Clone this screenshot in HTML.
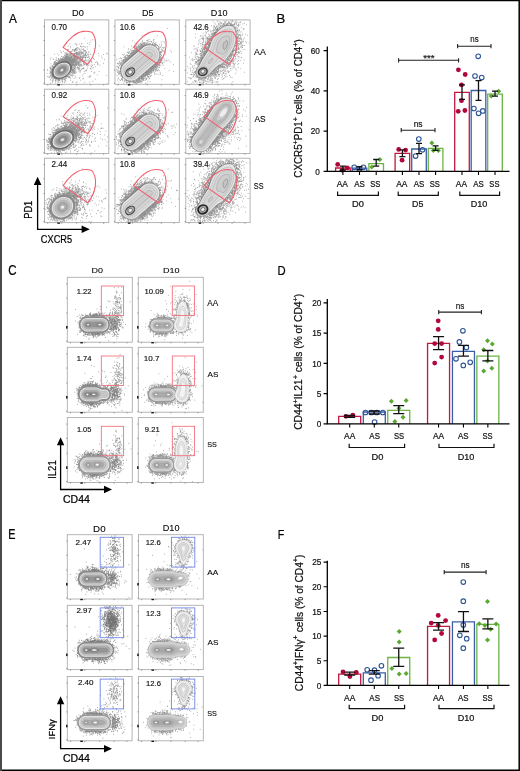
<!DOCTYPE html><html><head><meta charset="utf-8"><style>html,body{margin:0;padding:0;background:#fff;overflow:hidden}svg{display:block;will-change:transform}text{font-family:"Liberation Sans",sans-serif}</style></head><body><svg width="520" height="771" viewBox="0 0 520 771" font-family="Liberation Sans, sans-serif"><rect x="0" y="0" width="520" height="771" fill="#fff"/><text transform="translate(8.90 22.90) scale(0.8910 1)" font-size="13.33" fill="#000" stroke="#000" stroke-width="0.22">A</text><text transform="translate(276.45 23.20) scale(1.0144 1)" font-size="12.90" fill="#000" stroke="#000" stroke-width="0.22">B</text><text transform="translate(8.33 275.16) scale(0.8329 1)" font-size="13.80" fill="#000" stroke="#000" stroke-width="0.22">C</text><text transform="translate(277.60 275.20) scale(0.8931 1)" font-size="12.61" fill="#000" stroke="#000" stroke-width="0.22">D</text><text transform="translate(8.33 539.00) scale(0.7545 1)" font-size="14.35" fill="#000" stroke="#000" stroke-width="0.22">E</text><text transform="translate(277.65 538.60) scale(0.8136 1)" font-size="13.04" fill="#000" stroke="#000" stroke-width="0.22">F</text><g><path transform="translate(44.50 19.90) scale(.1)" d="M395 182h8m74 16h8m-268 34h8m85 5h8m106-2h8m19-9h8m2-17h8m-238 54h8m10-22h8m0 23h8m-7 15h8m37-39h8m6 11h8m-5-2h8m-7 27h8m-5 3h8m10-38h8m6 22h8m-7 0h8m1-23h8m-7 29h8m-5-29h8m-5 29h8m7-3h8m3 3h8m1 4h8m10-4h8m14-21h8m92 12h8m-404 48h8m27 6h8m34-19h8m-7 22h8m-2-21h8m15 19h8m-7 0h8m3-1h8m-3-14h8m-5 2h8m-7-4h8m3-1h8m-7 18h8m-7-9h8m-5 11h8m-7-12h8m-6-7h8m-8 2h8m-4-6h8m-5 15h8m-8-17h8m-7 1h8m-7 0h8m-8-5h8m-7 10h8m-4 12h8m-4-24h8m-6 21h8m-7-13h8m-7-5h8m-3 10h8m2 20h8m-8-37h8m1 12h8m-6 17h8m-6-20h8m0 13h8m-2 12h8m-7-24h8m6 4h8m-3 11h8m-5-15h8m-5 1h8m-5 20h8m-4-7h8m-6 3h8m-3 6h8m-8-7h8m-7-3h8m11-14h8m9 27h8m44-30h8m-402 55h8m22-3h8m4 13h8m14-31h8m-6 7h8m25 27h8m-5-2h8m-7-24h8m-6 7h8m-4 6h8m-6-14h8m-7 26h8m-3-13h8m-7 13h8m-8-8h8m-6-15h8m-7 23h8m-6-8h8m-7-6h8m-7 11h8m-6-7h8m-6 3h8m-5-6h8m-7 13h8m-7-20h8m-2 10h8m-3-7h8m-6 14h8m-8 2h8m-7 4h8m-3-29h8m-8 11h8m-6-12h8m-7 9h8m-5 3h8m-7 12h8m-7 7h8m-8-14h8m-7-3h8m-7 11h8m-6-32h8m-5 17h8m-6-4h8m-7 12h8m-7 1h8m-6-11h8m-2 14h8m-3-11h8m-7 20h8m-7-4h8m-6-12h8m-8 14h8m-7-15h8m-5 12h8m-8 1h8m-7-3h8m-6 1h8m-5-6h8m-7-8h8m-8-4h8m-7 12h8m-8-9h8m-5-2h8m-6 19h8m-5-20h8m-7 22h8m-8-27h8m-7 28h8m-7-27h8m-8 28h8m-4-14h8m-7-13h8m-8-5h8m-6 12h8m-7 9h8m-7-25h8m-8 25h8m-7-11h8m-8 6h8m-7-12h8m-7-3h8m-5 13h8m-6 5h8m-8-19h8m-5 7h8m-8 11h8m-8-17h8m-7 18h8m-7 2h8m-8 6h8m-6-16h8m-6-5h8m-6 10h8m-3-6h8m-7 11h8m-8-24h8m-8 32h8m-7-14h8m-7-12h8m-5-7h8m-8 3h8m-7 13h8m-4 5h8m-6-19h8m-6 32h8m-5-20h8m-8-7h8m-7-10h8m-8 5h8m-5 19h8m-4-12h8m-7-9h8m-5 35h8m-8-21h8m-7-4h8m-7-5h8m-5 4h8m-3 16h8m-7-17h8m-8-10h8m-6 34h8m-6-18h8m-2 17h8m-4-2h8m-5 7h8m-8 0h8m-7-16h8m-7 10h8m-7-21h8m-8 0h8m-5 13h8m-7 4h8m-6-10h8m-5-18h8m-7 4h8m-5 29h8m-8-29h8m-1 16h8m-2 12h8m-5-8h8m-7 4h8m-7-22h8m14 17h8m-6 4h8m31-20h8m29 7h8m42 11h8m22-13h8m2 8h8m-577 52h8m-3-15h8m13 14h8m0 2h8m12 5h8m-6-24h8m-2 15h8m10-3h8m-7 7h8m-8-8h8m-7 11h8m12-16h8m-6 7h8m-8 2h8m-8 2h8m-7 3h8m-5 2h8m-4-5h8m-6-24h8m-8-3h8m-7 34h8m-6-4h8m-8-8h8m-7-3h8m-7 15h8m-7-9h8m-6 0h8m-8 4h8m-6-5h8m-8 9h8m-6-17h8m-6 9h8m-7 7h8m-7 2h8m-7-30h8m-8 9h8m-6 14h8m-5-22h8m-7 4h8m-7 24h8m-7-5h8m-8-15h8m-6 18h8m-8-6h8m-8-13h8m-6 13h8m-7 9h8m-7-12h8m-7 10h8m-8-5h8m-7 4h8m-8-31h8m-8 20h8m-6-12h8m-7 10h8m-8-12h8m-8-1h8m-7-5h8m-8 26h8m-7-20h8m-8 14h8m-8 7h8m-7 4h8m-8-7h8m-8 1h8m-7-12h8m-8 6h8m-7 9h8m-8 5h8m-8-25h8m-8 18h8m-7 1h8m-7 2h8m-7-3h8m-7 3h8m-8-29h8m-8 18h8m-6-6h8m-8 18h8m-8-7h8m-8-10h8m-7-3h8m-7-5h8m-8 5h8m-8-9h8m-8 25h8m-8-22h8m-7 30h8m-8-37h8m-6 14h8m-8-16h8m-5 12h8m-8-2h8m-8 7h8m-8-6h8m-7 28h8m-7-25h8m-8-2h8m-7 21h8m-8-20h8m-8 18h8m-7-5h8m-8-20h8m-7-2h8m-8 28h8m-8-12h8m-8 5h8m-7-9h8m-8 2h8m-8 12h8m-8 8h8m-6 0h8m-8-13h8m-7 5h8m-8 5h8m-7 3h8m-8-9h8m-8 7h8m-7-36h8m-8 39h8m-6-8h8m-8-24h8m-7 22h8m-7 8h8m-8-21h8m-8 8h8m-7 6h8m-8 7h8m-7 2h8m-7-13h8m-8-2h8m-8-13h8m-7 2h8m-8 4h8m-7 14h8m-8-11h8m-7 0h8m-8-3h8m-7 13h8m-7-2h8m-6-7h8m-8 3h8m-8-15h8m-8 11h8m-8 18h8m-7-8h8m-8 5h8m-7-7h8m-7-3h8m-8-3h8m-8-2h8m-7 2h8m-6 15h8m-8-5h8m-7-26h8m-8 13h8m-7 16h8m-8-13h8m-7 0h8m-7-21h8m-7 38h8m-7-16h8m-8-21h8m-7 11h8m-8 12h8m-7 0h8m-8 4h8m-8-23h8m-6 10h8m-7-9h8m-8 24h8m-7-11h8m-7 5h8m-6-19h8m-7 29h8m-7-16h8m-7 10h8m-8 4h8m-8-6h8m-7 7h8m-8-1h8m-8-2h8m-7-3h8m-8-28h8m-8 1h8m-4 34h8m-7-23h8m-5 25h8m-8-10h8m-8-6h8m-7 14h8m-8-31h8m-7 25h8m-6-5h8m-8-8h8m-7-14h8m-7 6h8m-7 28h8m-7-26h8m-8 27h8m-6 1h8m-8-20h8m-8-18h8m-7 8h8m-7 9h8m-7 10h8m-8-14h8m-6-6h8m-8 30h8m-8-4h8m-8-24h8m-7 28h8m-7-12h8m-7 5h8m-7-3h8m-8-19h8m-7 7h8m-8 23h8m-6-14h8m-8-13h8m-8 25h8m-7-32h8m-7-2h8m-7 4h8m-7 25h8m-8-21h8m-7 7h8m-7-13h8m-8 17h8m-7-16h8m-7 32h8m-5-23h8m-7 8h8m-7 16h8m-8-12h8m-7 3h8m-8 9h8m-7-37h8m-5 21h8m-8 3h8m-5-9h8m-8 9h8m-8-21h8m-7 0h8m-7 21h8m-6-1h8m-7-23h8m-6 21h8m-8-9h8m-6 21h8m-6-25h8m-8 5h8m-4-1h8m-7 1h8m-5 14h8m-5-21h8m-7 15h8m-7 17h8m-7-21h8m-7 18h8m-7-20h8m-7 9h8m-7-22h8m-8 10h8m-7 17h8m-7-24h8m-5-1h8m-7 30h8m-7 2h8m-5-20h8m-7 5h8m-7 1h8m-6-19h8m-7 6h8m-6 28h8m-8-1h8m-7 1h8m-7-18h8m-8-2h8m-6 14h8m-7-1h8m-8-8h8m-5-18h8m-8-1h8m-7 11h8m-5-4h8m-5 5h8m-5-12h8m-1 12h8m-4 0h8m-7-16h8m-7 17h8m-7 5h8m-6 12h8m-8-20h8m2-12h8m-5 13h8m-1 0h8m-3 24h8m-6-28h8m-4 2h8m-5-5h8m-1 16h8m-6 5h8m26-8h8m-5 7h8m0 9h8m37-37h8m21 2h8m-5 19h8m15 16h8m-511 41h8m-7-15h8m-6 9h8m-7-11h8m-7 6h8m-7-10h8m-6 1h8m-3-2h8m-7 21h8m-6-2h8m-6-9h8m-8 3h8m-7-1h8m-6 9h8m-6-10h8m-7-22h8m-6 25h8m-7 3h8m-8 4h8m-6 2h8m-8-28h8m-6 18h8m-8 1h8m-7 0h8m-4 4h8m-7 3h8m-8-31h8m-7 29h8m-7-13h8m-6-2h8m-7 11h8m-8-5h8m-5-5h8m-8 5h8m-7 1h8m-6-13h8m-8 0h8m-7-10h8m-6 5h8m-8 10h8m-8-11h8m-7 11h8m-8-19h8m-6 13h8m-8-8h8m-8 20h8m-4-9h8m-7-10h8m-7 12h8m-7-15h8m-8 8h8m-7 1h8m-7 3h8m-6-5h8m-8 2h8m-8-4h8m-8 14h8m-6-19h8m-7 5h8m-7-2h8m-6-4h8m-8 15h8m-6-6h8m-8-9h8m-5 14h8m-7-13h8m-7 13h8m-7-15h8m-7 7h8m-8 8h8m-7-3h8m-7-5h8m-8-2h8m-5-5h8m-7 6h8m-7 0h8m-7 2h8m-7 3h8m-6-2h8m-7-10h8m-4 3h8m-7 1h8m-7 7h8m-8-9h8m-8 5h8m-7 0h8m-7 0h8m-8-7h8m-6 12h8m-7-6h8m-7 1h8m-6-3h8m-7-1h8m-8 2h8m-6 5h8m-6-7h8m-7 7h8m-7-10h8m-7 4h8m-8 4h8m-6 3h8m-7-10h8m-6 0h8m-6 3h8m-7 2h8m-8 1h8m-7-3h8m-7 8h8m-8-3h8m-7-3h8m-6 6h8m-5-5h8m-7 5h8m-7-5h8m-7 7h8m-7-14h8m-7 1h8m-7 1h8m-7 11h8m-7 1h8m-7 1h8m-8-14h8m-6-1h8m-7 11h8m-7-9h8m-7 7h8m-7-3h8m-7 7h8m-7-12h8m-7 12h8m-7 5h8m-7 1h8m-8-8h8m-6-10h8m-7 12h8m-8-2h8m-8 3h8m-8-10h8m-7 10h8m-7-9h8m-8-1h8m-8 8h8m-7 0h8m-8-12h8m-8 4h8m-7 10h8m-8 8h8m-8-6h8m-7-1h8m-8-15h8m-7 0h8m-8 21h8m-7 1h8m-7-17h8m-8 9h8m-7 1h8m-7 4h8m-8-14h8m-8 15h8m-7 0h8m-8-17h8m-8 18h8m-7-1h8m-8 1h8m-8-12h8m-7 2h8m-8 15h8m-8-4h8m-8-18h8m-7 16h8m-8-1h8m-8 3h8m-8-18h8m-7 12h8m-8 1h8m-8-3h8m-7-10h8m-8 23h8m-8-7h8m-7 3h8m-7 2h8m-8-11h8m-8 10h8m-8 7h8m-8-29h8m-7 23h8m-8-7h8m-7 5h8m-8-17h8m-6 31h8m-8-9h8m-8-27h8m-8 21h8m-8-3h8m-8-5h8m-7-6h8m-7 5h8m-8 4h8m-8 12h8m-7-13h8m-8 21h8m-8-24h8m-7-10h8m-8 13h8m-8 10h8m-8-25h8m-8 36h8m-7 0h8m-8-30h8m-8 32h8m-8-13h8m-8 4h8m-7-4h8m-8-7h8m-8 10h8m-6-20h8m-8-7h8m-8 31h8m-7-29h8m-8 26h8m-8-22h8m-6-1h8m-8 5h8m-7 8h8m-8-4h8m-8-13h8m-8 21h8m-8-10h8m-7-7h8m-8 15h8m-8 10h8m-6-13h8m-7 2h8m-8 7h8m-8-7h8m-8 7h8m-7 1h8m-7-22h8m-7 32h8m-8-35h8m-7 24h8m-8-17h8m-8 21h8m-8-17h8m-6 18h8m-8-30h8m-8-2h8m-8 4h8m-7 2h8m-7 8h8m-8-14h8m-8 19h8m-8-19h8m-7 20h8m-8 9h8m-7-14h8m-8-9h8m-8 13h8m-7-3h8m-8 13h8m-8-11h8m-7-16h8m-7 6h8m-8 6h8m-7-8h8m-8 23h8m-8-18h8m-6-8h8m-7 15h8m-7-8h8m-7-5h8m-8-2h8m-7 33h8m-8-21h8m-7 7h8m-7 8h8m-7-15h8m-8 14h8m-7-23h8m-8-6h8m-7 5h8m-7 28h8m-7-3h8m-8 0h8m-7-15h8m-7 13h8m-6 4h8m-6-33h8m-8 21h8m-7-5h8m-7 14h8m-6-4h8m-8-14h8m-7 22h8m-8-25h8m-7 25h8m-7-30h8m-7-2h8m-6 31h8m-6-15h8m-8-15h8m-5 26h8m-8-10h8m-7 10h8m-5-10h8m-8-8h8m-7 11h8m-7 9h8m-8-3h8m-8 9h8m-7-9h8m-8 2h8m-2-13h8m-6 3h8m-6-14h8m-7 21h8m-7-16h8m-6 12h8m-5-22h8m-8 16h8m-5-7h8m-8-1h8m-3-4h8m-8 0h8m-6 0h8m-7 17h8m-4-22h8m-3 17h8m-6-4h8m-6 3h8m-5-4h8m-8 8h8m-6-8h8m-7 18h8m-6-27h8m-6 31h8m-7-3h8m-3-18h8m-6-5h8m-5 9h8m-2-10h8m-4-5h8m-1 9h8m-2 20h8m-4 4h8m-3-18h8m-8-12h8m-1 19h8m1-17h8m-4-5h8m4 16h8m-3-8h8m-7 14h8m29 1h8m1-6h8m2 5h8m-8 11h8m50-1h8m-543 44h8m2-5h8m-8-1h8m-5-32h8m-1 22h8m0 14h8m-7-17h8m-8-1h8m-7 7h8m-5 3h8m-8 5h8m-7 6h8m-5-30h8m-7 23h8m-6-32h8m-7 33h8m-7-2h8m-8-2h8m-6-22h8m-8-6h8m-4 26h8m-7-27h8m-8 9h8m-7 15h8m-7-14h8m-8-1h8m-5-7h8m-4 5h8m-7-7h8m-8 2h8m-8-1h8m-5 11h8m-7-12h8m-4 0h8m-4 3h8m140 0h8m-6-3h8m-8 4h8m-4 6h8m-8-6h8m-8 2h8m-7-4h8m-8 3h8m-8 4h8m-6 11h8m-8-13h8m-7 28h8m-8 4h8m-7-20h8m-8-1h8m-7-6h8m-8-7h8m-7 3h8m-7 11h8m-7-12h8m-7 4h8m-8-3h8m-6-2h8m-8 3h8m-7 6h8m-8 6h8m-6 16h8m-7-4h8m-7-24h8m-8-2h8m-7 1h8m-8 4h8m-6 9h8m-7-13h8m-6 12h8m-8 0h8m-5-2h8m-5 17h8m-7-13h8m-7 3h8m-8-17h8m-5-2h8m-8 12h8m-6-13h8m-7 4h8m-8 30h8m-7-34h8m-7 8h8m-8-13h8m-7 11h8m-6-4h8m-5 8h8m-8-7h8m-5 12h8m-8-19h8m-7 36h8m-5-4h8m-4-29h8m-7-4h8m-5 6h8m-6 8h8m-8-2h8m-6-9h8m-6 35h8m-7-4h8m-7-25h8m-3-8h8m-7 18h8m-8-19h8m-7 22h8m-7-6h8m-7 10h8m-8-16h8m-1 3h8m-8-10h8m-5 3h8m-7-4h8m-3 15h8m-7-8h8m-6 16h8m4-12h8m0-2h8m-8-11h8m-3 9h8m-6-9h8m4 7h8m-2 1h8m-5-6h8m-7 8h8m-7 5h8m2 5h8m3-8h8m11 7h8m-1 10h8m-4-25h8m-3 12h8m-4 19h8m9-27h8m2 20h8m11-20h8m-2-5h8m10 10h8m-530 55h8m-8-12h8m15 15h8m-5 8h8m-6-34h8m-8 6h8m-6-7h8m-7 10h8m-6 13h8m-8 9h8m-7-26h8m-7 4h8m-5 18h8m-4-6h8m-8-15h8m-8 16h8m-7 1h8m-5-4h8m-7-18h8m-7 10h8m-8 1h8m-5-2h8m-8 5h8m-8-9h8m-8-6h8m-6-4h8m-7 4h8m-8 5h8m181 17h8m-7 3h8m-8 5h8m-7-6h8m-8-5h8m-6-4h8m-7-6h8m-8 2h8m-8 16h8m-7-11h8m-5-7h8m-8 13h8m-8-22h8m-3 13h8m-8 9h8m-8-3h8m-6-3h8m-5-17h8m-7 13h8m-8 19h8m-7-35h8m-8 10h8m-5 17h8m-7-21h8m-8 0h8m-8-3h8m-6 19h8m-4-2h8m-6-10h8m-7 23h8m-3-21h8m9-12h8m-4 10h8m-2-1h8m-7-8h8m-8-2h8m-6 34h8m-7-23h8m-7-3h8m-4 12h8m-5 3h8m-1 10h8m-5-9h8m-4-14h8m-4 3h8m0-7h8m-1 3h8m-6-8h8m-5 1h8m-3 8h8m-7 27h8m3-7h8m-2-4h8m-1 1h8m-6-10h8m0-16h8m20 6h8m-7-3h8m-2 8h8m-5 24h8m9-36h8m52 37h8m-528 17h8m21 5h8m-6-12h8m-8 12h8m-5 15h8m-7-26h8m-8 0h8m-5-6h8m-8 31h8m-6-27h8m-6 30h8m-7-33h8m-5 16h8m-7 8h8m-8-12h8m-7-3h8m-5 18h8m-7 0h8m167-1h8m-8 0h8m-6-8h8m-4 12h8m-8-16h8m0-9h8m-8-3h8m-7 28h8m-8 3h8m-3-30h8m-5 7h8m-7 15h8m-5-15h8m-5-13h8m-8 19h8m-7 15h8m-7 1h8m-7-34h8m-7 2h8m-4-2h8m-7 9h8m-6-2h8m-4 9h8m-8-16h8m-7 0h8m-8 8h8m-4-9h8m-8 5h8m-5 11h8m-7-6h8m6-7h8m27 1h8m22 19h8m10-8h8m44 23h8m29-26h8m-3-10h8m-3 8h8m17 20h8m86 5h8m-598 9h8m-4 5h8m4 7h8m-7-5h8m0-3h8m-4 22h8m-1-22h8m-4 8h8m-5-16h8m-8 28h8m-5-18h8m-7 6h8m-6-10h8m-1 20h8m-5 7h8m-4-15h8m-7 0h8m-7 7h8m-1-1h8m-6 4h8m-5-2h8m-5 2h8m1 3h8m-5 2h8m3 6h8m-8-3h8m-6 3h8m-5-3h8m-2-1h8m0 2h8m10-2h8m-5 4h8m-5-1h8m-5-3h8m-7 2h8m0-9h8m-1 7h8m-8-1h8m-6-6h8m-4 8h8m-4-5h8m-5-8h8m-7-3h8m0-5h8m-6 10h8m-2-17h8m-5-2h8m-7 3h8m0-8h8m-7 4h8m-7 7h8m-6-4h8m-7 4h8m-2 1h8m-7 0h8m-7-5h8m-2 9h8m-3 11h8m7-18h8m11 14h8m1-23h8m0 14h8m28 10h8m-3-10h8m19-13h8m-7 28h8m-2-3h8m39-16h8m8-5h8m-5 9h8m1-13h8m36 31h8m-459 46h8m-5-5h8m-5-34h8m5 7h8m-7 20h8m-5-13h8m-6-14h8m3 8h8m9-4h8m-7-2h8m-8 28h8m-6-29h8m-8 15h8m2-13h8m1 27h8m-5-17h8m-4 9h8m-6-21h8m-8 5h8m-4-2h8m-5-4h8m-7 3h8m-5 4h8m-4 15h8m10-19h8m-4 15h8m-6 2h8m-7-4h8m-8-15h8m8 21h8m-4 3h8m-5-18h8m-3-3h8m-2 10h8m40-10h8m8 22h8m-3-10h8m24 8h8m2-1h8m26-20h8m29 21h8m48 0h8m22-10h8m135 22h8" stroke="#333" stroke-width="8" opacity="0.55"/><path transform="translate(44.50 19.90) scale(.1)" d="M158 593l-23 0l-20-4l-17-8l-15-13l-9-18l-3-18l3-22l7-20l12-20l17-20l20-16l22-12l23-8l23-3l22 1l20 6l12 7l10 10l7 10l5 13l2 12l-1 15l-3 15l-6 15l-19 27l-25 24l-32 18z" fill="#707070" fill-rule="evenodd"/><path transform="translate(44.50 19.90) scale(.1)" d="M162 575l-17 1l-17-3l-16-7l-12-11l-6-13l-3-14l1-18l6-18l11-17l13-15l18-14l18-9l17-6l20-3l17 1l16 5l17 13l9 18l2 23l-6 22l-17 25l-21 19l-24 14z" fill="#eeeeee" fill-rule="evenodd"/><path transform="translate(44.50 19.90) scale(.1)" d="M162 568l-14 1l-16-3l-13-6l-11-10l-6-12l-3-16l2-14l5-16l10-14l12-14l12-10l18-10l17-6l17-3l16 1l14 5l16 12l8 17l1 20l-6 20l-12 20l-19 18l-22 13z" fill="#b6b6b6" fill-rule="evenodd"/><path transform="translate(44.50 19.90) scale(.1)" d="M165 553l-13 0l-12-2l-10-6l-8-7l-4-10l-2-10l2-13l4-10l16-21l22-16l12-5l16-2l12 1l10 3l11 7l8 13l2 15l-5 18l-9 14l-16 16l-19 10z" fill="#9e9e9e" fill-rule="evenodd"/><path transform="translate(44.50 19.90) scale(.1)" d="M165 538l-17-3l-10-9l-4-14l4-17l13-15l17-10l17-4l15 3l8 6l5 10l0 10l-4 13l-9 12l-10 9l-12 6z" fill="#888888" fill-rule="evenodd"/><path transform="translate(44.50 19.90) scale(.1)" d="M170 523l-10-1l-7-4l-3-8l2-10l6-8l10-8l10-3l10 1l6 6l2 4l-1 13l-10 11z" fill="#9e9e9e" fill-rule="evenodd"/><path transform="translate(44.50 19.90) scale(.1)" d="M172 513l-4 0l-6-3l-1-5l1-5l4-5l6-3l10 0l4 6l-1 5l-5 7z" fill="#eeeeee" fill-rule="evenodd"/></g><rect x="44.50" y="19.90" width="64.30" height="64.40" fill="none" stroke="#adadad" stroke-width="0.9"/><path d="M44.50 26.34h-1.2M44.50 40.51h-1.2M44.50 55.32h-1.2M44.50 70.13h-1.2M44.50 83.33h-1.2M47.72 84.30v1.2M61.86 84.30v1.2M76.65 84.30v1.2M90.80 84.30v1.2M103.66 84.30v1.2" stroke="#666" stroke-width="0.6"/><rect x="57.36" y="84.20" width="2.6" height="1.3" fill="#111"/><path transform="translate(44.50 19.90)" d="M18.6 27.5C23 20.5 31 12.5 38.6 11.5C42 11.1 45 11.5 47.4 12.3C53.5 20 52 34 43.2 44.6Z" fill="none" stroke="#f0606e" stroke-width="1.1"/><text transform="translate(51.48 29.61) scale(0.9186 1)" font-size="8.73" fill="#111" stroke="#111" stroke-width="0.15">0.70</text><g><path transform="translate(115.00 19.90) scale(.1)" d="M520 87h8m-261 71h8m144 0h8m-89 37h8m40 1h8m-223 13h8m16 22h8m17-8h8m8 11h8m6 4h8m-5-5h8m3-1h8m-3-23h8m-8 9h8m-7 19h8m-4-13h8m-4 15h8m-4-7h8m-6 5h8m-4-5h8m-7 2h8m-7-8h8m2 5h8m0-3h8m-8 9h8m-5-30h8m1 28h8m-8-27h8m-5 21h8m-6-16h8m-5-12h8m-3 29h8m-3 8h8m-7-22h8m2 20h8m-3-21h8m-2 5h8m-7-1h8m1 16h8m-6-1h8m-2-23h8m-5-10h8m-8 27h8m-2-7h8m-6 16h8m5-1h8m-5-8h8m44-8h8m12-4h8m6 9h8m-414 45h8m69-8h8m20-5h8m-6 22h8m-7-7h8m-2-4h8m-8 3h8m-1-4h8m-4-5h8m-7 14h8m-5-33h8m-6 5h8m-3 26h8m-6-2h8m-7-7h8m-3 0h8m-7 9h8m-8-18h8m-7 16h8m-6-21h8m-3 25h8m-6-13h8m-8 3h8m-6-17h8m-7 22h8m-7-11h8m-6 10h8m-8-2h8m-4 2h8m-8 9h8m-7-29h8m-6 20h8m-8-14h8m-7 15h8m-7-15h8m-8-6h8m-6 1h8m-7 28h8m-8-7h8m-8-20h8m-7 19h8m-6-12h8m-8 13h8m-7-28h8m-7 27h8m-8-23h8m-8 3h8m-8 6h8m-7 16h8m-5-21h8m-8 1h8m-6 22h8m-8-9h8m-7 13h8m-8-7h8m-7 2h8m-7-25h8m-8 29h8m-7-19h8m-8 10h8m-8 6h8m-7-3h8m-7-10h8m-8 8h8m-8-4h8m-8 0h8m-7-9h8m-6 0h8m-8 11h8m-8-19h8m-8 8h8m-8 5h8m-2-5h8m-7-4h8m-8 15h8m-7-10h8m-7-17h8m-7 20h8m-8-6h8m-8-15h8m-7 10h8m-8 14h8m-5-19h8m-6 16h8m-8-11h8m1 6h8m-7-8h8m-6-2h8m-6 0h8m-8 3h8m-5-9h8m-4 10h8m1-2h8m-1-1h8m-2-5h8m0 0h8m-4 1h8m4 7h8m1 1h8m-8-4h8m-2 1h8m1 0h8m-8 3h8m-6 4h8m-6-4h8m-6-9h8m-3 16h8m-5-8h8m-7-3h8m-7 6h8m-5 10h8m-6-17h8m-6 13h8m-6-13h8m2 10h8m-8 3h8m-6-5h8m3 10h8m-8 2h8m-7 7h8m-2-25h8m-4 30h8m-3-2h8m0-9h8m-6-11h8m-7-15h8m3 36h8m6 2h8m-6 0h8m-367 20h8m-5-9h8m1 28h8m3-25h8m-4 15h8m-4 8h8m-2-13h8m-6-21h8m-1 24h8m-8 4h8m-5 9h8m-7-13h8m-4 10h8m-6-11h8m-7 13h8m-5-18h8m-8 14h8m-6 0h8m-5-4h8m-8-13h8m-7 22h8m-8-10h8m-5-18h8m-6 19h8m-7 9h8m-8-10h8m-8 6h8m-6-10h8m-5-23h8m-7 24h8m-6-4h8m-8 3h8m-7 0h8m-7-3h8m-7-18h8m-8 34h8m-7-38h8m-8 32h8m-8-4h8m-7-19h8m-7-6h8m-8 35h8m-7-32h8m-8 28h8m-8-24h8m-7 24h8m-6-16h8m-7 6h8m-7 1h8m-8 9h8m-7-4h8m-8-1h8m-8-16h8m-7 9h8m-8-3h8m-7 15h8m-8-11h8m-7 7h8m-8 7h8m-8-1h8m-8-2h8m-8-24h8m-8 26h8m-8-10h8m-7-13h8m-8 25h8m-7-29h8m-7 4h8m-7 21h8m-7 0h8m-8-8h8m-6-7h8m-8 12h8m-7-12h8m-6 11h8m-8-6h8m-8 2h8m-7-6h8m-7 9h8m-8-12h8m-7 13h8m-7-26h8m-8 9h8m-6-1h8m-7-9h8m-3-2h8m-8 17h8m-7 3h8m-8-14h8m-7 13h8m-7-8h8m-8 5h8m-7-4h8m-8 2h8m-7 0h8m-7-3h8m-8 3h8m-7-12h8m-8-1h8m-7 6h8m-8-1h8m-3 1h8m-6-5h8m-7 1h8m-8-3h8m159 1h8m-7 10h8m-5-8h8m-4 14h8m-3-8h8m2 29h8m-3-4h8m-6-17h8m-3-6h8m-3 10h8m-5 8h8m-5-6h8m-4-24h8m-3 30h8m-5 2h8m-2 7h8m47-11h8m-481 38h8m-4 7h8m3-10h8m12 8h8m-2-28h8m-7 34h8m-8-5h8m-3-26h8m-7 26h8m-1-24h8m-6 31h8m-8-23h8m-6-13h8m-6 1h8m-3 31h8m-7 1h8m-6 0h8m-7-14h8m-8 10h8m-5-16h8m-6-3h8m-7 11h8m-6-6h8m-7-2h8m-5 7h8m-6 9h8m-8-12h8m-7-15h8m-6 10h8m-8 20h8m-8 1h8m-7-16h8m-8-11h8m-8 21h8m-7 2h8m-7-10h8m-6 15h8m-7-6h8m-8-26h8m-6 34h8m-8-8h8m-7 2h8m-8-3h8m-7-26h8m-7 12h8m-8 14h8m-6-10h8m-8-18h8m-7 17h8m-8 11h8m-8-22h8m-8 16h8m-7-12h8m-8 16h8m-8-6h8m-7-9h8m-8-12h8m-8 34h8m-7-17h8m-8 9h8m-8-16h8m-8 13h8m-7 5h8m-8-22h8m-7 29h8m-8 0h8m-8-27h8m-7-6h8m-7 15h8m-8-17h8m-7 32h8m-8-9h8m-8 11h8m-7-18h8m-7-3h8m-8 2h8m-7 19h8m-8-10h8m-7-22h8m-8 14h8m-7 6h8m-7 5h8m-7-3h8m-7-3h8m-8 6h8m-7-27h8m-8 8h8m-6 7h8m-6-3h8m-8 0h8m-7-1h8m-7 2h8m-7-3h8m-8 2h8m-7-2h8m-7 5h8m-8 0h8m-7 1h8m-8 0h8m-7-3h8m-8-10h8m-7 13h8m-7-17h8m-8 8h8m-8-7h8m-8 9h8m-8 1h8m-8-4h8m-7 6h8m-8-4h8m-7-3h8m-8-6h8m-8 12h8m-7-2h8m-5-9h8m-7 5h8m-7 1h8m-7 2h8m-7-2h8m-7-5h8m-6 1h8m-4-3h8m219 7h8m-6 14h8m-7-15h8m-8-6h8m-7 22h8m-8 5h8m-5-21h8m-6 25h8m-6-31h8m-5 35h8m-8-30h8m29-3h8m-6 19h8m51-20h8m-556 78h8m15-11h8m7-7h8m-2 7h8m-3 0h8m7-11h8m-7 22h8m1-6h8m-6-19h8m-6 20h8m-5-24h8m-7 25h8m-7-31h8m-8 15h8m-7 10h8m-7-4h8m-7-24h8m-7 8h8m-8 22h8m-7 0h8m-8-12h8m-6 15h8m-8 2h8m-6-8h8m-7 4h8m-4-7h8m-6-8h8m-6 16h8m-7 1h8m-7 4h8m-8-23h8m-8-1h8m-7 12h8m-7-25h8m-7 38h8m-8-8h8m-6 5h8m-8 0h8m-7-16h8m-7 15h8m-8-6h8m-7-9h8m-7 15h8m-7-32h8m-7 30h8m-8-2h8m-8-6h8m-8 3h8m-6-28h8m-8 14h8m-8 4h8m-7 19h8m-8-34h8m-7 20h8m-8 2h8m-8 14h8m-8-39h8m-7 29h8m-8-4h8m-6-22h8m-6 25h8m-7 3h8m-8 1h8m-6-12h8m-7-4h8m-7 8h8m-8 8h8m-8-2h8m-8-3h8m-7-12h8m-7-13h8m-7-2h8m-8 8h8m-8 4h8m-8-5h8m-8 10h8m-8 3h8m-7-6h8m-7 10h8m-8-4h8m-7 5h8m-8-25h8m-8 11h8m-8 7h8m-8 4h8m-8-20h8m-7 6h8m-8 10h8m-8-11h8m-8 12h8m-7-3h8m-7-5h8m-8-4h8m-7 8h8m-8-6h8m-7-5h8m-8 7h8m-8-3h8m-7-8h8m-5 13h8m-7 4h8m-8-10h8m-7 5h8m-8 3h8m-8-15h8m-8 10h8m-5-5h8m-7 1h8m-8-3h8m-8 3h8m-8 4h8m-7-7h8m-7 0h8m-8-2h8m-7 1h8m-7-1h8m-6 2h8m-8 3h8m-8 0h8m-2-2h8m259 31h8m-7-4h8m-7 5h8m-6-18h8m-7 15h8m-7-29h8m-8 14h8m-7 15h8m-6-5h8m-6-20h8m-4 25h8m-8-23h8m-7 12h8m-8 5h8m-3-2h8m-5-4h8m0-8h8m-5 6h8m8 13h8m-482 45h8m-5-5h8m2 6h8m2-24h8m-7 12h8m-7 12h8m-1-14h8m-2 11h8m-6-28h8m-8 26h8m-3-2h8m-7-3h8m-7-14h8m-1 5h8m-8 12h8m-8-21h8m-7-6h8m-6 34h8m-6-5h8m-7-18h8m-8 9h8m-7-20h8m-5-4h8m-8 16h8m-8 16h8m-7-21h8m-7 10h8m-8 12h8m-7 5h8m-7-35h8m-8 24h8m-8 7h8m-7-30h8m-7 9h8m-5 0h8m-4 12h8m-8-3h8m-7 3h8m-7 3h8m-8 2h8m-7-30h8m-8 14h8m-7 2h8m-8-15h8m-8 14h8m-8-6h8m-6 6h8m-8 4h8m-7-14h8m-7 20h8m-8-14h8m-6 10h8m-7 0h8m-8-5h8m-8-7h8m-7 2h8m-7 3h8m-8-4h8m-8 6h8m-6-5h8m-8-1h8m-8 5h8m-7-3h8m-8-1h8m-5-7h8m-8 2h8m-5-3h8m-4 3h8m0-4h8m266 36h8m-4-5h8m-7 3h8m-4-3h8m-7 5h8m-6-6h8m-8-3h8m-5 4h8m-7 2h8m-6-3h8m-6-8h8m-7 2h8m-8-6h8m-7 9h8m-7-3h8m-7-7h8m-2-2h8m-8-11h8m-7 7h8m-7-7h8m-7 11h8m-8 6h8m-5 7h8m-6-1h8m-8-27h8m-5 4h8m-7 19h8m-6-16h8m-7 19h8m-6-1h8m-7-25h8m-8 13h8m-5 8h8m-4 3h8m-6-23h8m-8 6h8m-2 30h8m-2-7h8m-6-26h8m-7 21h8m3-5h8m3-13h8m7 2h8m-6-6h8m11-2h8m5 16h8m-540 49h8m-5-4h8m-2 4h8m-1 4h8m-8 7h8m-7-2h8m-8-35h8m2 16h8m-6 0h8m-5-17h8m-5 1h8m-6 3h8m-7 29h8m-5-30h8m-7 18h8m-6 10h8m-8-15h8m-5 3h8m-8-9h8m-7 9h8m-6 17h8m-6-11h8m-7-14h8m-8-3h8m-5 5h8m-6-14h8m-7 7h8m-6-2h8m-4 2h8m-8 1h8m270 30h8m-7 1h8m-7-2h8m-2-3h8m-8 5h8m-7-7h8m-8 2h8m-6 3h8m-4-10h8m-8-4h8m-7 8h8m-8 1h8m-6 5h8m-8-15h8m-8 5h8m-7 6h8m-7 2h8m-8-6h8m-8-1h8m-8-1h8m-6 6h8m-5-3h8m-7-7h8m-7 2h8m-8 1h8m-7-12h8m-7-1h8m-7 1h8m-8 2h8m-7 1h8m-7-1h8m-7 13h8m-7-7h8m-7-15h8m-7 24h8m-7-4h8m-7-20h8m-7 18h8m-8-1h8m-8 8h8m-8-9h8m-6-19h8m-8 30h8m-7-31h8m-8 23h8m-8-14h8m-8 12h8m-8 7h8m-6 3h8m-7 2h8m-8-2h8m-8-21h8m-7 18h8m-8-29h8m-8 28h8m-8-17h8m-7-6h8m-7-6h8m-8 22h8m-8-1h8m-8 3h8m-8 7h8m-7 1h8m-7-26h8m-8 0h8m-6-1h8m-7 14h8m-8-1h8m-7-6h8m-6-2h8m-6-2h8m-5 1h8m-8 15h8m-6-19h8m-6 3h8m-8 18h8m-7-17h8m-7 3h8m-8 19h8m-8-32h8m-2 11h8m-4 20h8m-7 8h8m-7-25h8m-4-11h8m-7 11h8m-8-2h8m-7 23h8m0-21h8m10-13h8m1 17h8m96-9h8m-579 43h8m-3 16h8m-6 6h8m-1-11h8m-4-13h8m-2 21h8m-7 7h8m-1-6h8m-5-29h8m-7 33h8m-5-29h8m-7 14h8m-6 17h8m-7-29h8m-8 2h8m-8 26h8m-7-36h8m-7 37h8m-5-29h8m246 28h8m-8-2h8m-7 1h8m-8 3h8m-6-1h8m-8-1h8m-7-2h8m-6 3h8m-8-4h8m-6 4h8m-6-4h8m-8-4h8m-6 9h8m-8-8h8m-5 1h8m-8 5h8m-8-4h8m-8-3h8m-7 7h8m-8-4h8m-8 6h8m-7-13h8m-8 2h8m-7 0h8m-8 8h8m-7-8h8m-7-7h8m-8 15h8m-8 2h8m-7-20h8m-8 0h8m-4 1h8m-8-2h8m-7 15h8m-4-4h8m-8 5h8m-7-22h8m-8 28h8m-8-10h8m-7-7h8m-8-12h8m-7 12h8m-6 4h8m-7-3h8m-8-16h8m-7 6h8m-8 14h8m-8-11h8m-7-8h8m-8-1h8m-8 0h8m-8-4h8m-7 28h8m-7-10h8m-8 10h8m-8 5h8m-8-34h8m-8-1h8m-7 32h8m-6-8h8m-7-9h8m-8-14h8m-7-2h8m-8 17h8m-6 12h8m-8-15h8m-8-1h8m-7 14h8m-8 2h8m-6 9h8m-8-30h8m-8 21h8m-7-7h8m-7-12h8m-8-9h8m-7 19h8m-6-16h8m-7 18h8m-7-16h8m-8-6h8m-6 19h8m-7-19h8m-8 6h8m-6 28h8m-8-21h8m-5 8h8m-8 6h8m-7 3h8m-8-16h8m-8-3h8m-7 2h8m-8-5h8m-8 12h8m-8-19h8m-7 28h8m-4-22h8m-7 6h8m-8-13h8m-4 23h8m-8-15h8m-7-7h8m-2 12h8m-5 18h8m-6-14h8m-7 10h8m-7-18h8m-4 1h8m-6-10h8m-6 28h8m-7-16h8m-8-2h8m-4-10h8m-6 29h8m-8-1h8m-1-9h8m-1 1h8m2 8h8m43-23h8m35 22h8m37 10h8m-575 41h8m1-33h8m-4 3h8m-7 17h8m-3-14h8m-5 1h8m-7 14h8m-7-14h8m-1-9h8m-8 10h8m-6 2h8m-3 8h8m-3 7h8m-4 4h8m195 4h8m0 1h8m-6-9h8m-6-1h8m-6-1h8m-7 9h8m-8-6h8m-8 7h8m-6-1h8m-7-14h8m-8-2h8m-8-1h8m-7 3h8m-7 12h8m-8-9h8m-8 3h8m-7 4h8m-8-9h8m-7 9h8m-6-14h8m-6 6h8m-5 12h8m-5-9h8m-8 8h8m-7-24h8m-8 8h8m-7 1h8m-8-4h8m-8-4h8m-7 22h8m-7-30h8m-7 34h8m-8-16h8m-8-6h8m-8 11h8m-8 9h8m-7-11h8m-8-18h8m-8 24h8m-8-4h8m-8-13h8m-7-2h8m-7-7h8m-8 0h8m-7 8h8m-8-1h8m-8-8h8m-7 13h8m-8-15h8m-8 35h8m-7-29h8m-8 25h8m-8-9h8m-7-8h8m-8-1h8m-8-9h8m-7 1h8m-7 2h8m-8 10h8m-8 8h8m-6-3h8m-8-4h8m-8-6h8m-8-6h8m-7-3h8m-7 2h8m-7 18h8m-8-3h8m-8-9h8m-7 12h8m-8 11h8m-8-33h8m-6-4h8m-8 31h8m-7-10h8m-8-18h8m-8 1h8m-7-2h8m-8 9h8m-8 10h8m-8-9h8m-8-1h8m-7 26h8m-7-14h8m-8-14h8m-8-1h8m-7 4h8m-7 2h8m-6-3h8m-3 14h8m-8-17h8m-7 3h8m-8-5h8m-8 0h8m-7 20h8m-6-7h8m-7-4h8m-7 12h8m-7-20h8m-8 21h8m-7-21h8m-5-1h8m-8-4h8m-8 24h8m-6-25h8m-7 13h8m0-3h8m-7 26h8m-7-22h8m-8-8h8m-8-6h8m-6 4h8m-3 2h8m-8 25h8m3-29h8m7 0h8m-4 18h8m-7-2h8m5 1h8m12 6h8m13-22h8m-8 17h8m-7 1h8m16 14h8m-454 26h8m-3 1h8m4 15h8m-4-37h8m5 34h8m-7-8h8m-6-24h8m-6 31h8m-7-30h8m-7 20h8m-8 14h8m-6-20h8m-8-13h8m-6 9h8m-6 18h8m10-4h8m118 10h8m2-9h8m-7 6h8m-6-3h8m-6-2h8m-8-3h8m-7-1h8m-8 3h8m-5 2h8m-8-6h8m-7 13h8m-8-11h8m-8-4h8m-8-3h8m-7 3h8m-8 0h8m-8 15h8m-7-11h8m-8 4h8m-8 3h8m-7-9h8m-4 6h8m-6-6h8m-8 2h8m-6-11h8m-8-3h8m-3 11h8m-7-18h8m-7 6h8m-6 15h8m-7-8h8m-8-12h8m-8 13h8m-8-16h8m-6 20h8m-7-3h8m-8 6h8m-8 6h8m-7-29h8m-8 6h8m-7 7h8m-8-9h8m-7-8h8m-8 13h8m-7-1h8m-8 20h8m-7-13h8m-8-13h8m-7 21h8m-8-14h8m-7 7h8m-7-18h8m-8 16h8m-7-12h8m-8 32h8m-7-13h8m-7-20h8m-7 0h8m-7 3h8m-8-5h8m-7 6h8m-7-3h8m-8 5h8m-7 17h8m-7 1h8m-7 5h8m-7-26h8m-7 15h8m-7-22h8m-8 24h8m-6 2h8m-8-20h8m-7 0h8m-7 20h8m-6-20h8m-3-3h8m-6 8h8m-8-12h8m-8 11h8m-3-9h8m-6 24h8m-2 9h8m-7-12h8m-7 11h8m-4-10h8m-3-22h8m-7 7h8m1 4h8m-5-9h8m-8 4h8m-7 1h8m-5 15h8m-6 5h8m-3-5h8m-5-21h8m-2 3h8m104 33h8m-451 2h8m4 19h8m8-14h8m14 1h8m4 24h8m-4-17h8m-3-2h8m-6-5h8m-6-2h8m1 14h8m-4-16h8m-8 23h8m-8-19h8m-8 28h8m-7-26h8m-4 16h8m-4-13h8m-6 14h8m6-4h8m-8-4h8m-8 11h8m-7-14h8m-8-4h8m-6 11h8m-4 8h8m-1-13h8m-7 1h8m-4 10h8m-1-10h8m0 3h8m-2-2h8m-5 4h8m-6 0h8m-7-3h8m-6 0h8m-6 9h8m-8-14h8m-4 12h8m-7-7h8m-6 11h8m-5-16h8m-7 4h8m-5 19h8m-6-14h8m-8 2h8m-5-12h8m-5-3h8m-7 19h8m-6-22h8m-6 10h8m-8 21h8m-7-22h8m-8-10h8m-7-5h8m-8 30h8m-5-25h8m-8 30h8m-3-14h8m-8-12h8m-8 1h8m-6-1h8m-8-9h8m-6 18h8m-8 2h8m-8-11h8m-6 13h8m-8-15h8m-5 10h8m-4 2h8m-7-18h8m-8 4h8m-7 18h8m-4-6h8m-7-16h8m-8 6h8m-5 22h8m-6-16h8m-7 4h8m-6-3h8m-8-3h8m-8-1h8m-5-9h8m-8 13h8m-3 7h8m-4-14h8m-7-7h8m-6 16h8m-7 5h8m-2-22h8m3-1h8m-8 6h8m-6-5h8m7 2h8m-5 32h8m5-5h8m2-19h8m13 7h8" stroke="#333" stroke-width="8" opacity="0.55"/><path transform="translate(115.00 19.90) scale(.1)" d="M165 613l-27-3l-28-10l-22-16l-17-22l-10-24l-4-30l5-28l13-28l17-19l186-160l14-11l26-11l30-4l27 5l27 13l16 12l12 15l10 18l6 20l2 20l-2 20l-6 20l-10 18l-18 19l-190 165l-27 15z" fill="#e4e4e4" fill-rule="evenodd" stroke="#505050" stroke-width="5.5"/><path transform="translate(115.00 19.90) scale(.1)" d="M170 590l-25 1l-23-6l-18-13l-15-17l-8-23l-2-24l5-23l12-23l12-12l184-160l13-9l23-9l22-2l22 5l20 11l11 9l10 13l7 14l4 16l1 14l-2 16l-5 14l-9 16l-11 12l-188 163l-18 11z" fill="#dcdcdc" fill-rule="evenodd" stroke="#8a8a8a" stroke-width="3.0"/><path transform="translate(115.00 19.90) scale(.1)" d="M162 575l-20 1l-17-5l-15-11l-9-12l-6-18l0-20l6-20l9-15l10-10l194-165l16-7l20-2l18 5l14 9l15 17l7 23l-3 23l-11 20l-155 135l-39 37l-16 10z" fill="#d4d4d4" fill-rule="evenodd" stroke="#8a8a8a" stroke-width="3.0"/><path transform="translate(115.00 19.90) scale(.1)" d="M158 563l-16 0l-12-3l-10-8l-8-10l-4-12l1-15l4-13l8-12l14-12l36-18l15-10l144-124l8-3l10-1l14 6l8 9l3 11l-1 10l-5 10l-142 124l-10 11l-19 32l-12 15l-14 9z" fill="#cdcdcd" fill-rule="evenodd" stroke="#7a7a7a" stroke-width="3.0"/><path transform="translate(115.00 19.90) scale(.1)" d="M150 553l-12-2l-12-9l-6-12l1-15l7-13l12-11l15-4l15 0l9 5l6 8l2 10l-1 12l-6 13l-8 8l-10 7z" fill="#c4c4c4" fill-rule="evenodd" stroke="#666" stroke-width="4.0"/><path transform="translate(115.00 19.90) scale(.1)" d="M150 543l-10-2l-7-6l-3-7l1-10l4-9l7-7l8-2l10 0l7 2l4 6l3 7l0 7l-3 8l-6 7l-7 4z" fill="#dedede" fill-rule="evenodd" stroke="#444" stroke-width="7.0"/><path transform="translate(115.00 19.90) scale(.1)" d="M152 533l-4 0l-6-2l-3-9l3-8l10-5l9 3l3 8l-4 9z" fill="#f4f4f4" fill-rule="evenodd"/><ellipse transform="translate(130.2 72.1) rotate(-40)" rx="5.0" ry="3.6" fill="none" stroke="#3a3a3a" stroke-width="1.00"/></g><rect x="115.00" y="19.90" width="64.30" height="64.40" fill="none" stroke="#adadad" stroke-width="0.9"/><path d="M115.00 26.34h-1.2M115.00 40.51h-1.2M115.00 55.32h-1.2M115.00 70.13h-1.2M115.00 83.33h-1.2M118.22 84.30v1.2M132.36 84.30v1.2M147.15 84.30v1.2M161.30 84.30v1.2M174.16 84.30v1.2" stroke="#666" stroke-width="0.6"/><rect x="127.86" y="84.20" width="2.6" height="1.3" fill="#111"/><path transform="translate(115.00 19.90)" d="M18.6 27.5C23 20.5 31 12.5 38.6 11.5C42 11.1 45 11.5 47.4 12.3C53.5 20 52 34 43.2 44.6Z" fill="none" stroke="#f0606e" stroke-width="1.1"/><text transform="translate(119.70 29.61) scale(0.9136 1)" font-size="8.73" fill="#111" stroke="#111" stroke-width="0.15">10.6</text><g><path transform="translate(185.80 19.90) scale(.1)" d="M267 12h8m8 18h8m18-18h8m0 7h8m-3 20h8m5-18h8m0 2h8m-1 6h8m-3 10h8m-7-6h8m6 6h8m-7-3h8m-1-24h8m-4 21h8m-8-13h8m-2 15h8m-5-12h8m-3 4h8m-7-13h8m1-9h8m-3 30h8m-7-1h8m2 3h8m-5-6h8m-7-11h8m-7-9h8m-6 17h8m-2 7h8m-6 4h8m-8-13h8m-7 8h8m0-25h8m-3 27h8m-4-6h8m-6-11h8m-4-13h8m-3 10h8m-6-7h8m5 29h8m-2-6h8m-5-11h8m-6 1h8m-1 17h8m-6-32h8m-6 32h8m-7-17h8m7 2h8m2 6h8m4-3h8m-7-8h8m34 14h8m-391 43h8m42-18h8m14 17h8m-4-20h8m-4 8h8m-7 5h8m-7 3h8m3 6h8m-7-35h8m-4 33h8m-2-8h8m-7 1h8m-7-10h8m2 14h8m-5-19h8m-3-13h8m-5 28h8m-5 10h8m-8 0h8m-7-27h8m-5-11h8m-3 33h8m-7-13h8m-5-20h8m-8 24h8m-7 6h8m0-6h8m-7-5h8m-5 19h8m-3-24h8m-8 3h8m-8 8h8m-1-18h8m-4 13h8m-7-13h8m-7 20h8m-7 3h8m-7-23h8m-7 14h8m-7-16h8m-6 7h8m-6 9h8m-3-15h8m-7 11h8m2 2h8m-6-10h8m-8 11h8m-7-20h8m-8 18h8m-4-11h8m-8-2h8m-6 7h8m-6-2h8m-8 3h8m-5 0h8m-3-9h8m-7-2h8m9 13h8m-5-15h8m-4 6h8m-8 3h8m-7-1h8m-6 3h8m-8-3h8m-1 3h8m-7 0h8m-6-3h8m-6 8h8m-6-9h8m-7 9h8m-7-3h8m-1-8h8m-6 13h8m-6 3h8m-6-14h8m-3-1h8m-6 15h8m-7 10h8m-6-30h8m-7 6h8m-5 27h8m-7 2h8m-1-6h8m0-22h8m-6 25h8m1-17h8m-7 2h8m-2-3h8m-8-10h8m-6 3h8m-8 20h8m5-17h8m5 26h8m8-37h8m28 10h8m-508 52h8m11-18h8m24 3h8m49 27h8m1-8h8m-6 6h8m8-9h8m-1 16h8m-5-6h8m8-7h8m-2 13h8m-5-29h8m-7 13h8m-7 6h8m-3-8h8m-8-2h8m0-2h8m-8 6h8m-5-17h8m-7 3h8m-6 24h8m-7-31h8m-3 13h8m-6 10h8m-7-8h8m-7 1h8m-5 1h8m-8-5h8m-7 11h8m-8-7h8m-8 2h8m-6-20h8m-8 32h8m-7-23h8m-5-3h8m-8 12h8m-7 13h8m-8 6h8m-7-32h8m-7 8h8m-8 16h8m-7-19h8m-8 10h8m-8 5h8m-6-2h8m-8 2h8m-7-3h8m-6 3h8m-6-1h8m-3-13h8m-7 7h8m-3-8h8m-7 2h8m2-6h8m137-6h8m-6 7h8m-5 9h8m-4 15h8m-3 7h8m-8 1h8m-6-37h8m-8 26h8m-6-17h8m-6 17h8m-7-17h8m-7 16h8m-1-5h8m-2 13h8m-5-10h8m-6-4h8m31-10h8m-3-5h8m-7 12h8m-490 42h8m66 19h8m-6-27h8m9 23h8m-3-35h8m-6 30h8m-2-19h8m-6-2h8m13 15h8m3 8h8m-7 2h8m6-10h8m-8-3h8m-6 10h8m-3-29h8m-7 17h8m-3 15h8m-8-5h8m-7 1h8m-7-16h8m-7 11h8m-3 12h8m-8-21h8m-7 16h8m-7-15h8m-5 13h8m-7-21h8m-6 26h8m-8-24h8m-8 10h8m-7 5h8m-8-15h8m-8 21h8m-7 5h8m-8-16h8m-7-17h8m-8 5h8m-7-1h8m-8 6h8m-8 0h8m-7 16h8m-8-11h8m-6-11h8m-8 15h8m-6-17h8m-6 8h8m-7-4h8m-8-5h8m-8 0h8m-7 5h8m-8 8h8m-7-12h8m-7-3h8m-7 5h8m-8 8h8m-8-8h8m-5-7h8m-6 11h8m-7-3h8m-7-3h8m-7-4h8m-7 1h8m-7 4h8m-5-4h8m-8-3h8m189 0h8m-4 25h8m-7 2h8m-3-13h8m-5 7h8m-7-15h8m-5 26h8m-7 6h8m-7 0h8m-3-8h8m-2-5h8m-5 2h8m-7 7h8m-7-33h8m-8 32h8m0 6h8m0-39h8m-1 30h8m-5-8h8m21 2h8m8 9h8m-527 23h8m37 17h8m-4-33h8m-3 1h8m1 23h8m-3 4h8m-4 4h8m-7-21h8m-4 12h8m-6-4h8m-7 13h8m-7 7h8m-6-8h8m7-9h8m-7-20h8m-1 31h8m-3-20h8m-4 16h8m-5-3h8m-6-12h8m-8 11h8m-8-3h8m-6 10h8m-5-5h8m-6 3h8m-7-6h8m-7 3h8m-6 12h8m-7-32h8m-6 25h8m-3 4h8m-6-5h8m-6-3h8m-7 0h8m-8-11h8m-7 2h8m-8 20h8m-8-33h8m-5 27h8m-3-15h8m-8 19h8m-8-9h8m-7 9h8m-7-3h8m-7-28h8m-8 21h8m-6-18h8m-7-3h8m-7 6h8m-8 16h8m-5 4h8m-6-24h8m-6 8h8m-8 20h8m-7-9h8m-6-23h8m-7 10h8m-8 6h8m-8-18h8m-8 29h8m-5-15h8m-7-11h8m-3 14h8m-7-9h8m-4-1h8m220 29h8m-5-22h8m-8-2h8m-7 2h8m-6 15h8m-8 0h8m-7-12h8m-8-5h8m-7 3h8m-8-10h8m-7 12h8m-7 5h8m-4-21h8m-3 20h8m-7 10h8m-7-22h8m-5 13h8m-7-3h8m-4 7h8m1-3h8m-6-7h8m-7-14h8m-6 31h8m-7-1h8m-3-9h8m10 8h8m3-10h8m-466 26h8m-4 23h8m0-19h8m0 23h8m10-9h8m-2-2h8m-5-12h8m-5-2h8m9 10h8m-5 8h8m-6-10h8m-8 17h8m-7-27h8m-1 26h8m-7-2h8m-8-2h8m-3-14h8m-5 9h8m-7-19h8m-8 26h8m-7-13h8m-6-17h8m-7-1h8m-8 3h8m-6 18h8m-4 6h8m-4-4h8m-4 14h8m-7-11h8m-8-5h8m-8 14h8m-7 2h8m-7-13h8m-7 7h8m-7-24h8m-7-7h8m-7 37h8m-7-3h8m-8-12h8m-7-16h8m-6 19h8m-8-26h8m-6 3h8m-7 29h8m-8 5h8m-6-9h8m-7-20h8m-6-3h8m-8-3h8m-3 9h8m235 23h8m-7-7h8m-6-18h8m-6 16h8m-7 11h8m-7-36h8m-2 25h8m-8-19h8m-7 2h8m-7 5h8m-4 1h8m-8 21h8m-1-26h8m-7 7h8m-5-4h8m-7-10h8m-2 33h8m-4-2h8m-6-4h8m-7-9h8m-7 0h8m-3 15h8m-5 2h8m-7-15h8m-7-3h8m-7-18h8m-1 11h8m-4 10h8m-2-11h8m15 5h8m-3 10h8m21 4h8m-560 33h8m-7-4h8m31 14h8m-5-29h8m19-4h8m-7 20h8m5-17h8m-7 5h8m-8 21h8m-4 4h8m-8-29h8m-6-1h8m-7 15h8m-2 16h8m1-11h8m-7-9h8m-7-8h8m-7 4h8m-7 24h8m-4-28h8m-7-3h8m-7 25h8m-6 5h8m-7-15h8m-8 16h8m-6 2h8m-4-30h8m-5 26h8m-7-27h8m-8 20h8m-4 10h8m-5-29h8m-6-2h8m-8-3h8m-7 29h8m-7-24h8m-7 25h8m-8-30h8m-8 25h8m-7 1h8m-7-18h8m-7-9h8m-6 6h8m-8 11h8m-8 8h8m-7-11h8m-8 6h8m-8 12h8m-7-3h8m-8 2h8m-6-27h8m-7 11h8m-7-6h8m-4 3h8m-8-3h8m-8-2h8m-7 6h8m-7 6h8m-8-19h8m-8 18h8m-7-18h8m-4 0h8m-8 14h8m238 12h8m-4-11h8m-8 8h8m-3-6h8m-6-16h8m-6 32h8m-7-7h8m-8-13h8m-6 5h8m-6 5h8m-5-23h8m-8 16h8m-8-17h8m-7 29h8m-6-23h8m3 31h8m-8-15h8m-7-21h8m-6 16h8m-7-17h8m1 2h8m-5 8h8m-8 24h8m0-9h8m1 12h8m-6-12h8m-8-18h8m-8 8h8m-6 20h8m-5-1h8m-3-18h8m7 0h8m-513 37h8m2-5h8m3-5h8m0 23h8m-6-4h8m-8-11h8m-2 10h8m-7 15h8m12-17h8m-3 8h8m-8 9h8m-5 1h8m-8-3h8m1-28h8m-6-1h8m-5 34h8m-8-28h8m-8 21h8m-6-8h8m-7 6h8m-7-9h8m-5-8h8m-7 6h8m-6-1h8m-3-10h8m-6 26h8m-8-21h8m-7-2h8m-3 27h8m-8-19h8m-8 9h8m-8-20h8m-7 3h8m-6 7h8m-7 17h8m-8-26h8m-6 27h8m-8-26h8m-7-6h8m-7 4h8m-6 19h8m-5-23h8m-6-3h8m-8 19h8m-7 18h8m-7-4h8m-8 2h8m-6-2h8m-6-1h8m-8-7h8m-8 1h8m-7 8h8m-7-23h8m-8 8h8m-8 11h8m-7-3h8m-7 11h8m-8-32h8m-8 10h8m-7-13h8m-8 33h8m-7-12h8m-8 5h8m-8-7h8m-7 12h8m-6 4h8m-8-38h8m-8 8h8m-7 18h8m-8-20h8m-7 25h8m-7-7h8m-8-1h8m-7-14h8m-6 25h8m-8-4h8m-8 1h8m-5-7h8m-8-7h8m-6-7h8m-8 15h8m-8-11h8m-7 6h8m-7-7h8m-4-13h8m-7 6h8m226 31h8m-8 1h8m-4-5h8m-5 3h8m-8-14h8m-6 8h8m-8-6h8m-5-5h8m-8 8h8m-4-6h8m-5 4h8m-5-2h8m-6-23h8m-7 17h8m-8 2h8m-4 13h8m-7-22h8m-8-6h8m-6 32h8m-7-8h8m-5-4h8m-5 3h8m-6-14h8m-5-13h8m-6 31h8m-8-19h8m-1 4h8m-6-13h8m-5 1h8m-8 7h8m-7 2h8m-7 24h8m-4-34h8m-2 6h8m-3 19h8m1 7h8m13-18h8m10 0h8m-542 30h8m31 5h8m-6 17h8m-6-28h8m0 10h8m-7 2h8m-7 10h8m-7 1h8m-2-2h8m15 1h8m-3-8h8m-6 2h8m-5 12h8m-6 7h8m-7-23h8m-4 25h8m-7-1h8m-8-27h8m-8 25h8m-8-6h8m-7-11h8m-5 19h8m-7-37h8m-5 2h8m-6 29h8m-8-11h8m-6-19h8m-8 26h8m-8-24h8m-7-2h8m-4 5h8m-7 17h8m-7 0h8m-7-7h8m-5 19h8m-8-30h8m-7 21h8m-8-5h8m-7 15h8m-8-16h8m-7 12h8m-8 3h8m-8-21h8m-8 18h8m-8 2h8m-6-15h8m-6-12h8m-7 20h8m-7-24h8m-8 30h8m-8-19h8m-7 1h8m-7-3h8m-8-3h8m-7 24h8m-7-26h8m-8 16h8m-7-14h8m-6-1h8m-6 15h8m-8-24h8m-7 12h8m-8 11h8m-6-16h8m-7 6h8m-6 0h8m-7-8h8m-4 7h8m-7-2h8m-7-10h8m-8 2h8m-7 6h8m-2-8h8m217 35h8m-6-4h8m-4-5h8m-7-2h8m-5-3h8m-6 13h8m-8-17h8m-4 13h8m-7-15h8m-8 16h8m-8 4h8m-7-13h8m-5-22h8m-7 21h8m-5-21h8m-7 20h8m-8 1h8m-7 3h8m-8-17h8m-8-3h8m0 33h8m-6-4h8m-7-23h8m-8 15h8m-2 9h8m-8-5h8m-7-3h8m-4 3h8m0-12h8m-7 5h8m-5-15h8m-6 23h8m-4-24h8m-8 0h8m0 19h8m-2-22h8m-8 4h8m0 0h8m-8-3h8m-7 8h8m-8 0h8m17 2h8m-529 40h8m8 25h8m9-17h8m-4 16h8m7-2h8m-6-34h8m-1 16h8m-6-4h8m-6 20h8m-4-4h8m-2-23h8m1 4h8m-5-1h8m-7 22h8m-6 1h8m-4-18h8m-7 5h8m-8 0h8m-2 18h8m-4 0h8m-7-3h8m-7-18h8m-6 1h8m-7 6h8m-8-23h8m-4 22h8m-6-21h8m-7 24h8m-7-9h8m-8 12h8m-8 6h8m-6-11h8m-7 5h8m-7-12h8m-7 16h8m-8-9h8m-7 11h8m-8-11h8m-8 7h8m-7-15h8m-7-14h8m-8 6h8m-7 28h8m-8 3h8m-8-5h8m-8-4h8m-8-6h8m-5-10h8m-8-3h8m-6-1h8m-7 18h8m-7-13h8m-7 13h8m-6-17h8m-8 12h8m-7-2h8m-4-6h8m-7 0h8m-7-3h8m-6-9h8m-5 5h8m220 28h8m-7-3h8m-3-8h8m-7-3h8m-7 10h8m-7 1h8m-8 0h8m-3-3h8m-7 4h8m-8-10h8m-5-6h8m-8 18h8m-7-19h8m-6-10h8m-8 3h8m-7 12h8m-7-8h8m-8-12h8m-7 0h8m-5 2h8m-6-4h8m-3 27h8m-8-5h8m-7 0h8m-7-19h8m-8 22h8m-7-25h8m-8 1h8m-7 1h8m-8-2h8m-7 39h8m-5-35h8m-7 12h8m0 10h8m-6 10h8m-7-6h8m-6-30h8m-3 31h8m-2-30h8m5 6h8m-4 1h8m-8 16h8m-5 9h8m13-32h8m-7 8h8m0 12h8m-6-13h8m14 12h8m-3-4h8m-523 62h8m13-38h8m-3 9h8m14 26h8m-7-16h8m-6-2h8m-7 13h8m-1-6h8m-5 2h8m-7-9h8m-7 11h8m-5 0h8m-3-25h8m-5 36h8m-7-34h8m-7 9h8m-7 2h8m-8-2h8m-7 6h8m-8-8h8m-8 21h8m-8-30h8m-6 5h8m-6-3h8m-6-2h8m-7 30h8m-6 1h8m-8-33h8m-6 27h8m-7-27h8m-7 24h8m-8 11h8m-6-8h8m-6-19h8m-7 24h8m-8-1h8m-8-32h8m-7 11h8m-8 0h8m-7 16h8m-8-10h8m-7 15h8m-7-8h8m-8 8h8m-8 4h8m-6-9h8m-7 2h8m-8 2h8m-7-19h8m-8-2h8m-7 19h8m-8 0h8m-7-21h8m-7 5h8m-8 12h8m-7-25h8m-7 7h8m-7 1h8m-7 6h8m-8-8h8m-7-1h8m-8-1h8m-4 1h8m-7-3h8m-6 0h8m200 37h8m-7-1h8m1-2h8m-2-9h8m-4 3h8m-4 0h8m-7-12h8m-8-4h8m-7 7h8m-6-12h8m-8 5h8m-6 6h8m-2-9h8m-6 26h8m-8-37h8m-7 2h8m-4 31h8m-7-21h8m-7 4h8m-7 19h8m-8-15h8m-7 11h8m-7-24h8m-8 25h8m-8-4h8m-6-1h8m-2-18h8m-6-6h8m-7 28h8m-8-26h8m-7 26h8m-7-27h8m-3 0h8m-8 24h8m-6-11h8m-5 22h8m-7-16h8m-4-16h8m-4-7h8m-4 3h8m-8 14h8m-7-3h8m-7 4h8m-6 14h8m-7-18h8m-3-3h8m-2 16h8m-8 11h8m-5-26h8m-7-7h8m-5 7h8m-8 27h8m-8-1h8m1-37h8m-2 33h8m13-20h8m3-8h8m-5 31h8m8-30h8m22 26h8m-1-32h8m-577 64h8m30-19h8m4 25h8m-4-8h8m6-1h8m-1-8h8m5-13h8m2 3h8m-4 16h8m-4-17h8m0 8h8m-6-4h8m-7 19h8m-8-23h8m-6 7h8m-7-5h8m-8 5h8m0-6h8m162 29h8m-7 1h8m-6-1h8m-3 2h8m-5-3h8m-7 5h8m-8-10h8m-6-4h8m-7 11h8m-7-13h8m-6 3h8m-7 2h8m-6 11h8m-8-16h8m-7 4h8m-6 0h8m-6 10h8m-7-19h8m-4 0h8m-7 5h8m-6 3h8m-7-3h8m-7 1h8m-8-1h8m-8-4h8m-7 14h8m-6 1h8m-7 7h8m-8-27h8m-7 15h8m-7-1h8m-5-14h8m-4 18h8m-7-20h8m-8 12h8m-7 5h8m-8-21h8m-8 29h8m-6-7h8m-8-21h8m-6 13h8m-8-17h8m-6 24h8m-7 7h8m-8-14h8m-7 16h8m-1-5h8m-8-28h8m-6 18h8m-7 6h8m-8 6h8m-7-26h8m-7 18h8m-7-19h8m-7 28h8m-7-29h8m-6 25h8m-5-24h8m-8 30h8m-6-34h8m-7 19h8m-2-7h8m-6-6h8m-4 4h8m-8 12h8m-7-19h8m-5-5h8m-5 19h8m-7 5h8m-4 12h8m-8-14h8m-5-10h8m-5-1h8m-7 2h8m-5 12h8m-4-22h8m-2 5h8m-7 16h8m-4 0h8m-6-11h8m-5-5h8m7 21h8m7-7h8m-5 17h8m-3-7h8m-8-24h8m-7 3h8m23-7h8m-2 32h8m-500 5h8m6 22h8m-5 7h8m-8-26h8m10 25h8m-1-26h8m-2 0h8m-8 17h8m1 16h8m-2-34h8m-7 32h8m-1 1h8m-8 4h8m-7-5h8m-4-31h8m-8 23h8m-6-12h8m151 19h8m-4-3h8m-7-2h8m-5 8h8m-6-3h8m-3-1h8m-8-10h8m-8 16h8m-8-15h8m-7 5h8m-6-12h8m-8 2h8m-5 14h8m-7-14h8m-6 3h8m-7 4h8m-7-17h8m-6-1h8m-7-1h8m-8 24h8m-7-13h8m-6 11h8m-7 4h8m-8-27h8m-7 31h8m-8-32h8m-6 20h8m-6-15h8m-8 18h8m-6 2h8m-7-27h8m-7 8h8m-8 8h8m-6-17h8m-6 38h8m-8-38h8m-5 14h8m-7 23h8m-8-3h8m-6-25h8m-5 24h8m-8-23h8m-8 24h8m-7-25h8m-8 8h8m-7 20h8m-8-21h8m-7-17h8m-8 0h8m-6 9h8m-7 14h8m-7 1h8m-2-22h8m1-1h8m-7 32h8m-8-5h8m0 8h8m-1-25h8m-6 17h8m-2 0h8m-3-5h8m-4-12h8m-4-1h8m-4 20h8m-3 1h8m-6-30h8m-7 32h8m-5-14h8m-4-17h8m0-2h8m-6 33h8m-1-28h8m-5 22h8m4 8h8m6-29h8m-4 17h8m3-13h8m28 0h8m-2 11h8m32-14h8m-533 42h8m23 14h8m-7 2h8m0 1h8m-7 2h8m-5-22h8m3 12h8m-5 20h8m-4-9h8m-7-20h8m-8-3h8m-8 21h8m-2 2h8m-6-26h8m-4 11h8m0-4h8m-8-7h8m-7 2h8m-8 11h8m-7 10h8m-8-6h8m-4 9h8m-2 7h8m-8 3h8m105-1h8m1-2h8m-1-13h8m-8 10h8m-5-6h8m-8 4h8m-8-12h8m-6 1h8m-1 1h8m-8-3h8m-8-5h8m-8-2h8m-5-3h8m-8 31h8m-7-13h8m-8 3h8m-7-12h8m-5 0h8m-7 7h8m-7-5h8m-8-3h8m-8-15h8m-5-1h8m-8 16h8m-8 11h8m-6-27h8m-5 21h8m-8 4h8m-7-20h8m-7 34h8m-7-32h8m-7 10h8m0-6h8m-7-6h8m-7 14h8m-7-14h8m-8-3h8m-5 20h8m-8 4h8m-8 6h8m-8-10h8m-7 2h8m-8-9h8m-7 7h8m-6 11h8m-7-11h8m-6-15h8m-7-1h8m-6 19h8m-7 3h8m-5-27h8m-5 31h8m-8-4h8m-6-24h8m-7-1h8m-7 11h8m-6-9h8m-7 10h8m-7-5h8m-1-10h8m-4 34h8m-6-8h8m-7-24h8m-8 22h8m-7 6h8m-8-7h8m-3 3h8m0-13h8m5 18h8m-2-10h8m2-15h8m-5 6h8m-7 3h8m-5-11h8m-2 32h8m-2-19h8m1 11h8m-5-15h8m11-13h8m-7 4h8m-2-3h8m-1 35h8m54-23h8m78-10h8m-562 56h8m-7 1h8m5 2h8m-4 8h8m0-7h8m6-11h8m-5-4h8m17 3h8m-6-11h8m-8 5h8m-1 8h8m-4-8h8m-6 3h8m-6 3h8m-8-5h8m-5 8h8m-7-6h8m-1 31h8m-8-19h8m-6-7h8m-7 14h8m-4-11h8m-8 22h8m-7-23h8m-8 12h8m-5-10h8m-4 20h8m-4-14h8m-4 4h8m-4 9h8m-4-11h8m4 1h8m-8-2h8m-6 10h8m1-11h8m-1-1h8m-8 13h8m-7-9h8m-5-6h8m-5 8h8m-7-12h8m-8 7h8m-3 3h8m-7-13h8m-2 5h8m-1 12h8m-6 9h8m-5-33h8m-4 7h8m-8 17h8m-8-9h8m-6-18h8m-4 17h8m-6-18h8m-8 37h8m-6-39h8m2 11h8m-8 13h8m-7-18h8m-3 14h8m-7-17h8m-6 36h8m-1-19h8m-6 8h8m-6-28h8m-5 29h8m-2-29h8m6 1h8m-7 18h8m-6-16h8m-3 22h8m-6-8h8m-4-14h8m2 3h8m-2 29h8m-1-9h8m0-22h8m21 13h8m-6 20h8m-4-35h8m0 27h8m-1-6h8m4-14h8m8 0h8m28 4h8m8 5h8m-453 40h8m34 20h8m2-16h8m5 2h8m-4-18h8m-1 7h8m-5 4h8m-7-2h8m-4-6h8m-6 8h8m0 12h8m6-25h8m-2-4h8m-4 25h8m-4-3h8m-3 7h8m-1-29h8m-6 0h8m-8 29h8m3-16h8m-8-13h8m-4 33h8m-7 1h8m-2-33h8m-7 25h8m-7 4h8m-6-22h8m-7 14h8m-6-8h8m-6-10h8m4 3h8m-5 7h8m-4 23h8m-3-14h8m-2-6h8m6 4h8m2-12h8m-4 11h8m-6-20h8m-5 1h8m4 4h8m-7 22h8m-6-20h8m-7 25h8m-5-12h8m-4-16h8m-7 20h8m13-4h8m6 0h8m-1 6h8m0-9h8m130 17h8m3-17h8" stroke="#333" stroke-width="8" opacity="0.55"/><path transform="translate(185.80 19.90) scale(.1)" d="M170 580l-15 0l-15-2l-12-6l-12-10l-7-10l-6-14l-2-16l2-14l8-20l24-38l28-55l57-88l10-22l24-70l23-47l19-30l23-28l23-21l26-17l24-12l26-5l30 0l20 5l7 6l8 9l13 27l8 33l2 33l-3 34l-9 40l-13 36l-17 34l-33 48l-41 50l-22 24l-18 13l-27 11l-13 9l-79 81l-16 13l-23 13z" fill="#e4e4e4" fill-rule="evenodd" stroke="#505050" stroke-width="5.5"/><path transform="translate(185.80 19.90) scale(.1)" d="M175 568l-15 1l-12-2l-13-5l-10-8l-7-9l-5-13l-1-12l3-15l12-23l31-34l29-56l56-80l12-27l22-65l19-40l15-22l19-22l20-19l20-13l20-8l20-5l30 0l15 4l11 13l9 22l4 30l0 32l-4 30l-9 30l-12 30l-18 33l-34 53l-27 32l-17 12l-28 7l-12 8l-68 72l-34 46l-18 14z" fill="#dcdcdc" fill-rule="evenodd" stroke="#8a8a8a" stroke-width="3.0"/><path transform="translate(185.80 19.90) scale(.1)" d="M170 560l-12 0l-10-2l-10-5l-8-7l-5-8l-3-10l-1-10l3-13l7-13l8-10l39-32l28-55l56-73l13-27l21-67l19-38l13-18l14-17l16-12l14-10l18-7l18-3l22-1l12 3l10 11l7 19l2 25l-3 30l-7 30l-10 30l-15 32l-17 30l-21 31l-18 16l-12 4l-23-1l-7 3l-10 8l-46 56l-34 36l-17 37l-10 16l-19 15z" fill="#d4d4d4" fill-rule="evenodd" stroke="#8a8a8a" stroke-width="3.0"/><path transform="translate(185.80 19.90) scale(.1)" d="M372 345l-10-2l-17-12l-25-2l-8-5l-3-12l0-17l3-25l5-22l8-20l10-20l12-16l13-12l12-8l16-6l27-6l13 0l4 3l5 7l4 18l-1 27l-7 33l-13 34l-17 33l-15 21l-8 6zM232 438l-5-3l-1-7l3-10l5-10l18-20l10-5l6 1l1 4l0 7l-9 20l-15 17zM175 550l-10 1l-10-1l-15-8l-8-14l-1-10l2-10l9-16l18-14l22-8l13-1l7 2l8 6l4 11l1 14l-3 16l-5 10l-9 11l-10 7z" fill="#cdcdcd" fill-rule="evenodd" stroke="#7a7a7a" stroke-width="3.0"/><path transform="translate(185.80 19.90) scale(.1)" d="M388 296l-6 0l-2-2l-5-12l-3-20l2-17l7-15l11-12l13-9l7-1l5 7l2 7l-4 28l-13 30l-7 11zM178 540l-16 2l-12-4l-8-10l-1-13l4-13l10-10l13-6l14-2l10 3l7 5l3 8l1 10l-3 10l-5 8l-7 7z" fill="#c4c4c4" fill-rule="evenodd" stroke="#666" stroke-width="4.0"/><path transform="translate(185.80 19.90) scale(.1)" d="M172 533l-10 0l-7-4l-4-7l0-10l4-8l7-6l8-4l10 0l10 7l2 11l-6 13l-6 5z" fill="#dedede" fill-rule="evenodd" stroke="#444" stroke-width="7.0"/><path transform="translate(185.80 19.90) scale(.1)" d="M170 525l-8-3l-3-4l1-6l3-4l5-4l10 0l4 4l1 7l-5 7z" fill="#f4f4f4" fill-rule="evenodd"/><ellipse transform="translate(202.8 71.7) rotate(-20)" rx="4.4" ry="3.6" fill="none" stroke="#333" stroke-width="1.40"/></g><rect x="185.80" y="19.90" width="64.30" height="64.40" fill="none" stroke="#adadad" stroke-width="0.9"/><path d="M185.80 26.34h-1.2M185.80 40.51h-1.2M185.80 55.32h-1.2M185.80 70.13h-1.2M185.80 83.33h-1.2M189.02 84.30v1.2M203.16 84.30v1.2M217.95 84.30v1.2M232.10 84.30v1.2M244.96 84.30v1.2" stroke="#666" stroke-width="0.6"/><rect x="198.66" y="84.20" width="2.6" height="1.3" fill="#111"/><path transform="translate(185.80 19.90)" d="M18.6 27.5C23 20.5 31 12.5 38.6 11.5C42 11.1 45 11.5 47.4 12.3C53.5 20 52 34 43.2 44.6Z" fill="none" stroke="#f0606e" stroke-width="1.1"/><text transform="translate(193.44 29.61) scale(0.8991 1)" font-size="8.73" fill="#111" stroke="#111" stroke-width="0.15">42.6</text><g><path transform="translate(44.50 89.20) scale(.1)" d="M412 165h8m7 23h8m-4-5h8m189 3h8m-400 31h8m39 20h8m8-23h8m2-9h8m10 29h8m3-19h8m-5-2h8m-6 18h8m49 6h8m-246 31h8m59-1h8m29-1h8m-1-26h8m3 38h8m-2-27h8m18 19h8m-1 8h8m-2 0h8m-7-20h8m7-5h8m-2 12h8m-4-6h8m-5-17h8m1 31h8m-6-33h8m3 18h8m-3-9h8m-1 17h8m-4-21h8m19-5h8m-7 22h8m15-14h8m-5 11h8m64 5h8m-413 43h8m16 0h8m-5-7h8m45-12h8m-8 26h8m-2 4h8m8-32h8m-6 2h8m6 15h8m-7 6h8m-2-6h8m-5 2h8m7 2h8m-7-22h8m-8 23h8m-7-11h8m-2 9h8m0-16h8m-6 21h8m-6-19h8m-7 1h8m-5 18h8m-8-19h8m-7-5h8m-6 32h8m-4-16h8m-2 12h8m-5-24h8m-5 7h8m-8 20h8m-6-9h8m-8-15h8m4 8h8m-7-9h8m-7 6h8m-6-3h8m-6 11h8m-7-4h8m-7 2h8m-7-23h8m-8 34h8m-8-11h8m-7-18h8m0 6h8m-3 20h8m-4-5h8m-7 4h8m-7-4h8m-7-1h8m-4-10h8m-7-3h8m-8 3h8m-8 4h8m-3-14h8m-8 31h8m0-26h8m-4 17h8m-8-3h8m-4 1h8m-2-21h8m-8-1h8m-7 6h8m-7 14h8m0-17h8m-5 17h8m1-22h8m-4 28h8m-8-5h8m-7 0h8m-3-7h8m4-4h8m-7 15h8m4-23h8m4 5h8m24-12h8m-3 36h8m3-34h8m-378 71h8m8 5h8m14-16h8m-8-22h8m-5 15h8m-1 6h8m1 2h8m-7 6h8m-2-6h8m-7-13h8m-6 5h8m-1-2h8m-6 1h8m-7 3h8m-5 11h8m-5-7h8m-8 12h8m-2-13h8m-6 17h8m-7-27h8m-7-5h8m-6 27h8m-5-28h8m-7 25h8m-7 2h8m-8-18h8m-5 25h8m-4-20h8m-6-3h8m-6-3h8m-3 4h8m-8 3h8m-6-9h8m-7 22h8m-7 5h8m-6-2h8m-3-6h8m-5 6h8m-7-14h8m-6 4h8m-7 12h8m-7-22h8m-7 13h8m-7 8h8m-5-18h8m-7-16h8m-7 29h8m-8-11h8m-1-4h8m-7-2h8m-8 25h8m-7-24h8m-6 5h8m-6 19h8m-7-12h8m-7 4h8m-8-17h8m-7-10h8m-6 13h8m-5 9h8m-8 9h8m-8 1h8m-6-24h8m-5 26h8m-8-10h8m-6 10h8m-8-37h8m1 24h8m-7 4h8m-8-14h8m-7 20h8m-7-22h8m-7 25h8m-4-18h8m-6-13h8m-4 16h8m-8 14h8m-7-20h8m-5-1h8m-8-11h8m-5 31h8m-5-13h8m-6-6h8m-8 20h8m-5-6h8m-8-11h8m-8-9h8m-7 25h8m-5-15h8m-7 13h8m-8-13h8m-7-6h8m-7 6h8m-8-21h8m-7 33h8m-8-11h8m-7 11h8m-8-32h8m-2 8h8m-6 27h8m-7-1h8m-7-16h8m-5-10h8m-6 11h8m-2 14h8m-7 4h8m-7-36h8m-8 10h8m-7 12h8m-7-10h8m-7 1h8m-8 14h8m-5-2h8m-8-14h8m-7 20h8m-7-25h8m-4 11h8m-3-16h8m-8 27h8m-1-1h8m-5 1h8m-8-5h8m-8-7h8m-7-7h8m-6 1h8m-3 13h8m-3 1h8m-5-23h8m-7 34h8m-8-24h8m-6 11h8m-4-15h8m-6 12h8m-7-10h8m-5 0h8m10-2h8m-8-7h8m-5 10h8m2 13h8m-8-17h8m-2-2h8m3 19h8m-2 1h8m80-2h8m-503 53h8m7-13h8m-1 3h8m-1 7h8m1-19h8m-2-11h8m4 33h8m-7-18h8m-4 15h8m-8-31h8m-5 29h8m-8-11h8m1 14h8m-6 2h8m-2-5h8m-6-6h8m-1-12h8m-5 24h8m-5-1h8m-6-25h8m-6 16h8m-6-7h8m-8-16h8m-7 34h8m-7-21h8m-8 15h8m-8 0h8m-7 0h8m-7 2h8m-7 2h8m-6-3h8m-8-2h8m-6-3h8m-7-1h8m-7 7h8m-8-7h8m-7-6h8m-6-22h8m-7 31h8m-7 8h8m-7-6h8m-7-4h8m-6-3h8m-7-4h8m-7-21h8m-6 20h8m-8-8h8m-8 23h8m-7 0h8m-7-15h8m-8-4h8m-8 22h8m-8-36h8m-8 26h8m-8-12h8m-6 21h8m-8-33h8m-8 28h8m-7-18h8m-8 8h8m-8 15h8m-7-30h8m-8 29h8m-8-1h8m-7 1h8m-8-1h8m-8-14h8m-6-1h8m-8 16h8m-8-5h8m-7-23h8m-7 29h8m-8-17h8m-7-11h8m-8 26h8m-4 1h8m-8-18h8m-8-19h8m-8 27h8m-7-16h8m-8 9h8m-7 15h8m-8-13h8m-7-3h8m-8 0h8m-8-9h8m-7 23h8m-8 5h8m-8-1h8m-8-2h8m-8 3h8m-6-9h8m-8 10h8m-7-38h8m-8 2h8m-8 11h8m-8 21h8m-7-5h8m-7-5h8m-6 12h8m-8-2h8m-8-3h8m-8-15h8m-7 7h8m-6 10h8m-8 1h8m-7-7h8m-8 9h8m-8-11h8m-4-5h8m-7-10h8m-7 24h8m-8-25h8m-7 4h8m-8 3h8m-8 5h8m-7-4h8m-8 1h8m-6 20h8m-7-1h8m-7-20h8m-8 8h8m-8-15h8m-7 11h8m-8 3h8m-7-1h8m-5 1h8m-7 13h8m-6-27h8m-8 28h8m-7-24h8m-8 5h8m-8-10h8m-8 29h8m-8-25h8m-5 23h8m-8-18h8m-8 13h8m-8-25h8m-8 2h8m-8 9h8m-7 12h8m-8-22h8m-6 30h8m-7-12h8m-7-20h8m-7 14h8m-7 15h8m-8-15h8m-8-10h8m-6 3h8m-7 23h8m-8-18h8m-8-4h8m-6-2h8m-8-9h8m-8 16h8m-7 18h8m-8-2h8m-8-3h8m-6-32h8m-8 38h8m-7-6h8m-8 1h8m-8-18h8m-6 19h8m-8-2h8m-8-22h8m-5 28h8m-8-12h8m-7-16h8m-8 9h8m-8 6h8m-7-23h8m-8 14h8m-8 18h8m-8-28h8m-4 23h8m-7 9h8m-8-32h8m-7-1h8m-8 32h8m-7-18h8m-8-11h8m-8 19h8m-7-1h8m-8-5h8m-8 2h8m-7-2h8m-8-21h8m-7 12h8m-8 20h8m-8 5h8m-7-15h8m-8 4h8m-8-2h8m-4 6h8m-7-14h8m-8 9h8m-6-12h8m-8 17h8m-7-1h8m-6-19h8m-8 16h8m-7-2h8m-8 5h8m-7-3h8m-7 1h8m-8 7h8m-8-33h8m-7 33h8m-7 2h8m-8-27h8m-7 15h8m-8 7h8m-7 0h8m-8-4h8m-6 8h8m-7-34h8m-8 5h8m-8 15h8m-7 10h8m-8-5h8m-6 6h8m-8-6h8m-7-13h8m-7 8h8m-4-8h8m-8 6h8m-8 3h8m-7-3h8m-7-19h8m-5 0h8m-6 37h8m-7-37h8m-7 37h8m-8-37h8m-7 13h8m-8-4h8m-7 20h8m-8-28h8m-7 26h8m-7-27h8m-7 18h8m-8-8h8m-6 27h8m-8-8h8m-8-29h8m-8 18h8m-7-9h8m-6 21h8m-5-29h8m-8 4h8m-7-4h8m-7 37h8m-7-13h8m-8 1h8m-7-16h8m-7 11h8m-7 3h8m-7-5h8m-5-10h8m-6 21h8m-8-2h8m-7-18h8m-8 22h8m-8-25h8m-6 13h8m-8-5h8m-5 20h8m-7-3h8m-8 6h8m-7-6h8m-6-13h8m-7 19h8m-5-1h8m-6-12h8m-6 1h8m-5 1h8m-7-7h8m-4-4h8m-5-11h8m-7 34h8m-7-19h8m-7 0h8m-8 7h8m-6 11h8m-8-18h8m-7 8h8m-7-25h8m-4 20h8m-8-23h8m-5 37h8m-5-36h8m-7 1h8m-5 29h8m-1-28h8m-7 4h8m-5 17h8m11-21h8m-4 29h8m12-1h8m-7-12h8m-8 3h8m-7-11h8m-3-6h8m-7 5h8m2 15h8m12 7h8m1-14h8m26 20h8m20-5h8m-2-2h8m-4-3h8m4 4h8m-519 35h8m-4-19h8m-3 24h8m-7-1h8m-2 8h8m-7-27h8m-3 22h8m-7-2h8m-6-17h8m-2 22h8m-8-5h8m-7-26h8m-8 33h8m-7-27h8m-7 24h8m-7-5h8m-8-6h8m-6-14h8m-6 23h8m-6-18h8m-8 18h8m-6 1h8m-7-14h8m-8-9h8m-8 1h8m-7-9h8m-7 9h8m-7-6h8m-7 30h8m-8-37h8m-7 28h8m-7-7h8m-7 1h8m-7-5h8m-8-5h8m-6 12h8m-7 0h8m-8-20h8m-6 28h8m-8-4h8m-7-3h8m-5-21h8m-7 7h8m-7 16h8m-8-8h8m-7-12h8m-7 19h8m-7-13h8m-6 11h8m-7-24h8m-7 18h8m-8 5h8m-7 2h8m-8-10h8m-7-5h8m-8-6h8m-7 16h8m-6-5h8m-8 5h8m-8-4h8m-8 1h8m-8 5h8m-7-4h8m-6-12h8m-8 1h8m-8 6h8m-6-3h8m-7 0h8m-8-9h8m-7 15h8m-8-1h8m-7-1h8m-4-11h8m-7-3h8m-6 9h8m-7 0h8m-6-8h8m-5 7h8m-8-1h8m-5-7h8m-8 2h8m-7 2h8m-8 6h8m-8 1h8m-6-6h8m-7-5h8m-7 4h8m-7 4h8m-8 0h8m-7-7h8m-5 9h8m-4-2h8m-8 0h8m-7-8h8m-6 7h8m-8-7h8m-8 8h8m-6-5h8m-5-3h8m-6 2h8m-7 5h8m-6-3h8m-7 3h8m-6-4h8m-5 3h8m-4-6h8m-6 3h8m0 1h8m-2-4h8m-7 4h8m-8-1h8m-6-3h8m-2 3h8m-7 4h8m-5-7h8m-5 2h8m-7 5h8m-6-3h8m-6-3h8m-7 8h8m-7-6h8m-8 3h8m-7 0h8m-7-3h8m-5 6h8m-8-4h8m-5 4h8m-7-1h8m-7-7h8m-7 8h8m-8 0h8m-8-5h8m-7 1h8m-6 1h8m-8 1h8m-6 2h8m-7-7h8m-8 3h8m-8 7h8m-7-5h8m-7 2h8m-6 2h8m-8 6h8m-7-7h8m-8-5h8m-7 3h8m-7 11h8m-6-16h8m-8 10h8m-7 0h8m-8 6h8m-8-2h8m-8 1h8m-8-7h8m-7 11h8m-8-15h8m-7 10h8m-8-11h8m-7 14h8m-7 1h8m-8-1h8m-7-1h8m-8-9h8m-8 5h8m-8-4h8m-7 3h8m-7-4h8m-8-8h8m-7 15h8m-8 0h8m-8-1h8m-8 8h8m-7-13h8m-8 3h8m-8-8h8m-5-5h8m-8 24h8m-8 2h8m-7-1h8m-8 4h8m-7-24h8m-8 19h8m-7-3h8m-8 10h8m-8-11h8m-7 4h8m-8-17h8m-7 12h8m-8-6h8m-7 12h8m-7-4h8m-7-21h8m-8 19h8m-8-17h8m-6 30h8m-7-16h8m-8 16h8m-8-15h8m-7 19h8m-7-4h8m-8 2h8m-8-6h8m-7 7h8m-7-34h8m-8-2h8m-8 4h8m-7-4h8m-8 28h8m-7-11h8m-8-9h8m-6 7h8m-7-9h8m-8 22h8m-7-1h8m-7-3h8m-8-1h8m-7 1h8m-7-13h8m-8 21h8m-6-2h8m-7-14h8m-6 19h8m-8 2h8m-8-13h8m-7 0h8m-8-21h8m-8 11h8m-8-8h8m-8-4h8m-8 22h8m-7-9h8m-8-3h8m-6-1h8m-8 25h8m-8-1h8m-7 0h8m-7-31h8m-7 9h8m-7 12h8m-8-25h8m-7 23h8m-8 9h8m-7 6h8m-6-12h8m-7-6h8m-8-7h8m-6 17h8m-7-27h8m-7 22h8m-8 8h8m-6-2h8m-8-13h8m-7 8h8m-6-13h8m-7-2h8m-7-10h8m-7 11h8m-7-4h8m-7 2h8m-4-2h8m-8-6h8m-6 15h8m-8-2h8m-5 3h8m-6 14h8m-8-17h8m-8-11h8m-7-2h8m-7 6h8m-3 28h8m-5-18h8m-6 6h8m-6 4h8m-8 10h8m-7-31h8m-8 23h8m-5 9h8m-7-21h8m-7 4h8m-7 2h8m-7-1h8m-7 5h8m4 0h8m-8-25h8m-6 25h8m-8-22h8m-8-4h8m-7 4h8m-4 30h8m-5-15h8m-6 12h8m-8 1h8m-8-19h8m-4 12h8m8-20h8m-3 26h8m2-21h8m-4-10h8m-5 18h8m-4-13h8m23 1h8m10-4h8m51 21h8m49-7h8m-578 31h8m-6 5h8m5 0h8m-6-3h8m-8 27h8m-3-21h8m-1 15h8m-5 3h8m-3-15h8m-5-20h8m-7 27h8m-7-2h8m-8 7h8m-7-15h8m-7 3h8m-7 6h8m-6-22h8m-7 5h8m-8 14h8m-7-8h8m-7-6h8m-6-2h8m-8 15h8m-4-11h8m1-6h8m-7-2h8m-3-3h8m-6 1h8m-6-1h8m174 5h8m-5 11h8m-7-1h8m-8-13h8m-8 12h8m-7-9h8m-7 21h8m-8-21h8m-8 24h8m-7-23h8m-7 15h8m-8-17h8m-8 28h8m-7-11h8m-7-7h8m-8-2h8m-8 12h8m-7 3h8m-8-23h8m-8 19h8m-7-18h8m-7-3h8m-7 2h8m-8 5h8m-8 20h8m-8 6h8m-7-15h8m-7 6h8m-7 5h8m-8-9h8m-6 12h8m-8-33h8m-8 38h8m-8-38h8m-8 20h8m-7 3h8m-8-11h8m-7 0h8m-8-4h8m-7 20h8m-8-10h8m-7-6h8m-7-7h8m-7 20h8m-8-10h8m-7 10h8m-6-9h8m-6-13h8m-8 11h8m-7-11h8m-7-4h8m-8 10h8m-7 6h8m-8 17h8m-5-6h8m-8-27h8m-6 25h8m-8-13h8m-7-5h8m-6 13h8m-5 19h8m-8 0h8m-6-17h8m-5-20h8m-8 1h8m-8 14h8m-7-12h8m-7 5h8m-7 3h8m-4 23h8m-6 0h8m-6-6h8m-5-16h8m-7 23h8m-7-1h8m-7-13h8m-7-14h8m-7 12h8m4-2h8m-4 2h8m27 0h8m-1-1h8m-7-1h8m-8 13h8m11-24h8m-4 18h8m-3 0h8m17 4h8m-7-28h8m-6 1h8m9 10h8m20-12h8m21 12h8m34 4h8m23 19h8m-621 30h8m-2 8h8m1-3h8m-2-13h8m-8-3h8m-4 12h8m-8-14h8m-5-3h8m-6-10h8m-8 17h8m-8 18h8m-6-8h8m-8-5h8m-5-5h8m-8 4h8m-7 12h8m-8-1h8m-8-6h8m-5-9h8m-7-5h8m-6 26h8m-6-1h8m-7-5h8m-7-13h8m-8 8h8m-6-4h8m-7-12h8m-7 15h8m-7-17h8m-7 6h8m-8 3h8m-8-8h8m-7 5h8m-5-12h8m-7 3h8m214 32h8m-4 0h8m-7-8h8m-8 3h8m-6-16h8m-6 0h8m-7 17h8m-7 0h8m-7-30h8m-6 4h8m-7 10h8m-7-9h8m-7 23h8m-8-28h8m-7 14h8m-7-5h8m-8-8h8m-6 8h8m-8 10h8m-7-19h8m-7 11h8m-6-12h8m-7 30h8m-7-10h8m-8-14h8m1 11h8m-6 5h8m-3 12h8m-6-33h8m-8 1h8m-4 34h8m-7-35h8m-7 6h8m-6 13h8m-8-1h8m-1-19h8m-4 9h8m-7-1h8m0-3h8m-3 0h8m4 11h8m0-15h8m-4-4h8m2 18h8m3 11h8m-8 1h8m-8-29h8m-5 21h8m9-4h8m-7 20h8m-1-36h8m-8-2h8m46 17h8m0 22h8m-8-32h8m45 3h8m10 14h8m17 1h8m-590 23h8m-3 26h8m-6-27h8m-6 32h8m-5-8h8m-8-22h8m-7 23h8m-4-20h8m-5-9h8m-4 1h8m-4 25h8m-7-19h8m-8-7h8m-7 10h8m-6 11h8m-8-18h8m-8-2h8m-7 10h8m-8-10h8m-8 23h8m-7-16h8m-8-3h8m-7 7h8m-7-3h8m-8 8h8m-7-15h8m-6 14h8m-7 3h8m-7 15h8m-7 2h8m210-9h8m-7-3h8m-8 6h8m-7-3h8m-7 9h8m-8-22h8m-7 12h8m-6 3h8m-6-16h8m-7 17h8m-7-14h8m7-12h8m-7-6h8m-2 3h8m3 5h8m6 6h8m6 3h8m-4 0h8m0-12h8m-3 27h8m-8-28h8m-6 0h8m0 19h8m-3-22h8m15-1h8m-5 13h8m-4 20h8m-1-16h8m-7-16h8m7 4h8m1 29h8m11-35h8m-7 11h8m-5-1h8m15-10h8m122 7h8m-610 52h8m0 13h8m-4 3h8m-6-20h8m-4-6h8m-8 21h8m-7 5h8m-7-20h8m-3 1h8m-1 17h8m-4-19h8m-7-4h8m-8 15h8m-5 0h8m-7 6h8m-8-5h8m-7-14h8m-6-3h8m-7 16h8m-6 3h8m-8-11h8m-7 13h8m-7-19h8m-4 20h8m0-6h8m-5 9h8m-5 1h8m2 2h8m102-2h8m-4 3h8m-2-2h8m-5-1h8m-2-9h8m-6 3h8m-3 10h8m-7-10h8m-2-7h8m-7 14h8m-4-19h8m-6 18h8m-8-20h8m-6 3h8m-7 4h8m-6 6h8m-3-22h8m-4 3h8m-7 2h8m-7 22h8m-6-33h8m-8 3h8m-6 2h8m8 19h8m-7-9h8m-2 6h8m-7-14h8m0 15h8m-1-11h8m-4-10h8m-5 1h8m-2 37h8m12-18h8m6 2h8m1-16h8m-5-5h8m1 31h8m-8-1h8m-6 7h8m0-38h8m-6-1h8m58 7h8m-7-1h8m75 4h8m74-4h8m13 20h8m-605 22h8m7 2h8m-8-3h8m1 2h8m-8 26h8m7-31h8m-7 7h8m6 26h8m-5-22h8m-7-11h8m-6 12h8m-3-9h8m-6-6h8m-8 3h8m0 0h8m-7 17h8m-7-7h8m-6-9h8m-8 28h8m-6-21h8m-5 21h8m-4-19h8m-8-9h8m-5 1h8m-5 3h8m-6 16h8m-6 7h8m-8-21h8m-6 3h8m-7 4h8m-7-2h8m-5 13h8m-4-15h8m-4 6h8m-5 7h8m-5-15h8m-7-6h8m-3 25h8m-4-26h8m-6 2h8m-5-2h8m-7 3h8m-4-1h8m-6 7h8m-4 0h8m-5-12h8m-5 8h8m-7-3h8m-4 8h8m-5-11h8m-4-1h8m-5 32h8m1-28h8m-4 22h8m8-24h8m10 4h8m-4 19h8m30-17h8m2-3h8m8 16h8m-5 2h8m6-10h8m49 20h8m64 1h8m23-19h8" stroke="#333" stroke-width="8" opacity="0.55"/><path transform="translate(44.50 89.20) scale(.1)" d="M155 605l-27-1l-26-6l-20-12l-14-16l-8-20l-2-22l5-23l11-23l17-22l21-19l28-17l25-11l30-7l27-1l26 4l22 10l12 9l10 12l6 12l3 13l1 15l-3 18l-5 14l-8 16l-24 28l-32 25l-35 16l-17 5z" fill="#707070" fill-rule="evenodd"/><path transform="translate(44.50 89.20) scale(.1)" d="M170 585l-22 1l-20-2l-18-7l-15-12l-10-15l-4-18l2-20l6-17l11-17l18-19l20-14l22-12l22-7l26-3l22 3l18 6l17 13l7 10l5 10l2 13l-1 12l-7 25l-18 25l-23 20l-30 17z" fill="#eeeeee" fill-rule="evenodd"/><path transform="translate(44.50 89.20) scale(.1)" d="M165 578l-20 0l-17-4l-16-8l-11-11l-8-15l-2-15l3-17l8-18l13-17l15-14l18-11l20-9l22-6l20-1l20 3l15 7l15 14l8 19l-1 23l-9 22l-18 22l-22 17l-26 12z" fill="#b6b6b6" fill-rule="evenodd"/><path transform="translate(44.50 89.20) scale(.1)" d="M172 560l-14 1l-16-2l-12-5l-10-9l-6-10l-2-13l1-12l5-12l8-13l12-13l14-10l16-7l14-4l18-2l15 1l13 5l12 10l7 15l1 15l-6 17l-12 18l-18 15l-20 10z" fill="#9e9e9e" fill-rule="evenodd"/><path transform="translate(44.50 89.20) scale(.1)" d="M180 543l-22 0l-10-3l-8-5l-5-7l-2-8l2-18l13-17l20-13l22-6l20 3l10 6l6 10l2 10l-3 13l-7 11l-10 10l-13 8z" fill="#888888" fill-rule="evenodd"/><path transform="translate(44.50 89.20) scale(.1)" d="M175 528l-13-2l-7-6l-3-10l4-10l9-10l13-6l12-2l10 3l5 4l2 6l0 7l-3 8l-13 12z" fill="#9e9e9e" fill-rule="evenodd"/><path transform="translate(44.50 89.20) scale(.1)" d="M185 515l-13 2l-4-2l-3-5l1-5l4-6l12-6l8 1l5 6l-2 8z" fill="#eeeeee" fill-rule="evenodd"/></g><rect x="44.50" y="89.20" width="64.30" height="64.40" fill="none" stroke="#adadad" stroke-width="0.9"/><path d="M44.50 95.64h-1.2M44.50 109.81h-1.2M44.50 124.62h-1.2M44.50 139.43h-1.2M44.50 152.63h-1.2M47.72 153.60v1.2M61.86 153.60v1.2M76.65 153.60v1.2M90.80 153.60v1.2M103.66 153.60v1.2" stroke="#666" stroke-width="0.6"/><rect x="57.36" y="153.50" width="2.6" height="1.3" fill="#111"/><path transform="translate(44.50 89.20)" d="M18.6 27.5C23 20.5 31 12.5 38.6 11.5C42 11.1 45 11.5 47.4 12.3C53.5 20 52 34 43.2 44.6Z" fill="none" stroke="#f0606e" stroke-width="1.1"/><text transform="translate(51.48 97.91) scale(0.9260 1)" font-size="8.73" fill="#111" stroke="#111" stroke-width="0.15">0.92</text><g><path transform="translate(115.00 89.20) scale(.1)" d="M294 194h8m26-4h8m1-4h8m3-7h8m72 15h8m-227 34h8m10-27h8m-6 2h8m7 31h8m-2-23h8m-2 27h8m1-4h8m-5-6h8m-7 0h8m-3 8h8m-4-33h8m-6 12h8m-8 16h8m-8 3h8m-5 0h8m-7-14h8m1 9h8m-7-18h8m-3 19h8m-3 7h8m-8 2h8m2-1h8m-7-33h8m-7 23h8m-4-16h8m3 0h8m-6 19h8m0 2h8m-7 5h8m-7-30h8m-6 16h8m-4-5h8m-1 17h8m-4-18h8m-5 20h8m-5-11h8m-5 2h8m-3-5h8m-6 13h8m-5 1h8m-7-1h8m0-30h8m-5 30h8m22-26h8m-5-9h8m5 20h8m-8-2h8m-7-8h8m63 25h8m14-33h8m26 29h8m1-3h8m-517 15h8m14 11h8m78 20h8m2-9h8m1-18h8m-7 19h8m-2 10h8m-1-19h8m-6 16h8m-4-8h8m-6 8h8m-8 4h8m0-16h8m-7-5h8m-7 10h8m-8-13h8m-5 24h8m-1-29h8m-7 16h8m-7 7h8m-4-8h8m-7 9h8m-6-28h8m-6 25h8m-7-3h8m-8 11h8m-8-7h8m-7 7h8m-5-13h8m-8 0h8m-7 7h8m-7-2h8m-7-11h8m-6 5h8m-8 14h8m-5-17h8m-8 8h8m-6 9h8m-8-28h8m-8 23h8m-8 1h8m-6-7h8m-6 6h8m-6-13h8m-8 3h8m-6 13h8m-8-2h8m-8-5h8m-7-10h8m-5-4h8m-7 18h8m-7-5h8m-8-8h8m-8 4h8m-8-2h8m-6 11h8m-7-5h8m-6-1h8m-8-5h8m-7-13h8m-7 14h8m-7-18h8m-6 2h8m-5 11h8m-7-18h8m-7 11h8m-8 9h8m-7-19h8m-7 14h8m-6 6h8m-5-6h8m-8 2h8m-7-10h8m-7 6h8m-6-4h8m-4 7h8m-7-2h8m-8-2h8m-6-10h8m-7 5h8m-7 2h8m-6 3h8m-7-1h8m-8-7h8m-8 2h8m-3-1h8m3 4h8m11-7h8m0 6h8m-3-1h8m16 7h8m-7-8h8m2 14h8m-7-4h8m1-14h8m-6 7h8m-5-7h8m-7 22h8m4-20h8m-5 10h8m-5 22h8m-5-18h8m-8-10h8m-7 8h8m-6 14h8m-7-13h8m-5-14h8m-8 20h8m7-23h8m6 21h8m-1-12h8m9 25h8m-414 41h8m14-13h8m-8-13h8m35 7h8m-7 21h8m1-1h8m-8-35h8m-5 1h8m-2 1h8m-8 3h8m-7 32h8m-7-12h8m-4-10h8m-7 2h8m-6-2h8m-8-10h8m-7 23h8m-5-11h8m-6-13h8m-8-5h8m-8 4h8m-8 2h8m-8 8h8m-6 16h8m-7-10h8m-7-15h8m-8 16h8m-8 14h8m-6 1h8m-8-27h8m-7 15h8m-8-7h8m-7 13h8m-4 1h8m-7 1h8m-7-3h8m-8-10h8m-7 9h8m-8 6h8m-8-20h8m-7 13h8m-7 4h8m-7-24h8m-7 6h8m-8 13h8m-8-17h8m-6-7h8m-7 20h8m-7-8h8m-6 19h8m-8-22h8m-8 15h8m-8 7h8m-8-16h8m-7 14h8m-7 4h8m-8-16h8m-7 14h8m-8-8h8m-8-13h8m-7 19h8m-8 5h8m-6-7h8m-6 7h8m-8-2h8m-7-16h8m-8 20h8m-8-4h8m-8 4h8m-7-12h8m-8 6h8m-7-10h8m-8-12h8m-7 14h8m-7-5h8m-7-18h8m-8 29h8m-8 2h8m-8-3h8m-8 4h8m-7-31h8m-8 16h8m-8 7h8m-7-26h8m-7 34h8m-8-13h8m-7 8h8m-8 7h8m-7-35h8m-8 34h8m-7-25h8m-8-5h8m-5 13h8m-8-15h8m-8 11h8m-7 1h8m-8 14h8m-6-15h8m-7 2h8m-7 5h8m-7-4h8m-8 8h8m-8-4h8m-7-16h8m-7 18h8m-8-12h8m-8-10h8m-8 15h8m-7 0h8m-5-15h8m-7 6h8m-8-4h8m-8 6h8m-7 12h8m-7-2h8m-7 0h8m-8-18h8m-8 5h8m-6-2h8m-8 7h8m-7-3h8m-8 2h8m-7-6h8m-8 1h8m-6 8h8m-7-3h8m-7 1h8m-7-4h8m-7-7h8m-6 5h8m-8 0h8m-8 0h8m-2-2h8m-3-3h8m141 0h8m-4 4h8m-2 1h8m-6-3h8m-7 12h8m-5 7h8m-7-4h8m-1-12h8m-7 20h8m-6 7h8m-4-5h8m-6-5h8m-3 5h8m3 10h8m-2-31h8m-3 1h8m2 2h8m5 16h8m-422 40h8m-7 10h8m-7-28h8m-5 1h8m-7 29h8m-6-3h8m-7-27h8m-1 29h8m-3-20h8m-8 3h8m8 16h8m-8 1h8m-6-21h8m-7 0h8m-2 22h8m-8-1h8m-5-35h8m-8 37h8m-3 0h8m-6-11h8m-8 3h8m-8 8h8m-7-27h8m-8 28h8m-5-33h8m-8 23h8m-8-2h8m-7-4h8m-7 14h8m-7-4h8m-7-19h8m-7 13h8m-7 7h8m-7-15h8m-7 13h8m-8-31h8m-8 28h8m-6-5h8m-6-24h8m-8 39h8m-8-21h8m-8-9h8m-8 7h8m-7-12h8m-4 22h8m-8-25h8m-7 38h8m-7-8h8m-8-17h8m-8 25h8m-8-7h8m-7-17h8m-7 24h8m-7-39h8m-8 35h8m-8-11h8m-6 5h8m-8-19h8m-8 3h8m-7 4h8m-8 13h8m-7-18h8m-8 13h8m-8 14h8m-7 0h8m-7-8h8m-8 8h8m-7-8h8m-8 1h8m-8-17h8m-7 9h8m-7-5h8m-8-9h8m-8 23h8m-8 3h8m-7 0h8m-7-23h8m-7 12h8m-7 3h8m-8-13h8m-7 4h8m-8 7h8m-8 6h8m-6-16h8m-8 11h8m-7-23h8m-7 14h8m-7-15h8m-8 5h8m-7-7h8m-8 20h8m-7 1h8m-7-13h8m-6 15h8m-7-16h8m-8 9h8m-8-15h8m-7 11h8m-8-6h8m-7 10h8m-8-14h8m-8 3h8m-7 6h8m-7 3h8m-8 3h8m-8-7h8m-8-1h8m-7 0h8m-8 0h8m-8 3h8m-7 4h8m-7 0h8m-5-9h8m-8-3h8m-8-1h8m-7 9h8m-6-10h8m-7-2h8m-8-1h8m-6 6h8m-6 1h8m-7-7h8m-8 6h8m-4-3h8m-4-3h8m-7 1h8m218 29h8m-7-30h8m-6 5h8m-6 10h8m-4 2h8m-2 21h8m-7-11h8m-8-2h8m-2-5h8m-7 14h8m-6-13h8m-7-9h8m-4 16h8m5-4h8m-5 6h8m4 6h8m12-11h8m75 5h8m-568 45h8m3-27h8m-6 6h8m-8 6h8m-7 9h8m0-18h8m-7 3h8m-6-3h8m-8 1h8m-4 1h8m-7 21h8m-7-30h8m-8 27h8m-8-13h8m-4 11h8m0-16h8m-8-7h8m-8 24h8m-4 7h8m-8-5h8m-8 1h8m-8 4h8m-4-16h8m-8 4h8m-6 4h8m-5-27h8m-7 11h8m-8 25h8m-7-1h8m-8-11h8m-7 3h8m-7 0h8m-8 2h8m-6 7h8m-8 1h8m-7-33h8m-5 12h8m-6-11h8m-8 31h8m-8-21h8m-8 12h8m-8-6h8m-7 10h8m-8-15h8m-8 8h8m-8-7h8m-6-12h8m-7-5h8m-6 0h8m-8 8h8m-8 24h8m-7-8h8m-8-6h8m-7 4h8m-8 1h8m-8 3h8m-7-14h8m-6 22h8m-6-12h8m-8-24h8m-8 32h8m-8-3h8m-7 6h8m-8 0h8m-7 0h8m-8-2h8m-8-11h8m-8-4h8m-7-12h8m-8 11h8m-8 2h8m-6-14h8m-8 17h8m-8 12h8m-7-13h8m-7-2h8m-8-3h8m-8 19h8m-6-25h8m-8 18h8m-8-4h8m-7 0h8m-7 0h8m-8 3h8m-6-7h8m-7-17h8m-8 20h8m-8-4h8m-6-10h8m-7 8h8m-8 8h8m-8 1h8m-8-10h8m-8-7h8m-5 13h8m-4-5h8m-6-14h8m-5 11h8m-8 0h8m-8-2h8m-5-9h8m-8 1h8m-7-1h8m-5 1h8m-6 1h8m-6 0h8m-8-4h8m-7 2h8m-5-3h8m254 38h8m-6-2h8m-6-13h8m-8 7h8m-7-4h8m-7 8h8m-6-8h8m-8 1h8m-7-23h8m-7 1h8m-8 16h8m-7 0h8m-8-4h8m-5 15h8m-8 7h8m-7-13h8m-8-14h8m-7 14h8m-7-10h8m-7 6h8m-3-10h8m-8-4h8m-7 14h8m-6 11h8m-8-5h8m-5-3h8m-7 9h8m-1-27h8m4 7h8m-3 17h8m55-26h8m1 31h8m-6-20h8m1-7h8m2-9h8m3 25h8m-570 35h8m-3-19h8m-3 5h8m-2 27h8m-7 3h8m-1 0h8m-4-9h8m-2-10h8m-8 22h8m-7-2h8m-5-18h8m-7 4h8m-6 12h8m-7-9h8m-8 8h8m-6-23h8m-7 15h8m-6-26h8m-8 36h8m-8-31h8m-7 14h8m-5-6h8m-7 1h8m-8 24h8m-8 1h8m-8-5h8m-7 3h8m-8-25h8m-7 20h8m-8-21h8m-8 1h8m-7-10h8m-7 31h8m-5-16h8m-8 15h8m-7-9h8m-8 4h8m-7 0h8m-8-21h8m-8 8h8m-6 7h8m-8-10h8m-7-7h8m-8 9h8m-7-7h8m-7 15h8m-8-20h8m-8 2h8m-8 1h8m-5 18h8m-8 1h8m-1-11h8m-5-2h8m-7 4h8m-8-2h8m-8-2h8m-8-4h8m-7 8h8m-7-10h8m-8 1h8m-8 8h8m-7-8h8m-7 0h8m-1-2h8m-8-1h8m-7 1h8m-3-3h8m264 38h8m2-4h8m-8-4h8m-4 0h8m-8 0h8m-7-1h8m-8 5h8m-3-8h8m-7 9h8m-8 3h8m-8-15h8m-6-5h8m-8 0h8m-3 0h8m-7-9h8m-8-2h8m-8 9h8m-7 13h8m-7-8h8m-7-2h8m-7 4h8m-8-21h8m-7 12h8m-7 13h8m-8 1h8m-7-4h8m-6 9h8m-5-22h8m-8 5h8m-6-5h8m-7 5h8m-6 22h8m-2-25h8m3 0h8m-8 13h8m-5-10h8m-4 19h8m1-13h8m-8-22h8m-7 35h8m7-33h8m92 32h8m-598 40h8m7-23h8m-2-4h8m3 32h8m-7-12h8m-8-24h8m-6 10h8m-7-13h8m-8 9h8m-7 16h8m-7-14h8m-4 14h8m-6 6h8m-7 5h8m-7 3h8m-6-5h8m-6-22h8m-3-1h8m-8-8h8m-7 32h8m-8-2h8m-7-8h8m-5-12h8m-7 4h8m-4-10h8m-8 2h8m-5 3h8m-7-3h8m-7-4h8m-8 0h8m-7-2h8m-6-3h8m-6 1h8m267 37h8m-8-2h8m-7 1h8m-7 2h8m-6-5h8m-5-1h8m-7-3h8m-7 7h8m-6-11h8m-7 6h8m-7-5h8m-7 7h8m-7 1h8m-8-9h8m-7 1h8m-7-4h8m-8-1h8m-6 5h8m-8 6h8m-7-10h8m-8 16h8m-8-18h8m-7 16h8m-7-1h8m-8-10h8m-8 9h8m-7-17h8m-7 14h8m-7-11h8m-7-6h8m-5 11h8m-7-3h8m-8 0h8m-8-11h8m-8 15h8m-7 7h8m-7-7h8m-7 2h8m-8-12h8m-8-7h8m-7 12h8m-7-8h8m-7 18h8m-7-7h8m-8-15h8m-7 12h8m-8 13h8m-6-8h8m-7-25h8m-8-1h8m-7 27h8m-8 3h8m-8-2h8m-7-27h8m-5 3h8m-7 12h8m-7 5h8m-8-4h8m-7 10h8m-6-13h8m-6-3h8m-8 6h8m-8-15h8m-6 11h8m-6-9h8m-6-4h8m-8 6h8m-6 8h8m-7 0h8m-7-6h8m-7-6h8m-8 4h8m-7 15h8m-7 0h8m-7-18h8m-8 34h8m-6 1h8m-7-8h8m-6-4h8m-6-20h8m7 5h8m-7-9h8m43 3h8m11 17h8m-5 13h8m-1 3h8m48-25h8m-583 46h8m-7-20h8m5 33h8m-4-10h8m-4 14h8m2-9h8m-5 9h8m-5-1h8m-5-3h8m-7-24h8m-5 24h8m-8-23h8m-5 6h8m-8 5h8m-8-16h8m-6 0h8m247 34h8m-7-1h8m-4-2h8m-8-5h8m-7 3h8m-8 5h8m-7-11h8m-6 0h8m-6 11h8m-7-12h8m-8 3h8m-8 9h8m-7-6h8m-7-6h8m-6-1h8m-7 5h8m-8-9h8m-8 3h8m-7 3h8m-8 9h8m-8-13h8m-7 0h8m-8 13h8m-8-3h8m-7-2h8m-8 0h8m-8-7h8m-7 0h8m-7 4h8m-8-4h8m-7-7h8m-7 17h8m-7-5h8m-7-11h8m-7-1h8m-7-2h8m-8 6h8m-8 12h8m-7-23h8m-8 9h8m-6-3h8m-6-11h8m-8 28h8m-8-25h8m-7 2h8m-8 21h8m-8-25h8m-7 1h8m-8 29h8m-7-27h8m-8 3h8m-7-7h8m-8 17h8m-7-15h8m-7 1h8m-8-3h8m-8 33h8m-7-21h8m-6 19h8m-8-18h8m-7 16h8m-8-32h8m-7 11h8m-7-12h8m-7 12h8m-7-7h8m-8 26h8m-8-26h8m-7 26h8m-6-12h8m-6 18h8m-6-10h8m-8 0h8m-8-16h8m-8-3h8m-8-3h8m-8 4h8m-7-9h8m-7 6h8m-7 8h8m-7-12h8m-6 14h8m-6-18h8m-6 28h8m-2-28h8m-7 5h8m-6-1h8m-8-4h8m-8 1h8m-7 22h8m-6 0h8m-8 7h8m-5-4h8m-7-4h8m-8 11h8m-6-13h8m-7-18h8m-6 2h8m-6 17h8m-8-11h8m0 4h8m-7-12h8m1 12h8m-3-13h8m-8 6h8m-2 2h8m-7-4h8m3 1h8m1 9h8m16 18h8m-473 22h8m-6 19h8m8-10h8m-4-10h8m-1-10h8m2 30h8m-8-30h8m-8 27h8m-5-21h8m-6-8h8m-8 9h8m-6 20h8m-7-24h8m-7 21h8m-6 6h8m-4-1h8m-6-2h8m189 8h8m0-6h8m-6-2h8m-7-3h8m-8 7h8m-8 2h8m-5 1h8m-8-6h8m-5 2h8m-5-11h8m-8 1h8m-6 0h8m-8 4h8m-7 7h8m-8 2h8m-7-1h8m-7 1h8m-8-10h8m-7-5h8m-8 11h8m-8 6h8m-8-19h8m-7 19h8m-8-4h8m-7-14h8m-7 9h8m-8 1h8m-5-10h8m-8 2h8m-7 9h8m-8-3h8m-5-9h8m-7-9h8m-8 3h8m-7-6h8m-7 10h8m-8 0h8m-7-5h8m-7 4h8m-7 7h8m-7-15h8m-7-6h8m-7 18h8m-8-4h8m-8 13h8m-7-28h8m-8 11h8m-8 22h8m-8-32h8m-8 12h8m-7-8h8m-8 2h8m-8 4h8m-7 3h8m-8-14h8m-7 12h8m-8-14h8m-7 18h8m-8-11h8m-7 4h8m-8-2h8m-7 4h8m-8 7h8m-7-12h8m-8 11h8m-8-15h8m-7 15h8m-7-7h8m-8 12h8m-7 7h8m-8 2h8m-7-24h8m-7-6h8m-8 36h8m-8-29h8m-7-5h8m-7 15h8m-6-14h8m-8 32h8m-8-9h8m-7-29h8m-8 0h8m-8 17h8m-7-11h8m-8 2h8m-6 2h8m-7 29h8m-8-24h8m-8-15h8m-7 29h8m-7-28h8m-8 17h8m-6-13h8m-7 7h8m-4 8h8m-4 11h8m-8-4h8m-6-19h8m-8 28h8m-8-1h8m-7-31h8m-6 8h8m-6 12h8m-7-21h8m0-3h8m-7 3h8m5 13h8m-6-2h8m-8-8h8m-7-1h8m-6 26h8m-7-5h8m-3-9h8m-5 17h8m-1-23h8m-3-7h8m19 20h8m1-17h8m-1 25h8m-4-9h8m1-17h8m6 6h8m19-12h8m-478 70h8m-4-24h8m4 1h8m3 7h8m-1-14h8m-4 2h8m-6 2h8m-7 16h8m-5 2h8m-7-12h8m-5 1h8m-2 8h8m-4 13h8m-2 6h8m121 1h8m-7-1h8m-5-4h8m-7 5h8m-5-6h8m-4-5h8m-8 8h8m-6-3h8m-6-7h8m-7-3h8m-6-1h8m-6-3h8m-8 11h8m-8 2h8m-7 3h8m-8-7h8m-5 0h8m-7-10h8m-8 7h8m-5 6h8m-7 6h8m-8-22h8m-7 9h8m-8 5h8m-7-19h8m-7 27h8m-7-21h8m-8 21h8m-8-14h8m-7 3h8m-8-17h8m-7 8h8m-7 1h8m-8 18h8m-7-33h8m-8 19h8m-7-14h8m-7 16h8m-6 8h8m-7 4h8m-8-29h8m-7 10h8m-8-4h8m-7 20h8m-8 5h8m-8-29h8m-7 25h8m-6-11h8m-8-5h8m-6 11h8m-8-25h8m-7 13h8m-8 9h8m-7-25h8m-6 21h8m-8-19h8m-5 2h8m-8-5h8m-7 25h8m-7-9h8m-8-1h8m-7-4h8m-5-7h8m-5 33h8m-7-17h8m-8-5h8m-8-3h8m-7-11h8m-7 37h8m-7-27h8m-6-11h8m-7 32h8m-7-13h8m-4-1h8m-6 10h8m-8 10h8m-5-33h8m-6 19h8m-7-1h8m-5-20h8m-5 36h8m-6-38h8m-5 11h8m-3-2h8m-4 2h8m-7 7h8m-7 15h8m-2-21h8m-8 12h8m-1-1h8m-2-20h8m3 23h8m-306 14h8m-8 9h8m-7-6h8m-5 14h8m-8-18h8m6 3h8m-2 11h8m-2 0h8m-7 16h8m-6-25h8m-8-2h8m-6 21h8m-6 13h8m-3-13h8m0-7h8m-3-11h8m-7 28h8m-1-26h8m-8 1h8m-6 24h8m-8-17h8m-7-1h8m18 4h8m-7-3h8m-6 12h8m-4 2h8m-7-1h8m-7-8h8m-7 17h8m-7-12h8m-8-2h8m-1 8h8m-6 5h8m-5-20h8m-4 8h8m-5-4h8m-7 0h8m-3-10h8m-8 17h8m-7-2h8m-8-11h8m-5 3h8m-5 2h8m-7-5h8m-7 13h8m-8-19h8m-3 13h8m-8-7h8m-7 18h8m-6-25h8m-7 3h8m-5 1h8m-8-8h8m-8 24h8m-5 8h8m-5-27h8m-8 14h8m-7-22h8m-3 17h8m-6 12h8m-4-3h8m-7-14h8m-8 4h8m-4-15h8m-7 6h8m-3-3h8m-7 15h8m-8-6h8m-3-12h8m-7 5h8m0-5h8m-6 16h8m-6 3h8m-6-16h8m-7 24h8m-8-22h8m-7 5h8m-6 17h8m-7 1h8m4-18h8m-6 7h8m-1-15h8m-7 19h8m-8 15h8m-5-4h8m-8-9h8m11-24h8m7 7h8m-4-3h8" stroke="#333" stroke-width="8" opacity="0.55"/><path transform="translate(115.00 89.20) scale(.1)" d="M165 613l-27-3l-28-10l-22-16l-17-22l-10-24l-4-30l5-28l13-28l17-19l186-160l14-11l26-11l30-4l27 5l27 13l16 12l12 15l10 18l6 20l2 20l-2 20l-6 20l-10 18l-18 19l-190 165l-27 15z" fill="#e4e4e4" fill-rule="evenodd" stroke="#505050" stroke-width="5.5"/><path transform="translate(115.00 89.20) scale(.1)" d="M170 590l-25 1l-23-6l-18-13l-15-17l-8-23l-2-24l5-23l12-23l12-12l184-160l13-9l23-9l22-2l22 5l20 11l11 9l10 13l7 14l4 16l1 14l-2 16l-5 14l-9 16l-11 12l-188 163l-18 11z" fill="#dcdcdc" fill-rule="evenodd" stroke="#8a8a8a" stroke-width="3.0"/><path transform="translate(115.00 89.20) scale(.1)" d="M162 575l-20 1l-17-5l-15-11l-9-12l-6-18l0-20l6-20l9-15l10-10l194-165l16-7l20-2l18 5l14 9l15 17l7 23l-3 23l-11 20l-155 135l-39 37l-16 10z" fill="#d4d4d4" fill-rule="evenodd" stroke="#8a8a8a" stroke-width="3.0"/><path transform="translate(115.00 89.20) scale(.1)" d="M158 563l-16 0l-12-3l-10-8l-8-10l-4-12l1-15l4-13l8-12l14-12l36-18l15-10l144-124l8-3l10-1l14 6l8 9l3 11l-1 10l-5 10l-142 124l-10 11l-19 32l-12 15l-14 9z" fill="#cdcdcd" fill-rule="evenodd" stroke="#7a7a7a" stroke-width="3.0"/><path transform="translate(115.00 89.20) scale(.1)" d="M150 553l-12-2l-12-9l-6-12l1-15l7-13l12-11l15-4l15 0l9 5l6 8l2 10l-1 12l-6 13l-8 8l-10 7z" fill="#c4c4c4" fill-rule="evenodd" stroke="#666" stroke-width="4.0"/><path transform="translate(115.00 89.20) scale(.1)" d="M150 543l-10-2l-7-6l-3-7l1-10l4-9l7-7l8-2l10 0l7 2l4 6l3 7l0 7l-3 8l-6 7l-7 4z" fill="#dedede" fill-rule="evenodd" stroke="#444" stroke-width="7.0"/><path transform="translate(115.00 89.20) scale(.1)" d="M152 533l-4 0l-6-2l-3-9l3-8l10-5l9 3l3 8l-4 9z" fill="#f4f4f4" fill-rule="evenodd"/><ellipse transform="translate(130.2 141.4) rotate(-40)" rx="5.0" ry="3.6" fill="none" stroke="#3a3a3a" stroke-width="1.00"/></g><rect x="115.00" y="89.20" width="64.30" height="64.40" fill="none" stroke="#adadad" stroke-width="0.9"/><path d="M115.00 95.64h-1.2M115.00 109.81h-1.2M115.00 124.62h-1.2M115.00 139.43h-1.2M115.00 152.63h-1.2M118.22 153.60v1.2M132.36 153.60v1.2M147.15 153.60v1.2M161.30 153.60v1.2M174.16 153.60v1.2" stroke="#666" stroke-width="0.6"/><rect x="127.86" y="153.50" width="2.6" height="1.3" fill="#111"/><path transform="translate(115.00 89.20)" d="M18.6 27.5C23 20.5 31 12.5 38.6 11.5C42 11.1 45 11.5 47.4 12.3C53.5 20 52 34 43.2 44.6Z" fill="none" stroke="#f0606e" stroke-width="1.1"/><text transform="translate(119.81 97.91) scale(0.9011 1)" font-size="8.73" fill="#111" stroke="#111" stroke-width="0.15">10.8</text><g><path transform="translate(185.80 89.20) scale(.1)" d="M336 19h8m13-4h8m96 14h8m-202 42h8m7-15h8m-5 2h8m9 18h8m1-24h8m-8 24h8m-6-18h8m-2 6h8m-3 11h8m26-26h8m31 15h8m0-24h8m-4 20h8m-2 19h8m7-6h8m6-3h8m-3-23h8m17 28h8m-286 37h8m52-2h8m13 5h8m-6-29h8m-6 10h8m2 18h8m-1-1h8m-3-21h8m-8 9h8m-4-1h8m-7 10h8m-6 9h8m-4-24h8m-3 11h8m-8 12h8m-7-1h8m-7-1h8m-7-13h8m-7 13h8m-8-21h8m-4 19h8m-5-2h8m-5-6h8m-2 1h8m-8-12h8m-5-13h8m-7 9h8m-7 12h8m-7-14h8m-5-4h8m-3 14h8m-8 0h8m-6-11h8m-5-8h8m3 0h8m11 6h8m0-2h8m-6 3h8m34 9h8m-7-14h8m14 23h8m-5-22h8m-8 24h8m-3-8h8m-5 2h8m-7-9h8m1 0h8m-2 17h8m-5-1h8m-4 7h8m-6 3h8m14-27h8m-8-6h8m-4 21h8m4 13h8m25 0h8m-451 31h8m51-8h8m-1 4h8m27-6h8m-1-2h8m2 10h8m-8-15h8m-4 25h8m-6-7h8m-6-16h8m9-4h8m-7-9h8m-4 4h8m-7 25h8m-7 5h8m-5 3h8m-7-20h8m-8-8h8m-7 13h8m-8 11h8m-8-1h8m-8 3h8m-7-14h8m-3 14h8m-7 2h8m-8-9h8m-6 1h8m-7-19h8m-7-5h8m-7 4h8m-7-4h8m-7 12h8m-7-10h8m-7 6h8m-6 7h8m-4 3h8m-4-25h8m-7 16h8m-8 1h8m-5-8h8m-1-7h8m-6 2h8m154-2h8m-3 4h8m-2-6h8m0 21h8m-8-7h8m-7 9h8m-2-21h8m-8 25h8m3-4h8m-8-2h8m-394 50h8m3-13h8m22-9h8m11 30h8m-6-2h8m1-21h8m-7 21h8m-5-34h8m-8 12h8m11-5h8m-7-8h8m-6 22h8m-6-10h8m-6 3h8m-6 2h8m-5 15h8m-3-10h8m-6-5h8m-6 20h8m-6-1h8m-8-15h8m-7-13h8m-6 25h8m-8-14h8m-7 16h8m-7-18h8m-6-2h8m-8-2h8m-7 12h8m-7-2h8m-8 7h8m-7-18h8m-8 12h8m-8-2h8m-8-24h8m-6 24h8m-7 7h8m-8 7h8m-6-12h8m-8 6h8m-8-29h8m-6 19h8m-7 3h8m-7-5h8m-6-3h8m-8-1h8m-7 4h8m-7-4h8m-7-11h8m-7 13h8m-7 0h8m-6-13h8m-8 10h8m-7-7h8m-6-5h8m212 4h8m-7 23h8m1-18h8m-2-11h8m-1 35h8m-6-25h8m-2-2h8m-7-4h8m61 15h8m-494 28h8m-5 28h8m6-20h8m25 10h8m-4 4h8m6 5h8m-7-34h8m-7 25h8m-5-17h8m-8 14h8m-7 9h8m-3 1h8m-4 1h8m2 3h8m-7-7h8m-7-16h8m-8 13h8m-7-8h8m-8 18h8m-7 2h8m-5-23h8m-5 18h8m-7-21h8m-7 20h8m-6-19h8m-6 15h8m-7-5h8m-6-9h8m-8-7h8m-7 22h8m-6 2h8m-8-25h8m-8 27h8m-7-1h8m-8-29h8m-7 5h8m-8 9h8m-7-13h8m-8 15h8m-8 11h8m-8-8h8m-8-15h8m-6-8h8m-8 26h8m-8-19h8m-4-6h8m-7 10h8m-7 18h8m-7 6h8m-8-12h8m-7 9h8m-7-26h8m-7 17h8m-7 0h8m-7-10h8m-6-6h8m-8 4h8m-8 8h8m-7-6h8m-8-1h8m-7-1h8m-7 1h8m-8-7h8m-7 7h8m-6-1h8m-5-5h8m233 16h8m-6-2h8m-7-10h8m-7 26h8m-8 1h8m-7-10h8m-6-20h8m-7 2h8m-7 28h8m-6-20h8m-7 13h8m-4-23h8m-8 12h8m1-16h8m-5 34h8m34-35h8m11 16h8m-521 32h8m12-2h8m7 11h8m1-7h8m1 26h8m0-10h8m-7-14h8m-2-1h8m10 2h8m0 24h8m-5-6h8m-7 5h8m-3-33h8m-8 34h8m-7-11h8m-8 4h8m-7-8h8m-6 13h8m-8-30h8m-7 25h8m-8-4h8m-6 3h8m-6-6h8m-7 6h8m-3-16h8m-6-4h8m-6 8h8m-6 15h8m-8 1h8m-7-4h8m-8 8h8m-8-17h8m-8 13h8m-7-3h8m-8-7h8m-7-6h8m-8-18h8m-6 38h8m-6-27h8m-7 9h8m-7-10h8m-8-2h8m-6 6h8m-8-1h8m-7 22h8m-8-27h8m-8 25h8m-8-32h8m-6 31h8m-8 6h8m-7-6h8m-7-10h8m-8 9h8m-8-6h8m-8-2h8m-7-16h8m-8 15h8m-8-1h8m-7-4h8m-6 1h8m-8 10h8m-5-19h8m-7 3h8m-8 13h8m-8-19h8m-7-6h8m-7 1h8m-7-1h8m-8 15h8m-5-2h8m-7-12h8m-6 7h8m-8 1h8m-6-6h8m235 26h8m-5 7h8m-6-1h8m-7 2h8m-8-5h8m-7 4h8m-8 0h8m-7-18h8m-6 11h8m-8-8h8m-7 14h8m-8-25h8m-7 21h8m-5-16h8m-7 6h8m-8-3h8m-7 12h8m-8-7h8m-7 6h8m-4-24h8m-8 17h8m-4 16h8m-7-17h8m-5-14h8m-8 31h8m-2-20h8m-1-8h8m-1 18h8m23 3h8m-5-17h8m29 14h8m-587 15h8m15 29h8m20-21h8m-3 2h8m15 22h8m13-10h8m2 8h8m-8-12h8m-6 16h8m-6-25h8m-6 1h8m-7 13h8m-7 4h8m-6 7h8m-7-24h8m-8 15h8m-7 7h8m-6-9h8m-6 10h8m-8-7h8m-7-7h8m-8-7h8m-5 18h8m-4-27h8m-4 8h8m-2 24h8m-8-3h8m-7-34h8m-7 19h8m-5 3h8m-7 2h8m-7 13h8m-7-1h8m-7-2h8m-6-13h8m-6-7h8m-8-1h8m-8-8h8m-7-2h8m-7 5h8m-8 17h8m-8-10h8m-7 4h8m-8-7h8m-8 2h8m-8 18h8m-7 2h8m-8 0h8m-8-4h8m-6-18h8m-8 21h8m-8-10h8m-7 13h8m-7-26h8m-8 17h8m-7 3h8m-8-29h8m-8 2h8m-7 27h8m-8-2h8m-6-24h8m-7 24h8m-8-10h8m-8-3h8m-5 0h8m-7 9h8m-8-2h8m-6-5h8m-5-18h8m-8 9h8m-8-5h8m-7-1h8m-8 12h8m-7-12h8m-8 3h8m-7-5h8m-8 4h8m-7-1h8m-7-2h8m-8 7h8m240 23h8m-4-3h8m-4 9h8m-5-14h8m-7 2h8m-7-14h8m-7 19h8m-2-1h8m-7-21h8m-7 5h8m-8 8h8m-6-15h8m-7-6h8m-7 29h8m-7-27h8m0 26h8m-7-29h8m-8 20h8m-4-2h8m-4-3h8m-6 23h8m-3-29h8m-7 1h8m4-5h8m-7-4h8m-6 2h8m12 26h8m-496 39h8m-8-6h8m2 6h8m8 8h8m-3-8h8m-3-6h8m4 0h8m-7-20h8m-6 1h8m-7 23h8m1 0h8m-4 5h8m-2-19h8m-4 3h8m-8 15h8m-8-16h8m-7 19h8m-5-15h8m-6 17h8m-8-7h8m-7-18h8m-6 9h8m-5 4h8m-7 9h8m-6-26h8m-6 1h8m-8 28h8m-6 3h8m-7-22h8m-7-1h8m-8 15h8m-7-31h8m-7 14h8m-8-6h8m-8 20h8m-7-10h8m-7 15h8m-8-27h8m-8 30h8m-7 2h8m-8 0h8m-8-30h8m-5 4h8m-8 23h8m-8-34h8m-7 37h8m-8-8h8m-8 2h8m-8-3h8m-7 9h8m-7-21h8m-8 14h8m-8-6h8m-8 0h8m-7-22h8m-8 10h8m-8-12h8m-7 17h8m-8 10h8m-8-20h8m-7 0h8m-8 12h8m-8 10h8m-6-22h8m-8 8h8m-7-15h8m-8 27h8m-7-10h8m-7 4h8m-8 8h8m-6-15h8m-8 4h8m-8-8h8m-6 8h8m-8-8h8m-7 9h8m-7-11h8m-6 4h8m-7 1h8m-8-4h8m-6 0h8m-7-4h8m-7 1h8m-6-7h8m-7 4h8m-7 0h8m-7 0h8m224 32h8m1-9h8m-7-2h8m-7 4h8m-8 8h8m-5-10h8m-8-4h8m-7-4h8m-7 5h8m-8-7h8m-4 1h8m-7 18h8m-8-23h8m-7 25h8m-7-27h8m-5 4h8m-8 9h8m-5-13h8m-8 2h8m-8-11h8m-6 28h8m-6-24h8m-8-6h8m-8 9h8m-6 11h8m-8-8h8m-4 2h8m-8-7h8m-6-2h8m-8 25h8m-7 1h8m-7-23h8m-6 29h8m-7-34h8m-5 36h8m-7-37h8m-3 7h8m-3 28h8m-1-15h8m-6 9h8m-6-15h8m-7 3h8m-7 8h8m-4-21h8m27-3h8m-4-3h8m18 4h8m-559 56h8m-6-19h8m23 36h8m3-26h8m-6 16h8m-1 5h8m3-23h8m-6 30h8m0 0h8m-8-20h8m-6-13h8m-6 26h8m-5 4h8m-8-16h8m-7-3h8m-7 10h8m-7 5h8m-3-23h8m-6 25h8m-8-6h8m-7 10h8m-8-1h8m-6-12h8m-6 10h8m-6 0h8m-2-1h8m-2 5h8m-8-37h8m-7 19h8m-7 4h8m-7 4h8m-7 2h8m-8 5h8m-8-14h8m-8-13h8m-7 16h8m-8-22h8m-7 23h8m-7-8h8m-8 8h8m-8-23h8m-6 30h8m-7-23h8m-8 1h8m-7 21h8m-8-13h8m-7-8h8m-7 6h8m-7 10h8m-8-7h8m-6 5h8m-7-12h8m-8 16h8m-6-5h8m-6-10h8m-8-4h8m-6 8h8m-6-1h8m-6-8h8m-8 3h8m-7-11h8m-7 13h8m-7-8h8m-8-4h8m-8 8h8m-7-8h8m-8-2h8m-7 12h8m-8-4h8m-6-5h8m-3-3h8m208 39h8m-5-2h8m-7 2h8m-2-8h8m-8-2h8m-7 0h8m-8 6h8m-7 4h8m-7-11h8m-5-1h8m-6-1h8m-7 6h8m-3-10h8m-7-1h8m-7 14h8m-8-11h8m-7 4h8m-8-11h8m-7 14h8m-6-18h8m-8 2h8m-7 1h8m-6 22h8m-8-16h8m-8 0h8m-8-10h8m-7 0h8m-7-1h8m-7 1h8m-6 12h8m-8-22h8m-8 16h8m-8-2h8m-8-3h8m-8 10h8m-8-6h8m-7 7h8m-7-23h8m-8 11h8m-6 7h8m-7-14h8m-7 4h8m-7 11h8m-5 2h8m-7-3h8m-8-15h8m-7 29h8m-3-5h8m-8-27h8m-7-1h8m-8 24h8m-8-2h8m-7-11h8m-8-9h8m-6 36h8m-8-15h8m-7 0h8m-8-6h8m-6-6h8m-7 19h8m-7 1h8m-6 7h8m-8-37h8m-6 8h8m-6-2h8m-7 22h8m-6 0h8m-4-5h8m-7-11h8m-6-4h8m-7 11h8m-8-7h8m16 4h8m4 9h8m-4 12h8m11-20h8m0 3h8m21-7h8m-542 46h8m-8 16h8m-1 3h8m7-15h8m2 9h8m-1-2h8m4-28h8m-3 17h8m-7-18h8m-5 9h8m-8 5h8m-7-14h8m-7 32h8m-5-30h8m-8 22h8m-8-11h8m-4 2h8m-8-10h8m-7 30h8m-8-5h8m-6-19h8m-7 11h8m-7-11h8m-8 21h8m-8-26h8m-8-1h8m-7 25h8m-5 3h8m-8-27h8m-8 31h8m-7-31h8m-7 1h8m-7 4h8m-6 12h8m-7 4h8m-5-27h8m-8 23h8m-7 4h8m-7-26h8m-8 13h8m-7 7h8m-6-17h8m-6 10h8m-7 1h8m-5 2h8m-7-2h8m-7-8h8m-8-6h8m-7 4h8m-8 10h8m-7-8h8m-8 2h8m-6-9h8m-8 1h8m-8 3h8m-5 0h8m-7-2h8m209 34h8m-2-6h8m-6-4h8m-7 10h8m-7-4h8m-8-4h8m-6 9h8m-8-19h8m-7 2h8m-8 10h8m-7 1h8m-7-11h8m-8 7h8m-7-5h8m-7 1h8m-8 12h8m-8-13h8m-6-5h8m-6 0h8m-8 3h8m-7 10h8m-6-1h8m-8-15h8m-8 5h8m-7-2h8m-6 11h8m-7-5h8m-8 0h8m-8-18h8m-8 17h8m-7-12h8m-8 25h8m-7-14h8m-8 11h8m-7-6h8m-8-22h8m-7-1h8m-8 15h8m-7-17h8m-8-2h8m-7 35h8m-6-25h8m-8 8h8m-8-13h8m-7 5h8m-8 1h8m-7 18h8m-8-29h8m-8 23h8m-7-19h8m-8 26h8m-8-25h8m-8 10h8m-8-11h8m-7 26h8m-7-13h8m-6 1h8m-7 2h8m-3-8h8m-7 0h8m-6 25h8m-5-7h8m-7-14h8m-7-17h8m-2 13h8m-2 3h8m-6-11h8m-4 20h8m-5 4h8m-7-19h8m-8-7h8m-5 18h8m-8-3h8m-5 12h8m-4 6h8m-3 2h8m-4-32h8m-6 27h8m9-8h8m-6 2h8m-1-27h8m-7 32h8m-8-2h8m-5-7h8m1-13h8m-8-2h8m-6 7h8m1 2h8m-7-10h8m23 9h8m-8-2h8m-7 25h8m24-24h8m64-10h8m-627 50h8m6 5h8m-7-8h8m-7 27h8m4-29h8m-6 25h8m-8 2h8m-4-32h8m-8 29h8m-1-26h8m-7 24h8m-6 3h8m-1-7h8m-8-23h8m-4 30h8m-8-24h8m-5 2h8m-7 20h8m-7 2h8m-7-9h8m-7-19h8m-8-3h8m-8 17h8m-8 16h8m-6-32h8m-6 23h8m-7-25h8m-7 16h8m-8 0h8m-6-17h8m-7 7h8m-5 1h8m-8 8h8m-7-1h8m-7 0h8m-6-2h8m-7-6h8m-6 5h8m-8-3h8m-5-6h8m-7-2h8m-7 3h8m208 30h8m-5 2h8m-6-2h8m-4 0h8m-8-5h8m-7 3h8m-5 3h8m-7-21h8m-5 21h8m-8-20h8m-5-2h8m-8 19h8m-8-10h8m-8 13h8m-6-32h8m-8 8h8m-7 2h8m-6-5h8m-7 7h8m-8-7h8m-7-7h8m-8 21h8m-7 7h8m-7-30h8m-8 12h8m-6-4h8m-7 10h8m-8 8h8m-7-26h8m-7 33h8m-8-33h8m-8 36h8m-7-1h8m-8-34h8m-7 30h8m-7-24h8m-8-7h8m-6 0h8m-7 8h8m-8 14h8m-8-19h8m-6 15h8m-7-14h8m-8 6h8m-7 9h8m-8-20h8m-7 21h8m-8 18h8m-8-26h8m-7 0h8m-7-12h8m-6 0h8m-8 17h8m-7-13h8m-8 7h8m-7 17h8m-8-2h8m-7-22h8m-7 7h8m-7 10h8m-7 13h8m-5-13h8m-7 11h8m-4-6h8m-7 6h8m-7 3h8m-8-22h8m-4 17h8m-5 3h8m-6-28h8m-5 16h8m-6-7h8m-5 23h8m-6-22h8m-8 22h8m-4-31h8m-6 8h8m-4 7h8m-7 8h8m-8-24h8m-6 2h8m0-1h8m-7 18h8m-4-20h8m-7 9h8m12 5h8m4-12h8m-1 6h8m4-12h8m-5 12h8m1 25h8m1-33h8m5-4h8m-6 0h8m16 13h8m57 16h8m-599 26h8m-4 17h8m-4-11h8m-3 11h8m-1-15h8m0 1h8m-2 16h8m-6-12h8m-7 6h8m-7-23h8m-5 32h8m-8-5h8m-7-28h8m-8 24h8m-8-27h8m-7 36h8m-6-34h8m-7 1h8m-7 11h8m-7 20h8m-7-16h8m-8-19h8m-7 33h8m-7-18h8m-7 7h8m-5-23h8m-7 0h8m-5 7h8m210 26h8m-6-1h8m-5 3h8m-7 2h8m-5 2h8m-6-9h8m-7-2h8m-7 2h8m-8 2h8m-8-3h8m-8-5h8m-7 9h8m-8-6h8m-7-7h8m-7-2h8m-8 4h8m-8 3h8m-5-7h8m-7-13h8m-8 34h8m-8-21h8m-6 10h8m-8-12h8m-8-4h8m-7-8h8m-8 10h8m-7 10h8m-8-11h8m-7 23h8m-8-20h8m-7 13h8m-7 10h8m-8-28h8m-7-6h8m-7 0h8m-8-2h8m-7 23h8m-7 0h8m-8-24h8m-8 36h8m-8-26h8m-7-6h8m-7 13h8m-7 15h8m-8-17h8m-5 0h8m-8-13h8m-5 8h8m-8 1h8m-6-13h8m-8 32h8m-7-25h8m-6 22h8m-8-27h8m-7 7h8m-6 17h8m-7-16h8m-8 23h8m-5-13h8m-7-17h8m-6 31h8m-8-27h8m-6-7h8m-7 0h8m-2 16h8m-7 19h8m-6-30h8m-5 23h8m-7 3h8m-5-24h8m-5 4h8m-7-1h8m0-5h8m-6 7h8m-3 10h8m-5-12h8m-2 25h8m-7-22h8m-4 4h8m-5 15h8m4 5h8m6-17h8m1-19h8m11 21h8m-5-22h8m-5 37h8m45-32h8m-1 17h8m1-18h8m1 31h8m-2-27h8m0 12h8m-541 23h8m9 11h8m-6 17h8m-6-24h8m-5 25h8m-3-25h8m-7 3h8m-7-7h8m-1 16h8m-7 9h8m-5 6h8m-6-1h8m189 3h8m-7-1h8m-5-4h8m-7 0h8m-6-6h8m-8 5h8m-6-8h8m-8 2h8m-8-1h8m-6 8h8m-8-5h8m-5 0h8m-7-4h8m-6-12h8m-8 23h8m-8-3h8m-8-18h8m-8 13h8m-8-5h8m-6-10h8m-7 0h8m-6 12h8m-8-12h8m-7-7h8m-8 3h8m-8 0h8m-7 12h8m-7-10h8m-7-2h8m-8-4h8m-8 15h8m-7-13h8m-8 4h8m-8 22h8m-6-29h8m-6 31h8m-8-27h8m-7 9h8m-8 20h8m-7-27h8m-8-2h8m-6 0h8m-7 9h8m-8 5h8m-7-11h8m-7 19h8m-7-11h8m-6-2h8m-7 22h8m-5-17h8m-7-18h8m-6 3h8m-2 10h8m-6-13h8m-7 28h8m-7-24h8m-8 0h8m-7-1h8m-8 22h8m-8-15h8m-5-6h8m-8 15h8m-6-18h8m-7 12h8m-5 6h8m-7-14h8m-7 19h8m-3-12h8m-3 11h8m-6-1h8m-3-1h8m4-21h8m-5 34h8m2-6h8m2-27h8m-4 31h8m-5-19h8m0-1h8m8 1h8m-3-9h8m7 5h8m-6 14h8m1 5h8m-419 29h8m-3 13h8m-4-13h8m-5-11h8m-7 21h8m-5-17h8m-2-5h8m-7 2h8m-5 7h8m1-6h8m-3 22h8m-4-1h8m-6-2h8m139 10h8m-1 0h8m-6-5h8m-6-6h8m-6-3h8m-7-3h8m-7 3h8m-2-8h8m-7-2h8m-8 8h8m-6-13h8m-7 19h8m-8-5h8m-8 4h8m-8-10h8m-6-7h8m-7 19h8m-8 3h8m-8-17h8m-7-2h8m-7 18h8m-6 1h8m-6-2h8m-5-16h8m-6 16h8m-7-22h8m-5-8h8m-7 2h8m-1 21h8m-3 8h8m-4-9h8m-3-3h8m-5-4h8m-6-9h8m-7 31h8m-6-30h8m-7 25h8m-3-29h8m-6 5h8m-5-7h8m-7 2h8m1 8h8m-2-7h8m-8 10h8m-1-9h8m-5-2h8m12 5h8m-7-3h8m14 12h8m141 18h8m71-25h8m-543 54h8m15 0h8m9-6h8m-6 1h8m29 13h8m-1 1h8m12-5h8m6 8h8m7-14h8m-7-4h8m-3 17h8m-8-24h8m-4 12h8m2 9h8m-7-32h8m-7 15h8m-6-10h8m-8 10h8m1 12h8m-2-18h8m-7 10h8m-6-3h8m-5-3h8m-8 16h8m3-25h8m-6 7h8m-7-11h8m-2 15h8m-7-10h8m17 1h8m-7 2h8m29 13h8m2 17h8m-6-35h8m9 22h8m6-24h8m5 27h8" stroke="#333" stroke-width="8" opacity="0.55"/><path transform="translate(185.80 89.20) scale(.1)" d="M162 625l-24 0l-26-7l-22-13l-19-20l-12-25l-5-25l3-27l10-26l141-194l73-118l40-48l14-12l15-9l15-7l17-4l18-2l18 1l17 5l15 7l18 12l15 17l11 20l7 25l1 25l-4 22l-7 20l-15 30l-17 28l-20 28l-64 65l-27 32l-126 168l-12 12l-15 10l-15 6z" fill="#e2e2e2" fill-rule="evenodd" stroke="#505050" stroke-width="5.0"/><path transform="translate(185.80 89.20) scale(.1)" d="M168 603l-23 2l-20-4l-20-11l-15-15l-11-20l-4-20l2-23l8-20l137-188l75-119l39-47l24-18l12-6l16-3l14-1l16 1l20 6l12 5l12 10l9 16l7 22l3 20l-1 18l-5 17l-21 43l-18 27l-18 23l-32 34l-29 28l-25 29l-124 169l-18 15z" fill="#d6d6d6" fill-rule="evenodd" stroke="#999" stroke-width="3.0"/><path transform="translate(185.80 89.20) scale(.1)" d="M162 583l-17 2l-15-4l-15-8l-10-10l-8-15l-2-16l2-14l6-16l127-170l28-42l48-82l18-26l24-27l18-15l22-8l14-1l26 1l17 6l7 7l5 10l3 25l0 20l-7 25l-24 45l-18 25l-36 46l-33 23l-24 29l-80 107l-47 65l-13 12z" fill="#c8c8c8" fill-rule="evenodd" stroke="#999" stroke-width="3.0"/><path transform="translate(185.80 89.20) scale(.1)" d="M158 568l-13 1l-10-2l-10-6l-8-9l-5-10l-1-10l1-12l5-10l47-52l77-106l29-44l44-83l15-23l17-20l22-22l17-9l23-3l20 2l7 3l6 7l4 12l1 16l-2 14l-4 13l-10 23l-24 40l-21 28l-23 26l-30 16l-25 24l-89 118l-37 62l-11 11z" fill="#bababa" fill-rule="evenodd" stroke="#888" stroke-width="3.0"/><path transform="translate(185.80 89.20) scale(.1)" d="M315 320l-7 1l-4-3l-1-10l3-16l15-42l21-35l20-23l23-20l10-3l10-1l13 1l7 3l3 6l3 7l-3 20l-17 37l-19 31l-14 18l-13 10zM155 553l-13 0l-10-6l-5-9l0-13l8-13l13-10l14-6l10 1l6 4l1 7l-2 20l-10 17z" fill="#cccccc" fill-rule="evenodd" stroke="#999" stroke-width="3.0"/><path transform="translate(185.80 89.20) scale(.1)" d="M362 273l-14 2l-6-2l-2-4l0-14l9-20l13-17l16-14l22-13l5-1l5 1l3 7l-1 7l-4 16l-10 21l-18 22zM150 538l-6-3l-1-7l5-6l7-1l4 4l-1 5l-3 5z" fill="#eeeeee" fill-rule="evenodd"/></g><rect x="185.80" y="89.20" width="64.30" height="64.40" fill="none" stroke="#adadad" stroke-width="0.9"/><path d="M185.80 95.64h-1.2M185.80 109.81h-1.2M185.80 124.62h-1.2M185.80 139.43h-1.2M185.80 152.63h-1.2M189.02 153.60v1.2M203.16 153.60v1.2M217.95 153.60v1.2M232.10 153.60v1.2M244.96 153.60v1.2" stroke="#666" stroke-width="0.6"/><rect x="198.66" y="153.50" width="2.6" height="1.3" fill="#111"/><path transform="translate(185.80 89.20)" d="M18.6 27.5C23 20.5 31 12.5 38.6 11.5C42 11.1 45 11.5 47.4 12.3C53.5 20 52 34 43.2 44.6Z" fill="none" stroke="#f0606e" stroke-width="1.1"/><text transform="translate(193.44 97.91) scale(0.9015 1)" font-size="8.73" fill="#111" stroke="#111" stroke-width="0.15">46.9</text><g><path transform="translate(44.50 158.20) scale(.1)" d="M377 107h8m-207 127h8m78-14h8m34 16h8m31-12h8m33 15h8m-216 20h8m59-10h8m7-4h8m-5 22h8m-1 1h8m-3-4h8m-4 14h8m-5-1h8m-5 0h8m5-2h8m3-12h8m10 11h8m-3-19h8m44 22h8m-7-37h8m18 16h8m112 22h8m-452 32h8m25-17h8m-7 15h8m21-5h8m2 15h8m0 1h8m-5-1h8m7-9h8m0 10h8m-8-28h8m-6 14h8m1 0h8m-5-3h8m-7 16h8m-6-11h8m-2 9h8m-1-24h8m8 7h8m-6 8h8m-7 5h8m-7-15h8m-7 3h8m-7-14h8m3 7h8m-3 19h8m2 3h8m-6-15h8m-8 3h8m-2 3h8m-8-9h8m-8 11h8m-6-15h8m11 25h8m-7-22h8m-6-2h8m-6 22h8m-7-28h8m-6 11h8m-7 14h8m-8-13h8m-5 12h8m-1-7h8m-7 6h8m-3-22h8m-3 22h8m-7-11h8m-8-19h8m-8 38h8m-6-31h8m-6 20h8m-4 1h8m-5 8h8m-8-1h8m-5-14h8m-1 8h8m4-22h8m-4 23h8m-5-27h8m-6 27h8m-6-10h8m-4-18h8m-6 1h8m6 7h8m2-6h8m2 20h8m-5-15h8m17 13h8m-2-1h8m-5 13h8m36-19h8m6-13h8m31 8h8m51 25h8m-545 4h8m21 36h8m-7-7h8m2 9h8m-2-35h8m0 36h8m3-19h8m-5 12h8m-4-26h8m-7 18h8m-7 11h8m-6-11h8m-6 15h8m-7-2h8m-5-4h8m2-26h8m-6 2h8m-4 21h8m-6-14h8m-5-3h8m-4 22h8m-7-7h8m-7 9h8m-5-3h8m-7 2h8m-7-24h8m-7 22h8m-4 5h8m-8-12h8m-7 6h8m-7-14h8m-8-11h8m-3 22h8m-6 0h8m-8 9h8m-8-1h8m-7-26h8m-8 18h8m-7-12h8m0-18h8m-7 16h8m-7 22h8m-7-4h8m-8-10h8m-5-6h8m-7 17h8m-7 2h8m-7-18h8m-7-11h8m-5 28h8m-7 3h8m-7-1h8m-6-16h8m-7 11h8m-8 3h8m-7-31h8m-5 20h8m-7-14h8m-8 15h8m-8 5h8m-7-5h8m-7 13h8m-7-12h8m-7-5h8m-5 9h8m-8 4h8m-8-11h8m-6-19h8m-8 27h8m-7-24h8m-7 6h8m-6 1h8m-8 4h8m-7 14h8m-8-28h8m-8 22h8m-7-9h8m-7 9h8m-8 4h8m-7-24h8m-7 11h8m-7 14h8m-8 5h8m-6-18h8m-8 5h8m-5 7h8m-8-22h8m-8-3h8m-4 30h8m-8-24h8m-8 27h8m-6-9h8m-8-29h8m-8 24h8m-7-21h8m-6 15h8m-8 15h8m-6 5h8m-5-5h8m-8 4h8m-7 1h8m-5-27h8m-7-10h8m-7 4h8m-7 11h8m-6 19h8m-7-2h8m-8-3h8m-6 1h8m-6-17h8m-7 17h8m-6-21h8m-8 23h8m-6-15h8m-6-6h8m-7-5h8m-4 15h8m-2-1h8m-7 4h8m-8 2h8m-7 11h8m-7-20h8m-6 9h8m-5-27h8m-7 13h8m-8-6h8m-5 24h8m-5-12h8m-8 0h8m-7-13h8m-5 7h8m-8 13h8m-5-7h8m-7 8h8m-7-4h8m-5-19h8m-7 30h8m-8-9h8m-8-14h8m-6 2h8m-6 1h8m-6 21h8m-6-30h8m-7 19h8m-8-15h8m-7 6h8m2-2h8m-5 5h8m-2 14h8m-7-31h8m-6 28h8m0-20h8m-6 25h8m-7 1h8m-7-33h8m1 17h8m-7-10h8m-7 19h8m-8 0h8m-3 5h8m1-23h8m-6 15h8m-6-5h8m5 16h8m-8-19h8m-4 1h8m-1 17h8m-6-10h8m-8 7h8m-7-1h8m3 0h8m3-7h8m22-5h8m2-4h8m114 13h8m-566 30h8m0 16h8m-6-24h8m-7 7h8m-4 12h8m-6-16h8m0 25h8m-3-1h8m-3 1h8m-5-20h8m-8-15h8m-3 8h8m-7 19h8m-8-4h8m-5-16h8m-7 22h8m-7-8h8m-7-2h8m-4-18h8m-8 10h8m-5 15h8m-3-8h8m-5-17h8m-8 11h8m-6 9h8m-8 0h8m-7-16h8m-8 8h8m-5-14h8m-8 11h8m-6-6h8m-8 6h8m-8 0h8m-6 2h8m-7-9h8m-7 6h8m-7-9h8m-7 13h8m-7 0h8m-5 3h8m-2-16h8m-6 3h8m-7 4h8m-4-9h8m-8 8h8m-4-3h8m4 1h8m-7 0h8m-7-4h8m-7-4h8m-3 0h8m0 1h8m-8 3h8m-5-2h8m-3 2h8m-1-3h8m-7 3h8m-8-4h8m2 5h8m-7-2h8m-5-2h8m-8 6h8m-7-5h8m-8 3h8m-3 2h8m-8-6h8m-4 2h8m-8 3h8m-3 3h8m-7-5h8m-6 0h8m-6 3h8m-7 5h8m-8-5h8m-7 5h8m-6-3h8m-6-8h8m-6 14h8m-8-7h8m-6 7h8m-5-9h8m-6 2h8m-8-6h8m-7 8h8m-7-6h8m-5 13h8m-6-1h8m-7 0h8m-7-11h8m-6 16h8m-7-2h8m-6 4h8m-8-4h8m-8-1h8m-7 2h8m-6 3h8m-7-3h8m-6-8h8m-7-3h8m-7 11h8m-8 9h8m-8-11h8m-7-5h8m-8-6h8m-7 18h8m-8-5h8m-7-4h8m-8-1h8m-7 4h8m-8-3h8m-3 8h8m-6-2h8m-8 11h8m-8-4h8m-7-23h8m-8 9h8m-8 8h8m-7 15h8m-8-27h8m-8 8h8m-8 15h8m-7-29h8m-8 7h8m-6 15h8m-7-13h8m-8 2h8m-7-9h8m-7 28h8m-8-9h8m-8 9h8m-6 4h8m-8-17h8m-8 2h8m-7-11h8m-8 18h8m-7 2h8m-6-32h8m-8 20h8m-8-1h8m-8 13h8m-8-8h8m-7-11h8m-7 16h8m-8-25h8m-8 34h8m-7-30h8m-7-9h8m-6 22h8m-5-20h8m-8 18h8m-7 15h8m-8-22h8m-7-4h8m-7 23h8m-8-15h8m-8 18h8m-7-12h8m-7-5h8m-8-4h8m-7 0h8m-6-11h8m-7-1h8m-8 23h8m-7 12h8m-8-19h8m-6 20h8m-7-25h8m-5 13h8m-8-1h8m-6 4h8m-5-9h8m-8-5h8m-6 6h8m-7 6h8m-7-5h8m-8 5h8m-8 1h8m-7-10h8m-8-8h8m-3 12h8m-3 5h8m-7-26h8m-8 32h8m-7-17h8m-7-9h8m-7-1h8m-6-6h8m-5 20h8m-7-12h8m-7-3h8m-8 3h8m-7 14h8m-7-21h8m-8 25h8m-8 10h8m-6-12h8m-6-6h8m-7 17h8m-8-12h8m-7-18h8m-7 13h8m-8 0h8m-8 5h8m-6 15h8m-4-30h8m-7 6h8m-2-14h8m-8 5h8m-4 28h8m2-10h8m-3-20h8m-6 23h8m-8-1h8m-7-20h8m-4 21h8m-7 5h8m-3-11h8m6-15h8m-1 15h8m3 7h8m10-10h8m3-7h8m37 11h8m14 6h8m66 11h8m-608 25h8m6-9h8m-8-7h8m7-5h8m-5 32h8m-5-34h8m-8 36h8m-8-21h8m-5 13h8m-5-17h8m-2-2h8m-6 8h8m-5-3h8m-5 7h8m-8-1h8m-8 9h8m-7-19h8m-7 22h8m-5-7h8m-6-14h8m-8 22h8m3-20h8m-1-6h8m-6-2h8m-8 4h8m-6 0h8m185-7h8m-6 0h8m-4 1h8m-6-2h8m-6 12h8m-6 6h8m-7 0h8m-8-14h8m-4-1h8m-4 7h8m-8 26h8m-6-35h8m-8 8h8m-6 24h8m-8-14h8m-7-15h8m-8-3h8m-7 28h8m-7-13h8m-6-7h8m-6 20h8m-8-12h8m-8-17h8m-7 36h8m-7-1h8m-8-2h8m-7-14h8m-7 15h8m-8-20h8m-7 8h8m-8-10h8m-3 9h8m-2 6h8m-7 4h8m-7-14h8m-5 7h8m-8 9h8m-6-19h8m4 17h8m-8-18h8m-7-7h8m-6 25h8m-7-19h8m-7 11h8m-4-11h8m-7 11h8m2-18h8m-6 14h8m13 18h8m-6-38h8m-4 3h8m-4 10h8m-1 16h8m-3-3h8m-2-17h8m4 10h8m0-1h8m-7 14h8m-1-14h8m-4 14h8m3-14h8m3 6h8m1-24h8m50 28h8m15 1h8m-7-7h8m-4 17h8m7-29h8m3-5h8m-2-4h8m-605 57h8m-3-14h8m2 15h8m-4 5h8m-6 13h8m-1-26h8m-7-8h8m-3 18h8m-7 14h8m-6-4h8m-3-13h8m-5 13h8m-6 4h8m-7-11h8m-7-17h8m-8 8h8m-5-8h8m-6-7h8m240 5h8m-7-1h8m-8-1h8m-8 8h8m-7-7h8m-7 17h8m-8-19h8m-7 8h8m-7 11h8m-7 15h8m-8-9h8m-8 5h8m-8-12h8m-7-15h8m-7-3h8m-8 6h8m-7 5h8m-8 18h8m-6-25h8m-8 14h8m-8 8h8m-6-2h8m-7-15h8m-8 23h8m-7-16h8m-7 8h8m-7 3h8m-7-26h8m-7-1h8m-6 23h8m-8-16h8m-3 21h8m-5-26h8m-3 26h8m-8 7h8m-5-2h8m1-20h8m-3 19h8m-7-34h8m-6 20h8m-8-16h8m2 3h8m-1 27h8m-2-12h8m17-15h8m1 12h8m-6 9h8m-4-3h8m-7-7h8m-1 1h8m-7-17h8m57 9h8m7 18h8m14-7h8m90 15h8m-638 34h8m6-14h8m-5-5h8m-6 14h8m-7-19h8m-7 13h8m-4-8h8m-7 18h8m-5-3h8m-8-3h8m-7-8h8m-3 4h8m-5 7h8m-5-27h8m-7 35h8m-8-28h8m254 26h8m-6 5h8m-8-13h8m-7-5h8m-8 15h8m-8 0h8m-7-31h8m-7 15h8m-7-7h8m-7 20h8m-7-5h8m-7-1h8m-6-22h8m-6 25h8m-7-11h8m-6 13h8m-7-2h8m-5-9h8m1-7h8m-4 0h8m-7 22h8m-8-4h8m-2-12h8m-1 6h8m-7-3h8m-8 13h8m9-21h8m-6 1h8m-2-10h8m-7 5h8m-8-6h8m0-4h8m-5 32h8m-7-2h8m-6-10h8m-8-3h8m2 20h8m156-20h8m13 4h8m-577 35h8m-4-3h8m-4 26h8m0-38h8m-8 11h8m-6-4h8m-8-1h8m-7 4h8m-6 20h8m-7-26h8m-8 4h8m-5 30h8m-8-15h8m-7-6h8m-7-2h8m-8-6h8m-7 0h8m-7 9h8m-6 0h8m-8 20h8m-7-7h8m226 6h8m-6-4h8m-6-2h8m-4-5h8m-8-14h8m-7 0h8m-7 7h8m-8 2h8m-7-6h8m-5 14h8m-6-29h8m-5 10h8m-8 20h8m-7-20h8m-8 17h8m-6-9h8m-8 8h8m-8-7h8m-4-3h8m-4-9h8m-6 30h8m-7-9h8m-6-18h8m-8 11h8m-7 1h8m-7-22h8m-7 18h8m-7-19h8m-1 5h8m-8 34h8m2-36h8m-1-3h8m-7 0h8m4 36h8m12-4h8m2-14h8m-3-9h8m-2 24h8m1 0h8m23-32h8m17-1h8m36 36h8m5-33h8m-1-1h8m9 22h8m3-10h8m-542 64h8m0-35h8m-3 30h8m-6-15h8m-2-9h8m-8 11h8m0 3h8m-7 10h8m-5-23h8m-6 14h8m-8-6h8m-7-11h8m-8 14h8m-7 2h8m-7 7h8m-6-5h8m-1-2h8m-6 11h8m-1 4h8m-6-4h8m-6-1h8m143 2h8m-5 4h8m-2-6h8m-5 6h8m-2-15h8m-8 10h8m-6 1h8m-3-2h8m-6 6h8m-6-16h8m-5-11h8m-4 24h8m-7-24h8m-8-1h8m-7-7h8m3 24h8m-1-10h8m-6-10h8m10 21h8m0-26h8m-6 4h8m33 25h8m-6-30h8m0 36h8m-4-27h8m-2-11h8m18 23h8m-1-12h8m-4 5h8m24-16h8m4 23h8m79-4h8m6 3h8m-541 29h8m8 17h8m-1-16h8m-7-3h8m0-4h8m-5 16h8m-1 3h8m-3-18h8m-8-2h8m-4 6h8m-7-2h8m-7-4h8m-4 9h8m-7 9h8m-8-6h8m-3-12h8m-3 24h8m-7-21h8m-1 21h8m-5-17h8m-2 8h8m-8 3h8m-6 5h8m-4 12h8m-3-20h8m5-1h8m2 16h8m-7-2h8m-7 1h8m-5-4h8m1 2h8m-2 1h8m-6-15h8m-3-2h8m-7 0h8m-8 7h8m-5-6h8m-6 20h8m-7-16h8m-1 5h8m-7 9h8m-8-18h8m8 8h8m-2-7h8m1-15h8m-1 8h8m-5-3h8m4-5h8m-6 5h8m12 3h8m-8 9h8m18-16h8m2 13h8m-2-9h8m36 18h8m11 12h8m27-34h8m21 29h8m12 1h8" stroke="#333" stroke-width="8" opacity="0.55"/><path transform="translate(44.50 158.20) scale(.1)" d="M172 615l-27-1l-25-6l-22-11l-21-17l-15-20l-10-25l-4-25l3-28l8-24l13-26l19-22l21-18l26-14l27-10l30-3l27 2l23 7l17 9l18 14l13 15l11 20l6 20l2 23l-3 23l-8 24l-10 20l-15 20l-16 17l-18 12l-22 12l-22 8z" fill="#8c8c8c" fill-rule="evenodd"/><path transform="translate(44.50 158.20) scale(.1)" d="M185 590l-23 2l-22-3l-20-8l-18-12l-14-17l-9-17l-5-20l0-20l4-23l9-20l14-20l17-16l20-13l22-10l22-4l23 0l17 3l18 7l15 10l12 11l10 15l6 15l3 18l0 17l-3 17l-6 18l-10 18l-12 14l-15 14l-18 11l-20 9z" fill="#f0f0f0" fill-rule="evenodd"/><path transform="translate(44.50 158.20) scale(.1)" d="M180 580l-20 1l-20-4l-18-8l-14-11l-11-13l-9-17l-3-18l0-20l5-20l9-18l13-17l16-14l17-11l20-7l20-4l20 1l15 3l15 6l13 9l12 12l8 12l5 16l2 14l0 18l-4 18l-7 14l-10 16l-11 12l-13 11l-18 10l-14 6z" fill="#cdcdcd" fill-rule="evenodd" stroke="#999" stroke-width="3.0"/><path transform="translate(44.50 158.20) scale(.1)" d="M175 560l-15-1l-15-3l-13-7l-10-9l-9-12l-5-13l-2-15l2-15l5-15l9-15l10-12l13-10l15-7l15-5l15-1l15 1l23 10l16 17l5 10l4 12l-1 25l-10 25l-17 19l-23 14l-14 5z" fill="#bbbbbb" fill-rule="evenodd" stroke="#999" stroke-width="3.0"/><path transform="translate(44.50 158.20) scale(.1)" d="M185 538l-23 0l-17-8l-12-15l-4-10l0-10l5-20l14-18l20-12l22-4l18 5l12 9l8 13l3 17l-4 17l-9 16l-16 13z" fill="#a6a6a6" fill-rule="evenodd" stroke="#888" stroke-width="3.0"/><path transform="translate(44.50 158.20) scale(.1)" d="M182 518l-12 0l-11-6l-7-7l-2-13l4-12l8-10l10-6l13-3l10 3l9 6l4 8l2 10l-2 10l-7 10l-9 6z" fill="#b4b4b4" fill-rule="evenodd"/><path transform="translate(44.50 158.20) scale(.1)" d="M180 505l-8 0l-4-4l-3-3l-1-8l3-8l5-4l6-3l7 0l9 5l2 10l-5 10z" fill="#f0f0f0" fill-rule="evenodd"/></g><rect x="44.50" y="158.20" width="64.30" height="64.40" fill="none" stroke="#adadad" stroke-width="0.9"/><path d="M44.50 164.64h-1.2M44.50 178.81h-1.2M44.50 193.62h-1.2M44.50 208.43h-1.2M44.50 221.63h-1.2M47.72 222.60v1.2M61.86 222.60v1.2M76.65 222.60v1.2M90.80 222.60v1.2M103.66 222.60v1.2" stroke="#666" stroke-width="0.6"/><rect x="57.36" y="222.50" width="2.6" height="1.3" fill="#111"/><path transform="translate(44.50 158.20)" d="M18.6 27.5C23 20.5 31 12.5 38.6 11.5C42 11.1 45 11.5 47.4 12.3C53.5 20 52 34 43.2 44.6Z" fill="none" stroke="#f0606e" stroke-width="1.1"/><text transform="translate(51.50 166.90) scale(0.9081 1)" font-size="8.86" fill="#111" stroke="#111" stroke-width="0.15">2.44</text><g><path transform="translate(115.00 158.20) scale(.1)" d="M527 106h8m-333 82h8m74-13h8m1 22h8m21-4h8m54-1h8m-1 4h8m80-20h8m-329 54h8m52-1h8m18 7h8m-2-14h8m-3 4h8m-4-9h8m1 15h8m8-27h8m-7 3h8m-2 27h8m-3-6h8m-5-21h8m-7 17h8m-5 2h8m-1-19h8m-3 21h8m-4-19h8m-1-7h8m4 30h8m-8-4h8m-4 7h8m-8-26h8m-2 22h8m-4-16h8m0 22h8m-8-18h8m-7 3h8m-7 13h8m-3-25h8m-7 2h8m-4 15h8m1-20h8m-6 28h8m-5-27h8m5 2h8m-4 3h8m17 25h8m-5-6h8m-2-1h8m-5-17h8m24-2h8m46 12h8m12 4h8m8-6h8m-417 40h8m18 7h8m-5-4h8m-7 5h8m-4-19h8m-2 12h8m5-24h8m-7 32h8m-8-5h8m-7-4h8m-1-20h8m-6 21h8m-3-4h8m-8-3h8m-6-7h8m-7 10h8m-4 16h8m-5-18h8m-1 6h8m-7-15h8m-5 11h8m-6-3h8m-4-15h8m-5 31h8m-5-7h8m-7 5h8m-8 6h8m-6-21h8m-7 18h8m-7-28h8m-8-5h8m-7 32h8m-8-6h8m-6-8h8m-4 10h8m-8-9h8m-7 18h8m-7-13h8m-7 1h8m-8 3h8m-8-15h8m-7 9h8m-7 1h8m-7 12h8m-8-14h8m-7 5h8m-7-11h8m-7 2h8m-8 5h8m-4 6h8m-5-12h8m-8 9h8m-7 1h8m-7-22h8m-6 22h8m-6-14h8m-7 8h8m-6-12h8m-8-4h8m-7 4h8m-6-2h8m-7-3h8m-7 5h8m-1 1h8m-7 3h8m-7 4h8m-7-11h8m-8 5h8m-7-6h8m-7 7h8m-3 0h8m-7-9h8m-8 8h8m2-11h8m-7 2h8m-5 3h8m0-5h8m-8 10h8m3-3h8m-1-7h8m-6 8h8m-2-8h8m-6 10h8m-6-10h8m-5 9h8m-6 1h8m-5 1h8m-6-9h8m-1 12h8m2-4h8m-4-1h8m-1 13h8m-8-10h8m-3 2h8m-5 13h8m-5-10h8m-7 16h8m-8-3h8m-2-13h8m-6 4h8m-5 11h8m-4-2h8m4-7h8m-3-8h8m-5-13h8m36 12h8m-442 52h8m10 11h8m7 0h8m5-1h8m20-31h8m0 32h8m0-2h8m-5-2h8m-6-28h8m-6 17h8m-7 0h8m-7 9h8m-6-8h8m-8-5h8m-4-12h8m-7 27h8m-3-15h8m-7 10h8m-6-17h8m-3 10h8m-8-3h8m-6 10h8m-6-1h8m-6-24h8m-5 26h8m-8-14h8m-7 10h8m-8 6h8m-7 6h8m-8-26h8m-7 21h8m-7-6h8m-7 2h8m-7-1h8m-8-17h8m-7 15h8m-8 3h8m-5-20h8m-8 1h8m-7 26h8m-8-15h8m-8 12h8m-7-13h8m-7-12h8m-8 32h8m-7-18h8m-8 13h8m-8-8h8m-8 7h8m-7 0h8m-7-9h8m-8 4h8m-8 2h8m-8 5h8m-8 3h8m-7-13h8m-8 11h8m-8-26h8m-7 19h8m-8-16h8m-8 16h8m-6-3h8m-8-22h8m-8 20h8m-8 4h8m-7 11h8m-7-29h8m-8 14h8m-7-21h8m-8 34h8m-7-4h8m-8-11h8m-7 15h8m-6-12h8m-7 14h8m-8-4h8m-8-6h8m-8-24h8m-8 29h8m-8-4h8m-7-9h8m-8 9h8m-7 3h8m-8 6h8m-7-10h8m-8-18h8m-8 25h8m-7-6h8m-7-24h8m-8 31h8m-6-3h8m-7-16h8m-8-1h8m-7-13h8m-8 17h8m-8 13h8m-8-11h8m-8 7h8m-7-27h8m-8 18h8m-8-3h8m-8 11h8m-8-22h8m-7 23h8m-7-5h8m-8 8h8m-7 1h8m-7-11h8m-8-9h8m-7 1h8m-8-15h8m-8 5h8m-8 23h8m-6-26h8m-8 1h8m-8 2h8m-8 24h8m-7 0h8m-8-23h8m-7-6h8m-8 20h8m-7-12h8m-8-5h8m-6 12h8m-8 11h8m-8-14h8m-7 10h8m-8-11h8m-7 0h8m-8-9h8m-6 2h8m-8 6h8m-7 3h8m-8-2h8m-8-4h8m-7 7h8m-8-13h8m-7 10h8m-7 5h8m-7-13h8m-7 1h8m-6 11h8m-7-2h8m-8-4h8m-7 4h8m-7-3h8m-4-7h8m-4-1h8m-8 4h8m-7-3h8m-8 1h8m-5-3h8m163 17h8m-5-2h8m-6 19h8m-6-24h8m-2 25h8m-4-13h8m-8-10h8m-1-2h8m-4-10h8m2 26h8m-8 12h8m-7-31h8m9 20h8m-5 6h8m-6-7h8m-2 9h8m-7-8h8m4-27h8m34 19h8m43 18h8m-535 39h8m-6-10h8m-1 9h8m-6-21h8m-8 17h8m-4-2h8m-5 6h8m-4-19h8m-3 11h8m-5-20h8m1 29h8m-4-21h8m-7-8h8m-4 23h8m-8-11h8m-6 0h8m-7 15h8m-8-28h8m-7-2h8m-8 33h8m-5-25h8m-7 24h8m-5-6h8m-7-19h8m-6 18h8m-7-14h8m-4-5h8m-8 26h8m-8-33h8m-6 26h8m-8 5h8m-3-15h8m-8 8h8m-7 9h8m-7-14h8m-8-7h8m-8 18h8m-5-31h8m-8 22h8m-8-14h8m-7-1h8m-6-1h8m-6 2h8m-7 21h8m-8-1h8m-6 2h8m-8 1h8m-8-1h8m-7 0h8m-8-3h8m-6-27h8m-8 23h8m-8 7h8m-8-5h8m-7-4h8m-7-4h8m-8 15h8m-8-4h8m-7-20h8m-7 19h8m-7-3h8m-8-9h8m-7 21h8m-8-8h8m-8 6h8m-8 0h8m-7-4h8m-8-24h8m-8-5h8m-7 0h8m-8 33h8m-8-10h8m-7-18h8m-8 5h8m-7 0h8m-8-2h8m-8 17h8m-8 6h8m-7-25h8m-8 16h8m-8 0h8m-7-13h8m-8 0h8m-7 16h8m-7 3h8m-8-18h8m-8-2h8m-7 1h8m-8 5h8m-8 7h8m-7-14h8m-7 17h8m-8-5h8m-8 6h8m-8-28h8m-7 1h8m-8 21h8m-7 4h8m-7-17h8m-4-10h8m-8 2h8m-7 17h8m-8-1h8m-7-12h8m-8 5h8m-8 3h8m-7 4h8m-7-5h8m-8 6h8m-7-10h8m-7-7h8m-7 14h8m-6-12h8m-7 5h8m-8 2h8m-5-9h8m-8 10h8m-8-6h8m-7 1h8m-8 2h8m-6-4h8m-8-1h8m-4-3h8m-4-1h8m-6 1h8m-7-1h8m213 0h8m-8 1h8m-8 2h8m-7-3h8m-3 26h8m-7 1h8m-7-23h8m3 2h8m-3 14h8m-5 10h8m1 6h8m0-19h8m-7 3h8m-4-14h8m-2 15h8m-2-13h8m102-4h8m-8 1h8m-591 67h8m20 1h8m-2-18h8m-8 6h8m-3-8h8m-2 13h8m-2-22h8m-6 35h8m-2-8h8m-8-29h8m-7 29h8m-7 7h8m-6-11h8m-6 4h8m-8-2h8m-7-14h8m-8 21h8m-7-11h8m-8-22h8m-7 35h8m-8-29h8m-7 7h8m-6 14h8m-7-5h8m-6-14h8m-8 17h8m-7-24h8m-7 19h8m-7 9h8m-8 3h8m-6-27h8m-7-5h8m-8-1h8m-8 16h8m-8 10h8m-6-26h8m-7 15h8m-7 14h8m-8-3h8m-8-9h8m-5 13h8m-8 2h8m-7-4h8m-7 3h8m-7-27h8m-8 18h8m-7 4h8m-8 8h8m-7-12h8m-8 8h8m-7 6h8m-8-22h8m-8 10h8m-7 8h8m-8-10h8m-7 11h8m-7-7h8m-7 8h8m-7-33h8m-7 25h8m-7-18h8m-8 24h8m-8-20h8m-7-4h8m-8 12h8m-7-1h8m-8 6h8m-8-24h8m-8 1h8m-8 26h8m-7-8h8m-7 4h8m-8-5h8m-7 10h8m-5-12h8m-7 10h8m-8-29h8m-6 16h8m-5 8h8m-8 0h8m-8-15h8m-7 11h8m-8-1h8m-7 3h8m-6-14h8m-8-3h8m-8 12h8m-8-5h8m-7 7h8m-7-6h8m-7 4h8m-8-1h8m-8 3h8m-8-8h8m-7 4h8m-8-3h8m-6 2h8m-8-9h8m-7-3h8m-7 0h8m-7 3h8m-7 2h8m-7-3h8m-8-4h8m-7 11h8m-6-10h8m-7 1h8m-7 5h8m-8 0h8m-4-3h8m-8 2h8m264 20h8m-8 6h8m-6 7h8m-7-3h8m-7-14h8m-8-5h8m-8 1h8m-7-9h8m-6 17h8m-8-16h8m-6 10h8m-3-17h8m-6 9h8m-7 20h8m-8-6h8m-7 10h8m-6-24h8m-5-8h8m-8 20h8m-2-12h8m-3 6h8m26 9h8m8-19h8m-490 48h8m-7 0h8m-7 11h8m-6-9h8m0 8h8m-8 5h8m-6-20h8m-8 15h8m-5 6h8m-7-16h8m-7 22h8m-2-19h8m-8 8h8m-7-1h8m-8-11h8m-3-4h8m-6-6h8m-7 26h8m-8-22h8m-6 9h8m-7-2h8m-7-13h8m-6 11h8m-7 23h8m-8-13h8m-7-2h8m-7 1h8m-8-14h8m-5 0h8m-8 23h8m-6-9h8m-7-8h8m-7 0h8m-7-14h8m-8 20h8m-7 6h8m-8 2h8m-7-15h8m-7 13h8m-7 0h8m-7-25h8m-7 8h8m-8-5h8m-7 12h8m-7-10h8m-8 15h8m-7-20h8m-7 18h8m-4-17h8m-7 8h8m-8-11h8m-5 10h8m-7-9h8m-7 1h8m-8 7h8m-8-1h8m-6 4h8m-8-2h8m-6-10h8m-1 0h8m-7 2h8m-8-2h8m270 38h8m-3-8h8m-3 2h8m-7 2h8m-5 3h8m-7-6h8m-4-11h8m-8-4h8m-6-2h8m-7 2h8m-7 15h8m-5-25h8m-7 16h8m-7-7h8m-7-6h8m-8-9h8m-8 14h8m-8 16h8m-7-4h8m-4 1h8m-7-21h8m-7 0h8m-5 13h8m-6 11h8m-8 7h8m-7-16h8m-4 11h8m-2-10h8m-8-18h8m-6 31h8m-8-1h8m-7-19h8m-7-10h8m-5 32h8m-4-6h8m-1-20h8m28 17h8m32-26h8m68 6h8m-625 54h8m-7 16h8m-1-13h8m-7-1h8m1 5h8m-8-3h8m-7-2h8m2 6h8m-6-8h8m-8 3h8m-3-23h8m-8 26h8m-7-14h8m-7 4h8m-7 1h8m-6 9h8m-1-10h8m-8 13h8m-7-17h8m-8 1h8m-7 12h8m-7 5h8m-7-4h8m-8-15h8m-5 11h8m-7 0h8m-7-8h8m-7 11h8m-8 0h8m-7-19h8m-6 0h8m-8-3h8m-5 1h8m-7-6h8m-5 7h8m272 31h8m-7-1h8m-7-1h8m0 1h8m-6-1h8m-8-9h8m-8 5h8m-8-5h8m-6-4h8m-7 2h8m-7 14h8m-8-11h8m-8 1h8m-7 9h8m-8-15h8m-8 3h8m-7-4h8m-8 15h8m-7-4h8m-8-4h8m-7-9h8m-8 14h8m-7-13h8m-8 1h8m-6-6h8m-7 19h8m-7 3h8m-7-10h8m-4-1h8m-7-7h8m-8 10h8m-7-15h8m-8-6h8m-8 7h8m-8-8h8m-7-3h8m-7 15h8m-8-8h8m-7 13h8m-8-15h8m-7 11h8m-8-1h8m-8-2h8m-7 3h8m-7-1h8m-7 19h8m-8-36h8m-8 32h8m-6-6h8m-8-22h8m-7 20h8m-8-23h8m-7 9h8m-8-10h8m-8 10h8m-8 15h8m-7 6h8m-8-16h8m-6 11h8m-8-9h8m-7-1h8m-7-9h8m-5-3h8m-6 24h8m-7-27h8m-7 21h8m-7-10h8m-8 12h8m-5-19h8m-8-5h8m-6 5h8m-6 5h8m-7-1h8m-5-12h8m-8 5h8m-7-5h8m-8 6h8m-6 5h8m-8 18h8m2-7h8m-7-5h8m-7-12h8m-6 0h8m1-3h8m-2-1h8m-5 2h8m-8 21h8m-5-19h8m-7 15h8m8-7h8m71-9h8m-559 67h8m-2-24h8m2-6h8m-5 38h8m6-8h8m-5-11h8m-8-12h8m-6 13h8m-8-3h8m-7-12h8m-2 10h8m-7 18h8m-7-1h8m-7-21h8m-7 8h8m-8-9h8m249 27h8m-7-5h8m-7-3h8m-7 5h8m-7 2h8m-6-1h8m-7-2h8m-6-3h8m-7 0h8m-7-2h8m-7 10h8m-4-9h8m-7-8h8m-7 16h8m-7-22h8m-8 7h8m-7-7h8m-8 3h8m-8 6h8m-8-8h8m-7 1h8m-7-1h8m-7 14h8m-8-17h8m-6 11h8m-6-15h8m-8 13h8m-7-11h8m-7 10h8m-8 4h8m-7-5h8m-7 1h8m-8-11h8m-7 7h8m-8-7h8m-7 23h8m-7-14h8m-8 10h8m-8 3h8m-7-3h8m-8-20h8m-8 6h8m-7 17h8m-6-17h8m-8-15h8m-5 27h8m-8-26h8m-8 6h8m-8 2h8m-8 22h8m-8-27h8m-5 9h8m-8 13h8m-6-25h8m-7 27h8m-6-17h8m-8 5h8m-8-17h8m-8 0h8m-8 0h8m-6 8h8m-7-1h8m-7 27h8m-8-24h8m-7-3h8m-7-3h8m-8 1h8m-6 10h8m-7 7h8m-7-11h8m-8-4h8m-7-7h8m-8 15h8m-8 5h8m-8 16h8m-6-16h8m-6-11h8m-7-9h8m-2 14h8m-8-4h8m-8 26h8m-7-30h8m-8 22h8m-6-25h8m-8 0h8m-8-2h8m-7 14h8m-6-12h8m-8-1h8m-8 16h8m-8-17h8m-6 31h8m-5 5h8m-4-22h8m-5-10h8m-7-4h8m-8 10h8m-1-4h8m0 15h8m-1-19h8m-4 20h8m-7 12h8m-5-20h8m-6 2h8m20 7h8m-7-13h8m126-8h8m-583 72h8m-7 0h8m-6-29h8m0 10h8m0-4h8m-4-5h8m-6 22h8m-7 1h8m-6-3h8m-6-8h8m-5-7h8m199 23h8m-4 3h8m-7-2h8m-6-1h8m-7-2h8m-6 3h8m-7-7h8m-7 6h8m-8-2h8m-7-8h8m-8 2h8m-8 9h8m-6-13h8m-7 1h8m-5-1h8m-7-2h8m-7 15h8m-8-11h8m-7 12h8m-7-7h8m-8-1h8m-7-3h8m-7 12h8m-8-9h8m-7-13h8m-6 21h8m-7-21h8m-8 2h8m-7 5h8m-8-4h8m-8 6h8m-7 3h8m-8 10h8m-8-6h8m-8-8h8m-7 6h8m-8-12h8m-7 18h8m-8-9h8m-7-13h8m-8 0h8m-8 16h8m-7-18h8m-8 26h8m-8-9h8m-7 4h8m-8-22h8m-7 26h8m-7 0h8m-8-10h8m-6 12h8m-7-31h8m-7 1h8m-7-4h8m-8 13h8m-8-8h8m-7 25h8m-6-30h8m-7 13h8m-8-18h8m-7 35h8m-8-27h8m-7 3h8m-7-7h8m-8 18h8m-7-9h8m-7 2h8m-7 3h8m-7 12h8m-7-11h8m-8-14h8m-5 18h8m-8 14h8m-8-30h8m-8 16h8m-7 7h8m-8-25h8m-7-1h8m-7 19h8m-7-19h8m-7 29h8m-7-30h8m-8 16h8m-7-19h8m-7 11h8m-7-10h8m-8 26h8m-7-23h8m-7 8h8m-7 4h8m-8 18h8m-6-24h8m-7 18h8m-8 9h8m-8 2h8m-6-38h8m-7 19h8m-7-18h8m-7 33h8m-8-32h8m-7 14h8m-8 0h8m-4 15h8m-8-32h8m-5 4h8m-8-3h8m-4 3h8m-7 5h8m-7-9h8m-8 17h8m-2-12h8m-8-3h8m-5-1h8m-6 7h8m-7 7h8m3 18h8m-7-1h8m-7-5h8m-6-22h8m1 13h8m-5 15h8m-3-33h8m-364 68h8m-1-8h8m-1-9h8m-4-11h8m-7 12h8m-7 10h8m-3 13h8m-7-32h8m-7 3h8m-7 20h8m-7-11h8m-8-1h8m-7 22h8m-5-3h8m-6-12h8m-8 0h8m-7 14h8m-7-6h8m-1 0h8m129 9h8m-3 1h8m-8-3h8m-5-7h8m-5-6h8m-6-4h8m-7 16h8m-8-7h8m-8 10h8m-6-6h8m-6-16h8m-6-2h8m-8 0h8m-7 15h8m-8-13h8m-7 15h8m-7 8h8m-6-17h8m-6-4h8m-7 4h8m-7-15h8m-8 23h8m-8 3h8m-7-15h8m-7 15h8m-8-27h8m-6 1h8m-8-2h8m-8 6h8m-7-7h8m-8 26h8m-7-18h8m-7 15h8m-8-5h8m-6 7h8m-8-20h8m-6 14h8m-7 13h8m-7-1h8m-7 2h8m-7-24h8m-8 19h8m-8-12h8m-6 2h8m-7-14h8m-8 2h8m-8 11h8m-8-2h8m-7 16h8m-8-25h8m-8 13h8m-8-14h8m-7-8h8m-8 11h8m-8-4h8m-8-4h8m-7 31h8m-6 0h8m-8-23h8m-7 26h8m-8-32h8m-7 4h8m-7 29h8m-7-30h8m-6 30h8m-6-20h8m-8-4h8m-8 13h8m-6-25h8m-8 8h8m-7-2h8m-8 3h8m-8 9h8m-8-11h8m-7 7h8m-7-14h8m-3 19h8m-7-22h8m-6 2h8m-7 26h8m-8-25h8m-7 4h8m-4-7h8m-8 13h8m-7-2h8m-6 14h8m-2-10h8m-5 9h8m-8-19h8m-8-5h8m-6 32h8m-8-26h8m-3-3h8m8 4h8m0-1h8m-8-3h8m-2-3h8m-6 6h8m-2 10h8m-7-16h8m-4 24h8m8-10h8m-353 45h8m6-17h8m-5 34h8m-7-34h8m-6 14h8m0-14h8m5 12h8m-8-5h8m-3-8h8m-4 20h8m-3-15h8m-4-6h8m-7 4h8m4 31h8m1 3h8m-8-20h8m-1-1h8m-7-5h8m-7 14h8m-6-7h8m-6 10h8m-7-6h8m-7 7h8m5-15h8m-7 18h8m-4-14h8m-8 12h8m-6-11h8m-5 7h8m-5-4h8m-2 0h8m-4 3h8m-8 12h8m-8-4h8m-7-11h8m-3-6h8m0-4h8m-7 22h8m-8-11h8m-8 5h8m-6-18h8m-2 7h8m-6 3h8m-8 13h8m-5-10h8m-6-14h8m-5 27h8m-8-19h8m-8-5h8m-5 21h8m-7-13h8m-7-10h8m-5 27h8m-4-32h8m-8-6h8m-8 12h8m-6 5h8m-4 11h8m-8 2h8m-5-30h8m-8 0h8m-7 6h8m-1 11h8m-7-1h8m-8 4h8m-7-16h8m-2 1h8m-3 14h8m-6-7h8m-6 18h8m-5-24h8m-5 26h8m-5-23h8m-7 0h8m-3-1h8m-6 0h8m-7-7h8m-7 17h8m-8-18h8m-5 6h8m-8 4h8m1-2h8m1-2h8m-3 14h8m4-16h8m1-4h8m1 22h8m26-12h8" stroke="#333" stroke-width="8" opacity="0.55"/><path transform="translate(115.00 158.20) scale(.1)" d="M165 613l-27-3l-28-10l-22-16l-17-22l-10-24l-4-30l5-28l13-28l17-19l186-160l14-11l26-11l30-4l27 5l27 13l16 12l12 15l10 18l6 20l2 20l-2 20l-6 20l-10 18l-18 19l-190 165l-27 15z" fill="#e4e4e4" fill-rule="evenodd" stroke="#505050" stroke-width="5.5"/><path transform="translate(115.00 158.20) scale(.1)" d="M170 590l-25 1l-23-6l-18-13l-15-17l-8-23l-2-24l5-23l12-23l12-12l184-160l13-9l23-9l22-2l22 5l20 11l11 9l10 13l7 14l4 16l1 14l-2 16l-5 14l-9 16l-11 12l-188 163l-18 11z" fill="#dcdcdc" fill-rule="evenodd" stroke="#8a8a8a" stroke-width="3.0"/><path transform="translate(115.00 158.20) scale(.1)" d="M162 575l-20 1l-17-5l-15-11l-9-12l-6-18l0-20l6-20l9-15l10-10l194-165l16-7l20-2l18 5l14 9l15 17l7 23l-3 23l-11 20l-155 135l-39 37l-16 10z" fill="#d4d4d4" fill-rule="evenodd" stroke="#8a8a8a" stroke-width="3.0"/><path transform="translate(115.00 158.20) scale(.1)" d="M158 563l-16 0l-12-3l-10-8l-8-10l-4-12l1-15l4-13l8-12l14-12l36-18l15-10l144-124l8-3l10-1l14 6l8 9l3 11l-1 10l-5 10l-142 124l-10 11l-19 32l-12 15l-14 9z" fill="#cdcdcd" fill-rule="evenodd" stroke="#7a7a7a" stroke-width="3.0"/><path transform="translate(115.00 158.20) scale(.1)" d="M150 553l-12-2l-12-9l-6-12l1-15l7-13l12-11l15-4l15 0l9 5l6 8l2 10l-1 12l-6 13l-8 8l-10 7z" fill="#c4c4c4" fill-rule="evenodd" stroke="#666" stroke-width="4.0"/><path transform="translate(115.00 158.20) scale(.1)" d="M150 543l-10-2l-7-6l-3-7l1-10l4-9l7-7l8-2l10 0l7 2l4 6l3 7l0 7l-3 8l-6 7l-7 4z" fill="#dedede" fill-rule="evenodd" stroke="#444" stroke-width="7.0"/><path transform="translate(115.00 158.20) scale(.1)" d="M152 533l-4 0l-6-2l-3-9l3-8l10-5l9 3l3 8l-4 9z" fill="#f4f4f4" fill-rule="evenodd"/><ellipse transform="translate(130.2 210.4) rotate(-40)" rx="5.0" ry="3.6" fill="none" stroke="#3a3a3a" stroke-width="1.00"/></g><rect x="115.00" y="158.20" width="64.30" height="64.40" fill="none" stroke="#adadad" stroke-width="0.9"/><path d="M115.00 164.64h-1.2M115.00 178.81h-1.2M115.00 193.62h-1.2M115.00 208.43h-1.2M115.00 221.63h-1.2M118.22 222.60v1.2M132.36 222.60v1.2M147.15 222.60v1.2M161.30 222.60v1.2M174.16 222.60v1.2" stroke="#666" stroke-width="0.6"/><rect x="127.86" y="222.50" width="2.6" height="1.3" fill="#111"/><path transform="translate(115.00 158.20)" d="M18.6 27.5C23 20.5 31 12.5 38.6 11.5C42 11.1 45 11.5 47.4 12.3C53.5 20 52 34 43.2 44.6Z" fill="none" stroke="#f0606e" stroke-width="1.1"/><text transform="translate(119.81 166.81) scale(0.9011 1)" font-size="8.73" fill="#111" stroke="#111" stroke-width="0.15">10.8</text><g><path transform="translate(185.80 158.20) scale(.1)" d="M274 5h8m24 21h8m0-20h8m14 25h8m-8 4h8m-4-6h8m-3-13h8m-6 14h8m1 5h8m-6-7h8m-5 4h8m-3 6h8m-3-1h8m-4-1h8m12-2h8m-5-13h8m-7 12h8m-6-19h8m-8 7h8m-2-3h8m-7-7h8m-2 11h8m-3 11h8m-4 5h8m-6-8h8m-8-9h8m-7 16h8m-7-2h8m-7-7h8m-6-11h8m-6 8h8m-7 6h8m-1 2h8m-6-21h8m-5 2h8m-4 21h8m-5-4h8m-4 3h8m-8-19h8m-5-4h8m-7 0h8m0 8h8m-8 7h8m-6-16h8m-7 21h8m-5-7h8m-1 4h8m-7 4h8m11-17h8m2 2h8m4 22h8m5-9h8m8 6h8m3-10h8m5 8h8m-368 12h8m7 23h8m-6 9h8m-5-13h8m10-7h8m-2-1h8m-4 15h8m-7-23h8m5 25h8m-6-34h8m4 8h8m-6 16h8m-1 0h8m-7-15h8m-6 2h8m-6-10h8m-5 26h8m-8 5h8m-3-10h8m-6 4h8m-7 11h8m-4-8h8m-6-28h8m-7 35h8m-7-34h8m-5 32h8m-5-29h8m-7 22h8m-3-13h8m-6 2h8m-5-4h8m-6-6h8m-6 9h8m-7 21h8m-8-3h8m-7-10h8m-8-21h8m-7 21h8m-8 5h8m-8-19h8m-7 25h8m-6 2h8m-5 1h8m-2-26h8m-4 0h8m-8 13h8m-2-20h8m-7 6h8m-4 5h8m-8 3h8m-5-14h8m1 9h8m-6-6h8m-7 0h8m8 6h8m-1-4h8m-8-1h8m-7-1h8m-8 4h8m-1-3h8m0 0h8m-6 7h8m-7-12h8m-6 10h8m-6 1h8m-7-3h8m-5-11h8m3 9h8m-7-6h8m-7 9h8m-5-11h8m-5 4h8m1 6h8m-8 6h8m-6-2h8m-7 0h8m-8-13h8m2 17h8m-5 8h8m-4 2h8m-6-15h8m-7 22h8m-5-24h8m-7 5h8m-7 18h8m-8-8h8m-3 8h8m-7-3h8m-8-10h8m-6-16h8m-8 17h8m-5 6h8m-7-28h8m-7 29h8m-5-30h8m-5 26h8m-1-9h8m-4 14h8m-8-31h8m-5 39h8m-7-12h8m-8-9h8m1 7h8m4-22h8m-2 29h8m4 4h8m4-14h8m16-16h8m20 0h8m-486 35h8m12 30h8m34-20h8m-7 13h8m-6 7h8m-1-9h8m1-22h8m6 20h8m-3 2h8m-7 10h8m-6 7h8m-3-17h8m-7-12h8m-5 22h8m-8-18h8m-3 19h8m-6-14h8m-8 18h8m-7-31h8m-5-4h8m-5 23h8m-6 8h8m-7-5h8m0-21h8m-7 12h8m-7 1h8m-5-11h8m-5 6h8m-5 19h8m-7 3h8m-6-12h8m-5-17h8m-7 14h8m-6-16h8m-7 27h8m-7 1h8m-6-1h8m-7-19h8m-7 15h8m-8-3h8m-7-15h8m-8 0h8m-4-10h8m-8 26h8m-8-8h8m-7-6h8m-5-10h8m-5 5h8m-7-3h8m-5-3h8m-6 5h8m-8-6h8m-6 1h8m-5 8h8m-6-4h8m-8-4h8m-6-2h8m-7 3h8m134-1h8m4 10h8m-8 13h8m-7 1h8m-8-10h8m-7-16h8m-8 14h8m-6 2h8m-8 7h8m-6-8h8m-7 5h8m-7 8h8m-3 6h8m-8-9h8m-3-5h8m-7 7h8m-7 7h8m-6-7h8m-7 2h8m-8-4h8m-3-24h8m-7 30h8m-7-22h8m-4-9h8m-6 11h8m6 12h8m22-6h8m-518 38h8m67 5h8m45 13h8m2-8h8m-4-6h8m4 17h8m-4-25h8m-5 25h8m-8-24h8m-5 22h8m8-23h8m-8-7h8m-7-4h8m-7 12h8m-5 15h8m-8-15h8m-7 26h8m-5-16h8m-6 6h8m-7-4h8m-3 7h8m-7-8h8m-8 12h8m-5-18h8m-5 12h8m-7-10h8m-8-12h8m-7 1h8m-7 19h8m-7 10h8m-8-12h8m-4-2h8m-8-6h8m-7 19h8m-8-1h8m-5-5h8m-8-30h8m-8 30h8m-6-7h8m-6-3h8m-5-11h8m-8-3h8m-5 1h8m-7 2h8m-5 5h8m-6-11h8m-2 0h8m188 19h8m-5 13h8m-5-25h8m-6 13h8m-8 2h8m-8-11h8m-6 18h8m3-5h8m0-26h8m-7 22h8m-7 7h8m0-13h8m-8-11h8m-5 21h8m22-8h8m-451 21h8m-6 16h8m28 7h8m-3 12h8m-4-31h8m-2 29h8m6-26h8m6 24h8m-7-4h8m-8-5h8m-3-6h8m-7-9h8m-6 26h8m-7-28h8m-5 7h8m-6 2h8m-6 14h8m-5 8h8m-8 3h8m-7-3h8m-7-3h8m-6-32h8m-7 4h8m-4 23h8m-4-28h8m-8 27h8m-6-16h8m-7 9h8m-8-20h8m-8 4h8m-6 20h8m-7-7h8m-8 8h8m-5-12h8m-7 8h8m-7-13h8m-5 25h8m-8-33h8m-8 12h8m-8 2h8m-7-9h8m-6 0h8m-7 23h8m-4-11h8m-8-13h8m-6 0h8m-7 3h8m1-6h8m219 24h8m-8-4h8m-6 16h8m-8-4h8m-7 6h8m-7-10h8m-7-7h8m-7 2h8m-6-20h8m-5-3h8m-7 5h8m-8 32h8m-7-24h8m-4 18h8m-5-3h8m-3 5h8m-7 5h8m-6-39h8m-5 32h8m-2-31h8m-5 7h8m-7 3h8m-5 27h8m-7-37h8m-6 21h8m10 10h8m-3 2h8m8-12h8m-522 29h8m-4 7h8m32 5h8m17-18h8m3 2h8m-6 19h8m4-15h8m-3 27h8m-3-38h8m-7 39h8m-7-20h8m-1-18h8m-7 16h8m-3-14h8m-6 17h8m-8-14h8m-1 10h8m-4 6h8m-7 4h8m-7-23h8m-5 32h8m-3-9h8m-7 8h8m-8-20h8m-8 4h8m-7 11h8m-6-8h8m-8 7h8m-7-22h8m0 25h8m-7-22h8m-6 16h8m-7-9h8m-6 9h8m-8-12h8m-8-11h8m-6 36h8m-8-23h8m-7 11h8m-8-16h8m-7 9h8m-8-2h8m-5 2h8m-7-4h8m-6-6h8m-1-8h8m236 37h8m-7-5h8m-7-1h8m-7 1h8m-8-27h8m-6 0h8m-8 18h8m-7-13h8m-7 13h8m-7 1h8m-6-11h8m-7-2h8m-7 10h8m-5 0h8m-2 11h8m-7-31h8m-7 27h8m-6-27h8m-5 27h8m-6 4h8m-6 2h8m-6-13h8m-8 11h8m-3-1h8m-5-20h8m-3 17h8m-5 2h8m-7 1h8m5-5h8m-6-4h8m-6-8h8m-4-9h8m-531 64h8m13-17h8m7 17h8m34-5h8m-3-19h8m-7 32h8m-5-7h8m-6 1h8m2-29h8m-7 5h8m-2 26h8m-4-32h8m-7 6h8m-6 12h8m-8 16h8m-7-20h8m-7 6h8m-4-10h8m-6 9h8m-6 10h8m-7-28h8m-5 24h8m-6-4h8m-2 7h8m-7-8h8m-8-2h8m-8 10h8m-4 2h8m-6 6h8m-6-25h8m-8 13h8m-6-8h8m-7 7h8m-7-15h8m-3 29h8m-6-25h8m-6-9h8m-5 17h8m-7 8h8m-8-21h8m-7 16h8m-8 2h8m-7-27h8m-4 33h8m-8 3h8m-8-33h8m-5 8h8m-8 26h8m-7-36h8m-8 35h8m-7-24h8m-7 13h8m-7 8h8m-8 1h8m-8-23h8m-7 2h8m-8-10h8m-7 32h8m-6-13h8m-8 12h8m-7-31h8m-8 10h8m-7 8h8m-8-2h8m-7-18h8m-3 13h8m-7 2h8m-8 5h8m-8-15h8m-6 0h8m-8 3h8m-5-3h8m234 32h8m-4-2h8m-5-4h8m-7-8h8m-7-19h8m-7 2h8m-8 25h8m-7-24h8m-6 20h8m-4-17h8m-7 8h8m-5-19h8m-5 2h8m-4 32h8m-7 2h8m-1-31h8m-6 26h8m-7-12h8m4 19h8m-7 0h8m-4-9h8m-4-3h8m-4-3h8m-7-7h8m2 9h8m27 13h8m-3-27h8m1 16h8m-541 17h8m-2 29h8m-1-15h8m-5 19h8m-5-13h8m8-10h8m-8 0h8m8-8h8m-4 0h8m9 29h8m-7-5h8m-8 4h8m-2-13h8m-8-11h8m-5 22h8m-8-20h8m-7-7h8m-6 3h8m1 26h8m-7-12h8m-8-18h8m-7 24h8m-7-2h8m-6-20h8m-8 11h8m-8-12h8m-7 12h8m-4 17h8m-7 5h8m-6-4h8m-6 0h8m-8-11h8m-7 1h8m-8-10h8m-7 20h8m-6-22h8m-8 25h8m-8-21h8m-8 15h8m-7-4h8m-6-19h8m-7-3h8m-6 8h8m-7 2h8m-7-3h8m-8-13h8m-6 7h8m-7 31h8m-7-4h8m-7-28h8m-7-2h8m-8 11h8m-7 20h8m-8-21h8m-4 3h8m-8 12h8m-7 8h8m-6-22h8m-7 17h8m-8-4h8m-8-15h8m-7 2h8m-6-14h8m-6 7h8m-7 24h8m-8-3h8m-8-28h8m-7 25h8m-6-2h8m-8-11h8m-8 6h8m-7-10h8m-7-9h8m-7 15h8m-8-6h8m-5-9h8m-7 3h8m235 35h8m-3-22h8m-7-3h8m-8 17h8m-6-15h8m-8 16h8m-7-15h8m-7-10h8m-8 6h8m-7 5h8m-8 7h8m-7-23h8m-5 17h8m-8 4h8m-6-10h8m-7 0h8m-7-8h8m-3 26h8m-7 9h8m-8-21h8m-4-13h8m-6 17h8m-3 2h8m-5 6h8m-8-29h8m-7 33h8m-3-13h8m-5 17h8m-7-17h8m0-10h8m-5-2h8m-6 6h8m-5 3h8m-7 18h8m-4-14h8m0-4h8m7-12h8m-6-2h8m48 26h8m-613 11h8m49 38h8m-3-6h8m-8-13h8m1-6h8m7 15h8m0-7h8m-3-9h8m-7 22h8m-6-6h8m-1 4h8m-7-27h8m-7 26h8m-7 7h8m-8-37h8m-4 18h8m-3-1h8m-3 9h8m-7-24h8m-4-4h8m-7 36h8m-6-21h8m-7 15h8m-6-8h8m-7-2h8m-8 13h8m-5-5h8m-6-16h8m-6-8h8m-7 22h8m-8 9h8m-8-28h8m-5 26h8m-5 6h8m-7 0h8m-6-22h8m-7 5h8m-5-13h8m-7 17h8m-8-22h8m-6 18h8m-8-14h8m-8 8h8m-7 1h8m-7-5h8m-7 6h8m-8 6h8m-7-17h8m-7 29h8m-7-34h8m-7 16h8m-7 17h8m-8-4h8m-6 7h8m-7-29h8m-8 25h8m-7-13h8m-8 1h8m-8 2h8m-8 3h8m-8 4h8m-7-12h8m-8 5h8m-7-14h8m-7 16h8m-7-19h8m-6 3h8m-5-6h8m-7 3h8m-6-6h8m-4 5h8m-4-4h8m-6 0h8m223 35h8m-7-13h8m-6 0h8m-7 10h8m-5-4h8m-6-7h8m-8 1h8m-6 9h8m-8-2h8m-7-18h8m-5 18h8m-7-16h8m-8 0h8m-8 2h8m-7-12h8m-8 22h8m-7-10h8m-8 21h8m-7-15h8m-8-19h8m-7 33h8m-8-36h8m-7 14h8m-7 7h8m-7-21h8m-6 38h8m-7-9h8m-7-20h8m-3-1h8m-8 23h8m-6-10h8m-6-10h8m-7-6h8m-7 6h8m-7 15h8m-8 2h8m-6-24h8m-6 4h8m-7-3h8m-1 22h8m-5-22h8m-2 27h8m-2-26h8m-7 19h8m-8 13h8m-5-15h8m-3 8h8m-2-15h8m-3-12h8m13 24h8m23-28h8m12-1h8m8 33h8m-616 30h8m-1 12h8m4-21h8m13 23h8m11-31h8m1 21h8m-5-19h8m1-6h8m-5 27h8m-5 0h8m-3-28h8m-3 5h8m-5 29h8m-3 0h8m-4-4h8m-7-31h8m-4 29h8m-8-15h8m-7 18h8m-6 5h8m-6-18h8m-7-7h8m-7 12h8m-7 0h8m-4 7h8m-3-9h8m-7-8h8m-6 9h8m-6 13h8m-3 2h8m-8-8h8m-7-12h8m-7 2h8m-8 10h8m-7-27h8m-7 21h8m-8 8h8m-7-5h8m-6-5h8m-5-20h8m-8 22h8m-7-6h8m-8-16h8m-7 1h8m-8 30h8m-4-14h8m-8 12h8m-7-9h8m-6-14h8m-8 8h8m-7-15h8m-7 21h8m-6-16h8m-2-3h8m-4-2h8m213 37h8m-7-5h8m-2-1h8m-8 4h8m-7 3h8m-6-3h8m-6 0h8m-7-10h8m-5-6h8m-7 13h8m-7-5h8m-3-15h8m-7 12h8m-8-16h8m-8 28h8m-8-25h8m-7-1h8m-7 24h8m-7-17h8m-7 14h8m-7-31h8m-6 11h8m-7 15h8m-7 0h8m-7 10h8m-7 1h8m-7-22h8m-8 19h8m-2-14h8m-8 0h8m-8-3h8m-8-9h8m-1 28h8m-8 1h8m-6-22h8m-7 9h8m-6-14h8m-7-10h8m-6 10h8m-7-7h8m-6 28h8m0 1h8m-6-2h8m-7-4h8m-4-27h8m-2 5h8m11 13h8m8 17h8m0-31h8m-5 29h8m-4-31h8m-1 28h8m-6-18h8m0 22h8m1-15h8m21 1h8m38 19h8m-619 7h8m-6 21h8m5-5h8m-4-7h8m-3 14h8m2-28h8m6 10h8m-8 21h8m-8-3h8m13-25h8m-8 32h8m-1-23h8m-7-9h8m-6 27h8m-7-24h8m-8 14h8m-7-21h8m-3 33h8m-7-30h8m-7 28h8m-8 1h8m-3-32h8m-7 5h8m1 11h8m-6 1h8m-7-1h8m-6-6h8m-7-5h8m-4 27h8m-6 0h8m-7 5h8m-7 0h8m-7-11h8m-8 2h8m-7-12h8m-6-13h8m-3 9h8m-8-9h8m-7 8h8m-4-3h8m-7-8h8m-8 4h8m-8-4h8m-6 2h8m-6-2h8m198 38h8m-4-3h8m-1 0h8m-8-3h8m-7-7h8m-8 4h8m-5 5h8m-8-8h8m-1-1h8m-7-12h8m-6-5h8m-8 4h8m-7 27h8m-7-25h8m-6-8h8m-8 15h8m-7-12h8m-7 3h8m-7-7h8m-4 23h8m-4-12h8m-7 3h8m-7-17h8m-5 22h8m-7-17h8m-8 3h8m-4 27h8m-5-6h8m-8-28h8m0 31h8m-7-21h8m-5-6h8m-3 6h8m-6-10h8m-5 11h8m-3 12h8m-8-9h8m-8 12h8m-7-13h8m-6-12h8m-5 20h8m-6-5h8m-2-11h8m-5 24h8m-3-3h8m-5 10h8m5-24h8m1-6h8m1 0h8m52 20h8m-1-24h8m40-1h8m-607 50h8m7 13h8m2-27h8m-1 35h8m-3 2h8m8-29h8m-3 22h8m-3 7h8m6-14h8m-3-16h8m-7-3h8m-6-2h8m-5 4h8m-5 10h8m-8 10h8m-7-18h8m-7-8h8m-7 9h8m-8 9h8m-7 11h8m-7-22h8m-7 29h8m-7-1h8m-5-3h8m-7-7h8m-8-12h8m-6 0h8m1-2h8m-5-7h8m162 29h8m-6-3h8m-7 6h8m-8-4h8m-5 0h8m-6 6h8m-3-12h8m-4 1h8m-3 3h8m-7-9h8m-6 18h8m-6-4h8m-6-10h8m-6 1h8m-7-8h8m-6 21h8m-4-24h8m-7-3h8m-3 15h8m-8-6h8m-7 12h8m-8-15h8m-7-5h8m-7 5h8m-7 3h8m-8-9h8m-5-2h8m-8-2h8m-7 1h8m-8 21h8m-6-11h8m-4-11h8m-5-1h8m-7 23h8m-8-22h8m-5 26h8m-8-34h8m-7 7h8m-7 23h8m-2-18h8m-8 14h8m-2 4h8m-4 8h8m-6-15h8m-4-12h8m-1 2h8m-6 19h8m-5-19h8m-7 16h8m-7 8h8m-3-22h8m-5 5h8m1 4h8m-4 12h8m-6-24h8m-7-5h8m-5-1h8m-1 20h8m-8-24h8m4 34h8m-3-22h8m-7 4h8m-5-17h8m-6 1h8m-6 20h8m-2-10h8m1-6h8m-2 32h8m12-13h8m-7 5h8m-490 47h8m-6-32h8m24 28h8m-5 5h8m-5-10h8m-8-6h8m-5 4h8m4-16h8m-2 5h8m-7 2h8m-8-9h8m-7 5h8m-8 10h8m-8 14h8m-7-16h8m-6 15h8m-8-2h8m-7 1h8m-5-16h8m-8-2h8m-8 21h8m-7-4h8m-7-27h8m-5 24h8m-6-10h8m-6-15h8m-6 5h8m150 25h8m0-4h8m-7-7h8m-6 10h8m-7-13h8m-4 13h8m-4-19h8m-6 16h8m-8-16h8m-6 4h8m-4-4h8m-8-5h8m-8-4h8m-7-1h8m-8 18h8m-7-7h8m-8 10h8m-8-13h8m-7-5h8m-5 28h8m-8-32h8m-8 9h8m-4-12h8m-8 26h8m-7-25h8m-8 1h8m-6 9h8m-7 18h8m-7-29h8m-7 6h8m-7-7h8m-8 8h8m-7-2h8m-7-3h8m-8 7h8m-5-2h8m-8-2h8m-7-3h8m-7 17h8m-3-1h8m-8 10h8m-6-22h8m-5 8h8m-8-15h8m-6 17h8m-6 14h8m-8-31h8m-7 31h8m-8-12h8m-7-20h8m-4 30h8m-8-14h8m-6 2h8m-7-18h8m-7 5h8m-8 20h8m-7 1h8m-8 6h8m-6-13h8m-4 5h8m-8 2h8m-7-24h8m-6 35h8m-8-1h8m-3-4h8m-5-17h8m-6 4h8m-6 11h8m-7-12h8m-7-8h8m-8 13h8m-5-7h8m-8-4h8m-6-3h8m-5 9h8m-2 19h8m-6-8h8m-3-4h8m-2 12h8m1-24h8m-5 5h8m-3-17h8m9 1h8m5 9h8m-6 26h8m-2-11h8m-5-16h8m-2 1h8m12-3h8m36 20h8m-7-26h8m-1 36h8m13-28h8m13-8h8m8 13h8m-544 40h8m-3-7h8m5 22h8m0-8h8m5-22h8m-5 11h8m-8-2h8m-8-3h8m-6 20h8m-5 10h8m-7-13h8m-7-10h8m-7-12h8m-6 20h8m-7 14h8m-6-6h8m-8 3h8m106 6h8m0 0h8m-7-2h8m-6 3h8m-6-8h8m-5 7h8m-7-8h8m-8-7h8m-7 0h8m-4-5h8m-5 1h8m-7-1h8m-8 11h8m-6-8h8m-8-4h8m-6-5h8m-7 8h8m-6 9h8m-7 5h8m-7-3h8m-7-1h8m-7 1h8m-5-3h8m-8 10h8m-8-16h8m-7-14h8m-7-5h8m-8 23h8m-7-26h8m-7 11h8m-8 22h8m-7-28h8m-7 7h8m-5-5h8m-8 23h8m-5-25h8m-6 0h8m-7 8h8m-7 26h8m-6-38h8m-8 24h8m-7-15h8m-7-10h8m-8 20h8m-7 10h8m-7-26h8m-6 23h8m-7-17h8m-8 17h8m-7-8h8m-7-1h8m-7 14h8m-7-23h8m0 17h8m-8-20h8m-4 6h8m-4-6h8m-6 17h8m-8-19h8m-6 4h8m-7 7h8m-5-9h8m-3 19h8m-1 9h8m-1-8h8m-3-20h8m-8 8h8m1 22h8m-7-26h8m15 18h8m-6-19h8m-7 9h8m-7 12h8m-6-26h8m-2 9h8m-7 22h8m-8 2h8m-4-25h8m-1-10h8m-7 37h8m-4-25h8m-4-7h8m-8 21h8m7-7h8m19-13h8m11 1h8m21 17h8m91-7h8m-552 34h8m6-3h8m0-6h8m-4 14h8m-2 7h8m-5 0h8m-4 2h8m-8-1h8m1-18h8m-2 24h8m-1-27h8m-6 27h8m-6-18h8m-8-7h8m-7 14h8m-2 8h8m-5-1h8m-1 7h8m-3-13h8m-6-3h8m-5 10h8m-4 2h8m-8 7h8m-7-11h8m-8-6h8m-7 10h8m-4-3h8m13 1h8m-4-9h8m-8 9h8m-5-3h8m-6 6h8m-2-14h8m-3 10h8m-5-5h8m-4 7h8m-7-2h8m-6 6h8m-6 0h8m-5-7h8m-6-12h8m-7 6h8m-7-1h8m-6 9h8m-4-12h8m-8 13h8m-3-28h8m-6 25h8m-3 2h8m-7-15h8m-7 18h8m-8 5h8m-5-31h8m-7 8h8m-4-1h8m-8-10h8m-7 12h8m-8 14h8m-5 4h8m-8-33h8m-8 30h8m-7-14h8m-8-16h8m-5 37h8m-5-31h8m-7 4h8m-7-6h8m-7 31h8m-8-21h8m-5-4h8m-4 5h8m0-7h8m-7 22h8m-5-23h8m-4 23h8m-6-19h8m-6-6h8m-3 18h8m-1 1h8m-8 11h8m-4-33h8m-8 4h8m-5-2h8m-4 1h8m-8 6h8m-6 10h8m-3-5h8m-3-13h8m-4 27h8m-5-29h8m-8 3h8m-5 24h8m-6-13h8m-4 11h8m-7-19h8m4 19h8m11-7h8m-4 15h8m-4-6h8m-5-12h8m10 7h8m-1 7h8m29-30h8m-403 77h8m1-20h8m-8 2h8m8 1h8m-4-8h8m-1 1h8m-3 12h8m-2 0h8m16-25h8m-5 19h8m-5 15h8m-2-16h8m-6-9h8m-3 21h8m-4-6h8m-2-15h8m-6 16h8m-8-20h8m-7 30h8m-6-6h8m8-13h8m-8 19h8m-5-2h8m0-29h8m-6 21h8m-6-19h8m-5-3h8m-6 18h8m-8 11h8m-7-11h8m6 18h8m-8-15h8m-6-11h8m9 9h8m-8-19h8m-5 2h8m-8 32h8m-6-23h8m4 5h8m-5-4h8m-5-8h8m-5 17h8m-8-16h8m0 28h8m-6-31h8m12 18h8m-1-23h8m5 33h8m-1-5h8m-1-2h8m-5-7h8m40-8h8m23-6h8m13 16h8m63 12h8" stroke="#333" stroke-width="8" opacity="0.55"/><path transform="translate(185.80 158.20) scale(.1)" d="M170 580l-15 0l-15-2l-12-6l-12-10l-7-10l-6-14l-2-16l2-14l8-20l24-38l28-55l57-88l10-22l24-70l23-47l19-30l23-28l23-21l26-17l24-12l26-5l30 0l20 5l7 6l8 9l13 27l8 33l2 33l-3 34l-9 40l-13 36l-17 34l-33 48l-41 50l-22 24l-18 13l-27 11l-13 9l-79 81l-16 13l-23 13z" fill="#e4e4e4" fill-rule="evenodd" stroke="#505050" stroke-width="5.5"/><path transform="translate(185.80 158.20) scale(.1)" d="M175 568l-15 1l-12-2l-13-5l-10-8l-7-9l-5-13l-1-12l3-15l12-23l31-34l29-56l56-80l12-27l22-65l19-40l15-22l19-22l20-19l20-13l20-8l20-5l30 0l15 4l11 13l9 22l4 30l0 32l-4 30l-9 30l-12 30l-18 33l-34 53l-27 32l-17 12l-28 7l-12 8l-68 72l-34 46l-18 14z" fill="#dcdcdc" fill-rule="evenodd" stroke="#8a8a8a" stroke-width="3.0"/><path transform="translate(185.80 158.20) scale(.1)" d="M170 560l-12 0l-10-2l-10-5l-8-7l-5-8l-3-10l-1-10l3-13l7-13l8-10l39-32l28-55l56-73l13-27l21-67l19-38l13-18l14-17l16-12l14-10l18-7l18-3l22-1l12 3l10 11l7 19l2 25l-3 30l-7 30l-10 30l-15 32l-17 30l-21 31l-18 16l-12 4l-23-1l-7 3l-10 8l-46 56l-34 36l-17 37l-10 16l-19 15z" fill="#d4d4d4" fill-rule="evenodd" stroke="#8a8a8a" stroke-width="3.0"/><path transform="translate(185.80 158.20) scale(.1)" d="M372 345l-10-2l-17-12l-25-2l-8-5l-3-12l0-17l3-25l5-22l8-20l10-20l12-16l13-12l12-8l16-6l27-6l13 0l4 3l5 7l4 18l-1 27l-7 33l-13 34l-17 33l-15 21l-8 6zM232 438l-5-3l-1-7l3-10l5-10l18-20l10-5l6 1l1 4l0 7l-9 20l-15 17zM175 550l-10 1l-10-1l-15-8l-8-14l-1-10l2-10l9-16l18-14l22-8l13-1l7 2l8 6l4 11l1 14l-3 16l-5 10l-9 11l-10 7z" fill="#cdcdcd" fill-rule="evenodd" stroke="#7a7a7a" stroke-width="3.0"/><path transform="translate(185.80 158.20) scale(.1)" d="M388 296l-6 0l-2-2l-5-12l-3-20l2-17l7-15l11-12l13-9l7-1l5 7l2 7l-4 28l-13 30l-7 11zM178 540l-16 2l-12-4l-8-10l-1-13l4-13l10-10l13-6l14-2l10 3l7 5l3 8l1 10l-3 10l-5 8l-7 7z" fill="#c4c4c4" fill-rule="evenodd" stroke="#666" stroke-width="4.0"/><path transform="translate(185.80 158.20) scale(.1)" d="M172 533l-10 0l-7-4l-4-7l0-10l4-8l7-6l8-4l10 0l10 7l2 11l-6 13l-6 5z" fill="#dedede" fill-rule="evenodd" stroke="#444" stroke-width="7.0"/><path transform="translate(185.80 158.20) scale(.1)" d="M170 525l-8-3l-3-4l1-6l3-4l5-4l10 0l4 4l1 7l-5 7z" fill="#f4f4f4" fill-rule="evenodd"/><ellipse transform="translate(202.8 209.4) rotate(-20)" rx="4.8" ry="4.2" fill="none" stroke="#222" stroke-width="1.70"/></g><rect x="185.80" y="158.20" width="64.30" height="64.40" fill="none" stroke="#adadad" stroke-width="0.9"/><path d="M185.80 164.64h-1.2M185.80 178.81h-1.2M185.80 193.62h-1.2M185.80 208.43h-1.2M185.80 221.63h-1.2M189.02 222.60v1.2M203.16 222.60v1.2M217.95 222.60v1.2M232.10 222.60v1.2M244.96 222.60v1.2" stroke="#666" stroke-width="0.6"/><rect x="198.66" y="222.50" width="2.6" height="1.3" fill="#111"/><path transform="translate(185.80 158.20)" d="M18.6 27.5C23 20.5 31 12.5 38.6 11.5C42 11.1 45 11.5 47.4 12.3C53.5 20 52 34 43.2 44.6Z" fill="none" stroke="#f0606e" stroke-width="1.1"/><text transform="translate(193.28 166.81) scale(0.9039 1)" font-size="8.73" fill="#111" stroke="#111" stroke-width="0.15">39.4</text><text transform="translate(72.06 15.71) scale(1.0076 1)" font-size="9.15" fill="#000" stroke="#000" stroke-width="0.08">D0</text><text transform="translate(142.08 15.71) scale(0.9697 1)" font-size="9.29" fill="#000" stroke="#000" stroke-width="0.08">D5</text><text transform="translate(210.87 15.61) scale(0.9611 1)" font-size="9.44" fill="#000" stroke="#000" stroke-width="0.08">D10</text><text transform="translate(254.10 54.90) scale(0.9275 1)" font-size="9.57" fill="#000" stroke="#000" stroke-width="0.08">AA</text><text transform="translate(254.50 122.11) scale(0.9180 1)" font-size="9.15" fill="#000" stroke="#000" stroke-width="0.08">AS</text><text transform="translate(253.77 188.81) scale(0.7895 1)" font-size="9.30" fill="#000" stroke="#000" stroke-width="0.08">SS</text><path d="M37.60 184.00 V229.30 H82.60" fill="none" stroke="#000" stroke-width="1.30"/><path d="M37.60 176.80 l3.80 8.20 h-7.60 z" fill="#000"/><path d="M89.80 229.30 l-8.20 -3.80 v7.60 z" fill="#000"/><text transform="translate(32.30 218.74) rotate(-90) scale(0.8166 1)" font-size="11.30" fill="#000" stroke="#000" stroke-width="0.22">PD1</text><text transform="translate(40.84 242.60) scale(0.8839 1)" font-size="10.42" fill="#000" stroke="#000" stroke-width="0.22">CXCR5</text><g><path transform="translate(67.30 277.30) scale(.1)" d="M466 103h8m31 0h8m27-2h8m-63 38h8m-4 19h8m-7-14h8m-4 8h8m36 3h8m-73 39h8m-7-1h8m-6-9h8m4 15h8m21-20h8m-122 56h8m58-28h8m-4 4h8m-1-8h8m-3 14h8m1 1h8m-7 13h8m-2-18h8m-3-9h8m-1 19h8m-5-21h8m1 11h8m-5-3h8m-7 8h8m19-13h8m-151 40h8m3-5h8m23 6h8m-1 19h8m4 4h8m-2-28h8m-7 17h8m-7-7h8m-1-11h8m-7 2h8m-8 36h8m-5-16h8m-7-13h8m-6 2h8m-7-11h8m-8 13h8m-3 20h8m-7-23h8m3 1h8m-7-8h8m-7 9h8m-5 8h8m5 10h8m-5-29h8m-1 37h8m73-32h8m-338 71h8m25-27h8m3 10h8m42 0h8m51 17h8m2 2h8m-6-14h8m3 6h8m2-30h8m-4 27h8m-5-14h8m2 3h8m-7 21h8m0-27h8m-2 20h8m-6-13h8m-3 4h8m-1 15h8m-8-8h8m-4-10h8m-8-14h8m-6 21h8m-5 7h8m-8-9h8m-6-11h8m-465 28h8m142 35h8m69-2h8m-4 4h8m-7-12h8m3 13h8m-4-39h8m12 37h8m19-2h8m43-3h8m-4-23h8m-5 29h8m8-9h8m-7-2h8m9-17h8m-6 19h8m-6 7h8m-4-5h8m-4-10h8m-8-16h8m-3 30h8m-2-20h8m-7 21h8m-6-19h8m1 14h8m1-20h8m-7 25h8m-8-5h8m0 8h8m-5-23h8m-1 20h8m0-18h8m-7 17h8m-7-27h8m-7 16h8m-447 49h8m7-16h8m9 12h8m3-7h8m-8-10h8m-4 12h8m3-2h8m0 15h8m-3 0h8m-4-28h8m-6 19h8m-8-1h8m-6 1h8m-5-3h8m-3-2h8m-5 7h8m-8-4h8m-5-2h8m-5 6h8m-5-11h8m-3 3h8m-7 8h8m-5-3h8m2-1h8m-7-20h8m-7 11h8m-7-4h8m-7 3h8m-8-3h8m-7-9h8m-5-3h8m-8 25h8m-7-10h8m-8 2h8m-7 11h8m-5-8h8m-7 4h8m-6-8h8m-8 8h8m-1 5h8m-6-1h8m-8-1h8m-5 0h8m-8-3h8m-8 5h8m-6-7h8m-7 6h8m-7-12h8m-6-2h8m-8 11h8m-6-8h8m-6-1h8m-7 11h8m-8 1h8m-6-6h8m-8 6h8m-7-7h8m-7 2h8m-8-18h8m-7 20h8m-7 1h8m-8-8h8m-7 10h8m-7-5h8m-7-14h8m-7 4h8m-8-6h8m-6 17h8m-6 0h8m-7-1h8m-8-12h8m-7 4h8m-3 6h8m-8 4h8m-5-15h8m-7 16h8m-8-16h8m-8-8h8m-8 25h8m-6-26h8m-7 12h8m-7-13h8m-5 19h8m-8 0h8m-8 4h8m-7 0h8m-6 4h8m-8-16h8m-7 16h8m-8 1h8m-7-10h8m-7-12h8m-8 20h8m-7 2h8m-8-5h8m-6-11h8m-5-2h8m-7 17h8m0-6h8m-6 7h8m-7-7h8m-8 6h8m-7-16h8m-7 1h8m-6 14h8m-7-7h8m-8-15h8m-7 17h8m-6-19h8m-7 17h8m-7-2h8m-6-8h8m-5 10h8m-4-2h8m-7 4h8m-7-19h8m-5 3h8m-2 23h8m-8-5h8m-6-1h8m-4 5h8m-6-19h8m-8 15h8m-6 7h8m-6-3h8m-6 2h8m-6-8h8m-5-16h8m-6 18h8m-8-2h8m-5 3h8m-8 6h8m5 8h8m-4-6h8m-5-8h8m-8-9h8m-2 3h8m-6 10h8m-1-8h8m-7 17h8m-5-10h8m-1 10h8m-5-24h8m-8 3h8m-5-12h8m-8 34h8m-7-29h8m-7 8h8m-5 12h8m1 8h8m-6-3h8m1-19h8m-6-13h8m-5 20h8m-7-16h8m-7 24h8m-8-28h8m-6 33h8m2-24h8m-8 18h8m-1-18h8m-3 25h8m-6-36h8m-6 25h8m-8-25h8m-6 35h8m-8-10h8m-6-6h8m-5-15h8m-6 28h8m-5 3h8m-5-12h8m-7-21h8m-7 28h8m-5-17h8m-8 16h8m-5-4h8m-7 8h8m-7-32h8m-6 25h8m-2-14h8m-1 6h8m-1 1h8m-4 10h8m-5-6h8m-1 12h8m5-13h8m-485 54h8m36-32h8m-6 32h8m-7-7h8m-4-28h8m-7 8h8m2 4h8m-2-8h8m0-3h8m-7-1h8m230 1h8m11 5h8m-2 21h8m-8-26h8m-7 10h8m-8 15h8m-7-3h8m-6-16h8m-8 21h8m-6 4h8m-8-24h8m-8 22h8m-7-25h8m-7 16h8m-6 11h8m-7-32h8m-7 21h8m-8-13h8m-7 9h8m-2-7h8m-8 13h8m-7 13h8m-7-32h8m-8 31h8m-8-15h8m-7 7h8m-4 9h8m-5-7h8m-7-13h8m-7 18h8m-8-14h8m-7 4h8m-7-10h8m-8 23h8m-8-33h8m-7 10h8m-3 6h8m-4-15h8m-7 10h8m-8 1h8m-8 14h8m-7-25h8m-6 2h8m-6-4h8m-8 32h8m-8-12h8m-4 12h8m-8-9h8m-7 3h8m-8-9h8m-8 13h8m-7 0h8m-7-32h8m-8 2h8m-8 24h8m-7 8h8m-7 1h8m-6-23h8m-7 16h8m-6-4h8m-5-25h8m-5 37h8m-8-32h8m-5 10h8m-8 21h8m-7-26h8m-8 6h8m-3 18h8m-7 0h8m-6-10h8m-7-15h8m-7-5h8m-7 17h8m-7 13h8m-8-5h8m-6 1h8m-6-8h8m-7-2h8m-7 5h8m-8-25h8m-8 22h8m-7-24h8m-4 39h8m-4-11h8m-8 10h8m-7-13h8m-5 1h8m-5-5h8m-7-4h8m-5 14h8m8-28h8m-8 24h8m-5-6h8m-6 10h8m-454 16h8m-6 17h8m1-18h8m302-1h8m-8-1h8m-2 8h8m-7-3h8m-7 17h8m-8-15h8m-7 7h8m-7-6h8m-8 12h8m-7-13h8m-8 8h8m-7 1h8m-8-18h8m-7 12h8m-7 1h8m-8-7h8m-6 1h8m-7 6h8m-8 12h8m-8 11h8m-8-3h8m-8-13h8m-6-3h8m-8-19h8m-5 38h8m-7-12h8m-8 2h8m-7-19h8m-8 18h8m-6-27h8m-6 32h8m-8 7h8m-8-35h8m-6 7h8m-2 7h8m-8 11h8m-8-25h8m-7 25h8m-8 2h8m-7-8h8m-8-22h8m-4 1h8m-8 17h8m-8 19h8m-8-21h8m-6-8h8m-7 28h8m-6-33h8m-7 14h8m-7 4h8m-8-19h8m-8 17h8m-7-2h8m-7 3h8m-8 18h8m-8-33h8m-8 28h8m-7-14h8m-8-13h8m-5 15h8m-6-9h8m-6-9h8m-8 27h8m-7-26h8m-6 16h8m-7 17h8m-7-11h8m-6-20h8m-7 15h8m-7-1h8m-8 14h8m-8-16h8m-6 9h8m-7-9h8m-7 16h8m-8-12h8m-5 15h8m-7-24h8m-7-6h8m-8 20h8m-4-19h8m-8 23h8m-3-24h8m-6 23h8m-3-19h8m-5 1h8m-7 23h8m-7-9h8m-7-14h8m-1 19h8m-5 1h8m-8-18h8m0 11h8m9-16h8m12 22h8m-474 33h8m-3-14h8m298 27h8m-6-8h8m-6-3h8m-7-5h8m-8 11h8m-7 6h8m-5-14h8m-7-5h8m-8-8h8m-8-12h8m-7 6h8m-7 12h8m-8-13h8m-8 25h8m-7-5h8m-7-19h8m-6 25h8m-6 2h8m-7 3h8m-5-29h8m-8 10h8m-4-10h8m-7 12h8m-7 20h8m-7 0h8m-6-4h8m-7-30h8m-8 18h8m-7-9h8m-7 14h8m-7 1h8m-7-18h8m-7 16h8m-8-4h8m-8-9h8m-6 22h8m-6-35h8m-8 22h8m-8-20h8m-8 3h8m-7 10h8m-7-6h8m-7 28h8m-7-15h8m-7 9h8m-7-18h8m-7-5h8m-7 30h8m-7-30h8m-6 3h8m-6 12h8m-8-2h8m-7 5h8m-8 1h8m-7-1h8m-8-25h8m-7 8h8m-8 4h8m-7-3h8m-7-4h8m-7 13h8m-8-4h8m-7-6h8m-7 21h8m-8 3h8m-7-27h8m-8 7h8m-7 21h8m-4-25h8m-7 14h8m-7 8h8m-7-7h8m-7-8h8m-7-13h8m-3 13h8m-6 1h8m-7 9h8m-4 9h8m-6 3h8m-7-13h8m-2-21h8m-6 1h8m4 5h8m-5-4h8m2 13h8m1-2h8m-6 10h8m-442 26h8m-7 15h8m-6 0h8m0-2h8m-7-5h8m-7-11h8m-8 2h8m-1 4h8m-5 2h8m6 15h8m-6-5h8m3 6h8m-4 2h8m-8 2h8m201-7h8m-7 6h8m2-10h8m-3 11h8m-4-16h8m-7 7h8m-7-7h8m-6 5h8m-1 1h8m-4-26h8m-7 0h8m-6 33h8m-5-16h8m-8 5h8m-3-21h8m-5-2h8m-2 9h8m-8-3h8m-6-6h8m-5 18h8m-6-5h8m-6-14h8m-1 17h8m-5-16h8m-8 12h8m-8 0h8m-7 18h8m-5 4h8m-8-31h8m0 33h8m-1-38h8m-5 24h8m-6-7h8m-3 13h8m-7-5h8m-6-24h8m-8 2h8m-6 28h8m7-16h8m-3-6h8m-8 0h8m-5 5h8m-6-9h8m-6-4h8m-429 49h8m52 13h8m-3-5h8m-7 1h8m2 9h8m-7-17h8m-5-1h8m-8 3h8m-6-6h8m-2-3h8m-3 31h8m-6-26h8m-8 1h8m-4 5h8m-6-4h8m-7 0h8m-8 4h8m-7-9h8m-4 5h8m-8 9h8m-5-16h8m-3 2h8m-6 15h8m-8-17h8m-7-1h8m-5 2h8m-6 1h8m-4 16h8m-7-13h8m2 6h8m-8-13h8m-7 7h8m-8-6h8m-7-3h8m-5 4h8m-5-4h8m-8 18h8m-7-14h8m-7 2h8m-7 1h8m-7 2h8m-8-7h8m-8 22h8m-8-20h8m-2 11h8m-8-11h8m-8 9h8m-8-5h8m-7 12h8m-7-11h8m-7-4h8m-7 34h8m-6-11h8m-7 7h8m-8-10h8m-7-13h8m-8-4h8m-7 5h8m-8-2h8m-7-7h8m-6-1h8m-3 24h8m-8-10h8m-6-7h8m-8-3h8m-6-6h8m-6 9h8m-8-9h8m-7 3h8m-8 20h8m-6-10h8m-7 1h8m-8 19h8m-7-29h8m-6 3h8m-6 2h8m-8-9h8m-2 1h8m-8 6h8m-8 3h8m-6 3h8m-5-12h8m-7 1h8m-7-2h8m-8 28h8m-7-16h8m-8-1h8m-8-10h8m-5 5h8m-7-6h8m-8 5h8m-7 3h8m-8-1h8m-7 8h8m-7 8h8m-7-23h8m-7 17h8m-7 8h8m-7-24h8m-6 5h8m-7-6h8m-7 4h8m-8-3h8m-7 9h8m-6 2h8m-5 4h8m-6 3h8m-7-17h8m-7-2h8m-7 5h8m-7 1h8m5 1h8m-6-6h8m-6 4h8m-7 13h8m-8-18h8m-5 18h8m-7-12h8m-8-1h8m-4 3h8m-4 4h8m-7-2h8m-8-11h8m-5 12h8m-2-9h8m-5 15h8m-6-16h8m41 4h8m16 5h8m-1 21h8m4-7h8m-5-16h8m-8-9h8m-8 12h8m-8 13h8m5-12h8m-2 7h8m-1 12h8m-7-22h8m-5-10h8m-4 9h8m-4 25h8m-1-24h8m-308 50h8m-4-11h8m31-5h8m28-1h8m80-1h8m24 32h8m74-19h8" stroke="#333" stroke-width="8" opacity="0.62"/><path transform="translate(67.30 277.30) scale(.1)" d="M352 558l-157 0l-17-3l-18-7l-15-10l-11-10l-10-16l-6-14l-2-16l0-17l3-17l7-16l12-15l14-13l16-8l20-5l160-1l20 4l17 7l20 16l14 21l7 24l-1 28l-9 25l-16 21l-22 15z" fill="#8a8a8a" fill-rule="evenodd"/><path transform="translate(67.30 277.30) scale(.1)" d="M350 540l-152 1l-13-2l-13-4l-12-7l-9-8l-8-10l-6-12l-4-13l0-13l1-12l4-12l9-16l13-12l15-8l15-4l155-1l13 2l12 4l18 12l14 17l6 20l1 23l-7 20l-14 17l-18 13z" fill="#eeeeee" fill-rule="evenodd"/><path transform="translate(67.30 277.30) scale(.1)" d="M355 530l-13 2l-144 0l-18-4l-10-4l-10-8l-13-18l-5-20l3-23l7-15l10-10l13-8l15-5l152-1l20 4l16 8l13 14l8 18l1 18l-4 17l-10 17l-14 11z" fill="#c6c6c6" fill-rule="evenodd" stroke="#9a9a9a" stroke-width="3.0"/><path transform="translate(67.30 277.30) scale(.1)" d="M350 513l-160-1l-12-5l-12-12l-6-15l1-15l4-10l7-10l10-7l10-3l143 0l17 1l13 6l9 8l7 12l1 13l-2 13l-8 12l-10 8z" fill="#acacac" fill-rule="evenodd" stroke="#888" stroke-width="3.0"/><path transform="translate(67.30 277.30) scale(.1)" d="M345 498l-27 1l-60-5l-46 5l-14-1l-10-3l-8-7l-4-8l-1-10l3-8l4-5l8-5l8-2l14-1l46 5l60-5l27 1l10 4l7 6l4 8l1 7l-2 7l-5 8l-8 5z" fill="#959595" fill-rule="evenodd" stroke="#777" stroke-width="3.0"/><path transform="translate(67.30 277.30) scale(.1)" d="M210 490l-15-2l-8-8l-1-10l3-5l6-5l10-2l13 1l10 6l4 5l0 8l-3 4l-9 6zM330 490l-15 0l-15-5l-8-7l0-8l9-8l17-4l17 1l13 4l6 7l-1 10l-8 7z" fill="#7c7c7c" fill-rule="evenodd"/><path transform="translate(67.30 277.30) scale(.1)" d="M212 483l-10 0l-6-3l-2-8l3-4l11-4l10 4l3 4l0 6zM332 483l-17-1l-8-4l-1-6l4-4l8-3l17 1l7 4l2 5l-4 5z" fill="#d4d4d4" fill-rule="evenodd"/><path transform="translate(67.30 277.30) scale(.1)" d="M212 478l-4 2l-6-2l-2-6l5-3l7 1l3 5zM332 478l-12 1l-5-4l0-3l5-3l10 0l5 3z" fill="#fafafa" fill-rule="evenodd"/></g><rect x="67.30" y="277.30" width="65.00" height="64.90" fill="none" stroke="#adadad" stroke-width="0.9"/><path d="M67.30 283.79h-1.2M67.30 298.07h-1.2M67.30 313.00h-1.2M67.30 327.92h-1.2M67.30 341.23h-1.2M70.55 342.20v1.2M84.85 342.20v1.2M99.80 342.20v1.2M114.10 342.20v1.2M127.10 342.20v1.2" stroke="#666" stroke-width="0.6"/><rect x="80.30" y="342.10" width="2.6" height="1.3" fill="#111"/><rect x="66.10" y="325.97" width="1.4" height="2.6" fill="#111"/><rect x="101.30" y="286.00" width="22.3" height="29.4" fill="none" stroke="#f26c78" stroke-width="0.85"/><text transform="translate(76.73 293.60) scale(1.0015 1)" font-size="7.57" fill="#111" stroke="#111" stroke-width="0.15">1.22</text><g><path transform="translate(138.30 277.30) scale(.1)" d="M510 41h8m-198 48h8m8 69h8m27-19h8m63-18h8m60 3h8m-222 57h8m60 3h8m31 12h8m2-21h8m0 22h8m-2-26h8m2-10h8m-3 12h8m1 23h8m-5 2h8m-5 0h8m12 1h8m-2-15h8m-6 14h8m82-26h8m-313 64h8m83-14h8m-1-17h8m-1 28h8m11-26h8m2 25h8m-7-5h8m-6-9h8m2 13h8m-7-1h8m-5-26h8m-3 31h8m-7-17h8m-7-6h8m-6 23h8m7-33h8m-8 34h8m-7-6h8m-2-1h8m-4-9h8m-7 10h8m-6-23h8m-4 29h8m-3-34h8m-6 37h8m9-25h8m-5 17h8m-4-17h8m6 18h8m-2-24h8m-3 19h8m-246 39h8m32-8h8m6-9h8m-1-6h8m10 28h8m-1-16h8m6-13h8m-6 34h8m-6-2h8m-6-12h8m-8-10h8m-6 3h8m-7 22h8m-7-15h8m-3 16h8m-6-19h8m-4 13h8m-6-10h8m-6 4h8m-7-7h8m-8 8h8m-8-20h8m-5-2h8m-7 10h8m-8 0h8m-5-5h8m-6 5h8m-6-12h8m9 0h8m13-3h8m-7 1h8m-4 7h8m-1-7h8m-2 13h8m-5 3h8m-7 9h8m-6 3h8m-7-10h8m-7 7h8m-7-3h8m-7 10h8m-7-15h8m-6 15h8m-3-9h8m-2-22h8m-5 21h8m-7 16h8m-7-8h8m17 0h8m11-4h8m-210 51h8m5 0h8m2-3h8m-2-28h8m-3 17h8m-5-5h8m-4 16h8m-7-2h8m-8-6h8m-7 4h8m-7-8h8m-8 4h8m-7-13h8m-8 3h8m-6 13h8m-6-22h8m-6 1h8m78-9h8m-4 4h8m-7 9h8m-8 0h8m-6 9h8m-8-20h8m-7 28h8m-8-20h8m-5-7h8m-6 17h8m-7 1h8m-6 14h8m-7-33h8m-7 7h8m-7 24h8m-4-11h8m-3 12h8m8-9h8m46-11h8m-463 38h8m146-10h8m-8 1h8m12 16h8m42-14h8m8 1h8m-6 2h8m-1 1h8m-6 21h8m-8-29h8m-7 29h8m-6-6h8m-5-21h8m-7 6h8m-6 25h8m-7-29h8m-7 13h8m101-11h8m-4 26h8m-6-14h8m-8-13h8m-4 25h8m-5-1h8m-6-13h8m-7 1h8m-8-13h8m10 15h8m3-3h8m5-2h8m15-10h8m-430 50h8m15 14h8m-2 4h8m-7-33h8m-2 8h8m-6 15h8m-7-1h8m-7 17h8m-7-21h8m-6 21h8m-7-22h8m-2 11h8m5 0h8m-5 10h8m-3-10h8m-6 11h8m-8-17h8m6 14h8m-7 2h8m-8-4h8m-6-10h8m-6 1h8m-6-10h8m-2 10h8m-7 13h8m-6-3h8m-7 1h8m-8-5h8m-8 7h8m-5-17h8m-6 8h8m1-4h8m5 7h8m-7-17h8m1 21h8m6 3h8m1-34h8m1 12h8m14 17h8m-6-1h8m-5 2h8m-4-25h8m5 9h8m-8-5h8m-3-3h8m-8 28h8m-6-25h8m-6-4h8m-6-9h8m-7 4h8m107-4h8m-7 14h8m-7 24h8m-6-28h8m-7 4h8m-6-15h8m-5 2h8m-8 15h8m-6-12h8m3 12h8m-5 15h8m2-7h8m8-22h8m-7 16h8m24-5h8m-2 16h8m-482 31h8m0 15h8m-8-10h8m-1 3h8m-7-7h8m-5 1h8m-7-1h8m0-3h8m-3-1h8m-8-2h8m-1-2h8m0-6h8m0 4h8m-6-1h8m-1-3h8m-6 2h8m-3-4h8m-7-2h8m-4-2h8m-8 2h8m-7-4h8m-6 9h8m-2-6h8m-8 4h8m-7 2h8m-7-7h8m-3 5h8m-6-4h8m-8 7h8m-6-3h8m-5 2h8m-3-1h8m-6 0h8m-4-2h8m-7-5h8m-4 0h8m-7 3h8m-7 4h8m-8-3h8m-2 2h8m-4-1h8m-5-4h8m-7 3h8m-7 0h8m-7 1h8m-7-3h8m-8 5h8m-5 0h8m-8 0h8m-1-1h8m-5-4h8m-7 1h8m-8-1h8m-5 5h8m-6-5h8m-6 7h8m-8-6h8m-5 4h8m-3 1h8m-7 1h8m-5-1h8m-3-4h8m-5 1h8m-6-6h8m1 9h8m-6 0h8m-4-5h8m-5 6h8m-5 5h8m-7-2h8m-6-7h8m-6 10h8m-7-2h8m-3-4h8m-8 2h8m-5-11h8m-8 11h8m2-3h8m-3 4h8m-3 23h8m-5 0h8m-8-25h8m-8-7h8m-2 12h8m-6 2h8m-7-5h8m-6-3h8m-4 25h8m-5-14h8m-8-5h8m-5-16h8m-8 25h8m-6-21h8m-6 16h8m-8-16h8m-6 1h8m-5 0h8m108-4h8m-6 9h8m-8 23h8m-6-28h8m-5 6h8m-5 13h8m4-21h8m21 35h8m-487 27h8m26 13h8m-6-2h8m-4-27h8m-6 4h8m-5-3h8m233-3h8m-5-1h8m-7 1h8m-6-1h8m-6-2h8m124 17h8m-6-9h8m-6 22h8m-3-18h8m-7 9h8m-4-17h8m10 16h8m-469 34h8m19-8h8m-7 6h8m-8 23h8m-4-25h8m-5-3h8m-2 16h8m-8-19h8m-6 5h8m-7 8h8m-7 0h8m-4 18h8m238 0h8m-4-3h8m118-20h8m-8 7h8m-5-14h8m-7 8h8m-7 18h8m-6-28h8m-7 16h8m-5-17h8m3 24h8m-6 7h8m-3 2h8m-417 3h8m-7 20h8m-5-15h8m-4 21h8m-7-7h8m-7-10h8m-8 3h8m-7-4h8m12 18h8m-5-2h8m-4 7h8m14 3h8m-1 1h8m-6 2h8m-2-1h8m-5-2h8m-3 2h8m-6 0h8m0 0h8m1-2h8m-6 3h8m-6-4h8m-4 2h8m-7 1h8m-3-3h8m4 3h8m-3-3h8m-6 2h8m-7 0h8m-8 2h8m12 0h8m-6-3h8m-1 0h8m-7 1h8m6 2h8m12-6h8m-1 3h8m0-1h8m-3-9h8m-4 7h8m-3 4h8m-5-9h8m-8 8h8m-6-16h8m-6 5h8m-5-4h8m-7 11h8m-8-3h8m5-28h8m-5-1h8m-5 25h8m-2-1h8m-7-8h8m-7 0h8m-8 21h8m-8-15h8m-4-3h8m-8 5h8m12 9h8m-4 0h8m6 2h8m-7-5h8m-7 0h8m-6 3h8m-4-2h8m-5 0h8m-7 0h8m2 5h8m2-6h8m-3-2h8m-3-8h8m-4 8h8m-8-4h8m6-11h8m-7-11h8m-8 12h8m1 2h8m-6-14h8m2-1h8m-4 3h8m0 15h8m9 14h8m26-26h8m-427 41h8m-7 24h8m-4-12h8m4-10h8m-3-4h8m-7 11h8m-5-6h8m-8 1h8m-5-10h8m-4 3h8m-8 6h8m-8-9h8m-2 5h8m-7 0h8m-5-6h8m-8-1h8m3 16h8m-8 21h8m-8-24h8m-7 17h8m-7-24h8m-5 0h8m-6-4h8m-8 4h8m-7-4h8m-8 5h8m-6 22h8m-7-21h8m-6-4h8m-4 2h8m-1 3h8m-6-7h8m-8 3h8m-6 3h8m-5 16h8m-8-9h8m-8-15h8m-7 7h8m-8-5h8m-7 19h8m-6-12h8m-8 2h8m-3-4h8m-7 20h8m-7-19h8m-7-2h8m-6-5h8m2 15h8m-7 12h8m-7-27h8m-3 16h8m-8-14h8m-7 11h8m-7 2h8m-8 14h8m-7-28h8m-7-1h8m-8 8h8m-4-7h8m-6 9h8m-8 3h8m-8 22h8m-4-33h8m-7 10h8m-7-10h8m-6 17h8m-6-16h8m-2-4h8m-6 15h8m-5-14h8m15-1h8m-8 3h8m7-1h8m-5 1h8m3 1h8m23 17h8m11-14h8m-5 0h8m24-1h8m-4-6h8m0 16h8m-1 3h8m30 2h8m-236 43h8m169-15h8" stroke="#333" stroke-width="8" opacity="0.55"/><path transform="translate(138.30 277.30) scale(.1)" d="M308 553l-16 1l-114 0l-16-2l-14-6l-13-8l-11-10l-8-13l-5-13l-2-12l-1-15l4-15l5-12l11-15l12-11l15-8l15-3l125-1l15 2l18 7l17 13l12 18l7 20l0 22l-6 20l-13 20l-17 13z" fill="#9a9a9a" fill-rule="evenodd"/><path transform="translate(138.30 277.30) scale(.1)" d="M305 538l-13 1l-112 0l-22-5l-18-12l-8-10l-5-10l-4-22l6-22l8-13l11-10l12-7l12-3l123 0l20 4l15 10l12 13l7 18l1 18l-5 17l-10 15l-13 11z" fill="#f0f0f0" fill-rule="evenodd"/><path transform="translate(138.30 277.30) scale(.1)" d="M302 530l-122 1l-18-3l-16-10l-11-16l-4-17l3-20l7-13l9-9l10-6l12-4l120 0l18 3l12 7l12 12l7 15l2 15l-4 15l-9 15l-12 10z" fill="#d4d4d4" fill-rule="evenodd" stroke="#9a9a9a" stroke-width="3.0"/><path transform="translate(138.30 277.30) scale(.1)" d="M300 515l-115 1l-15-2l-12-6l-8-10l-4-13l1-13l4-7l7-8l7-5l10-4l117 0l10 1l10 5l10 8l6 10l1 10l-3 13l-6 9l-10 8z" fill="#c0c0c0" fill-rule="evenodd" stroke="#8a8a8a" stroke-width="3.0"/><path transform="translate(138.30 277.30) scale(.1)" d="M302 503l-20 2l-47-6l-40 6l-17-1l-8-3l-8-6l-3-7l0-10l3-8l5-5l13-6l15 0l40 6l45-6l18 1l7 2l7 5l5 5l2 8l-1 8l-3 6z" fill="#acacac" fill-rule="evenodd" stroke="#808080" stroke-width="3.0"/><path transform="translate(138.30 277.30) scale(.1)" d="M200 496l-12 1l-13-3l-5-4l-2-5l1-10l6-5l10-3l13 1l10 4l6 8l-1 5l-3 5zM300 496l-12 1l-16-3l-10-6l-2-8l5-6l10-5l13-2l12 1l9 7l2 7l-3 8z" fill="#969696" fill-rule="evenodd"/><path transform="translate(138.30 277.30) scale(.1)" d="M195 490l-7 2l-8-2l-4-5l0-7l9-5l13 2l4 7l-2 6zM298 490l-8 2l-10-2l-6-5l-1-5l9-7l8-1l8 2l4 4l2 4l-3 6z" fill="#dcdcdc" fill-rule="evenodd"/><path transform="translate(138.30 277.30) scale(.1)" d="M192 486l-4 1l-6-2l-1-5l4-3l7 1l4 4zM295 486l-10 0l-4-4l1-2l6-3l7 1l3 4z" fill="#fafafa" fill-rule="evenodd"/><path transform="translate(138.30 277.30) scale(.1)" d="M432 548l-14-1l-16-3l-12-6l-12-9l-11-11l-6-13l-4-13l-2-14l5-23l15-30l5-14l5-76l11-45l9-20l10-15l13-10l12-3l12 3l10 8l12 15l8 17l7 23l5 24l4 56l-6 87l-6 27l-9 18l-12 13l-15 10z" fill="#f0f0f0" fill-rule="evenodd" stroke="#a0a0a0" stroke-width="3.0"/><path transform="translate(138.30 277.30) scale(.1)" d="M428 523l-18-3l-17-10l-10-15l-3-17l4-18l12-25l4-13l2-62l7-35l6-16l7-12l8-7l10-3l8 2l7 5l7 10l7 14l8 34l2 40l-8 78l-5 22l-7 13l-9 9l-10 6z" fill="#e6e6e6" fill-rule="evenodd" stroke="#a4a4a4" stroke-width="3.0"/><path transform="translate(138.30 277.30) scale(.1)" d="M428 503l-10-1l-10-6l-7-8l-2-13l2-10l12-25l4-12l-1-53l4-27l8-18l4-6l8-3l10 6l9 15l5 23l0 27l-12 88l-10 15l-7 5z" fill="#f4f4f4" fill-rule="evenodd" stroke="#aaaaaa" stroke-width="3.0"/></g><rect x="138.30" y="277.30" width="65.00" height="64.90" fill="none" stroke="#adadad" stroke-width="0.9"/><path d="M138.30 283.79h-1.2M138.30 298.07h-1.2M138.30 313.00h-1.2M138.30 327.92h-1.2M138.30 341.23h-1.2M141.55 342.20v1.2M155.85 342.20v1.2M170.80 342.20v1.2M185.10 342.20v1.2M198.10 342.20v1.2" stroke="#666" stroke-width="0.6"/><rect x="151.30" y="342.10" width="2.6" height="1.3" fill="#111"/><rect x="137.10" y="325.97" width="1.4" height="2.6" fill="#111"/><rect x="172.30" y="286.00" width="22.3" height="29.4" fill="none" stroke="#f26c78" stroke-width="0.85"/><text transform="translate(144.52 293.53) scale(1.0357 1)" font-size="7.46" fill="#111" stroke="#111" stroke-width="0.15">10.09</text><g><path transform="translate(67.30 347.30) scale(.1)" d="M524 72h8m-306 46h8m258-8h8m12-5h8m-50 42h8m16 2h8m-1 6h8m50-18h8m-330 44h8m18 10h8m197-7h8m12-5h8m-4-5h8m-5 19h8m-8-8h8m11 2h8m-6 3h8m-7-24h8m-4-3h8m-181 72h8m98-34h8m-2 10h8m16 0h8m-4 6h8m-6 15h8m6-10h8m-4-19h8m-6 7h8m4 5h8m0 12h8m-1-20h8m2-3h8m-384 56h8m131-14h8m48-2h8m59 7h8m31 5h8m-7-10h8m-5 5h8m-5 17h8m-1-22h8m-3 25h8m-5 1h8m-8-19h8m-7 23h8m-1-28h8m-6 8h8m-7-14h8m-5 12h8m-5 15h8m-8 7h8m-5-6h8m-7 6h8m-6-28h8m-6 18h8m-7-16h8m1 13h8m-3-2h8m-6 17h8m-2-9h8m-1 5h8m-325 38h8m-5 0h8m7-21h8m122 11h8m-6-13h8m63 5h8m5 14h8m-8-28h8m-5 34h8m6-22h8m5-9h8m-6 13h8m-6 13h8m-7-20h8m-1 2h8m2 26h8m-5-15h8m-5-17h8m-2 0h8m1 14h8m-2 7h8m2 3h8m13-2h8m-420 47h8m0 0h8m18-7h8m-1 12h8m-4-10h8m-5-8h8m-7 14h8m7-10h8m-6 1h8m3-1h8m-6 0h8m-2 5h8m-7 6h8m-4-13h8m-7-5h8m14 21h8m-6-5h8m44-24h8m51 20h8m1-14h8m8 23h8m21-31h8m-3 21h8m1-21h8m9-6h8m-7 37h8m-8-30h8m-2 21h8m-8-19h8m-4 2h8m-8 3h8m-6 17h8m-5-3h8m-8 1h8m2-1h8m-6-1h8m-7-7h8m-6-18h8m-3 3h8m-6 20h8m-8-19h8m-2 11h8m-3-10h8m-3 5h8m1 14h8m-6 3h8m-6-17h8m2 3h8m-445 61h8m-4 1h8m-1-17h8m4 10h8m-2 5h8m-8-12h8m-5 6h8m-7-21h8m-6 26h8m-7 0h8m-6-18h8m-7 17h8m-8-1h8m-7-9h8m-8-15h8m-4 15h8m-8-2h8m-8-1h8m-7 7h8m-5-10h8m-4 11h8m-6-6h8m-8-6h8m-7 7h8m-7 0h8m-8 2h8m-6-2h8m-7-8h8m-8 9h8m-5 1h8m-8-15h8m-8 0h8m-7-2h8m-7 17h8m-6-8h8m-4 5h8m-7-17h8m-6 20h8m-6-4h8m-7 0h8m-7-2h8m-6-5h8m-7-8h8m-8 10h8m-8-2h8m-8-1h8m-6 2h8m-7 7h8m-7-5h8m-5-16h8m-8 2h8m-8 5h8m-8-1h8m-6 0h8m-6 10h8m-7 3h8m-7-4h8m-4 6h8m-8-8h8m-4 1h8m-8 5h8m-7-12h8m-6 12h8m-8-6h8m-8-7h8m-8 6h8m-8 9h8m-8-2h8m-7-1h8m-6-5h8m-6-14h8m-5 16h8m-7-11h8m-8 12h8m-8-18h8m-7 3h8m-7 20h8m-7 1h8m-5-19h8m-8 4h8m-7 10h8m-6-13h8m-7 7h8m-7 5h8m-5 0h8m-8-2h8m-5 5h8m-6-16h8m-7 15h8m-8 2h8m-5-6h8m-7 2h8m-7 2h8m-8-8h8m-6 3h8m-7 5h8m-7 0h8m-8-3h8m-7-1h8m-5-4h8m-3 11h8m-6-4h8m-7-4h8m-6 2h8m-5-5h8m-8 5h8m-5 5h8m-6-10h8m-8 2h8m-7-12h8m-8 18h8m-7-8h8m-7 12h8m-8-9h8m-7 4h8m-5-7h8m-7 9h8m-7-16h8m-8 8h8m-8 5h8m-5-10h8m-4 12h8m-8 5h8m-7-17h8m-6-8h8m-7 24h8m-6-6h8m-5 0h8m-2 8h8m-4-2h8m-5-9h8m-6 10h8m-6-3h8m0 4h8m-7 3h8m14-24h8m-6 20h8m-7 0h8m1 3h8m-6-3h8m-4 12h8m-2-5h8m-3-4h8m10 4h8m-8 3h8m-5-6h8m-7-12h8m-4 0h8m6 2h8m0-14h8m-4 24h8m-6 8h8m-4-10h8m-5-7h8m4 17h8m-8-19h8m-1 11h8m-8-2h8m1-18h8m-5 0h8m-8-10h8m-6 38h8m-7-25h8m-7 11h8m-7-22h8m-6 19h8m-6 12h8m-7-6h8m-5-19h8m-7 2h8m-7 5h8m-7-9h8m-7 17h8m-8 7h8m-1-13h8m-3 17h8m-8-3h8m-7-11h8m-4 16h8m-5-23h8m8-11h8m3 0h8m60 24h8m-523 22h8m-7 25h8m-6-18h8m1 2h8m-8 6h8m-6 4h8m-7 2h8m-4 0h8m-7-7h8m-6 17h8m-8-33h8m-3 1h8m-7-1h8m-6 14h8m-2-16h8m1 1h8m-4-3h8m-6-1h8m-5 1h8m206 1h8m13-2h8m-2 2h8m-2-1h8m14 14h8m2 9h8m-7-17h8m-6 2h8m-6 9h8m-8-6h8m-7 13h8m-6 7h8m-6 4h8m-7-22h8m-8 2h8m-8-17h8m-7 20h8m-7-10h8m-6-4h8m-8-5h8m-7 21h8m-7-19h8m-7 9h8m-6 20h8m-7-10h8m-8-22h8m-8 5h8m-6 2h8m-7 31h8m-7-33h8m-7 34h8m-7 0h8m-7-32h8m-8-4h8m-7 2h8m-6 5h8m-8-7h8m-7 17h8m-6-4h8m-6 12h8m-8-7h8m-6-12h8m-8 16h8m-8 11h8m-6 3h8m-8-21h8m-8-1h8m-7 15h8m-8 7h8m-7-7h8m-7-3h8m-7-22h8m-8 29h8m-7-2h8m-7-33h8m-4 23h8m-8-21h8m-8-1h8m-6 24h8m-8-1h8m-6-3h8m-8 14h8m-7-11h8m-8 0h8m-6 0h8m-6-24h8m-7 25h8m-8-11h8m-7-5h8m-8 29h8m-8-19h8m-6-16h8m-7 22h8m-7-2h8m-5 3h8m-6-2h8m-6 8h8m-7-19h8m-7 5h8m-7 9h8m-8 10h8m-8-18h8m-7-6h8m-7 1h8m0 24h8m-6-27h8m-8-2h8m-7 20h8m1-3h8m-7-6h8m-8-12h8m-6 20h8m-6 0h8m-2-10h8m-8 2h8m-3-13h8m-1 25h8m23-25h8m-511 41h8m15 20h8m-6-14h8m-3 11h8m-7-26h8m-8 21h8m-3-15h8m-6 11h8m-5-17h8m315 0h8m-4 23h8m-7-7h8m-5 13h8m-7-8h8m-8-17h8m-7 23h8m-5 6h8m-8 5h8m-6-5h8m-7-27h8m-7 25h8m-8 4h8m-7-5h8m-8-7h8m-8-7h8m-7 19h8m-5-5h8m-7-12h8m-8 17h8m-7-12h8m-6 4h8m-8-10h8m-7-9h8m-6 7h8m-7-13h8m-8 2h8m-7 27h8m-8-15h8m-7 16h8m-8-17h8m-7 16h8m-6-13h8m-8 5h8m-6 11h8m-7-34h8m-7 2h8m-8 7h8m-7 3h8m-6 27h8m-7-38h8m-3 34h8m-8-21h8m-6-9h8m-7 29h8m-8-32h8m-8 4h8m-7 6h8m-7 4h8m-8 6h8m-6-15h8m-8 10h8m-7 8h8m-8-20h8m-8 32h8m-5-33h8m-8 14h8m-4-11h8m-8 18h8m-7 8h8m-7-7h8m-8-15h8m-7 1h8m-6-1h8m-2-6h8m-4 28h8m-7-3h8m-8-20h8m0 13h8m-8 9h8m-7-24h8m-5 1h8m-5 12h8m-3 2h8m-2-17h8m17 19h8m-6 13h8m-480 33h8m0-20h8m-7 21h8m-7-27h8m-8 0h8m-1 16h8m-8 12h8m303 4h8m4-16h8m-5-13h8m-4 10h8m-8 15h8m-7-16h8m-7-15h8m-7 17h8m-8 4h8m-7-6h8m-7 9h8m-7 5h8m-7-23h8m-8 0h8m-7 18h8m-6-20h8m-3-4h8m-8 0h8m-2 29h8m-7-22h8m-7 15h8m-6-24h8m-7 37h8m-8-25h8m-7-12h8m-8 7h8m-8 24h8m-7-23h8m-7 24h8m-7-31h8m-8 22h8m-8-13h8m-7 29h8m-8-12h8m-7 7h8m-8-33h8m-5 3h8m-4 7h8m-6 3h8m-8-14h8m-7 22h8m-7-20h8m-5 6h8m-6 24h8m-7 7h8m-8-2h8m-6 0h8m-6-34h8m-7 16h8m-6-9h8m-7-10h8m-7 16h8m-8-14h8m-8 11h8m-8 7h8m-8 17h8m-3-22h8m-7 23h8m-7-19h8m-6-3h8m-4-3h8m-8-3h8m-3 4h8m-6-3h8m-7 1h8m-7 0h8m-4 15h8m3 10h8m-441 23h8m-5-16h8m-5 11h8m4 18h8m3 4h8m-5-16h8m-4 10h8m-6 6h8m-4-7h8m-2 9h8m-7-9h8m-2 2h8m-6 3h8m2 4h8m18-1h8m8 1h8m-2 0h8m-6 0h8m9 0h8m-6-1h8m-7 1h8m12-1h8m2 0h8m39-2h8m-7-1h8m-3 1h8m-2 0h8m-7-6h8m-7 7h8m-3-4h8m-6-3h8m-4 6h8m-7 1h8m-1-3h8m-5-7h8m-8-6h8m0 6h8m-7-2h8m-5 5h8m2-9h8m-1 14h8m4-16h8m-7 14h8m-4-14h8m-7 19h8m-3-9h8m-3-19h8m-3 6h8m0-7h8m-1 16h8m-6-25h8m-7 4h8m-8 9h8m-7 5h8m-8-13h8m-5 22h8m-5-17h8m-6-10h8m-7 38h8m-8-24h8m-5-8h8m-1-5h8m-7 0h8m-7-1h8m-8 19h8m-8-3h8m-6-9h8m2 22h8m-5-29h8m-5 8h8m9 8h8m13 21h8m-5-15h8m-3-22h8m-6 34h8m-8-28h8m-4 5h8m-7-11h8m-438 50h8m38 4h8m8 5h8m-7-19h8m-7 1h8m-7 0h8m2 20h8m-4-20h8m-8 10h8m-8-10h8m-3 9h8m-4 5h8m-7 18h8m-5-30h8m-7-1h8m-3 8h8m-6 10h8m-6-18h8m-7 8h8m-6 5h8m-3-15h8m-7 1h8m-7 21h8m-6 13h8m-7-13h8m-6-17h8m-7 5h8m-5 1h8m-7-10h8m-4 1h8m-7 1h8m-6 12h8m-6-2h8m-6 7h8m-8-19h8m-7 13h8m-7 5h8m-8 13h8m-8-26h8m-7 1h8m-8 3h8m-7-7h8m-8-3h8m-7 18h8m-7-11h8m-6 10h8m-8-11h8m-8-5h8m-7-1h8m-7 24h8m-8-15h8m-8-3h8m-7 3h8m-7-5h8m-6 9h8m-8-13h8m-8 14h8m-7 0h8m-8-10h8m-5 9h8m-6-9h8m-7-1h8m-7 3h8m-8 4h8m-7 11h8m-7 3h8m-7-20h8m-7-4h8m-8 0h8m-8 7h8m-6-4h8m-7 30h8m-6-27h8m-7 20h8m-7 8h8m-7-1h8m-7 5h8m-8-21h8m-8 12h8m-2-17h8m-8-9h8m-5 8h8m-7 27h8m-6-5h8m-8-28h8m-3-2h8m-6 7h8m-4 4h8m-7 1h8m-6-8h8m-8-7h8m-7 0h8m-8 13h8m-4 16h8m-8 4h8m-7 4h8m-8-37h8m-7 1h8m-8 24h8m-5-23h8m-5 0h8m-4 5h8m-4 9h8m-7 3h8m-8-10h8m-7-4h8m-8-4h8m-1 7h8m-6-2h8m-2-2h8m19-2h8m34 0h8m8 13h8m14 17h8m16-21h8m-2 11h8m-5-7h8m0-10h8m14-2h8m-5 0h8m11 14h8m-318 56h8m-7-31h8m3 20h8m-6-10h8m-4-3h8m6 2h8m231-6h8m53 25h8" stroke="#333" stroke-width="8" opacity="0.62"/><path transform="translate(67.30 347.30) scale(.1)" d="M302 555l-17 2l-100 0l-25-6l-20-12l-12-11l-10-13l-7-15l-4-18l-1-17l3-15l5-15l9-15l12-13l17-12l18-7l20-3l105 1l17 4l33 12l45 2l12 5l10 6l10 10l7 10l5 13l3 14l0 16l-3 14l-12 23l-12 12l-15 7l-15 3l-32 1z" fill="#8a8a8a" fill-rule="evenodd"/><path transform="translate(67.30 347.30) scale(.1)" d="M298 538l-13 1l-97 0l-18-4l-15-7l-10-8l-9-10l-7-12l-4-13l0-25l3-12l6-13l8-11l10-8l13-8l13-4l12-1l92 0l26 4l37 18l30-3l13 2l10 4l10 8l9 16l3 20l-5 20l-10 15l-10 7l-10 3l-40-1l-33 17z" fill="#eeeeee" fill-rule="evenodd"/><path transform="translate(67.30 347.30) scale(.1)" d="M300 528l-15 2l-95 0l-12-2l-13-5l-10-6l-9-9l-10-20l-2-23l7-23l7-10l10-9l10-5l12-5l105-1l13 2l12 4l32 20l8 1l22-5l10 1l10 3l10 9l7 13l1 15l-4 13l-8 10l-8 5l-10 3l-28-4l-7 0l-30 19z" fill="#c6c6c6" fill-rule="evenodd" stroke="#9a9a9a" stroke-width="3.0"/><path transform="translate(67.30 347.30) scale(.1)" d="M292 510l-100 1l-14-3l-13-8l-9-12l-4-16l2-14l6-10l7-8l8-5l10-3l100-1l13 2l12 7l10 10l6 12l1 10l-3 13l-9 12l-10 8z" fill="#acacac" fill-rule="evenodd" stroke="#888" stroke-width="3.0"/><path transform="translate(67.30 347.30) scale(.1)" d="M285 495l-23 1l-32-2l-30 2l-12-1l-10-5l-7-8l-3-7l0-10l9-13l13-6l40 2l38-2l22 2l8 3l6 7l4 7l1 7l-2 8l-6 8l-7 4z" fill="#959595" fill-rule="evenodd" stroke="#777" stroke-width="3.0"/><path transform="translate(67.30 347.30) scale(.1)" d="M282 485l-12 2l-12 0l-28-8l-20 7l-15 1l-7-2l-6-4l-3-11l5-10l11-5l15 1l20 7l25-7l20-1l14 5l6 8l-1 10l-6 4z" fill="#7c7c7c" fill-rule="evenodd"/><path transform="translate(67.30 347.30) scale(.1)" d="M205 481l-7 0l-8-3l-3-6l2-7l11-4l12 4l3 5l-1 5zM272 480l-17-1l-7-4l-1-5l4-5l7-3l10-1l8 1l7 6l1 4l-4 6z" fill="#d4d4d4" fill-rule="evenodd"/><path transform="translate(67.30 347.30) scale(.1)" d="M205 475l-5 1l-5-1l-2-5l5-4l7 1l3 3zM272 475l-12 0l-4-3l0-2l6-4l8 0l6 4z" fill="#fafafa" fill-rule="evenodd"/></g><rect x="67.30" y="347.30" width="65.00" height="64.90" fill="none" stroke="#adadad" stroke-width="0.9"/><path d="M67.30 353.79h-1.2M67.30 368.07h-1.2M67.30 383.00h-1.2M67.30 397.92h-1.2M67.30 411.23h-1.2M70.55 412.20v1.2M84.85 412.20v1.2M99.80 412.20v1.2M114.10 412.20v1.2M127.10 412.20v1.2" stroke="#666" stroke-width="0.6"/><rect x="80.30" y="412.10" width="2.6" height="1.3" fill="#111"/><rect x="66.10" y="395.97" width="1.4" height="2.6" fill="#111"/><rect x="101.30" y="356.00" width="22.3" height="29.4" fill="none" stroke="#f26c78" stroke-width="0.85"/><text transform="translate(76.73 360.90) scale(0.9906 1)" font-size="7.68" fill="#111" stroke="#111" stroke-width="0.15">1.74</text><g><path transform="translate(138.30 347.30) scale(.1)" d="M464 101h8m105 47h8m-175 40h8m23 11h8m-59 28h8m14 4h8m0-6h8m-4 11h8m-3 3h8m-2-4h8m1-13h8m-2-3h8m-7 19h8m9-4h8m-2-20h8m12-13h8m4 20h8m31 0h8m-351 45h8m131-2h8m14-8h8m4 22h8m-6-3h8m-8 1h8m1-20h8m2-6h8m-5-8h8m-1 1h8m-4-2h8m-6 16h8m-7-6h8m-7 4h8m-4 23h8m-6-13h8m-4-19h8m-8 12h8m-5 11h8m-6 7h8m-7-6h8m-5-16h8m-8 12h8m2-2h8m-8-5h8m-7-3h8m-5 13h8m-7-24h8m-3 23h8m-6-13h8m-7 11h8m-3-1h8m-8-3h8m-6 7h8m-5 2h8m-6 1h8m-6-16h8m-6 17h8m-7-15h8m-6 11h8m-7 10h8m-6-17h8m-7 1h8m-4 7h8m-7 4h8m-8-5h8m-3-20h8m-8-9h8m-3 30h8m-7-6h8m-8 9h8m-2 6h8m-6-16h8m-2-8h8m-3 16h8m46-17h8m-316 64h8m19-28h8m94 9h8m-6 20h8m-2-2h8m12-27h8m-6 2h8m-8-1h8m-7-11h8m59 1h8m-8 16h8m4 18h8m-8 2h8m-8-3h8m-4-34h8m-7 29h8m-1-9h8m1-8h8m-5-1h8m11 21h8m17 3h8m-420 41h8m79-8h8m85 8h8m1-22h8m8-2h8m3 8h8m0-15h8m-4 25h8m-8-26h8m-4 13h8m-3 22h8m-7-23h8m-8 7h8m-7 12h8m-7-6h8m-6 10h8m-8-20h8m-7-5h8m-7 15h8m-7-9h8m-8-8h8m-5-12h8m-7 8h8m91 1h8m-8 11h8m-7-4h8m-8 8h8m-7-13h8m-7 3h8m-1 22h8m-4-11h8m-7-18h8m-5 18h8m-5 4h8m-426 46h8m2-14h8m1 5h8m0 0h8m-7-8h8m-7 1h8m2 11h8m-2-14h8m-7 23h8m-6-13h8m-6 9h8m-6-11h8m-3 2h8m-8 7h8m-7-19h8m-6 21h8m-1-6h8m-5-1h8m-6 4h8m-7 0h8m-6 2h8m-7-18h8m-7 17h8m-8-32h8m1 15h8m-7-3h8m-5 20h8m-7-11h8m-7-5h8m-7 15h8m-1-2h8m-3-1h8m-6-15h8m-7 2h8m-7 2h8m-8 19h8m-6-4h8m-8-11h8m-6 0h8m-8 9h8m-7 0h8m-6 1h8m-8 1h8m-8-3h8m-6 0h8m-7 1h8m-8 1h8m-8-2h8m-8-2h8m-7-4h8m-8 11h8m-8-1h8m-7-21h8m-7 13h8m-8 8h8m-7 0h8m-7 1h8m-6-2h8m-7-3h8m-7-27h8m-7 26h8m-7 4h8m-5-3h8m-7-8h8m-7 15h8m-6-1h8m-5 0h8m-7-4h8m-7 0h8m-8-6h8m-8 10h8m-8-4h8m-8-24h8m-6 22h8m-7-10h8m-6 14h8m-8-7h8m-7 1h8m-6 3h8m-5-1h8m-5 3h8m-8-4h8m-6-1h8m-8 9h8m-8-8h8m-5-8h8m-8 3h8m-8-5h8m-7 6h8m-6 5h8m-7 2h8m-8 0h8m-5-28h8m-8 31h8m-6-3h8m-5 3h8m-8-8h8m-8 1h8m-3-2h8m-8 10h8m-8-21h8m-7 6h8m-6-11h8m-5 10h8m-7 3h8m-7 13h8m-3-28h8m-7 16h8m-7-1h8m-7-9h8m-6 20h8m-8-8h8m-7 3h8m-6-20h8m-5 5h8m-7 15h8m-8-3h8m-4-21h8m-7 21h8m-5-4h8m-7 13h8m-5-21h8m-7 15h8m-6 5h8m-3-16h8m-7 18h8m-6-17h8m-7 11h8m-7-5h8m-6 7h8m-6-6h8m-7 6h8m-7 0h8m0 4h8m-2 1h8m6-18h8m2 17h8m-8-19h8m-5 14h8m-2-10h8m-8 17h8m-4-37h8m-7 2h8m-7 18h8m-8 2h8m-8 6h8m-7 4h8m-8-1h8m-8-30h8m103 2h8m-5 19h8m-8 0h8m-6 9h8m-8 7h8m-7-18h8m-7-18h8m-6 25h8m-2-19h8m-6 3h8m-6 20h8m-7-28h8m-7 23h8m14 2h8m15 0h8m-4-5h8m50 1h8m-593 38h8m12-22h8m21 14h8m3 4h8m-8 1h8m-7 1h8m-7-20h8m-8 25h8m-3-3h8m-1-19h8m-6 7h8m-2-11h8m5 1h8m191-1h8m-4 2h8m-6 2h8m2-2h8m-4 5h8m-8 3h8m-5 1h8m-8-4h8m3 4h8m-5 14h8m-4-20h8m-7 0h8m-8-2h8m-8 15h8m-8 7h8m-8-10h8m-3-10h8m112 33h8m-5-7h8m-7 0h8m-8-5h8m-6-9h8m-8 11h8m-4-5h8m40-23h8m-520 76h8m-3 3h8m18-23h8m-7-15h8m-6 13h8m-3 9h8m-4-23h8m402 2h8m-6 37h8m-7-6h8m-6-17h8m-7 21h8m0-1h8m-7-22h8m-8-6h8m-5 28h8m0-6h8m-8-7h8m-512 39h8m54-21h8m-5 26h8m-6-11h8m-7 11h8m-5 1h8m-6 7h8m387 3h8m-5 0h8m-7-13h8m-7-4h8m-7-6h8m-7 8h8m-6 5h8m-8 8h8m-5-8h8m21-15h8m-487 57h8m9-19h8m-2-11h8m3 10h8m-3 10h8m-4 0h8m-5-18h8m-5-2h8m-8 6h8m-6 0h8m-2 13h8m-5 0h8m-4 7h8m-8-4h8m-1 9h8m-2 5h8m-4-5h8m18 1h8m-7 1h8m-2-1h8m-8 0h8m-8 3h8m-5-3h8m-8 2h8m-7 3h8m-6 2h8m-7 0h8m-8 0h8m-5-7h8m-4 5h8m-7-1h8m-8 1h8m-3 2h8m-3-3h8m-4-5h8m-6 8h8m-1 0h8m-8-7h8m-7 0h8m-2 1h8m-1 1h8m-8-3h8m2 1h8m-5-1h8m-6 5h8m-6 1h8m-8-3h8m-7 2h8m-5-4h8m-6-2h8m-2 3h8m-6 6h8m-4-7h8m-8 4h8m-3-5h8m-6 4h8m-8-4h8m4 5h8m0 3h8m-8-4h8m-5-1h8m2-1h8m7-2h8m-7 3h8m-6-2h8m0 1h8m-3 2h8m-2 1h8m-8-4h8m-3-5h8m6 0h8m2 1h8m-7-18h8m-5-3h8m1 11h8m-8-17h8m-1 21h8m-7 2h8m-6-10h8m-7 3h8m-5 14h8m-7-4h8m-7-8h8m-3 3h8m0 8h8m-6 2h8m-3 6h8m-1 0h8m-3-7h8m6 3h8m-3 5h8m-5-5h8m-4 0h8m-5 3h8m0-8h8m-8 0h8m-6 1h8m1-11h8m-8 8h8m1-6h8m-4-13h8m-6 0h8m-7 2h8m-7 4h8m-5-11h8m-8 0h8m-6 0h8m5 3h8m-8-4h8m-3 11h8m37-5h8m71 24h8m-522 28h8m-3-1h8m7-13h8m-4 4h8m-6 16h8m4-22h8m-3 18h8m-8-20h8m18 1h8m-1 2h8m-4-4h8m-3 4h8m0-2h8m-5 8h8m-2-9h8m-8 17h8m-3 11h8m-8-23h8m-6-1h8m-6 8h8m-8-12h8m-8 8h8m-6 8h8m-7-13h8m-6-5h8m7 5h8m1-3h8m-8 8h8m-5 1h8m-4-6h8m-7 4h8m-7-3h8m-7-6h8m-8 3h8m12 4h8m-5-7h8m-7 21h8m-5-8h8m-1-9h8m-6 1h8m-6 1h8m-7 2h8m14 8h8m6 3h8m5-16h8m-8-3h8m18 22h8m-8-20h8m-1 3h8m1-2h8m4 3h8m-4-5h8m-6 1h8m0 35h8m-3-17h8m-2-16h8m-8 6h8m-4 11h8m-8-11h8m-2-4h8m5-6h8m-3 6h8m-6 6h8m7-11h8m-375 74h8m265-35h8m-3 3h8m64 10h8m-3 0h8m13-7h8" stroke="#333" stroke-width="8" opacity="0.55"/><path transform="translate(138.30 347.30) scale(.1)" d="M330 548l-18 2l-144-1l-16-2l-14-5l-13-8l-12-12l-9-12l-6-12l-3-16l-1-14l3-16l4-12l10-15l14-14l17-10l18-5l155-1l17 3l16 6l20 14l13 20l8 22l0 22l-6 23l-14 20l-17 14z" fill="#9a9a9a" fill-rule="evenodd"/><path transform="translate(138.30 347.30) scale(.1)" d="M322 533l-152 1l-22-5l-10-6l-10-8l-14-20l-4-23l4-22l7-12l12-13l15-9l14-4l153-1l20 5l17 10l14 16l7 18l0 20l-4 18l-12 17l-17 12z" fill="#f0f0f0" fill-rule="evenodd"/><path transform="translate(138.30 347.30) scale(.1)" d="M315 525l-145 0l-18-3l-17-11l-11-16l-5-20l2-20l7-13l10-10l12-8l12-3l150-1l18 3l15 8l13 14l7 17l0 18l-6 18l-11 14l-16 9z" fill="#d4d4d4" fill-rule="evenodd" stroke="#9a9a9a" stroke-width="3.0"/><path transform="translate(138.30 347.30) scale(.1)" d="M320 508l-158 0l-12-6l-9-10l-5-12l0-15l3-10l6-7l10-8l10-3l155 0l12 5l9 8l6 10l2 12l-2 13l-6 10l-9 8z" fill="#c0c0c0" fill-rule="evenodd" stroke="#8a8a8a" stroke-width="3.0"/><path transform="translate(138.30 347.30) scale(.1)" d="M315 495l-23 1l-34-4l-26-1l-17 0l-30 5l-15 0l-8-2l-8-6l-4-8l-2-10l3-8l4-5l7-6l8-2l15 0l30 5l17 0l26 0l37-5l20 1l7 2l8 6l5 7l1 7l-1 8l-5 8l-8 5z" fill="#acacac" fill-rule="evenodd" stroke="#808080" stroke-width="3.0"/><path transform="translate(138.30 347.30) scale(.1)" d="M185 488l-15-1l-10-7l-2-10l2-5l5-5l10-3l10 0l10 3l8 8l1 7l-3 5l-7 5zM310 488l-15 0l-14-3l-10-7l-1-8l8-8l12-4l15-1l11 3l8 8l1 7l-5 8z" fill="#969696" fill-rule="evenodd"/><path transform="translate(138.30 347.30) scale(.1)" d="M188 480l-10 2l-8-2l-4-5l1-7l11-5l10 2l5 7l-2 6zM302 483l-7-1l-7-3l-5-4l1-5l6-5l8-2l7 1l7 2l5 6l-2 5l-5 4z" fill="#dcdcdc" fill-rule="evenodd"/><path transform="translate(138.30 347.30) scale(.1)" d="M180 478l-8-3l0-5l3-2l5-1l6 3l0 5zM302 478l-10-2l-1-4l1-2l8-3l8 3l0 5z" fill="#fafafa" fill-rule="evenodd"/><path transform="translate(138.30 347.30) scale(.1)" d="M442 550l-14-1l-16-5l-14-8l-10-8l-10-10l-7-13l-3-13l-2-14l5-23l19-43l8-64l10-38l9-18l11-13l10-8l12-3l12 3l12 9l10 15l9 20l8 25l4 22l2 58l-3 58l-5 20l-6 14l-11 17l-12 12l-12 6z" fill="#f0f0f0" fill-rule="evenodd" stroke="#a0a0a0" stroke-width="3.0"/><path transform="translate(138.30 347.30) scale(.1)" d="M448 523l-10 1l-10-1l-10-4l-10-6l-13-15l-4-20l2-16l16-40l5-50l7-27l7-15l7-10l7-5l8-2l8 2l7 5l13 21l8 31l2 36l-3 57l-6 25l-11 20l-10 8z" fill="#e6e6e6" fill-rule="evenodd" stroke="#a4a4a4" stroke-width="3.0"/><path transform="translate(138.30 347.30) scale(.1)" d="M445 503l-13 1l-12-6l-8-10l-2-13l2-13l12-34l4-40l4-18l8-17l5-4l5-1l5 1l5 4l8 14l4 21l1 24l-4 48l-3 18l-8 16z" fill="#f4f4f4" fill-rule="evenodd" stroke="#aaaaaa" stroke-width="3.0"/></g><rect x="138.30" y="347.30" width="65.00" height="64.90" fill="none" stroke="#adadad" stroke-width="0.9"/><path d="M138.30 353.79h-1.2M138.30 368.07h-1.2M138.30 383.00h-1.2M138.30 397.92h-1.2M138.30 411.23h-1.2M141.55 412.20v1.2M155.85 412.20v1.2M170.80 412.20v1.2M185.10 412.20v1.2M198.10 412.20v1.2" stroke="#666" stroke-width="0.6"/><rect x="151.30" y="412.10" width="2.6" height="1.3" fill="#111"/><rect x="137.10" y="395.97" width="1.4" height="2.6" fill="#111"/><rect x="172.30" y="356.00" width="22.3" height="29.4" fill="none" stroke="#f26c78" stroke-width="0.85"/><text transform="translate(143.79 360.83) scale(1.0894 1)" font-size="7.46" fill="#111" stroke="#111" stroke-width="0.15">10.7</text><g><path transform="translate(67.30 417.60) scale(.1)" d="M477 137h8m-2-10h8m-4 16h8m-33 31h8m8 21h8m-6-12h8m53-1h8m-208 44h8m98 0h8m22 11h8m-6-10h8m-2-10h8m-7-7h8m-6 17h8m-7 4h8m1-5h8m-6-15h8m-6-8h8m4 5h8m-4 1h8m-8-4h8m-6 9h8m-2 22h8m-217 29h8m71 11h8m54-3h8m-6-14h8m2 19h8m2-28h8m-3-5h8m3 29h8m-2 3h8m-7-19h8m-6-10h8m3 24h8m-8-30h8m-7 6h8m2-1h8m-3 18h8m-7-1h8m-6 14h8m69-20h8m-363 61h8m121-32h8m72-7h8m2 8h8m-5 4h8m-2 25h8m-1-31h8m-3-5h8m-5 26h8m-1 5h8m-2 4h8m-8 0h8m-7-11h8m-7 1h8m-4-20h8m-8 22h8m-5-14h8m-5 22h8m-5-21h8m6 17h8m5-27h8m9 32h8m54-4h8m-475 37h8m-8 6h8m0-21h8m-5 8h8m6 10h8m-8-20h8m1 14h8m-4-2h8m-4 7h8m8 7h8m-8-1h8m-4-4h8m-7 3h8m-6-7h8m-7-6h8m-5 9h8m-6 4h8m4-22h8m-7-14h8m-4 31h8m0-9h8m-3-1h8m0 14h8m9-26h8m-4 25h8m0-11h8m-5-2h8m-7-4h8m-4 4h8m-4 15h8m-4-18h8m-4 5h8m-7-6h8m-7 6h8m-4 14h8m-4-13h8m-3 11h8m-4-7h8m-7 1h8m-4-7h8m-6-22h8m-5 5h8m-4 9h8m16 18h8m3-25h8m-8 15h8m13-14h8m-7-4h8m-3 8h8m2 22h8m3-24h8m-7 23h8m10-10h8m15 12h8m-7-28h8m-4 30h8m-4 1h8m-8-36h8m2 14h8m-8-14h8m-5 9h8m-7 14h8m-5-16h8m-2 17h8m-7 3h8m-8 8h8m-7-27h8m6 24h8m14-14h8m-478 44h8m-3 3h8m5 8h8m-6 3h8m-6-3h8m2-31h8m-5 26h8m6-17h8m-2 13h8m1-14h8m-6 2h8m-6 18h8m-4-2h8m-5-7h8m-4-21h8m-3 6h8m-8-1h8m-6 17h8m-5-2h8m-7-1h8m-7-18h8m-8 18h8m-3-11h8m-6-2h8m-5-5h8m-3 14h8m-6 2h8m-7-4h8m-7-13h8m-6 8h8m-8-5h8m-7 1h8m-8 12h8m-8-17h8m-5 11h8m-7 3h8m-6-8h8m-7-3h8m-6 8h8m-5-10h8m-8 16h8m-8-9h8m-5-6h8m-6 7h8m-7-10h8m-7 12h8m-7-7h8m-8 3h8m-6 2h8m-8-5h8m-7 13h8m-7-2h8m-8-6h8m-5-7h8m-3 13h8m-8 2h8m-8-5h8m-7-1h8m-6-8h8m-4 13h8m-3-16h8m-8 1h8m-5-1h8m-5 13h8m-7-11h8m-7 14h8m-5-2h8m-8-9h8m-6 12h8m-7 1h8m-7-5h8m-7 1h8m-7-8h8m-8 0h8m-6 5h8m-8 2h8m-5-13h8m-8 10h8m-6 8h8m-7-2h8m-7 2h8m-7-5h8m-3 2h8m-6-11h8m-5 0h8m-6 11h8m-4-2h8m-8 0h8m-3 4h8m-7-2h8m-8-16h8m-3 6h8m-7 0h8m-7-1h8m-7 8h8m-5 2h8m-7 3h8m-8-6h8m-8-6h8m-7 5h8m-8 6h8m-6-2h8m-6-1h8m-8-1h8m-8-1h8m-7-4h8m-8 2h8m-7 8h8m-8-7h8m-8-4h8m-8 5h8m-6-8h8m-7 15h8m-2-5h8m-7-10h8m-4-5h8m-7 19h8m-7-6h8m-8 4h8m-6-4h8m-8-11h8m-7 16h8m-7-2h8m-7 4h8m-8-10h8m-3 7h8m-8-4h8m-7-2h8m-4 3h8m-6-2h8m-8-2h8m-7-7h8m-7-1h8m-7-2h8m-4 18h8m-8-1h8m-7-2h8m-6 1h8m-6-13h8m-4 13h8m-5 0h8m-3-12h8m0 9h8m-1-5h8m-7 7h8m-5-8h8m-2 11h8m-4 10h8m-6 0h8m-8-11h8m7 12h8m-5 10h8m-7-31h8m-4-4h8m-4 25h8m1-11h8m-1-2h8m-8-16h8m-8 34h8m-3-10h8m-3-8h8m-8-16h8m-7 9h8m-8 19h8m-6 11h8m-7 0h8m-6-36h8m-7-2h8m-6 31h8m-7-18h8m-4 0h8m-3 4h8m-3 15h8m-4 6h8m-8-20h8m-6 20h8m-6-20h8m-8-10h8m-7 18h8m-6 7h8m-6-9h8m-8-8h8m-7 12h8m-8-9h8m-8 18h8m-8-4h8m-2-16h8m-6 21h8m-5-11h8m-6-18h8m7-5h8m1 19h8m5-18h8m-1 31h8m-8-5h8m-487 29h8m7 4h8m7-10h8m0 10h8m-7-12h8m-4 24h8m-3-7h8m1-20h8m-8 3h8m286-6h8m-7 3h8m-7 1h8m-4-6h8m-4 17h8m-5-11h8m-6-7h8m-6-3h8m-6 27h8m-7-21h8m-7 24h8m-8-29h8m-3 5h8m-6 2h8m-6 30h8m-3-24h8m-7 3h8m-2 6h8m-8 6h8m-8 0h8m-4-14h8m-6 23h8m-7-18h8m-6 18h8m-8-7h8m-5-1h8m-5-16h8m-8 19h8m-5-1h8m-7-5h8m-7-9h8m-8-4h8m-7 20h8m-6-16h8m-6 12h8m-8-9h8m-8-8h8m-6 8h8m-7-1h8m-7-6h8m-8 20h8m-7-22h8m-8 20h8m-7 6h8m-8-38h8m-7 19h8m-7 2h8m-7 10h8m-7 3h8m-8 3h8m-4-16h8m-6-7h8m-7-5h8m-6 15h8m-7-13h8m-7 10h8m-6-19h8m-7 15h8m-3 11h8m-4 2h8m-7-7h8m-6-19h8m-2 22h8m-7 6h8m0-30h8m10 24h8m-3 0h8m24-2h8m-530 29h8m1-14h8m3 26h8m-5 4h8m-1 0h8m-6-22h8m-8-6h8m-4 29h8m329-18h8m-7-13h8m-8 10h8m-8 5h8m-7 21h8m-8-24h8m-6 0h8m-7-8h8m-7 13h8m-7 11h8m-6-25h8m-8 2h8m-7 32h8m-7-27h8m-7-7h8m-5 15h8m-7 0h8m-7-1h8m-6-12h8m-7-1h8m-7 24h8m-8-20h8m-7 27h8m-6-4h8m-8-26h8m-7 13h8m-6 16h8m-7-9h8m-8-10h8m-7-9h8m-7-1h8m-7 22h8m-7-6h8m-7 4h8m-7 9h8m-8-29h8m-8 23h8m-6 9h8m-8-25h8m-5 23h8m-7-13h8m-7 12h8m-5 4h8m-7-17h8m-7-18h8m-7 12h8m-5 19h8m-2-32h8m-8 7h8m-7 23h8m-7-3h8m-7-21h8m-7 20h8m-6-3h8m-7-20h8m-7 28h8m-7-2h8m-5-7h8m-6 11h8m-4-14h8m-8-19h8m-4 31h8m-5-2h8m-8-15h8m-6 0h8m-4-10h8m-5 21h8m-7-17h8m-6 20h8m-7 9h8m-8-20h8m-6-19h8m-6 7h8m6 28h8m-2-17h8m-500 34h8m20 27h8m-6-18h8m-1 4h8m-5-21h8m-7 3h8m-7 9h8m-5 14h8m-4 8h8m310 0h8m-6-4h8m-4-21h8m-5 5h8m-8 5h8m-7 4h8m-8-16h8m-5 20h8m-8-13h8m-7 13h8m-7-16h8m-8-6h8m-6 16h8m-8-7h8m-7-16h8m-6 8h8m-6 0h8m-7-3h8m-3 28h8m-7-3h8m-8-26h8m-7 31h8m-3-18h8m-8-15h8m-8 4h8m-7 27h8m-8-16h8m-2-11h8m-7 7h8m-7 24h8m-6-27h8m-4 2h8m-5-12h8m-5 12h8m-6-8h8m-3 20h8m0 2h8m-5-19h8m-5 3h8m-8-4h8m-6 22h8m-8-8h8m-8-9h8m4 3h8m-7 12h8m-7-8h8m-5 4h8m1 5h8m8 7h8m-483 17h8m7 12h8m17-18h8m-6 3h8m-6-2h8m-7 2h8m10 21h8m1 8h8m-7-4h8m231 4h8m-4-1h8m11-18h8m3-1h8m-8-11h8m-7-3h8m-7 8h8m-4 0h8m-7 6h8m7-18h8m-6 32h8m-3-15h8m-5-18h8m1 24h8m-8-22h8m-8 25h8m0 7h8m-3-25h8m-8 1h8m-2-8h8m5 19h8m-7 14h8m-3-17h8m-3 9h8m-1-5h8m-3 10h8m-3-16h8m-6-11h8m2 3h8m-401 39h8m-7 13h8m-5 4h8m-1-15h8m-6-9h8m-5 7h8m-7 14h8m-7-18h8m-3 2h8m-7 17h8m-7-19h8m-6 24h8m-2-20h8m-8 15h8m-2-13h8m-1 20h8m-6 6h8m-4-22h8m-1 18h8m-8-19h8m-7 16h8m-4 11h8m-6-16h8m-8-7h8m-7 0h8m-6-4h8m-1 25h8m-6-14h8m-8-15h8m-8 4h8m-7 0h8m-8 22h8m-8-25h8m-8 8h8m-6-8h8m-8 22h8m-6-14h8m-8-9h8m-6 17h8m-2 12h8m-7-6h8m-6-18h8m-7 7h8m-7-1h8m-7-8h8m-7 20h8m-7-23h8m-8 21h8m-7-16h8m-7 0h8m-8 7h8m-5-5h8m-8-5h8m-7 24h8m-8 1h8m-7-20h8m-8-4h8m-8 7h8m-7 6h8m-7-12h8m-6 16h8m-8-6h8m-6-2h8m-6-9h8m-6 5h8m-7-4h8m-8 1h8m-7-1h8m-8 7h8m-7-10h8m-8 16h8m-7-5h8m-8-1h8m-7 7h8m-8-12h8m-8 9h8m-6 3h8m-8-17h8m-7-1h8m-7 16h8m-3-16h8m-6 7h8m-6-7h8m-7 5h8m-8-4h8m-7 8h8m-7 21h8m-6-23h8m-7 6h8m-8 4h8m-8 8h8m-7-10h8m-6-14h8m-7 10h8m-6-5h8m-7 1h8m-8 22h8m-7-27h8m-7 3h8m-6-2h8m-6 13h8m-7-7h8m-5-7h8m-8 4h8m-6-3h8m-7 5h8m-5-4h8m-8-3h8m-6 3h8m-5 4h8m-4 16h8m-7-18h8m-5 8h8m-8 6h8m-7-9h8m-6-6h8m-8-5h8m-1 7h8m-8-3h8m-8 13h8m-4-10h8m-8 8h8m-6 5h8m-6-20h8m-3 3h8m-7-2h8m-5 12h8m-5-3h8m-7 3h8m-2-11h8m-5 9h8m-7 15h8m-4-21h8m-6-5h8m-6 31h8m-8-33h8m0 0h8m-4 8h8m-3-5h8m9 30h8m3-23h8m-4 12h8m-7-25h8m-8-1h8m47 9h8m20 28h8m-364 2h8m23 11h8m10-1h8m19 12h8m0-16h8m-7 22h8m11-23h8m-5 10h8m-4-11h8m8 9h8m6-12h8m-2 27h8m11-28h8m-5 7h8m-2-8h8m77 8h8m3-6h8m49 26h8m-169 12h8" stroke="#333" stroke-width="8" opacity="0.62"/><path transform="translate(67.30 417.60) scale(.1)" d="M365 565l-20 2l-147 0l-23-3l-20-9l-15-10l-14-15l-9-15l-7-17l-3-20l1-18l4-18l8-17l13-17l17-15l18-9l22-6l160 0l22 4l20 9l23 18l15 23l8 28l0 28l-9 27l-16 23l-21 16z" fill="#9a9a9a" fill-rule="evenodd"/><path transform="translate(67.30 417.60) scale(.1)" d="M362 545l-17 2l-145 0l-12-1l-16-4l-12-7l-12-10l-10-13l-6-12l-4-15l-1-15l2-15l4-13l9-14l13-14l17-11l18-5l158 0l12 1l15 5l20 13l14 18l9 23l1 22l-6 22l-13 20l-18 15z" fill="#f0f0f0" fill-rule="evenodd"/><path transform="translate(67.30 417.60) scale(.1)" d="M358 536l-13 1l-145 0l-22-5l-13-7l-9-7l-14-20l-5-23l1-13l3-12l8-15l12-13l14-8l17-5l153-1l23 4l17 11l13 15l9 20l1 20l-4 20l-11 17l-15 13z" fill="#d4d4d4" fill-rule="evenodd" stroke="#9a9a9a" stroke-width="3.0"/><path transform="translate(67.30 417.60) scale(.1)" d="M350 515l-148 1l-12-2l-15-8l-11-14l-5-14l1-18l5-10l8-10l9-6l13-4l107-2l53 3l14 7l10 10l6 12l2 15l-3 15l-9 12l-13 10z" fill="#c0c0c0" fill-rule="evenodd" stroke="#8a8a8a" stroke-width="3.0"/><path transform="translate(67.30 417.60) scale(.1)" d="M315 500l-25 1l-42-7l-33 4l-17-1l-10-5l-7-7l-3-7l0-10l3-8l7-7l7-4l10-2l40 4l37-8l23-1l40 7l13 7l4 7l3 9l-2 8l-4 8l-11 6z" fill="#acacac" fill-rule="evenodd" stroke="#808080" stroke-width="3.0"/><path transform="translate(67.30 417.60) scale(.1)" d="M308 490l-18 0l-15-5l-9-10l-1-5l2-5l11-9l14-5l18 1l15 6l9 10l1 4l-2 6l-11 8zM215 488l-15-2l-8-6l-3-10l6-9l7-3l10-1l10 3l8 5l3 5l-1 8l-7 6z" fill="#969696" fill-rule="evenodd"/><path transform="translate(67.30 417.60) scale(.1)" d="M305 483l-10 0l-10-4l-5-7l2-7l7-5l9-2l10 1l7 3l4 6l0 7l-6 5zM215 480l-7 1l-8-3l-2-6l2-4l10-4l9 4l2 7z" fill="#dcdcdc" fill-rule="evenodd"/><path transform="translate(67.30 417.60) scale(.1)" d="M308 475l-6 2l-7 0l-5-4l-1-3l6-6l10 0l6 6zM212 473l-2 1l-3-2l3-1z" fill="#fafafa" fill-rule="evenodd"/></g><rect x="67.30" y="417.60" width="65.00" height="64.90" fill="none" stroke="#adadad" stroke-width="0.9"/><path d="M67.30 424.09h-1.2M67.30 438.37h-1.2M67.30 453.30h-1.2M67.30 468.22h-1.2M67.30 481.53h-1.2M70.55 482.50v1.2M84.85 482.50v1.2M99.80 482.50v1.2M114.10 482.50v1.2M127.10 482.50v1.2" stroke="#666" stroke-width="0.6"/><rect x="80.30" y="482.40" width="2.6" height="1.3" fill="#111"/><rect x="66.10" y="466.27" width="1.4" height="2.6" fill="#111"/><rect x="101.30" y="426.30" width="22.3" height="29.4" fill="none" stroke="#f26c78" stroke-width="0.85"/><text transform="translate(76.94 431.93) scale(1.0147 1)" font-size="7.32" fill="#111" stroke="#111" stroke-width="0.15">1.05</text><g><path transform="translate(138.30 417.60) scale(.1)" d="M333 51h8m70 57h8m20 3h8m-33 10h8m-8 29h8m-6-13h8m-6 1h8m-6-1h8m-8 0h8m-2 16h8m0-28h8m-7 32h8m-4-9h8m-1 8h8m0-20h8m-280 26h8m-6 15h8m153 14h8m32-31h8m-6 13h8m-6-11h8m-6 35h8m-4-6h8m-7-11h8m1-3h8m-5 6h8m-3 6h8m-2-3h8m-7-4h8m-6-1h8m-8-11h8m-1-2h8m-6 23h8m-7-2h8m-3-7h8m-3 8h8m2-5h8m-8-4h8m-7 10h8m-5 5h8m-5-4h8m-3 1h8m-8-32h8m5-1h8m-5 28h8m-8 9h8m-1-24h8m4 25h8m7-30h8m-355 63h8m182-17h8m-6 3h8m-7-5h8m-4-3h8m0 6h8m-6-3h8m1 8h8m-5 1h8m-4-5h8m-7 6h8m-5 0h8m-3-10h8m-7 0h8m-7-10h8m54 12h8m-7-14h8m-8 3h8m-6 13h8m-6-4h8m-6 7h8m-5 1h8m-7 4h8m-8-15h8m-5 27h8m-6 3h8m-7-32h8m-7 32h8m-7-34h8m-7 13h8m-3-1h8m-6 18h8m-4-28h8m-7 25h8m20-14h8m-313 59h8m5-14h8m97-23h8m-2 32h8m4-12h8m-3 3h8m-5-18h8m-6 24h8m-4 2h8m-4-3h8m-6-24h8m-6-4h8m-8 13h8m-6-4h8m-7 7h8m-8 1h8m-5-4h8m-7-7h8m-7-1h8m88-2h8m-4 19h8m1-13h8m-8-8h8m-7 21h8m-1-7h8m7 14h8m9-27h8m-388 40h8m144 26h8m23 0h8m-6-8h8m-7 16h8m-4-24h8m-6 6h8m-3-3h8m5 17h8m-8-22h8m-7 25h8m-8 0h8m-8 3h8m-6-13h8m-7 3h8m-7-26h8m-7 23h8m114 6h8m-6 7h8m-6-3h8m-7-11h8m-8-12h8m-7-4h8m-2 12h8m-5 18h8m-5-16h8m6-21h8m-8 29h8m6-15h8m-370 49h8m65-15h8m50-4h8m39 21h8m-4 12h8m-7-5h8m-5-21h8m-5 23h8m-7-25h8m-6-7h8m-4 18h8m-8-3h8m-8 21h8m-7-29h8m111 21h8m-5-16h8m-3 16h8m-6-11h8m-7-1h8m-2 2h8m12-18h8m2-1h8m34 17h8m9 3h8m-507 52h8m2 0h8m-2-28h8m-8 27h8m4-7h8m-3 4h8m-6 3h8m-6 1h8m-8-12h8m-4-1h8m-6-5h8m-6 10h8m-7-16h8m-7 8h8m-7 19h8m-8-2h8m-6-13h8m-7-5h8m-7-7h8m-7 17h8m-4-6h8m-8 12h8m1 0h8m-5-14h8m-1 16h8m-5-11h8m-8-13h8m-2 21h8m-7-7h8m-7-10h8m-7 8h8m-2 8h8m-7-17h8m-5 9h8m-7-3h8m-7 9h8m-6-7h8m-8 15h8m-7-3h8m-5-11h8m-7 10h8m-6-6h8m-7-8h8m-7-9h8m-5 24h8m-8-21h8m-6 24h8m-8-5h8m-6-21h8m-7-7h8m-8 30h8m-8-16h8m-6 13h8m-8-9h8m-7-3h8m-5-8h8m-7 8h8m-7-13h8m-4 13h8m-8 0h8m-5 11h8m-8 2h8m-5-7h8m-6-11h8m-8 18h8m-7-32h8m-7 32h8m-8-2h8m-8-3h8m-7 7h8m-8-24h8m-7-6h8m-7 13h8m-8 8h8m-6 11h8m-8-4h8m-4-17h8m-6 18h8m-7-6h8m-8-22h8m-5 26h8m-7-26h8m-3 2h8m-7 14h8m-7 11h8m-6-16h8m-3 18h8m-8 1h8m-6-5h8m-8-23h8m-4 21h8m-6-12h8m-7 2h8m-6 19h8m-8-9h8m-7 0h8m-8 7h8m-6 1h8m-6-36h8m-3 34h8m-8-25h8m-4 25h8m-1-4h8m-7-7h8m-4 14h8m-4-3h8m-1-13h8m-6-17h8m-6 10h8m-4 25h8m-8-11h8m-4-13h8m-1-5h8m-3 9h8m-5 18h8m7-34h8m-8 14h8m-7 0h8m-8-2h8m1 19h8m-5-27h8m108 20h8m-4-3h8m-7-22h8m-6 2h8m-1 21h8m0 10h8m1-25h8m-6 2h8m-7 1h8m19 1h8m-487 29h8m11 25h8m8-6h8m-6-10h8m-8 25h8m-7 2h8m-2-38h8m-8 30h8m-5-4h8m-7-19h8m4-6h8m-1-2h8m-6 8h8m-3-4h8m-7-3h8m-8 2h8m-6 2h8m-6 0h8m-6-3h8m-5 0h8m153 0h8m-7-1h8m-3-1h8m-1 3h8m-6 2h8m2 12h8m-5-7h8m-7 8h8m-6-8h8m-7 6h8m-5-1h8m-5 12h8m-1 10h8m-7-33h8m-4-1h8m-4 4h8m-8 5h8m-7-3h8m109 30h8m-8-24h8m-7-10h8m-8-4h8m-3 1h8m-3 19h8m-8-3h8m4 0h8m-8-2h8m-5-11h8m-5 32h8m-441 39h8m0 0h8m-3-16h8m-7-17h8m-5 21h8m-1-18h8m244-6h8m121 23h8m-8 16h8m-8-26h8m-7 15h8m-8-6h8m-4 17h8m-3-25h8m-4-5h8m-439 46h8m4-11h8m-4 5h8m3 14h8m-4 7h8m-8-17h8m-7 8h8m245 14h8m-4 1h8m-7 3h8m-7-10h8m-8 3h8m-7-3h8m-3 7h8m107-15h8m-5-2h8m-7-10h8m-7-4h8m-8 13h8m-5-2h8m-8-4h8m-8 22h8m-7-7h8m-3-2h8m-402 26h8m-3 13h8m-2-7h8m-7 12h8m-7-2h8m-8-16h8m-4 16h8m-4 7h8m-5-15h8m-4 11h8m-4-7h8m-8 5h8m-8 9h8m-4-12h8m11 11h8m-8-2h8m4 2h8m5 1h8m13-2h8m16 1h8m-3 2h8m-8-2h8m-2 0h8m-6 0h8m-6 1h8m-4 0h8m-5-1h8m-7 1h8m1-2h8m-5 3h8m-2-1h8m-5 2h8m-5 0h8m5-2h8m-1 0h8m2-1h8m5-5h8m-5 4h8m4-13h8m4-8h8m-8 20h8m-3-29h8m-6 1h8m-7 15h8m-7-10h8m-6-4h8m-4 5h8m-7 15h8m-4 0h8m-8-25h8m-7 6h8m-8-3h8m-5 1h8m-3 32h8m-4-23h8m-1 4h8m-6 11h8m3-7h8m2 11h8m-7-3h8m-4-6h8m1 12h8m10-8h8m1 8h8m-6-14h8m-5 8h8m-7-10h8m-8 6h8m5 0h8m-6-27h8m0 18h8m-347 43h8m-5-19h8m-8 4h8m14 6h8m-5-9h8m-1 1h8m-8 2h8m-6-2h8m-4 3h8m-4-7h8m-8 1h8m-6 16h8m-4-12h8m-8 19h8m-5-20h8m-6-4h8m-8 11h8m-5-1h8m-1 7h8m-2 2h8m-6-19h8m-7 17h8m-4-13h8m-6 14h8m-7-13h8m-8 0h8m-7-1h8m-7 2h8m-8 16h8m-2-21h8m-2 2h8m-7 9h8m-6-12h8m-7 29h8m-8-29h8m-7 1h8m-8-1h8m-8 6h8m-8 2h8m-3 26h8m-7-29h8m-3-3h8m-6 4h8m-7-2h8m-7 3h8m-7-1h8m-7-3h8m-7 5h8m-7 3h8m-7-1h8m-2 4h8m-8 12h8m-4-15h8m-6-11h8m-8 12h8m-5 0h8m-7 0h8m-4-10h8m-5-2h8m3 16h8m-4-11h8m-8 8h8m1 25h8m-7-38h8m-4 13h8m-5-9h8m-2 3h8m-3 16h8m4-19h8m19 15h8m12-9h8m-4 13h8m-8-19h8m10 2h8m-5-1h8m12 10h8m-8 6h8m-8-13h8m-5 3h8m-4-3h8m-3-7h8m-2 0h8m-6 10h8m-4-7h8m16-1h8m-330 50h8m45-5h8m11-7h8m27 6h8m56 7h8m13-12h8m5-2h8m52 37h8m10-31h8m1-3h8m83 38h8" stroke="#333" stroke-width="8" opacity="0.55"/><path transform="translate(138.30 417.60) scale(.1)" d="M298 553l-126 0l-20-4l-17-8l-13-10l-9-11l-7-12l-5-16l-2-17l2-15l3-12l8-16l10-13l13-10l17-8l18-4l122 0l20 4l16 7l19 17l12 20l6 23l-2 22l-8 22l-15 20l-20 14z" fill="#9a9a9a" fill-rule="evenodd"/><path transform="translate(138.30 417.60) scale(.1)" d="M300 536l-12 1l-113 0l-13-2l-12-4l-10-7l-10-9l-11-20l-3-13l0-12l6-22l8-13l10-9l12-8l16-4l120-1l12 1l12 5l17 11l12 15l6 17l1 20l-5 18l-11 17l-14 12z" fill="#f0f0f0" fill-rule="evenodd"/><path transform="translate(138.30 417.60) scale(.1)" d="M295 528l-120 1l-20-5l-17-13l-11-19l-3-20l5-20l6-10l10-10l13-7l12-3l118-1l20 5l14 9l11 13l6 14l1 18l-5 18l-10 14l-15 11z" fill="#d4d4d4" fill-rule="evenodd" stroke="#9a9a9a" stroke-width="3.0"/><path transform="translate(138.30 417.60) scale(.1)" d="M298 510l-13 2l-107 0l-10-2l-13-6l-10-12l-4-12l1-15l5-10l6-7l9-6l10-3l116-1l10 2l10 4l10 9l6 12l2 10l-2 10l-6 12l-10 9z" fill="#c0c0c0" fill-rule="evenodd" stroke="#8a8a8a" stroke-width="3.0"/><path transform="translate(138.30 417.60) scale(.1)" d="M295 498l-17 1l-48-5l-38 5l-17-1l-10-4l-7-6l-3-8l0-10l8-12l7-5l8-2l14 0l38 5l48-5l14 1l8 2l8 6l5 8l2 7l-5 13l-8 6z" fill="#acacac" fill-rule="evenodd" stroke="#808080" stroke-width="3.0"/><path transform="translate(138.30 417.60) scale(.1)" d="M192 490l-14 0l-10-5l-4-10l4-10l7-4l13-2l12 3l7 6l4 4l-2 8l-7 6zM290 491l-15-1l-13-5l-7-7l1-8l9-7l11-3l12-1l10 3l7 8l1 8l-6 8z" fill="#969696" fill-rule="evenodd"/><path transform="translate(138.30 417.60) scale(.1)" d="M192 483l-7 2l-8-3l-5-4l2-8l8-5l13 3l5 7l-2 5zM292 483l-7 2l-11-3l-5-4l0-6l9-6l7-1l7 2l5 3l2 5l-2 5z" fill="#dcdcdc" fill-rule="evenodd"/><path transform="translate(138.30 417.60) scale(.1)" d="M188 480l-8-1l-2-4l1-3l6-2l7 2l0 6zM288 480l-10-2l-2-3l1-3l5-2l8 1l3 4z" fill="#fafafa" fill-rule="evenodd"/><path transform="translate(138.30 417.60) scale(.1)" d="M425 545l-13 0l-12-3l-12-7l-12-10l-9-13l-6-12l-4-15l-2-17l3-23l14-47l-2-83l3-30l6-27l10-28l11-20l15-14l15-4l12 3l11 7l10 13l11 20l7 23l5 24l4 53l-7 75l3 55l-5 30l-9 20l-12 14l-18 12z" fill="#f0f0f0" fill-rule="evenodd" stroke="#a0a0a0" stroke-width="3.0"/><path transform="translate(138.30 417.60) scale(.1)" d="M428 515l-18 0l-16-10l-11-17l-3-20l3-18l11-30l3-12l-7-73l1-25l3-22l7-23l8-15l11-10l10-3l8 2l7 5l7 9l7 12l9 33l2 34l-2 30l-10 53l4 45l-2 20l-5 12l-7 12l-10 8z" fill="#e6e6e6" fill-rule="evenodd" stroke="#a4a4a4" stroke-width="3.0"/><path transform="translate(138.30 417.60) scale(.1)" d="M430 395l-8-3l-10-17l-6-23l-1-22l2-22l5-20l8-12l10-5l10 5l8 12l5 20l2 22l-1 22l-6 20l-8 16zM420 490l-8-2l-7-8l-3-8l0-10l3-10l5-9l8-7l7-3l5 2l7 10l3 11l0 12l-2 10l-5 7l-5 4z" fill="#f4f4f4" fill-rule="evenodd" stroke="#aaaaaa" stroke-width="3.0"/></g><rect x="138.30" y="417.60" width="65.00" height="64.90" fill="none" stroke="#adadad" stroke-width="0.9"/><path d="M138.30 424.09h-1.2M138.30 438.37h-1.2M138.30 453.30h-1.2M138.30 468.22h-1.2M138.30 481.53h-1.2M141.55 482.50v1.2M155.85 482.50v1.2M170.80 482.50v1.2M185.10 482.50v1.2M198.10 482.50v1.2" stroke="#666" stroke-width="0.6"/><rect x="151.30" y="482.40" width="2.6" height="1.3" fill="#111"/><rect x="137.10" y="466.27" width="1.4" height="2.6" fill="#111"/><rect x="172.30" y="426.30" width="22.3" height="29.4" fill="none" stroke="#f26c78" stroke-width="0.85"/><text transform="translate(144.86 431.93) scale(1.0378 1)" font-size="7.32" fill="#111" stroke="#111" stroke-width="0.15">9.21</text><text transform="translate(91.48 273.42) scale(1.1168 1)" font-size="8.03" fill="#000" stroke="#000" stroke-width="0.08">D0</text><text transform="translate(162.97 273.42) scale(1.1297 1)" font-size="8.03" fill="#000" stroke="#000" stroke-width="0.08">D10</text><text transform="translate(207.30 306.40) scale(0.9921 1)" font-size="8.26" fill="#000" stroke="#000" stroke-width="0.08">AA</text><text transform="translate(207.50 376.52) scale(1.0178 1)" font-size="8.03" fill="#000" stroke="#000" stroke-width="0.08">AS</text><text transform="translate(207.17 446.62) scale(0.9041 1)" font-size="8.03" fill="#000" stroke="#000" stroke-width="0.08">SS</text><path d="M60.60 444.30 V489.50 H105.00" fill="none" stroke="#000" stroke-width="1.30"/><path d="M60.60 437.30 l3.70 8.00 h-7.40 z" fill="#000"/><path d="M112.00 489.50 l-8.00 -3.70 v7.40 z" fill="#000"/><text transform="translate(55.80 478.86) rotate(-90) scale(0.8578 1)" font-size="11.14" fill="#000" stroke="#000" stroke-width="0.22">IL21</text><text transform="translate(62.97 502.60) scale(1.0505 1)" font-size="10.00" fill="#000" stroke="#000" stroke-width="0.22">CD44</text><g><path transform="translate(67.30 534.70) scale(.1)" d="M427 27h8m5-12h8m0 15h8m-7 8h8m-1 1h8m-1 0h8m-4-6h8m-6-9h8m-3-15h8m-2 17h8m-63 33h8m-2 7h8m-6 11h8m6-20h8m-3 13h8m-2-11h8m-3 10h8m-5-11h8m-8-3h8m-4 15h8m-6-2h8m-6-28h8m-7 35h8m-8-4h8m-5-4h8m-8 8h8m-3-4h8m-1-7h8m2 3h8m-1-24h8m-5 32h8m-3-4h8m-4-28h8m-126 59h8m0-19h8m-7 24h8m-2-13h8m3 2h8m-7-6h8m-7 2h8m4 26h8m-3-9h8m-3-9h8m-7-2h8m-6 0h8m-3 2h8m-7-6h8m-4 24h8m-6-7h8m-5-22h8m6 9h8m-2 0h8m-6 10h8m-6-3h8m-7 3h8m13-4h8m3-8h8m-6 22h8m-368 24h8m210 11h8m12-15h8m5 19h8m-7-25h8m-2 24h8m-4-22h8m-5 20h8m-6-29h8m-6 29h8m-4-33h8m-5 27h8m-6-15h8m-7 5h8m-5 18h8m-8-27h8m-7 27h8m-7 3h8m-6-2h8m-7-15h8m-7-13h8m-4 13h8m-7-22h8m-7 20h8m-8 11h8m-7-24h8m-7 22h8m-4-1h8m-5-8h8m-7 5h8m-8-20h8m-6 3h8m-7-2h8m-8 18h8m-7-9h8m-8 1h8m-8 4h8m-7-15h8m-7 31h8m-4 1h8m-7-10h8m0 10h8m-7-25h8m-6 25h8m-5-20h8m-5 3h8m-5 17h8m-8-8h8m-3 3h8m-2 4h8m3-6h8m-103 10h8m-6 36h8m12-33h8m-7 1h8m-8-3h8m-1 8h8m-8 0h8m-7 9h8m-7-8h8m-5 21h8m-6-18h8m-6 0h8m-6-13h8m-3 13h8m-7 13h8m-7 0h8m-6-22h8m-7 26h8m-1-27h8m-5 27h8m-5-5h8m-7 4h8m-5 2h8m-7-14h8m-8 14h8m-6 6h8m-7-27h8m-6 11h8m-7 3h8m-1 12h8m1-8h8m17-16h8m-200 40h8m45 27h8m12-26h8m-7-11h8m3 36h8m-8-18h8m-5-2h8m1-17h8m-7 16h8m-5 3h8m-6-12h8m-8 0h8m-7-2h8m-6 28h8m-5-34h8m-7 1h8m-7 9h8m-6 29h8m-5-39h8m-4 39h8m-4-14h8m-7 10h8m-4-25h8m-5 14h8m4-7h8m-7 18h8m-7-2h8m-5-14h8m7-15h8m0 13h8m-349 58h8m177-6h8m8 8h8m-4-31h8m31-4h8m-6 12h8m-4 1h8m-5 8h8m0-11h8m-4 17h8m5-20h8m-8-6h8m-1 8h8m1-4h8m-5 20h8m-6 1h8m7-11h8m-7 2h8m-2 13h8m14-16h8m-348 58h8m7 3h8m35 1h8m-7-21h8m-6 3h8m4 1h8m71-3h8m34 15h8m-3-18h8m8 0h8m5-1h8m-6-7h8m3 29h8m-7-36h8m3 14h8m-3 14h8m-5 7h8m-5-11h8m-5-9h8m3-7h8m36 13h8m94 0h8m-507 55h8m-7-2h8m2-5h8m-2 7h8m8-3h8m-7 6h8m-6-18h8m-3 9h8m9 8h8m-4-6h8m0 1h8m-8-18h8m-5 22h8m-4-3h8m-3-17h8m-6-6h8m-7-2h8m-8 25h8m-7-32h8m-7 5h8m-3 4h8m-8 16h8m-5 1h8m-8 8h8m-6-10h8m-8 8h8m-3 0h8m-7-2h8m-4-8h8m-4 15h8m-3-19h8m-5-18h8m-6 33h8m-6 2h8m-6-5h8m-8 5h8m-4-7h8m-8 7h8m-6-28h8m-7 1h8m-7 19h8m-7 7h8m-8 3h8m-8-23h8m-7 17h8m-7-5h8m-8-20h8m-7 31h8m-7-15h8m-3 13h8m-8-3h8m-8-6h8m-7 7h8m-8-1h8m-4 0h8m-8-23h8m-8 19h8m-7-23h8m-7 23h8m-8 7h8m-8-1h8m-6-10h8m-8-2h8m-6-6h8m-8-4h8m-8 9h8m-8 13h8m-7 1h8m-4-13h8m-8 11h8m-5 1h8m-7-2h8m-8-24h8m-7 27h8m-7-11h8m-8 13h8m-5-8h8m-6-3h8m-8 5h8m-7-9h8m-7-12h8m-6 19h8m-8-4h8m-7 7h8m-7-15h8m1 17h8m-6-10h8m-8 11h8m-4-24h8m-8 13h8m-7 11h8m-8 2h8m-8 0h8m-7-6h8m-5 5h8m-5-2h8m3-6h8m-4-8h8m-7-15h8m-7 26h8m-6-15h8m-5 15h8m-6-13h8m-6-20h8m2 20h8m-4-3h8m-7 0h8m-2-1h8m-6 1h8m0-14h8m-1 29h8m1-17h8m-4-1h8m-4 10h8m18 10h8m8-4h8m-3-18h8m4 4h8m10 11h8m-1-24h8m-4 9h8m-461 66h8m50-9h8m8 4h8m3 6h8m-6-15h8m-6 11h8m-7 4h8m-7-6h8m-7 1h8m-7 1h8m-3-5h8m-7-11h8m-7 9h8m-3-11h8m-8-5h8m-8 11h8m-7-14h8m1-4h8m-7 9h8m-2-6h8m-1-3h8m-6-4h8m-7 6h8m-5-4h8m-5 2h8m-6-2h8m-4-2h8m-8 3h8m5-2h8m22 0h8m-4-2h8m-1 1h8m9 0h8m-3 1h8m0 0h8m-7 0h8m-7 0h8m-2-1h8m-6-1h8m-8 0h8m-8 1h8m-1 0h8m-7 0h8m-5-1h8m1 2h8m-8 0h8m-8-1h8m1 0h8m1 1h8m0 0h8m-8 0h8m0-2h8m7 3h8m-5 2h8m-3-3h8m-3-1h8m-5 0h8m5 5h8m-7 6h8m-8-1h8m-7-4h8m-7 5h8m-5 3h8m2-15h8m-2 1h8m-7 27h8m-7-17h8m-6 25h8m-6-21h8m-8 14h8m-7 10h8m-8-15h8m-1-18h8m-7 31h8m-6-11h8m-8 2h8m-5-1h8m-8-1h8m-6-19h8m-8 7h8m-7 9h8m-6-20h8m-7 36h8m-8-1h8m-8-3h8m-7-2h8m-8 5h8m1 0h8m-3-27h8m-8 17h8m-7-10h8m-5 18h8m-7-4h8m-7 4h8m-1-32h8m-5 26h8m-4 7h8m-7-8h8m-7-7h8m-7 0h8m-8 9h8m-6-24h8m-8 20h8m-6 6h8m-3-20h8m-8-4h8m-5 14h8m-6 8h8m-7-30h8m-8 38h8m-7-17h8m-4 14h8m-4 3h8m-7-2h8m-3-9h8m-5-8h8m-4 16h8m9-16h8m16-15h8m-6 9h8m-465 53h8m7-5h8m4 16h8m1-12h8m-7-2h8m-8 4h8m-6-19h8m-8-8h8m-8 15h8m283 7h8m-7-6h8m-8-5h8m-6 15h8m-7-22h8m-8 1h8m-6 33h8m-7-3h8m-8-31h8m-5 4h8m-7-1h8m-5 15h8m-7 7h8m-8-5h8m-6-25h8m-7 29h8m-5 9h8m-8-8h8m-7 2h8m-8 0h8m-8-20h8m-8-1h8m-4-3h8m-8 4h8m-7 18h8m-8-3h8m-8 1h8m-8-4h8m-5-15h8m-5 22h8m-8 0h8m-7-16h8m-7 10h8m-7-8h8m-8-12h8m-8 3h8m-8-6h8m-7 9h8m-8 4h8m-8 10h8m-8 4h8m-7 6h8m-8-32h8m-6 0h8m-8 16h8m-7-8h8m-7 20h8m-6 0h8m-8-20h8m-7 21h8m-8 6h8m-7-10h8m-7 6h8m-8-16h8m-8-6h8m-4 11h8m-7-20h8m-7-3h8m-7 19h8m-8-2h8m-7-14h8m-8 29h8m-7 0h8m-6-5h8m-7 10h8m-8-21h8m-7 13h8m-8-2h8m-7-18h8m-8 17h8m-8 1h8m-8-27h8m-6 37h8m-8-33h8m-7 15h8m-7-14h8m-7 15h8m-7 19h8m-7-10h8m-8-24h8m-8 20h8m-5-17h8m-5 26h8m-7 4h8m-8-2h8m-6 0h8m-8-29h8m-8 19h8m-5 2h8m-6-9h8m1 7h8m-7-11h8m-1 5h8m-8-12h8m9 10h8m8-17h8m-7 20h8m-463 23h8m-3 15h8m1-3h8m-1-6h8m-2 11h8m-6 11h8m-7 2h8m286-6h8m-7-23h8m-8 33h8m-6-16h8m-7-4h8m-8-14h8m-7 32h8m-6 2h8m-6-36h8m-4 31h8m-7-29h8m-4 24h8m-7-1h8m-7-25h8m-7 13h8m-8 17h8m-7-12h8m-8-16h8m-7 1h8m-8 1h8m-6 10h8m-8 12h8m-5-16h8m-6-3h8m-8-8h8m-7 4h8m-8 7h8m-8 17h8m-7-5h8m-7 8h8m-7-6h8m-7 10h8m-8-35h8m-7-1h8m-6 25h8m-8-2h8m-7-16h8m-8 4h8m-7 8h8m-8 15h8m-7-28h8m-5 11h8m-7-16h8m-8 20h8m-7 13h8m-7-19h8m-7-14h8m-7 1h8m-7 37h8m-8-32h8m-8 27h8m-7-21h8m-6-8h8m-7 0h8m-8 3h8m-7 9h8m-7-17h8m-4 14h8m-8 24h8m-6-9h8m-3-23h8m4-5h8m-3 17h8m-8 18h8m-7-34h8m-7 18h8m-6-3h8m-7 1h8m-8-8h8m-1 9h8m0-9h8m-3 15h8m51-10h8m4 14h8m-482 21h8m-7 7h8m-6-7h8m-7-2h8m-1 5h8m-6 14h8m-2 5h8m-5-1h8m7 7h8m-5 1h8m232-23h8m-4 3h8m-8-8h8m-5 24h8m-7-35h8m-7 6h8m-3 7h8m-8-5h8m-8 16h8m-4-17h8m-6-6h8m-8-1h8m-7 17h8m-4-14h8m-7 8h8m-5-8h8m-7-1h8m-6 26h8m-7-11h8m-7 7h8m-3 0h8m-6-21h8m-5 11h8m-6 9h8m-6 3h8m-7-7h8m-8-6h8m-6-4h8m-7 20h8m-7-20h8m-1-4h8m-1 0h8m-7 5h8m-7-9h8m-7 37h8m-3-32h8m-8-4h8m-7 3h8m-1 7h8m-7-4h8m-7-5h8m-8 9h8m-7 14h8m-6 11h8m1-28h8m-6-8h8m-5 14h8m-5-5h8m1 13h8m2-19h8m-4 19h8m39-22h8m-438 67h8m-1-18h8m-5 11h8m2-18h8m-7-3h8m-5 10h8m-6-2h8m-6-2h8m-6-2h8m-8 18h8m-6-10h8m-3 2h8m-4 1h8m-7 2h8m-8 1h8m-5-10h8m-8-2h8m-5 17h8m-7-16h8m-6 13h8m-5-12h8m-5 17h8m-6-14h8m-2 8h8m-8-10h8m-7 1h8m-7 11h8m-8-10h8m-5 17h8m-7-10h8m-7 14h8m-7-5h8m-8 6h8m-6-25h8m-7 21h8m-6-18h8m-6 28h8m1-6h8m-7-2h8m-4-23h8m-8 12h8m-7 2h8m-8-14h8m-7 10h8m-8-1h8m-8 12h8m-8-20h8m-7 15h8m-8-10h8m-4-1h8m-6-4h8m-6 6h8m-8 10h8m-7-10h8m-7-3h8m-4 10h8m-8-13h8m-6 4h8m-5-2h8m-7 13h8m-7-8h8m-8 2h8m-7 3h8m-6 9h8m-4-5h8m-7-10h8m-5-7h8m-4 2h8m-7 8h8m-7-10h8m-4 31h8m-6-18h8m-5-11h8m-4 0h8m-8 11h8m-7 1h8m-8-2h8m-7-11h8m-6 10h8m-7 1h8m-8 8h8m-7-18h8m-6 0h8m-7 11h8m-7 8h8m-6-16h8m0-1h8m-7 20h8m-8-10h8m-2-13h8m-6 12h8m-4 2h8m-6-12h8m-7 5h8m-7 18h8m-7-20h8m-7 3h8m-8-5h8m-7 0h8m-4 2h8m-7 0h8m-8 1h8m-6-6h8m-6 14h8m-3-9h8m-8 12h8m-8-9h8m-6 2h8m-6 8h8m-7-16h8m-7 7h8m-8 3h8m-7-15h8m-3 3h8m-8-1h8m-5-5h8m-1 25h8m-5-26h8m-5 9h8m-5-10h8m-4 0h8m-8 10h8m14-6h8m4-4h8m-4 4h8m-6-2h8m-5 13h8m-4-12h8m-1 16h8m8-15h8m24 1h8m3 9h8m-355 26h8m35 38h8m2-27h8m33 3h8m-2-14h8m21 29h8m5-25h8m-1-2h8m2 0h8m-2 31h8m-5-32h8m-8-1h8m30 12h8m3 19h8m249 34h8" stroke="#333" stroke-width="8" opacity="0.62"/><path transform="translate(67.30 534.70) scale(.1)" d="M325 525l-143 0l-20-4l-17-8l-14-11l-10-12l-7-12l-6-16l-2-17l1-15l4-15l8-15l11-14l15-12l17-8l18-4l148 0l20 4l17 7l20 17l14 22l6 26l-3 27l-12 25l-18 19l-22 12z" fill="#8a8a8a" fill-rule="evenodd"/><path transform="translate(67.30 534.70) scale(.1)" d="M330 508l-145 0l-23-5l-20-13l-8-10l-6-12l-4-13l-1-13l1-12l4-12l8-13l12-13l14-8l16-4l147-1l13 1l12 5l19 13l12 17l6 20l0 20l-7 20l-12 16l-18 11z" fill="#eeeeee" fill-rule="evenodd"/><path transform="translate(67.30 534.70) scale(.1)" d="M335 498l-147 1l-20-3l-10-6l-10-8l-12-17l-4-20l4-23l7-12l10-10l12-7l15-5l145 0l17 3l16 8l12 13l7 18l2 18l-4 17l-9 15l-14 11z" fill="#c6c6c6" fill-rule="evenodd" stroke="#9a9a9a" stroke-width="3.0"/><path transform="translate(67.30 534.70) scale(.1)" d="M332 480l-137 2l-17-2l-13-6l-10-12l-5-12l0-15l4-10l8-10l10-6l10-3l150 1l13 5l8 8l6 10l3 12l-2 13l-7 13l-8 7z" fill="#acacac" fill-rule="evenodd" stroke="#888" stroke-width="3.0"/><path transform="translate(67.30 534.70) scale(.1)" d="M318 468l-23 0l-50-5l-43 5l-17-1l-10-4l-6-5l-4-8l-1-10l3-8l5-6l8-5l8-2l14 0l40 5l56-5l27 1l10 4l7 6l4 8l1 10l-3 7l-6 7l-10 4z" fill="#959595" fill-rule="evenodd" stroke="#777" stroke-width="3.0"/><path transform="translate(67.30 534.70) scale(.1)" d="M208 458l-16 1l-12-4l-6-10l3-10l6-5l9-2l13 1l9 3l5 6l2 7l-5 7zM320 458l-18 2l-14-3l-13-7l-4-8l6-7l13-6l18-2l14 3l9 5l3 5l1 5l-5 8z" fill="#7c7c7c" fill-rule="evenodd"/><path transform="translate(67.30 534.70) scale(.1)" d="M200 453l-8 0l-7-3l-3-8l3-4l10-4l7 1l5 3l3 4l-1 6zM312 453l-10 0l-10-2l-5-6l1-5l4-4l8-2l10 0l8 2l5 4l1 5l-4 5z" fill="#d4d4d4" fill-rule="evenodd"/><path transform="translate(67.30 534.70) scale(.1)" d="M200 448l-10 0l-2-6l4-3l8 0l3 3zM310 448l-12 0l-3-6l7-4l10 2l3 2l0 3z" fill="#fafafa" fill-rule="evenodd"/></g><rect x="67.30" y="534.70" width="64.80" height="64.30" fill="none" stroke="#adadad" stroke-width="0.9"/><path d="M67.30 541.13h-1.2M67.30 555.28h-1.2M67.30 570.07h-1.2M67.30 584.85h-1.2M67.30 598.04h-1.2M70.54 599.00v1.2M84.80 599.00v1.2M99.70 599.00v1.2M113.96 599.00v1.2M126.92 599.00v1.2" stroke="#666" stroke-width="0.6"/><rect x="80.26" y="598.90" width="2.6" height="1.3" fill="#111"/><rect x="66.10" y="582.91" width="1.4" height="2.6" fill="#111"/><rect x="100.20" y="537.30" width="23.4" height="29.8" fill="none" stroke="#6f84e6" stroke-width="0.9"/><text transform="translate(75.60 545.00) scale(1.1010 1)" font-size="7.29" fill="#111" stroke="#111" stroke-width="0.15">2.47</text><g><path transform="translate(138.50 534.70) scale(.1)" d="M399 37h8m-8-2h8m20-15h8m-1 10h8m-3-3h8m5-5h8m-4 12h8m2-22h8m-1 15h8m-5 12h8m13-13h8m-122 38h8m-2 11h8m-4-18h8m-7 19h8m-7-5h8m-7-1h8m-3-8h8m-7-5h8m-6 2h8m-5-19h8m-1 13h8m-3-12h8m-6 15h8m5-6h8m-7-4h8m-7-1h8m-4 5h8m-8-8h8m3 5h8m-8 0h8m-7-7h8m-5 8h8m-5-7h8m2 7h8m-3 6h8m-4 1h8m-8 0h8m-7-2h8m-8-4h8m-2-6h8m-5 9h8m-2-1h8m-4 9h8m-3-2h8m-5 15h8m-8-19h8m-5 20h8m-3 5h8m-8-7h8m-4 5h8m-7-7h8m-1-12h8m-1 18h8m-2 2h8m-250 41h8m29-38h8m2 24h8m14 8h8m-8-19h8m-6 10h8m-5 6h8m-1-21h8m-5 0h8m-1-4h8m124-3h8m-7-2h8m-5 18h8m-5 7h8m-5-5h8m-2 8h8m-8-5h8m12-23h8m-262 42h8m22 18h8m5 18h8m-7-1h8m3-30h8m-7 18h8m-7-24h8m0 17h8m-7 0h8m-7 2h8m-4 15h8m-8-28h8m-7 26h8m147 2h8m-5-22h8m-8 10h8m-2-13h8m-8 2h8m-6-9h8m-7 19h8m-3-9h8m-7 22h8m8-22h8m70 19h8m-390 42h8m83-26h8m-4 9h8m-8 18h8m0-25h8m-7 22h8m-4-26h8m-8 7h8m2-11h8m-5 25h8m-1 4h8m0-2h8m-6 7h8m103-3h8m-7-5h8m-3-5h8m2-1h8m-7 13h8m-6-27h8m-8 5h8m-6-10h8m2 16h8m6-12h8m-423 40h8m203 1h8m5 0h8m12 22h8m-4-18h8m-7-1h8m0 15h8m-3-19h8m-6 2h8m-6 10h8m-7-3h8m-5 3h8m-5 3h8m75-2h8m-4 9h8m-4-23h8m-7 26h8m-3-8h8m-7-13h8m2 11h8m-8-7h8m11 17h8m-7-24h8m-295 62h8m99-24h8m4 32h8m-5-30h8m18 28h8m-5-5h8m-7-30h8m-7 16h8m-7 12h8m-3 5h8m-4 5h8m-7-4h8m-7-6h8m-7-4h8m-8 14h8m-4-7h8m55 2h8m-7-6h8m-2-22h8m-7 19h8m-2 1h8m70 3h8m-302 34h8m16 9h8m4-4h8m-4-6h8m7 7h8m20 7h8m-7-17h8m6-13h8m-6 14h8m-4-16h8m-6 1h8m1-4h8m-6 5h8m-5 12h8m-7 11h8m2 4h8m1-19h8m-7 20h8m-7-32h8m-7 25h8m-4-23h8m-3 11h8m-6 14h8m-8-4h8m2 1h8m-5 7h8m-7-13h8m-8 6h8m-6 11h8m-8-5h8m-5-11h8m2-8h8m-6 1h8m1 2h8m-4 2h8m-409 49h8m34 0h8m-3 5h8m24-9h8m-7 11h8m-7-16h8m-6 11h8m3 9h8m-7 1h8m-5-4h8m-3 2h8m-7-14h8m-4 8h8m-8-13h8m-5 10h8m-8-2h8m-5-24h8m-5 19h8m-8-8h8m-3 13h8m-7 13h8m-6-21h8m-4 16h8m-6-14h8m-8 8h8m-6-8h8m-5 17h8m-8 1h8m-7-6h8m-7 1h8m-4-5h8m-6 7h8m-4-7h8m-8 5h8m-8-8h8m-7-1h8m-1 9h8m-5-1h8m-7-28h8m-6 20h8m-7 11h8m-7-7h8m-5-8h8m-6-5h8m-8 12h8m-7 11h8m-8-21h8m-6 22h8m-7-13h8m5 4h8m-1 5h8m-6-12h8m-8 15h8m1-18h8m-6 4h8m-7 2h8m-8 13h8m-5 0h8m-7-21h8m-5 9h8m-3 7h8m-8 0h8m-5-1h8m-2-4h8m-8-6h8m-7 9h8m-5 3h8m-4-18h8m-4 12h8m-1 3h8m-7-1h8m-3 1h8m-7 6h8m1-14h8m24-23h8m-4 31h8m-2-18h8m19 20h8m-1-2h8m-3-31h8m-4 32h8m-5-32h8m-5 3h8m-5 28h8m-3-12h8m-6-17h8m-6 16h8m-5-7h8m8 0h8m-4 24h8m0-26h8m-7 8h8m-4 3h8m12-18h8m3 26h8m2-28h8m6 33h8m-440 42h8m-2 1h8m-4-34h8m-2 12h8m-6 10h8m0-9h8m-4-2h8m-7-2h8m-7-7h8m21 1h8m2-6h8m-5 3h8m-4 1h8m5-3h8m-6 2h8m-3-1h8m-6 2h8m5 1h8m-2-2h8m-1-1h8m-7 1h8m6-1h8m-4-2h8m2 4h8m0-2h8m1 2h8m-5 0h8m-8 0h8m-2-3h8m-5 3h8m-7-2h8m-7 3h8m-1 0h8m-6-1h8m-7-3h8m1 1h8m-1-1h8m-2 0h8m15 3h8m8 1h8m-4-2h8m-4-1h8m5 13h8m-3 1h8m-6-3h8m-4 6h8m-7-2h8m-6-10h8m-4-1h8m-2 0h8m-5 2h8m0 0h8m-2 11h8m-8 2h8m-5-8h8m8 4h8m-7 1h8m9-5h8m1 15h8m-4 4h8m9-13h8m10 5h8m-6 5h8m62 5h8m-491 35h8m384-28h8m-5 12h8m-6-7h8m-1 14h8m-7-17h8m92 36h8m-524 5h8m-1 30h8m-7 4h8m397-33h8m4 22h8m0 2h8m-447 12h8m23 8h8m268 26h8m1 1h8m-3-1h8m-5 0h8m-4-2h8m0 6h8m-8-6h8m-3-3h8m-6 8h8m39-10h8m15-7h8m29 11h8m-436 11h8m21-3h8m-1 21h8m-6-1h8m9 11h8m-6-17h8m-8-3h8m-3 17h8m-4-12h8m-7 18h8m-3-4h8m-6-4h8m-7-15h8m-8 7h8m1-6h8m0 3h8m-3 0h8m-7-2h8m-8 15h8m-7-14h8m-6 0h8m-6 17h8m-6-17h8m-7-1h8m-7 13h8m-8 9h8m-8-14h8m-7-4h8m-8 7h8m-6-12h8m-7-2h8m-7 2h8m-4 5h8m-6 4h8m-5 9h8m-7-6h8m-7-9h8m-8-3h8m-7 12h8m-7-8h8m-6 22h8m-5-17h8m-6 14h8m-6-20h8m-8-4h8m-8 0h8m-7 18h8m-7-19h8m-4 7h8m-6-6h8m-8 25h8m-5-21h8m-6 14h8m-7-3h8m-6 8h8m-7-24h8m-4 18h8m-1-8h8m-8-8h8m-4 5h8m-8-1h8m-3 8h8m-8 3h8m-8-17h8m-6 16h8m-7-11h8m-6-1h8m-7-2h8m-7 11h8m-7 1h8m-7 8h8m-7-4h8m-6-18h8m-5 0h8m-7 21h8m-7-18h8m-6 14h8m-1-14h8m-8 7h8m-4-8h8m-8 1h8m-8 24h8m-5-13h8m-8-11h8m-6-2h8m3 22h8m-4-19h8m3 5h8m-7 1h8m-6-9h8m-7 1h8m-6 25h8m15-19h8m-6-3h8m0-9h8m-6 8h8m21-6h8m-7-1h8m-4-7h8m14 38h8m146-23h8m-433 30h8m-2-1h8m48-1h8m-7 1h8m43 32h8m33-35h8m-7 19h8m4-18h8m13 3h8m119 33h8m-321 3h8" stroke="#333" stroke-width="8" opacity="0.55"/><path transform="translate(138.50 534.70) scale(.1)" d="M338 528l-20 2l-138-1l-20-3l-18-8l-12-9l-12-11l-9-16l-6-14l-2-16l0-17l4-15l6-15l11-15l13-11l17-10l16-4l14-2l136-1l24 3l50 13l53 4l17 7l17 13l7 10l6 13l2 13l0 12l-5 22l-8 13l-9 9l-12 8l-15 6l-53 4z" fill="#d6d6d6" fill-rule="evenodd" stroke="#8a8a8a" stroke-width="3.5"/><path transform="translate(138.50 534.70) scale(.1)" d="M328 513l-148-1l-12-2l-13-5l-10-6l-10-9l-8-10l-6-12l-3-13l0-13l2-12l4-12l8-13l10-10l13-8l15-5l150-3l25 3l47 14l50 5l16 8l10 11l7 18l0 17l-7 16l-13 12l-17 7l-48 4l-42 15z" fill="#c6c6c6" fill-rule="evenodd"/><path transform="translate(138.50 534.70) scale(.1)" d="M332 495l-150-1l-14-3l-16-9l-11-14l-5-18l2-20l5-10l9-11l10-6l13-4l107-1l40-3l28 5l32 15l16 6l38 4l6 3l6 7l3 7l-1 8l-3 8l-7 5l-8 3l-22 1l-15 3l-43 20z" fill="#b6b6b6" fill-rule="evenodd"/><path transform="translate(138.50 534.70) scale(.1)" d="M332 478l-14 1l-70-5l-70 1l-10-5l-9-8l-4-10l0-12l2-8l6-7l7-5l10-3l65 1l75-5l15 1l13 5l10 6l8 10l3 10l-3 10l-8 11l-11 6z" fill="#a8a8a8" fill-rule="evenodd"/><path transform="translate(138.50 534.70) scale(.1)" d="M310 465l-22-1l-18-5l-13-9l0-8l4-4l9-6l22-5l30 1l16 7l6 10l-4 10l-12 8zM200 463l-18 0l-10-5l-3-6l-2-7l5-11l10-5l13-1l13 3l9 7l4 7l-2 7l-9 7z" fill="#8e8e8e" fill-rule="evenodd"/><path transform="translate(138.50 534.70) scale(.1)" d="M312 456l-12 1l-12-1l-8-4l-4-7l4-5l10-5l10 0l12 1l8 4l3 5l-3 7zM198 455l-10 1l-8-4l-3-4l3-8l10-4l8 1l5 3l3 8l-3 4z" fill="#d8d8d8" fill-rule="evenodd"/><path transform="translate(138.50 534.70) scale(.1)" d="M308 450l-8 2l-8-1l-4-2l-2-4l6-4l10-1l9 5zM192 450l-7-2l2-6l5 0l5 3l0 3z" fill="#fafafa" fill-rule="evenodd"/><path transform="translate(138.50 534.70) scale(.1)" d="M458 296l-10 1l-8-3l-8-6l-7-11l-8-22l-12-47l-27-46l-5-14l-2-16l1-14l4-16l8-14l8-12l13-11l13-7l14-5l16-2l14 1l16 4l14 8l12 8l11 13l7 13l5 14l2 16l-1 14l-4 16l-6 12l-23 38l-17 62l-10 18z" fill="#eeeeee" fill-rule="evenodd" stroke="#8c8c8c" stroke-width="3.0"/><path transform="translate(138.50 534.70) scale(.1)" d="M452 258l-4 0l-6-3l-8-13l-14-50l-19-40l-4-20l1-12l3-10l11-17l18-12l20-4l20 4l17 11l12 18l4 20l-3 20l-20 42l-13 48l-7 12z" fill="#e2e2e2" fill-rule="evenodd" stroke="#8c8c8c" stroke-width="3.0"/><path transform="translate(138.50 534.70) scale(.1)" d="M450 220l-5-3l-4-7l-9-28l-15-32l-3-18l2-14l8-13l11-8l15-3l15 3l11 8l8 13l2 14l-3 18l-15 32l-9 28l-4 7z" fill="#e6e6e6" fill-rule="evenodd" stroke="#909090" stroke-width="3.0"/><path transform="translate(138.50 534.70) scale(.1)" d="M452 170l-4 0l-8-7l-7-13l-3-12l1-10l4-9l7-5l8-2l8 2l7 5l4 9l1 7l-5 20l-7 11z" fill="#f6f6f6" fill-rule="evenodd" stroke="#9a9a9a" stroke-width="3.0"/><ellipse transform="translate(180.5 578.2) rotate(-10)" rx="2.6" ry="1.6" fill="#fafafa" stroke="#999" stroke-width="0.35"/></g><rect x="138.50" y="534.70" width="64.80" height="64.30" fill="none" stroke="#adadad" stroke-width="0.9"/><path d="M138.50 541.13h-1.2M138.50 555.28h-1.2M138.50 570.07h-1.2M138.50 584.85h-1.2M138.50 598.04h-1.2M141.74 599.00v1.2M156.00 599.00v1.2M170.90 599.00v1.2M185.16 599.00v1.2M198.12 599.00v1.2" stroke="#666" stroke-width="0.6"/><rect x="151.46" y="598.90" width="2.6" height="1.3" fill="#111"/><rect x="137.30" y="582.91" width="1.4" height="2.6" fill="#111"/><rect x="171.40" y="537.30" width="23.4" height="29.8" fill="none" stroke="#6f84e6" stroke-width="0.9"/><text transform="translate(145.72 544.93) scale(1.0726 1)" font-size="7.18" fill="#111" stroke="#111" stroke-width="0.15">12.6</text><g><path transform="translate(67.30 605.30) scale(.1)" d="M367 18h8m-3-3h8m-3 18h8m-3-2h8m-4-2h8m-8-12h8m-1-1h8m-6 5h8m-6 13h8m4-8h8m-7 3h8m-5-23h8m-6 6h8m-5 5h8m-6 20h8m-4-8h8m-6-13h8m-7-10h8m12 28h8m2 0h8m-6-23h8m-7 27h8m12-25h8m-8-6h8m-4 25h8m-2-7h8m3 14h8m15-5h8m9-24h8m-221 47h8m4-4h8m24 14h8m-8 8h8m-7-6h8m-5-5h8m-2-3h8m-5 17h8m-5 0h8m-3-10h8m-5-5h8m-4 5h8m-3-23h8m-8 8h8m-7 17h8m-8-2h8m-6 9h8m-4-24h8m-7 20h8m-6 3h8m-5-23h8m-4 23h8m-8-21h8m-6 18h8m-7 2h8m-8-11h8m-6 15h8m-7-13h8m-7 8h8m-8-3h8m-8-11h8m-7 1h8m-8-15h8m-7 16h8m-8 10h8m-7-8h8m-2 2h8m-8-18h8m-7 21h8m-7 5h8m-5-13h8m-6-20h8m-7 20h8m-8-6h8m-8-13h8m-6-1h8m-4 2h8m-3 28h8m-5-7h8m-6-16h8m-2-6h8m-8 32h8m-7 1h8m-6 3h8m-4-30h8m-8 5h8m-3 4h8m4 13h8m-7-7h8m-4 9h8m0-14h8m-1 17h8m-1-23h8m13 23h8m-236 40h8m14-29h8m0 28h8m-6 3h8m-3-18h8m6 20h8m-6-2h8m-7-14h8m-7-18h8m-8 21h8m-8 4h8m-6-19h8m-5 0h8m-7 4h8m-6 17h8m-7-26h8m-8 25h8m-7-3h8m-6-7h8m-5-5h8m-6-10h8m-4 22h8m-3-8h8m-7-15h8m-6 7h8m-7 24h8m-8-6h8m-8 1h8m-8-8h8m-7-17h8m-6 29h8m-7-19h8m-7 1h8m-8-6h8m-7 16h8m-7-16h8m-7 14h8m-5 7h8m-8 3h8m-8 4h8m-8-10h8m-8-19h8m-8 21h8m-6-16h8m-8-13h8m-7 4h8m-5 2h8m-8 25h8m-7-28h8m-7 3h8m-6 18h8m-7-25h8m-8 8h8m-7 16h8m-7-20h8m-8 25h8m-8-21h8m-8-6h8m-6-3h8m-8 11h8m-8-3h8m-7 20h8m-7 8h8m-8-1h8m-6-20h8m-7-3h8m-8 2h8m-7 18h8m-7 7h8m-8-37h8m-8 8h8m-6-6h8m-7 20h8m-8 8h8m-7-9h8m-7-20h8m-8 14h8m-8 22h8m-8-7h8m-7-2h8m-8-5h8m-7 3h8m-7-5h8m-7 6h8m-8-10h8m-8-1h8m-7-11h8m-8 30h8m-8 0h8m-7-35h8m-7 5h8m-8 23h8m-8-7h8m-7-20h8m-6 10h8m-8-6h8m-8 12h8m-7-19h8m-7 30h8m-8-25h8m-6 9h8m-8-9h8m-8 32h8m-7 0h8m-7-4h8m-8-8h8m-7 6h8m-7-23h8m-6 24h8m-8 3h8m-8-26h8m-6-2h8m-7 17h8m-7 6h8m-8-5h8m-5-18h8m-6 20h8m-8 12h8m-8-1h8m-6-29h8m-8 14h8m-6 2h8m-7 4h8m-7-7h8m-8-7h8m-6 20h8m-6-6h8m-3-2h8m-7-27h8m-7 39h8m-3-6h8m-8 2h8m-7-26h8m-6 2h8m-6-6h8m-5-3h8m-7 27h8m-7-4h8m-7 3h8m-5-22h8m-8 15h8m-7 10h8m-5-17h8m-6-13h8m-7 28h8m-7-13h8m2 7h8m-4-11h8m-4 23h8m-195 29h8m-6-4h8m-4-9h8m-4-2h8m-5 13h8m-4-17h8m-6-3h8m-6 20h8m-6 16h8m-6-37h8m-8 18h8m-7-1h8m-5-7h8m-6 12h8m-8-6h8m-3 18h8m0-9h8m-7 2h8m-7-12h8m-8 8h8m-4-14h8m-7 21h8m-5-31h8m-7 39h8m-8-33h8m-7 16h8m-7 1h8m-7 4h8m-7-14h8m-8-13h8m-6 37h8m-7-32h8m-8 15h8m-8 16h8m-7-27h8m-8 13h8m-8-9h8m-6-12h8m-7 5h8m-8-1h8m-8 22h8m-5-19h8m-8 24h8m-8 7h8m-7-29h8m-8 18h8m-8 2h8m-8 6h8m-7 0h8m-8-24h8m-8 10h8m-8 8h8m-7 8h8m-8-9h8m-7 1h8m-7-12h8m-8-8h8m-8 26h8m-7-11h8m-8-2h8m-8 14h8m-8-26h8m-7 15h8m-8 0h8m-7-20h8m-8 30h8m-8 1h8m-7 1h8m-8 0h8m-8-11h8m-7-12h8m-8 7h8m-7 12h8m-8 4h8m-7-21h8m-8-4h8m-7 7h8m-7 4h8m-7-5h8m-8 4h8m-8-8h8m-7 9h8m-8-13h8m-8 9h8m-7-15h8m-8 31h8m-8-2h8m-7-8h8m-8 11h8m-8-11h8m-7 10h8m-8-30h8m-8 8h8m-7 8h8m-8 7h8m-7-8h8m-8-7h8m-7 14h8m-8-3h8m-8-1h8m-8 15h8m-8-10h8m-8 10h8m-8-12h8m-7 4h8m-8-23h8m-8 8h8m-7 4h8m-8 7h8m-8-12h8m-7-12h8m-8 30h8m-8-27h8m-8 19h8m-8-15h8m-7 4h8m-8-12h8m-8-2h8m-8 28h8m-7 0h8m-7 5h8m-8 3h8m-6-7h8m-8-10h8m-7-4h8m-8 6h8m-7 3h8m-8-4h8m-7 0h8m-8 10h8m-7-10h8m-8-7h8m-8 10h8m-7 15h8m-7-38h8m-8 9h8m-8 1h8m-8-5h8m-8 21h8m-7-22h8m-8 12h8m-8 9h8m-8-19h8m-8 22h8m-7-27h8m-7 7h8m-7 8h8m-8 17h8m-8 4h8m-7-17h8m-8 13h8m-7-9h8m-7-10h8m-7-7h8m-7 28h8m-8-21h8m-8 17h8m-7-6h8m-8-10h8m-8-5h8m-8 21h8m-7-23h8m-8 15h8m-8-14h8m-7-4h8m-7 14h8m-8-13h8m-6 31h8m-7-8h8m-8-7h8m-7-3h8m-8-9h8m-8 12h8m-7 16h8m-8-19h8m-8 0h8m-7 11h8m-7-23h8m-8 18h8m-7-16h8m-8 25h8m-8-14h8m-7-18h8m-8 23h8m-8-21h8m-6 21h8m-8 1h8m-6-20h8m-8-4h8m-8 37h8m-7-30h8m-7 13h8m-7-4h8m-8-7h8m-8 6h8m-8 1h8m-6 9h8m-8 1h8m-8 10h8m-8-12h8m-7 10h8m-8-10h8m-7-26h8m-6 14h8m-8 24h8m-6-15h8m-6 0h8m-8-15h8m-7 7h8m-7 8h8m-8-3h8m-8-7h8m-6-4h8m-7 1h8m-8 29h8m-5-38h8m-6 0h8m-7 11h8m-7 19h8m-8-3h8m-8-3h8m-6 10h8m-8-21h8m-7 5h8m-7-6h8m-6 26h8m-2-9h8m-6 4h8m-6-18h8m-3 13h8m0-10h8m-7-5h8m-5 21h8m-7 2h8m17-25h8m-208 59h8m-3 5h8m-7-3h8m-7-33h8m-6 24h8m-5 8h8m-5-18h8m-5 1h8m-8 2h8m-2 15h8m-7 1h8m-7-22h8m-6-5h8m-7 20h8m-8-1h8m-6 2h8m-8-15h8m-6-2h8m-7 29h8m-7-14h8m-8-15h8m-7 13h8m-8 0h8m-7-12h8m-8 27h8m-8-34h8m-7 18h8m-7 2h8m-7-17h8m-5 6h8m-8 22h8m-7-35h8m-7 26h8m-3-2h8m-8 13h8m-7-16h8m-7 1h8m-8 6h8m-8-21h8m-7-6h8m-8 4h8m-7 10h8m-8-15h8m-8 17h8m-8 5h8m-7-2h8m-4-11h8m-8 20h8m-8-4h8m-7-2h8m-8-3h8m-7-5h8m-7 11h8m-8-19h8m-7 30h8m-8-20h8m-7-11h8m-8 15h8m-7-2h8m-7 3h8m-7 5h8m-7 4h8m-7-15h8m-7-9h8m-8 4h8m-7 11h8m-8 1h8m-7 15h8m-7-1h8m-7-21h8m-8-3h8m-8 1h8m-8 18h8m-8-32h8m-7 39h8m-8-28h8m-7 26h8m-8-13h8m-7 1h8m-5 1h8m-8-19h8m-8 0h8m-7 29h8m-7-10h8m-8 7h8m-7-21h8m-8 20h8m-8-8h8m-7-6h8m-7 9h8m-7 7h8m-8-12h8m-8 0h8m-7 12h8m-8-5h8m-6-6h8m-8 11h8m-8-5h8m-7-4h8m-8 14h8m-7-37h8m-8 9h8m-8 18h8m-8 8h8m-7-22h8m-8 13h8m-8-17h8m-7 2h8m-7-13h8m-8 11h8m-8-1h8m-7-3h8m-8 6h8m-8 3h8m-8 14h8m-8-19h8m-7 15h8m-8-21h8m-7 33h8m-8-28h8m-5 16h8m-6-7h8m-8 20h8m-7-26h8m-7 18h8m-8-8h8m-7-23h8m-8 7h8m-8 25h8m-6-12h8m-8-18h8m-8 6h8m-8 0h8m-8 5h8m-8 12h8m-8-1h8m-8-14h8m-8 9h8m-7-8h8m-8-4h8m-7-4h8m-8 30h8m-7-9h8m-6-24h8m-8 1h8m-7 16h8m-8-5h8m-8 20h8m-8-12h8m-7 4h8m-7-19h8m-7 16h8m-8 1h8m-7-21h8m-8 30h8m-7-14h8m-8 4h8m-6-6h8m-8-14h8m-8 6h8m-7 5h8m-7 4h8m-8 19h8m-7-25h8m-7 5h8m-8 14h8m-8 9h8m-8-33h8m-8 5h8m-7-1h8m-7 4h8m-7 6h8m-8-5h8m-7-2h8m-8 21h8m-7-32h8m-6 16h8m-8 16h8m-8-5h8m-7-27h8m-8 3h8m-6 23h8m-7-24h8m-8 15h8m-8-14h8m-8-4h8m-7 6h8m-8 25h8m-6-14h8m-8-6h8m-7 2h8m-7 17h8m-4-2h8m-8 11h8m-8-2h8m-7-8h8m-4-29h8m-2 27h8m-8-13h8m-4-7h8m-1 6h8m10 23h8m-472 20h8m133 1h8m119-16h8m5 12h8m1 0h8m-6 13h8m-4 8h8m-7-4h8m-5-26h8m-8 11h8m-6 9h8m-7-22h8m2 2h8m-8 0h8m-7 3h8m-7 29h8m-6-27h8m-7-8h8m-8 16h8m-8-10h8m-5 3h8m-7 24h8m-6-29h8m-1 17h8m-7-14h8m-5 0h8m-7-5h8m-3 22h8m-8-12h8m-7-9h8m-8 14h8m-8-6h8m-7-5h8m-7-4h8m-7-2h8m-8 19h8m-8-5h8m-7 21h8m-8 2h8m-7-4h8m-7-3h8m-7-6h8m-8-7h8m-8 7h8m-6-23h8m-7 4h8m-8 13h8m-7-9h8m-8 21h8m-8-17h8m-7-9h8m-7 7h8m-8-1h8m-7 16h8m-7 3h8m-8-6h8m-8 9h8m-7-20h8m-8-9h8m-8 10h8m-8 16h8m-7 8h8m-8-26h8m-7 17h8m-8-15h8m-8-10h8m-8 26h8m-8-26h8m-6 27h8m-8-29h8m-8 6h8m-8 25h8m-7 4h8m-8-34h8m-7 6h8m-8 7h8m-7-13h8m-8 4h8m-7 10h8m-8-5h8m-8 8h8m-3-15h8m-8 5h8m-7 19h8m-7 5h8m-8-3h8m-8-26h8m-8-2h8m-7 23h8m-7-2h8m-7-24h8m-7 4h8m-7 28h8m-8-16h8m-7-16h8m-8 19h8m-7-11h8m-8-5h8m-7 2h8m-8 31h8m-6 1h8m-7-8h8m-8-23h8m-6 7h8m-7 22h8m-7-1h8m-7-28h8m-7 1h8m-8 28h8m-6-12h8m-8-2h8m-8-18h8m-6 28h8m-7-4h8m-7-8h8m-7-14h8m-7-4h8m-5 18h8m-8-7h8m-8 21h8m-8-11h8m-7-5h8m-8-11h8m-6 20h8m-7-22h8m-7 11h8m-8 19h8m-8-22h8m-7-11h8m-8 5h8m-7 3h8m-7 9h8m-6-10h8m-5 11h8m-3 5h8m-7-14h8m-6-9h8m-5 6h8m-7-2h8m-7-4h8m-1 5h8m-215 53h8m25 0h8m-1-2h8m3-3h8m1 20h8m-2-34h8m-4 35h8m2-14h8m-6-15h8m-4-4h8m-7 8h8m-7 13h8m-7 6h8m3-1h8m-7-7h8m-7-19h8m-7 18h8m-5-3h8m-8 6h8m-7-22h8m-5 17h8m-7-4h8m-8-11h8m-8 11h8m-1 2h8m-5-12h8m-8 10h8m-5 0h8m-7 22h8m-7-15h8m-8 4h8m-7-16h8m-8 3h8m-8-4h8m-7 1h8m-7 2h8m-7 14h8m-8-6h8m-8 8h8m-7 7h8m-7-20h8m-8 17h8m-6-23h8m-4 8h8m-6 10h8m-8 9h8m-8 2h8m-7-20h8m-3-16h8m-7 9h8m-4 15h8m-7 4h8m-7-8h8m-8-7h8m-6-2h8m-6-6h8m-8-6h8m-5 9h8m-6 2h8m-1-9h8m-8 16h8m-6-15h8m-6-1h8m-8 1h8m-6 1h8m-8 7h8m-6 15h8m-5 11h8m-3-33h8m-5 13h8m-2 20h8m9-9h8m-5-28h8m2 31h8m17-26h8m-368 43h8m42 21h8m44-5h8m-7-17h8m1 30h8m0-17h8m-1 11h8m49-17h8m4 21h8m-7-24h8m6 27h8m-4-30h8m-7 31h8m-6-9h8m-5-4h8m-7-10h8m-8-5h8m-6 10h8m-5 0h8m-7-5h8m-1-4h8m-8-6h8m-5 20h8m-3-7h8m-6-17h8m-7 0h8m-5 20h8m0-6h8m-8 19h8m-8-33h8m-3 14h8m-3 5h8m-6-5h8m-7-5h8m2-1h8m5 6h8m-6 8h8m9-6h8m-5 2h8m50 8h8m30 2h8m-493 40h8m13 0h8m9 7h8m13-5h8m-8 7h8m0-17h8m-5 1h8m-5 2h8m-1-6h8m-6 20h8m-6-6h8m-8-3h8m-7-7h8m-8 5h8m-6 4h8m-8-17h8m-5 23h8m-5-3h8m-2-10h8m2-24h8m-6 30h8m-7-9h8m-4-16h8m-7 31h8m-2-22h8m-7 23h8m-7-27h8m-5 26h8m-8 2h8m-2-3h8m-8 0h8m-2-1h8m-7 1h8m-8-21h8m-1 19h8m-8-23h8m-7 21h8m-8-30h8m-8 31h8m-6 5h8m-6-19h8m-8 15h8m-4-7h8m-7-22h8m-6 27h8m-6-7h8m-6 5h8m-7 8h8m-7-21h8m-6 18h8m0-18h8m-7 13h8m-6 7h8m-5-1h8m-8-8h8m-8 8h8m-4-16h8m-7 11h8m-6-25h8m-6 30h8m-5-10h8m-2 4h8m-3-4h8m-6 10h8m-7-8h8m-8 11h8m1-1h8m-8-2h8m-7-4h8m-5-8h8m-8 15h8m6-7h8m-8-4h8m-1 11h8m-3-17h8m2 8h8m-8 4h8m-3-2h8m-3-6h8m-5 13h8m-7-12h8m-1-4h8m-6 10h8m-3-14h8m-5 19h8m-2 1h8m-8-1h8m6-20h8m-7 19h8m1-23h8m12-2h8m7 23h8m-4-8h8m70-19h8m-455 50h8m-8-2h8m1-7h8m2 7h8m-8-4h8m13 5h8m2-17h8m6 2h8m-6 1h8m3-3h8m-5 2h8m1 4h8m13-1h8m-8 0h8m-7-2h8m-6-1h8m-8 4h8m-4 1h8m-3-1h8m-5 0h8m-5-3h8m-8-1h8m-7 1h8m-5-3h8m-8 2h8m-3 1h8m-7 4h8m-4-4h8m-7-2h8m-8 2h8m-7 3h8m-7 1h8m-8-5h8m-5 3h8m-5 2h8m-5 0h8m-7 0h8m-7 0h8m-7-2h8m-6-4h8m1 2h8m-4 1h8m1 2h8m-6 1h8m-8-3h8m-5-1h8m-4 4h8m-4-2h8m-6-1h8m-7 3h8m-7-6h8m-3 5h8m-5 1h8m-4 0h8m-8-2h8m-7-4h8m-3 2h8m-5 0h8m-5 0h8m-1 3h8m-6-4h8m-8 0h8m-6 5h8m-7-1h8m-8-2h8m-6 0h8m-6 3h8m-2 0h8m-7-7h8m-5 7h8m2-4h8m-5-1h8m-5 5h8m-7-2h8m-8-3h8m-2 5h8m-6-1h8m4-3h8m2-2h8m13 10h8m-2-8h8m14 26h8m-7 1h8m0-27h8m16 9h8m53 15h8m12-4h8m-496 45h8m17-1h8m-4-14h8m-6 6h8m-7-12h8m344-6h8m2 24h8m-5-17h8m2 17h8m1-8h8m-1 13h8m81-23h8m21 27h8m-571 15h8m4 12h8m29 16h8m-6 2h8m-7-2h8m362-9h8m-6-12h8m4 10h8m5 8h8m-4-21h8m-429 40h8m4-13h8m-8 29h8m-6 10h8m-7-17h8m7 8h8m3 6h8m3 2h8m304-8h8m-2-9h8m-7 14h8m12-35h8m-346 48h8m1 16h8m-3-15h8m-5 19h8m-5 0h8m2-6h8m-7-9h8m-6 21h8m-4-18h8m-4 13h8m-7-6h8m-2 3h8m-7-9h8m-8 1h8m-7 8h8m-4-6h8m-8 2h8m-7 4h8m-8 0h8m-4 12h8m-8-11h8m-4-9h8m-4 3h8m-3-4h8m-4 0h8m-6 5h8m-7 1h8m-8-8h8m-5-1h8m-2 5h8m-6-4h8m-5-1h8m2 10h8m-6-5h8m-5-5h8m-7 9h8m-6-2h8m-7 11h8m-8-8h8m-6 6h8m-8-12h8m-5-1h8m-2-1h8m-6 15h8m-7-17h8m-6 9h8m-7-2h8m-4-6h8m-6 1h8m-6 3h8m-7-6h8m-7 22h8m-6-18h8m-7 1h8m-7-1h8m-7 2h8m-8 3h8m-4 0h8m-5 3h8m-3-9h8m-8 13h8m-8-9h8m-6-5h8m-5 2h8m-8 15h8m-5-4h8m-6-11h8m-7 0h8m-7 10h8m-7 4h8m-8-9h8m-8-3h8m-7-5h8m-4 4h8m-7 0h8m-4 5h8m-7-7h8m-5 10h8m-7-11h8m-7 10h8m-6 3h8m-7 0h8m-8-13h8m-7 3h8m-8-2h8m-5-1h8m-5 1h8m-3 1h8m-7 15h8m-6-7h8m-3-6h8m-7 10h8m-7-14h8m-7 3h8m-7-3h8m-8 4h8m-4 5h8m-4-4h8m-7 11h8m-5-18h8m-7 24h8m-6-24h8m-3 4h8m-4 13h8m-6-5h8m-5-12h8m-6 6h8m-5 2h8m-6 3h8m-8-7h8m-7-3h8m-6 5h8m3 8h8m-7-7h8m-6 6h8m0-12h8m-7-1h8m2 8h8m0-13h8m4 14h8m-6 16h8m9-21h8m-1-11h8m-321 50h8m8-15h8m62 0h8m0 2h8m-5-2h8m-3 17h8m-3-18h8m32 5h8m1 19h8m-7-17h8m-7 6h8m-4-10h8m-5 1h8m-8-4h8m-1 16h8m2-10h8m-7 5h8m17-8h8m-4-2h8m-8 15h8m-7 3h8m-7-19h8m2 23h8m-1-23h8m3 4h8" stroke="#333" stroke-width="8" opacity="0.68"/><path transform="translate(67.30 605.30) scale(.1)" d="M398 530l-218 1l-28-5l-14-7l-13-10l-11-11l-8-16l-6-14l-2-16l1-14l4-18l11-20l14-14l17-12l23-7l220-1l27 5l13 5l12 9l17 20l11 25l1 28l-3 14l-5 13l-16 22l-23 16z" fill="#8a8a8a" fill-rule="evenodd"/><path transform="translate(67.30 605.30) scale(.1)" d="M400 513l-12 1l-208 0l-18-3l-12-5l-10-6l-10-10l-6-10l-6-12l-2-13l0-13l2-12l8-18l12-12l14-10l18-6l218-1l17 3l20 9l15 15l9 18l4 22l-4 20l-11 20l-18 15z" fill="#eeeeee" fill-rule="evenodd"/><path transform="translate(67.30 605.30) scale(.1)" d="M402 503l-14 2l-208 0l-12-2l-20-9l-16-16l-7-20l1-23l6-15l10-13l13-9l17-5l216-1l12 2l18 7l13 11l9 18l4 18l-3 17l-9 17l-13 13z" fill="#c6c6c6" fill-rule="evenodd" stroke="#9a9a9a" stroke-width="3.0"/><path transform="translate(67.30 605.30) scale(.1)" d="M398 485l-10 2l-213-1l-15-5l-10-10l-7-13l0-16l3-10l7-10l9-7l13-4l217 0l13 4l10 7l7 10l3 13l-1 13l-5 12l-9 9z" fill="#acacac" fill-rule="evenodd" stroke="#888" stroke-width="3.0"/><path transform="translate(67.30 605.30) scale(.1)" d="M295 473l-33 1l-42-3l-28 2l-14-1l-8-3l-8-7l-4-7l-1-10l7-13l14-7l14-1l28 2l48-3l77 6l45 1l10 4l5 8l1 8l-2 8l-4 5l-8 4l-52 1z" fill="#959595" fill-rule="evenodd" stroke="#777" stroke-width="3.0"/><path transform="translate(67.30 605.30) scale(.1)" d="M292 463l-17 2l-17-1l-38-8l-22 8l-13 0l-13-5l-3-4l-2-7l3-7l5-5l15-4l30 8l33-8l29 0l25 6l12 7l0 5l-4 5z" fill="#7c7c7c" fill-rule="evenodd"/><path transform="translate(67.30 605.30) scale(.1)" d="M195 458l-10 0l-6-3l-3-5l2-8l4-2l8-1l11 3l3 8l-3 5zM280 458l-25-1l-10-5l-2-4l7-7l18-3l17 2l11 5l1 5l-2 2z" fill="#d4d4d4" fill-rule="evenodd"/><path transform="translate(67.30 605.30) scale(.1)" d="M192 453l-8-1l-2-2l1-5l7-2l5 2l2 5zM278 453l-16-1l-5-2l-1-2l9-5l13 1l6 4l-1 2z" fill="#fafafa" fill-rule="evenodd"/></g><rect x="67.30" y="605.30" width="64.80" height="64.30" fill="none" stroke="#adadad" stroke-width="0.9"/><path d="M67.30 611.73h-1.2M67.30 625.88h-1.2M67.30 640.66h-1.2M67.30 655.45h-1.2M67.30 668.64h-1.2M70.54 669.60v1.2M84.80 669.60v1.2M99.70 669.60v1.2M113.96 669.60v1.2M126.92 669.60v1.2" stroke="#666" stroke-width="0.6"/><rect x="80.26" y="669.50" width="2.6" height="1.3" fill="#111"/><rect x="66.10" y="653.51" width="1.4" height="2.6" fill="#111"/><rect x="100.20" y="607.90" width="23.4" height="29.8" fill="none" stroke="#6f84e6" stroke-width="0.9"/><text transform="translate(76.40 613.13) scale(1.0805 1)" font-size="7.32" fill="#111" stroke="#111" stroke-width="0.15">2.97</text><g><path transform="translate(138.50 605.30) scale(.1)" d="M429 37h8m26-4h8m-3 4h8m2 0h8m18 2h8m-126 40h8m-3-1h8m-8-21h8m-7 7h8m-6 8h8m0-11h8m-5 14h8m-7-9h8m-7-8h8m-6 11h8m-2-16h8m-2 5h8m-4 0h8m-5 5h8m-8-11h8m-5 0h8m4 2h8m-4 8h8m-5-4h8m-5 2h8m-8 1h8m-1-1h8m11-14h8m-8 16h8m-3 0h8m-7-21h8m-6 27h8m-7-13h8m-1 14h8m-2 9h8m-4-19h8m-5 12h8m-7-28h8m-6 28h8m1-9h8m-8-6h8m-2 3h8m-183 38h8m2 20h8m-5-35h8m-3 31h8m-5-1h8m-8 3h8m-6-19h8m-8 4h8m-7 18h8m-6-21h8m-5 12h8m-6-9h8m2-16h8m-7-4h8m106 4h8m-7-3h8m-8 3h8m3 11h8m-2 22h8m0-25h8m-6 13h8m-1 1h8m-6-2h8m0-2h8m-216 30h8m6 15h8m-3-3h8m-4 0h8m-5-24h8m-4 6h8m-8-2h8m146-4h8m-4 17h8m-8 6h8m-7-8h8m-6 10h8m-7-13h8m-7 5h8m-7-15h8m-5 22h8m-8-3h8m-7 6h8m-7-6h8m-1-7h8m2-13h8m-7 11h8m18 12h8m-280 37h8m31-16h8m-4-1h8m-5 0h8m4 32h8m-8-10h8m-3-10h8m-6 14h8m-7 4h8m-4-1h8m127-9h8m-8-3h8m-6 5h8m2 1h8m-2 9h8m-4-10h8m-8-2h8m-7-12h8m27 23h8m-281 37h8m36 5h8m-1-14h8m12 12h8m-3-33h8m4-2h8m-8 14h8m-7-4h8m-8 28h8m-5-25h8m-4 20h8m-5-13h8m92-8h8m-3-11h8m-8 20h8m-5-18h8m-1 6h8m-4 19h8m-7-7h8m-6 11h8m-7-28h8m4 20h8m-3 12h8m-145 25h8m-6-7h8m-7 0h8m-7 13h8m-7-21h8m-5 26h8m-7-8h8m-7 3h8m-8-5h8m-6 12h8m-6 4h8m61-17h8m-7 15h8m-7-29h8m-8 2h8m-6-2h8m-4-7h8m-6 30h8m-4-15h8m-5 0h8m-5-1h8m-4 1h8m-5 1h8m-5 22h8m23-35h8m3-2h8m-377 74h8m3 1h8m-6-9h8m-2-16h8m52 17h8m29 3h8m0 1h8m3 2h8m26-21h8m5 18h8m19 7h8m-5-30h8m2 18h8m-2 1h8m-6-21h8m-7 2h8m-6 23h8m-6 4h8m-6 3h8m-6-22h8m-7 15h8m-4-5h8m-8 1h8m5 7h8m0 5h8m6-15h8m-7 15h8m-4-28h8m-7-8h8m-7 6h8m-3 22h8m-3-20h8m-8-9h8m8 24h8m8-24h8m-458 50h8m41 14h8m3-20h8m19 13h8m0-2h8m3-10h8m-3 32h8m-8-3h8m-6-8h8m-1-2h8m-8-6h8m-5 17h8m-7-3h8m-4 2h8m-6-32h8m-2 20h8m-6 6h8m-5 8h8m-5-1h8m-7-3h8m-6-24h8m-7 3h8m0 23h8m-6-8h8m-7-6h8m-7 15h8m-6-4h8m-2-10h8m-8 16h8m-7-12h8m-4 2h8m-5-8h8m0 6h8m-8 9h8m-7 1h8m-7-1h8m-7-25h8m-7 26h8m-6-12h8m-6 11h8m-7-9h8m-6-1h8m0-7h8m-8 10h8m-7 3h8m1-3h8m-7 1h8m-8 3h8m-6-10h8m-3-12h8m-8 27h8m-6-5h8m-3 1h8m-7-15h8m-4 8h8m-7 4h8m-8-2h8m-3 3h8m-6-14h8m2 15h8m4 1h8m6-23h8m2 9h8m1 5h8m-5-23h8m-7 4h8m0 31h8m10-10h8m23-21h8m-1-3h8m-8 17h8m6 1h8m-7-17h8m-5 15h8m1-11h8m-6 6h8m14 5h8m-7-19h8m-7 6h8m8 6h8m0 1h8m4 2h8m51 4h8m-485 25h8m-1 19h8m-7 10h8m-7-7h8m-3-6h8m-1 4h8m-6-6h8m1-17h8m-8 1h8m-6 2h8m-3 5h8m-6-1h8m-4-3h8m-7 3h8m-4-7h8m-5 8h8m-5 0h8m-1-7h8m-8 2h8m-6-3h8m-2 6h8m-6-1h8m-7-2h8m-3 3h8m-6-2h8m-8-4h8m-8 4h8m-6-1h8m4-2h8m-6 4h8m-4-1h8m-5-5h8m-7 1h8m-7 3h8m0 3h8m-7-4h8m5 1h8m-8-2h8m-7 4h8m-7-1h8m0 2h8m-7-1h8m-6 0h8m-7-1h8m-5-3h8m-7 1h8m-8 3h8m-5-1h8m-5-3h8m-7-1h8m5 5h8m-2-1h8m-8-5h8m-6 1h8m-4 5h8m-6 0h8m-4-2h8m-8 3h8m16 0h8m-2-2h8m-1 0h8m10-2h8m4 3h8m-3 2h8m0 7h8m-7-4h8m-2 4h8m-2 2h8m-7-13h8m-7 6h8m-5 3h8m-6-4h8m-7 6h8m1 4h8m-5 1h8m-7-5h8m-8 2h8m3 5h8m-2-8h8m-2-6h8m4-2h8m4 12h8m-5-11h8m-5 9h8m-3-3h8m1 3h8m-7 6h8m17 3h8m45 11h8m1-34h8m-472 75h8m-4-15h8m-5-2h8m-8-8h8m0-11h8m-6 0h8m412 19h8m9 0h8m9-20h8m-500 72h8m2-32h8m-1 5h8m-7 29h8m-8-8h8m1 10h8m418-22h8m81-13h8m-543 76h8m2-36h8m-6 27h8m0-7h8m-5-8h8m-3-1h8m0 16h8m-6 10h8m-4 1h8m255-3h8m27-1h8m2-5h8m3 8h8m9-5h8m0 1h8m67-22h8m0 20h8m10 3h8m-439 6h8m-8 16h8m-7-8h8m-4 30h8m-6-35h8m0 10h8m-2-5h8m-3 13h8m5-10h8m-3 5h8m-7 2h8m-5-8h8m-6 6h8m-8-1h8m-3 0h8m-7-5h8m-2 23h8m-6-13h8m-3 5h8m-8-12h8m3-1h8m-7 11h8m-4-3h8m-6 3h8m-8 3h8m-6-17h8m-8 24h8m-4-22h8m-5 21h8m-7-16h8m-8-6h8m-7 1h8m-4 6h8m-6-3h8m-6 3h8m-6-4h8m-5 18h8m-8-19h8m-4 8h8m-6 2h8m-7-12h8m-3 22h8m-7 0h8m-5-19h8m-8 21h8m-4-7h8m-7-12h8m-7 2h8m-1 9h8m-5 8h8m-8-24h8m-5 19h8m-8-18h8m-8 15h8m-7-12h8m-6 24h8m-8-5h8m-5-2h8m-4 4h8m-3-25h8m-8 2h8m-8 9h8m-4-3h8m-5 17h8m-5-22h8m-4 9h8m-8-12h8m-3 3h8m-7 14h8m-8-11h8m0 3h8m-5 4h8m-7-1h8m2-8h8m15-10h8m-2-4h8m7 21h8m27-20h8m16 10h8m5 20h8m-7-32h8m-5 1h8m100 0h8m-393 48h8m22 2h8m-5-3h8m6-7h8m-8 22h8m3-22h8m-7 27h8m13-20h8m20-6h8m4 10h8m9 25h8m84-24h8m-5 11h8m48-19h8m43 19h8m16 11h8m-250 6h8" stroke="#333" stroke-width="8" opacity="0.55"/><path transform="translate(138.50 605.30) scale(.1)" d="M335 528l-163 0l-14-2l-18-7l-12-7l-13-12l-9-12l-6-16l-4-14l0-18l2-15l6-15l10-15l14-12l14-9l18-6l15-2l147-1l23 2l50 12l70 3l20 9l18 17l5 10l5 12l2 12l-1 13l-3 13l-7 12l-16 18l-13 7l-13 3l-67 4z" fill="#d6d6d6" fill-rule="evenodd" stroke="#8a8a8a" stroke-width="3.5"/><path transform="translate(138.50 605.30) scale(.1)" d="M325 513l-153-2l-22-6l-20-14l-9-11l-4-10l-4-12l-1-13l2-13l4-12l8-12l12-12l12-7l15-5l160-3l23 3l49 14l65 3l16 8l12 13l5 18l-1 18l-8 14l-14 13l-17 5l-60 3l-47 16z" fill="#c6c6c6" fill-rule="evenodd"/><path transform="translate(138.50 605.30) scale(.1)" d="M335 495l-13 1l-42-2l-105 0l-13-2l-16-10l-12-14l-4-18l2-18l5-10l8-10l10-6l13-5l114-1l43-3l25 4l35 16l15 4l55 4l9 5l5 8l2 7l-2 7l-5 8l-6 4l-43 3l-17 2l-16 6l-30 15z" fill="#b6b6b6" fill-rule="evenodd"/><path transform="translate(138.50 605.30) scale(.1)" d="M335 478l-15 1l-75-5l-73 1l-12-5l-8-7l-4-11l0-10l2-7l6-7l6-6l10-3l78 1l70-6l15 1l13 4l10 6l8 10l3 10l-2 10l-8 10l-10 7z" fill="#a8a8a8" fill-rule="evenodd"/><path transform="translate(138.50 605.30) scale(.1)" d="M198 463l-18 2l-12-5l-7-10l0-8l3-4l8-7l13-2l13 2l10 7l6 7l-1 5l-6 8zM322 465l-24 1l-20-4l-15-7l-4-5l0-5l9-9l17-6l30-2l15 2l12 8l3 4l0 8l-8 10z" fill="#8e8e8e" fill-rule="evenodd"/><path transform="translate(138.50 605.30) scale(.1)" d="M192 455l-10 2l-7-2l-4-5l1-8l3-3l7-2l13 3l4 8l-3 4zM310 458l-12 0l-10-2l-8-5l-1-6l4-5l12-4l15 0l11 4l4 5l0 5l-6 5z" fill="#d8d8d8" fill-rule="evenodd"/><path transform="translate(138.50 605.30) scale(.1)" d="M305 453l-13-1l-4-4l1-3l9-4l11 1l4 6zM188 450l-8 0l-1-5l3-2l6 1l2 4z" fill="#fafafa" fill-rule="evenodd"/><path transform="translate(138.50 605.30) scale(.1)" d="M458 306l-10 1l-8-3l-8-6l-7-11l-8-22l-12-47l-27-46l-5-14l-2-16l1-14l4-16l8-14l8-12l13-11l13-7l14-5l16-2l14 1l16 4l14 8l12 8l11 13l7 13l5 14l2 16l-1 14l-4 16l-6 12l-23 38l-17 62l-10 18z" fill="#eeeeee" fill-rule="evenodd" stroke="#8c8c8c" stroke-width="3.0"/><path transform="translate(138.50 605.30) scale(.1)" d="M452 268l-4 0l-6-3l-8-13l-14-50l-19-40l-4-20l1-12l3-10l11-17l18-12l20-4l20 4l17 11l12 18l4 20l-3 20l-20 42l-13 48l-7 12z" fill="#e2e2e2" fill-rule="evenodd" stroke="#8c8c8c" stroke-width="3.0"/><path transform="translate(138.50 605.30) scale(.1)" d="M450 230l-5-3l-4-7l-9-28l-15-32l-3-18l2-14l8-13l11-8l15-3l15 3l11 8l8 13l2 14l-3 18l-15 32l-9 28l-4 7z" fill="#e6e6e6" fill-rule="evenodd" stroke="#909090" stroke-width="3.0"/><path transform="translate(138.50 605.30) scale(.1)" d="M452 180l-4 0l-8-7l-7-13l-3-12l1-10l4-9l7-5l8-2l8 2l7 5l4 9l1 7l-5 20l-7 11z" fill="#f6f6f6" fill-rule="evenodd" stroke="#9a9a9a" stroke-width="3.0"/><ellipse transform="translate(181.5 649.3) rotate(0)" rx="2.4" ry="1.5" fill="#fafafa" stroke="#999" stroke-width="0.35"/></g><rect x="138.50" y="605.30" width="64.80" height="64.30" fill="none" stroke="#adadad" stroke-width="0.9"/><path d="M138.50 611.73h-1.2M138.50 625.88h-1.2M138.50 640.66h-1.2M138.50 655.45h-1.2M138.50 668.64h-1.2M141.74 669.60v1.2M156.00 669.60v1.2M170.90 669.60v1.2M185.16 669.60v1.2M198.12 669.60v1.2" stroke="#666" stroke-width="0.6"/><rect x="151.46" y="669.50" width="2.6" height="1.3" fill="#111"/><rect x="137.30" y="653.51" width="1.4" height="2.6" fill="#111"/><rect x="171.40" y="607.90" width="23.4" height="29.8" fill="none" stroke="#6f84e6" stroke-width="0.9"/><text transform="translate(146.03 616.23) scale(1.0102 1)" font-size="7.46" fill="#111" stroke="#111" stroke-width="0.15">12.3</text><g><path transform="translate(67.30 676.50) scale(.1)" d="M428 22h8m42-11h8m8 15h8m-99 32h8m22 20h8m-8-8h8m-1-13h8m-1 14h8m15-2h8m-6-23h8m-2 14h8m7 2h8m-2-17h8m-4 31h8m54-3h8m-157 17h8m11 6h8m3-13h8m1 35h8m-8-33h8m-7 29h8m-7-29h8m-4 21h8m0-4h8m-6 10h8m-4-17h8m-5 1h8m-3-12h8m-2 35h8m-7-29h8m-1 1h8m-6 8h8m1-5h8m-2 7h8m12 1h8m-156 37h8m21-3h8m-7 3h8m0-13h8m-5-5h8m-6 18h8m-2-11h8m-7 25h8m-7-28h8m-6 24h8m6-15h8m-8 16h8m-4-5h8m-8 10h8m-5-10h8m-4-17h8m-8-1h8m-7-7h8m5 36h8m-2-32h8m-8 24h8m-2 7h8m-7-19h8m-8 1h8m-5 5h8m-4-15h8m11 25h8m5-28h8m1 27h8m-218 40h8m64-10h8m-7-7h8m9-8h8m-5 14h8m5 4h8m-6-6h8m-5-1h8m-7 11h8m-8 4h8m-6-18h8m-2 1h8m-3 21h8m-6 2h8m-5 1h8m-7-38h8m-3 28h8m-7-14h8m-2-12h8m-4 30h8m-6 3h8m-6-33h8m-4 11h8m-6 25h8m-8-5h8m3-28h8m-6-6h8m-7 23h8m-8-22h8m-1 34h8m-1-1h8m-6-16h8m-3-3h8m-5 1h8m-4 9h8m-174 39h8m35-11h8m-3 10h8m10 4h8m-4-25h8m-6 11h8m-6-12h8m0 10h8m-5 22h8m-1-10h8m-4 3h8m-8-11h8m-3 7h8m-7-11h8m-7 16h8m-3-5h8m-7-15h8m-6 0h8m-7 14h8m4-6h8m-4-9h8m-7 16h8m-8-17h8m-4 21h8m-8-5h8m20 18h8m-6-5h8m-2 2h8m-157 21h8m-1 15h8m23-30h8m-2 28h8m-7-14h8m25 9h8m-5-6h8m4 12h8m-7-30h8m-6 2h8m4 19h8m-2-5h8m-347 61h8m37-22h8m5 23h8m75-9h8m32-16h8m15-10h8m0 27h8m-4-27h8m-5-4h8m7 22h8m-1-7h8m6-14h8m27 21h8m2 5h8m21 12h8m5-39h8m55 18h8m-416 51h8m22 10h8m5 0h8m-5-1h8m4-19h8m-6 20h8m-8-23h8m-3 11h8m1-17h8m-8 26h8m-7 3h8m-7-19h8m3 17h8m0 2h8m-5-5h8m0 1h8m-7 0h8m5-2h8m-8-4h8m-5-6h8m-8-13h8m0 21h8m-8 7h8m-1-14h8m-4-7h8m-5-2h8m4 9h8m-5 3h8m-7 8h8m-6-28h8m-7 4h8m0 4h8m8 13h8m-6 4h8m-5-15h8m-1-11h8m-6 6h8m-5 27h8m-3-11h8m19-2h8m48 10h8m-5-6h8m-5-29h8m25 12h8m14 21h8m-8-12h8m14 4h8m33 8h8m-492 45h8m18-15h8m4 11h8m-4-1h8m11-16h8m-6 5h8m0-7h8m-8-16h8m-7 18h8m-5-12h8m-5 15h8m-7-14h8m-7 13h8m-2-13h8m-8 6h8m-6 2h8m-3-6h8m-2 5h8m-8-8h8m-7 10h8m-8-7h8m0 6h8m-5-4h8m-8 2h8m-5 2h8m-8 1h8m-6-12h8m-8 6h8m-7 7h8m-8-1h8m-5-1h8m-7-2h8m-7-7h8m-7 9h8m-6-4h8m-8-3h8m-7 10h8m-7-12h8m-6 8h8m-6-11h8m-5-3h8m-6 15h8m-7-4h8m-4-6h8m-7 5h8m-7 3h8m-8-5h8m-3 10h8m-5-11h8m-7 0h8m-8 5h8m-8 0h8m-6 2h8m-8 4h8m-8-15h8m-3 15h8m-8-2h8m-7 3h8m-7-13h8m-5 0h8m-7 9h8m-7-3h8m-6 6h8m-6-4h8m-7-10h8m-7 6h8m-8 4h8m-7 3h8m-6-11h8m-4-2h8m-8 3h8m-7 6h8m-7-1h8m-7 6h8m-7 0h8m-2-16h8m-7 14h8m-6-9h8m-7 8h8m-7 3h8m-8-17h8m-7 16h8m-7 0h8m-8-7h8m-5 10h8m-8-17h8m-6 7h8m-7 0h8m-8 1h8m-7 3h8m-8-8h8m-8 5h8m-8-1h8m-6 9h8m-8-16h8m-6 11h8m-7-5h8m-8 4h8m-6 5h8m-5-6h8m-7-11h8m-5 15h8m-8 1h8m-6-4h8m-5 6h8m-7-3h8m-8 1h8m-4-2h8m-7-2h8m-7-3h8m-6-4h8m-8 12h8m-7-14h8m-7 6h8m-8 9h8m-8-15h8m-8 12h8m-5-8h8m-3 1h8m-7 9h8m-8-6h8m-7-7h8m-7 8h8m-4-4h8m-6 8h8m-8-2h8m-8-6h8m-6 6h8m-5-4h8m-7 5h8m-8 0h8m-7-10h8m-8 11h8m-2-1h8m-5-14h8m-6 16h8m0-8h8m-6 2h8m-6 1h8m0 2h8m-6 6h8m-5-14h8m-5 13h8m-7 0h8m-2-17h8m-7-2h8m-7 21h8m-7-4h8m-7-10h8m-8 18h8m-1 2h8m-7 1h8m1-26h8m-1 21h8m-5 2h8m-7-5h8m-4 17h8m-8-23h8m-7 8h8m0-4h8m4 15h8m10-18h8m-6 13h8m-6 0h8m-8-1h8m-6 0h8m-7-6h8m-5 3h8m9-2h8m-7-22h8m2 18h8m-3 19h8m20-26h8m37 27h8m-508 29h8m-5 4h8m1-19h8m-7 24h8m-6-11h8m-7-12h8m-6 21h8m-5-17h8m-5 7h8m-7-3h8m-8 1h8m-6 0h8m-6 2h8m306-21h8m-2 7h8m-7 2h8m-4-11h8m0 20h8m-6-13h8m-7 15h8m-8 4h8m-8-18h8m-7 15h8m-8-21h8m-6 32h8m-7 3h8m-6-33h8m-5 22h8m-7-22h8m-6 6h8m-7 19h8m-7-13h8m-7-4h8m-8 6h8m-8 17h8m-8 1h8m-6-7h8m-7 5h8m-8-16h8m-7 2h8m-7-21h8m-8 23h8m-7 8h8m-7-11h8m-8 15h8m-7-20h8m-3 18h8m-7-25h8m-8 10h8m-8 10h8m-6 8h8m-7-6h8m-7-18h8m-8-12h8m-4 29h8m-4 0h8m-4-21h8m-3 17h8m-8 11h8m-7-10h8m-7-10h8m-7 17h8m-5-12h8m-7 14h8m-6-5h8m-6 4h8m-8-14h8m-7 17h8m-3-22h8m-5 2h8m-6 1h8m-8 6h8m10-20h8m-4-5h8m-6 36h8m-6-23h8m-491 27h8m2 1h8m4-1h8m-1 2h8m-3 17h8m-7 15h8m-4-1h8m333 6h8m-6-38h8m-5 6h8m-8 1h8m-7-3h8m-8 12h8m-6 7h8m-7 12h8m-8-9h8m-7 0h8m-8 12h8m-8-11h8m-6 5h8m-7-24h8m-7 17h8m-7 1h8m-8 2h8m-6 9h8m-8-10h8m-7 2h8m-7-23h8m-7 30h8m-6-32h8m-8 15h8m-6-1h8m-7-11h8m-6 22h8m-7-8h8m-7-12h8m-5 10h8m-8 14h8m-7-6h8m-8-15h8m-7 15h8m-4-4h8m-8-6h8m-8-10h8m-7 30h8m-4-29h8m-8-2h8m-6 17h8m-6-7h8m-6 2h8m-7-9h8m-8 11h8m-5-6h8m-5 22h8m-6-16h8m-8 14h8m-8-35h8m-5 11h8m-4-4h8m-7 17h8m-2-12h8m-8 2h8m-6 11h8m-2-15h8m-8 5h8m-5 13h8m-2 8h8m3-20h8m-6 15h8m-472 37h8m7-25h8m1 3h8m318 21h8m4-14h8m-7 12h8m-8 1h8m-8-1h8m-6 0h8m-6-8h8m-7 9h8m-7-2h8m-7-17h8m-8 32h8m-6-17h8m-7 11h8m-7-22h8m-7 5h8m-6-16h8m-7 17h8m-8 0h8m-7-3h8m-8 9h8m-6 1h8m-6-5h8m-6 17h8m-7-8h8m-7-12h8m-8-13h8m-7 14h8m-4-9h8m-8 21h8m-5 6h8m-7-15h8m-8 8h8m-7-19h8m-7 16h8m-5 4h8m-8-19h8m-8-4h8m-8 21h8m-5 5h8m-7-25h8m-6 24h8m-5-18h8m-8 21h8m-7-1h8m-7-30h8m-7 6h8m-6-7h8m-5 9h8m-7 1h8m-6 7h8m-7 2h8m-2 15h8m6-27h8m-4-3h8m0 22h8m-6-7h8m9-17h8m3 22h8m70-17h8m-532 33h8m-3 15h8m-5-13h8m-4 1h8m-7 17h8m-4 5h8m-6-9h8m-3-4h8m-2 4h8m-2 7h8m-1 14h8m-6-9h8m4 3h8m-8-7h8m-1 5h8m-6-8h8m-7 2h8m-7 1h8m-8 6h8m-6-4h8m-6-5h8m-5 5h8m-5-5h8m-4 7h8m-6-7h8m-8 4h8m-7-3h8m-4-1h8m-7 6h8m-4 8h8m-6-4h8m-6 1h8m-6-6h8m-7-1h8m-7 12h8m-8-9h8m-2-5h8m-6 4h8m-2 7h8m-7-12h8m-6 6h8m-5-5h8m-8-2h8m-8 5h8m-7 1h8m-6 3h8m-8-9h8m-5 5h8m-7-4h8m-6 1h8m-4-1h8m-5 13h8m-5-14h8m-7 7h8m-2-7h8m-7 8h8m-7-8h8m-4 4h8m-5-4h8m-8 8h8m-5 1h8m-7 3h8m-8-5h8m-7 7h8m-7-14h8m-8 10h8m-3 3h8m-6-9h8m-5 2h8m-8-6h8m-6 8h8m-6-5h8m-8 7h8m-2-10h8m-5 0h8m-6 0h8m-7 10h8m-8-9h8m-4 1h8m-8 7h8m-4 5h8m-6-6h8m-6 4h8m-8 3h8m-6-2h8m-5 0h8m-6-2h8m-8-4h8m-3-2h8m-5 3h8m-7-8h8m-7 13h8m-6-10h8m-1 6h8m-2 0h8m-2-8h8m0 6h8m-6 2h8m-3 5h8m-7-7h8m-5-9h8m-8 17h8m-5-6h8m5 1h8m2 4h8m-8-20h8m-5-1h8m-8-3h8m0 1h8m0 0h8m-1-6h8m3 23h8m-3-4h8m-2-23h8m-6 6h8m-6-1h8m-5 22h8m-4-6h8m-1-25h8m-3 7h8m-5 11h8m14 7h8m-7-4h8m14-19h8m8-2h8m11 39h8m-1-7h8m1-22h8m-424 66h8m9-32h8m0-4h8m-1 26h8m-3-20h8m-6-5h8m21 23h8m-6-10h8m3 4h8m-5-3h8m4-8h8m-8 17h8m-6-22h8m-6 6h8m-1-3h8m10 2h8m-4-3h8m1-3h8m-5 5h8m-5 20h8m-6-19h8m0-2h8m-1 7h8m-5 6h8m1 8h8m-8-26h8m-7 2h8m-5 1h8m3 4h8m6-2h8m-4-3h8m-6-1h8m6-1h8m6 18h8m59-1h8m82-9h8m-203 49h8" stroke="#333" stroke-width="8" opacity="0.62"/><path transform="translate(67.30 676.50) scale(.1)" d="M372 540l-14 2l-180 0l-28-6l-15-8l-13-10l-8-10l-9-16l-4-14l-2-16l1-14l4-18l10-18l16-16l18-11l20-6l192-1l28 6l22 13l17 21l10 22l2 28l-3 14l-5 13l-13 20l-20 16z" fill="#9a9a9a" fill-rule="evenodd"/><path transform="translate(67.30 676.50) scale(.1)" d="M372 523l-14 1l-178 0l-20-3l-12-6l-10-7l-15-18l-5-12l-2-13l0-13l3-12l7-15l12-13l14-10l18-6l188 0l20 3l17 9l15 14l9 18l3 22l-4 20l-10 19l-16 13z" fill="#f0f0f0" fill-rule="evenodd"/><path transform="translate(67.30 676.50) scale(.1)" d="M362 515l-182 0l-15-2l-20-10l-13-15l-7-20l2-23l7-15l11-12l13-8l14-5l186 0l14 2l18 8l13 13l8 17l2 20l-5 17l-10 16l-16 11z" fill="#d4d4d4" fill-rule="evenodd" stroke="#9a9a9a" stroke-width="3.0"/><path transform="translate(67.30 676.50) scale(.1)" d="M322 498l-47 1l-105-3l-12-7l-11-11l-4-13l1-15l5-10l9-9l10-6l10-2l102-2l80 2l12 3l10 7l10 12l3 13l-2 14l-8 13l-10 7l-10 4z" fill="#c0c0c0" fill-rule="evenodd" stroke="#8a8a8a" stroke-width="3.0"/><path transform="translate(67.30 676.50) scale(.1)" d="M282 488l-20-2l-37-6l-33 3l-17-1l-7-4l-6-6l-4-7l0-10l7-11l13-7l14 0l33 3l35-6l20-2l18 2l40 7l24 3l8 4l4 7l-1 13l-4 4l-7 4z" fill="#acacac" fill-rule="evenodd" stroke="#808080" stroke-width="3.0"/><path transform="translate(67.30 676.50) scale(.1)" d="M295 478l-20 1l-18-4l-13-7l-3-6l0-4l3-6l7-4l17-6l17-1l18 4l13 7l3 6l0 4l-9 10zM200 473l-12 2l-13-3l-7-10l3-10l6-4l8-3l10 1l10 4l5 5l2 7l-4 6z" fill="#969696" fill-rule="evenodd"/><path transform="translate(67.30 676.50) scale(.1)" d="M292 470l-12 2l-13-2l-8-5l-1-7l4-6l10-3l10-1l11 2l8 5l2 5l-2 5zM192 468l-7 0l-6-3l-2-5l2-5l9-3l10 3l2 7z" fill="#dcdcdc" fill-rule="evenodd"/><path transform="translate(67.30 676.50) scale(.1)" d="M288 465l-13 1l-5-2l-2-4l4-5l13-1l5 2l2 4zM190 461l-4-1l2-1l2 0z" fill="#fafafa" fill-rule="evenodd"/></g><rect x="67.30" y="676.50" width="64.80" height="64.30" fill="none" stroke="#adadad" stroke-width="0.9"/><path d="M67.30 682.93h-1.2M67.30 697.08h-1.2M67.30 711.87h-1.2M67.30 726.65h-1.2M67.30 739.84h-1.2M70.54 740.80v1.2M84.80 740.80v1.2M99.70 740.80v1.2M113.96 740.80v1.2M126.92 740.80v1.2" stroke="#666" stroke-width="0.6"/><rect x="80.26" y="740.70" width="2.6" height="1.3" fill="#111"/><rect x="66.10" y="724.71" width="1.4" height="2.6" fill="#111"/><rect x="100.20" y="679.10" width="23.4" height="29.8" fill="none" stroke="#6f84e6" stroke-width="0.9"/><text transform="translate(77.90 685.43) scale(1.1011 1)" font-size="7.32" fill="#111" stroke="#111" stroke-width="0.15">2.40</text><g><path transform="translate(138.50 676.50) scale(.1)" d="M388 38h8m14-2h8m-5-6h8m-5-22h8m-5 6h8m-4 18h8m-7-20h8m-7 21h8m-6-23h8m-2 15h8m-7-10h8m-7 20h8m3-7h8m8 2h8m5 3h8m-5-10h8m6 2h8m-6 12h8m-2-16h8m-1-10h8m-144 50h8m3 13h8m-4-30h8m-8 25h8m-7-29h8m-1 21h8m-6 4h8m1-10h8m-7-12h8m-7 13h8m6-14h8m-6 1h8m2 1h8m-5-2h8m-8-1h8m-7 3h8m-1-2h8m1-1h8m-1-1h8m7 0h8m-8 2h8m-6 4h8m6-1h8m-8-3h8m-4 9h8m0-1h8m-7 0h8m-6-1h8m0 6h8m-7 8h8m-4 12h8m9-17h8m1 19h8m-197 41h8m-2-15h8m-7 9h8m-6 7h8m-3-22h8m-8 16h8m-4-6h8m-6-13h8m141 2h8m-3 1h8m-8 0h8m-5 8h8m-7 13h8m-6-8h8m-4-7h8m-6 3h8m-2-26h8m-3 4h8m-6 32h8m12 2h8m-244 5h8m-6 21h8m4 3h8m-7-19h8m-6 21h8m-5 1h8m-1-5h8m-8-4h8m-6 11h8m-6-14h8m-6 21h8m-8-12h8m-8-2h8m-6 9h8m-8-11h8m-5 16h8m138 0h8m-5-7h8m-8 5h8m-1-10h8m-5-20h8m-4 13h8m-214 41h8m-3-21h8m19 22h8m2-4h8m-3-13h8m-7 2h8m-8 18h8m-7-21h8m-5 7h8m-8 14h8m-3 14h8m-6-18h8m-7 5h8m-5 7h8m105-12h8m-7 7h8m-8-12h8m-6 1h8m-7-3h8m-5 1h8m-3-9h8m-4 23h8m-6-19h8m-1-9h8m-8 5h8m-6 30h8m-3-28h8m8 4h8m0-8h8m-188 49h8m2-2h8m-7 2h8m-3-10h8m-5 5h8m-6 14h8m-6 13h8m-7-5h8m74 6h8m-7-20h8m-7-4h8m-7-2h8m-6-3h8m-6 11h8m-2 9h8m-4-18h8m-7 15h8m20 4h8m0-27h8m-342 56h8m87-13h8m9 6h8m25-7h8m23 35h8m1-27h8m-2-8h8m-8 27h8m-8 0h8m2-19h8m-6 26h8m-5-14h8m-6-5h8m-2 18h8m39-2h8m-3-7h8m-2-3h8m-3-24h8m-8 25h8m-7-24h8m-6 8h8m-7-4h8m-1 6h8m-7-3h8m-6 22h8m-7 9h8m72-1h8m-306 19h8m-6 3h8m97 11h8m5 5h8m-7 3h8m13-6h8m-4-6h8m-8-4h8m-5-22h8m-7 27h8m-8-15h8m-3-5h8m-5 0h8m-7 8h8m-8 2h8m-7 18h8m2-1h8m-6-10h8m-8-7h8m-8 12h8m-7-10h8m-8-10h8m-5 15h8m-7-5h8m-7-10h8m5-2h8m-5-1h8m7 20h8m41 10h8m80-11h8m-476 37h8m-2 4h8m-8 3h8m9 9h8m21-7h8m9-16h8m-6 10h8m-2-1h8m0 11h8m-3-19h8m-4 21h8m5-22h8m-1 15h8m-6 6h8m-7-15h8m-6-2h8m-5 18h8m-6-8h8m22-7h8m-5-22h8m6 12h8m23 20h8m19-26h8m0 1h8m-1 15h8m1-5h8m4-9h8m-4 3h8m-7-8h8m15-4h8m11 2h8m2 10h8m12 8h8m5 8h8m54-23h8m-482 71h8m2 3h8m-3-38h8m2 28h8m-4-18h8m-8 16h8m-6-21h8m-5-5h8m-7 13h8m-4-12h8m-4 18h8m-7-9h8m-5 3h8m-2 1h8m-6-9h8m-6 3h8m-6 12h8m-8-13h8m-6 14h8m-6-3h8m-8 1h8m-1-1h8m-7-10h8m-6-1h8m-6 6h8m-7 6h8m-1-19h8m-4 17h8m-8 2h8m-2 0h8m-7-18h8m-7-1h8m-6 8h8m-7 11h8m-7-4h8m-6-14h8m-7 4h8m-8 11h8m-1 3h8m-6-20h8m-7 19h8m-4-10h8m-3 8h8m-8-3h8m-5 7h8m-6-19h8m-8 4h8m-5-3h8m-6 19h8m-7 0h8m-8-4h8m-8 1h8m-4-3h8m-8 6h8m-7-19h8m-8 16h8m-7 3h8m-3-13h8m-7-6h8m-6 19h8m-8-5h8m-6-17h8m-7 16h8m-8 3h8m-7-10h8m-8 12h8m-7-2h8m-7-8h8m-8-11h8m-6 4h8m-8 17h8m-7-1h8m-4-4h8m-6-13h8m-2 8h8m-8 3h8m-6-7h8m-7 12h8m-5-3h8m-6-1h8m-1-9h8m-7 7h8m-7-4h8m-6 9h8m-3 4h8m-7-4h8m-5 3h8m1-12h8m-7 2h8m-8-10h8m-6 21h8m-6-4h8m23 4h8m3 3h8m-1-8h8m-4 13h8m0 5h8m-6 0h8m-5-8h8m1 6h8m-8-17h8m-3 20h8m-6-2h8m-8 3h8m-6-3h8m-6 1h8m4-9h8m-7 9h8m-2-12h8m9 8h8m-3-3h8m-5 0h8m21-7h8m64-8h8m28-12h8m-6 26h8m-513 30h8m-3 10h8m4-6h8m-8 5h8m2-19h8m360 1h8m-3 17h8m1-15h8m-450 49h8m32 16h8m407-23h8m-5 3h8m-445 56h8m2-21h8m8 26h8m-6-18h8m-7 3h8m372-6h8m65-9h8m-444 36h8m4 12h8m-8 13h8m5-11h8m-3 11h8m5 6h8m-8-2h8m-6-11h8m-8 6h8m-7 11h8m-4-11h8m-8-2h8m-5-1h8m-5 6h8m-6-7h8m-3-1h8m-8 16h8m-4-16h8m-6 3h8m-8 14h8m-8-17h8m-2 2h8m2 1h8m-7 14h8m-2-6h8m-8-11h8m-7 9h8m-7-7h8m-5 5h8m-7-5h8m-2 10h8m-5 3h8m-6-7h8m-7-5h8m-7 9h8m-5 1h8m-6 1h8m-7 4h8m-5-8h8m-7 4h8m-5-9h8m-7-3h8m-4 7h8m-8-4h8m-7-2h8m-6 10h8m-6-9h8m-7-3h8m-4 8h8m-4 4h8m-7-1h8m-8-7h8m2-4h8m-7 8h8m-8-1h8m-4-7h8m-4 8h8m-2 8h8m-7-15h8m-6-1h8m-5 11h8m-6-9h8m-5 11h8m-6-13h8m-6-1h8m-3 1h8m-7 17h8m-6-11h8m-7 1h8m-5-7h8m-5 0h8m-8 16h8m-4-14h8m-5 3h8m-7 9h8m-7-8h8m-6-8h8m-2 3h8m-3 14h8m-8-18h8m-6 5h8m-7-2h8m-8-4h8m-4 8h8m17-8h8m-8 10h8m-7-17h8m0-2h8m2 23h8m0-21h8m-7-5h8m0-1h8m-6 7h8m1-4h8m0 6h8m-1 7h8m9-15h8m-8 14h8m92-13h8m59 1h8m-496 38h8m10 29h8m10-32h8m32 22h8m-6-19h8m9 0h8m-4-3h8m-5-1h8m0 13h8m-5 3h8m-7-15h8m-6 10h8m-3-11h8m10 0h8m-5-1h8m-3 11h8m-5-1h8m-3 13h8m-7-20h8m-3-4h8m-2 19h8m4-19h8m-2 0h8m-5 5h8m-2-4h8m-8 17h8m182-11h8m-197 48h8m-5-7h8m183 2h8" stroke="#333" stroke-width="8" opacity="0.55"/><path transform="translate(138.50 676.50) scale(.1)" d="M328 538l-20 2l-146-1l-14-2l-16-5l-12-8l-12-11l-10-13l-6-12l-4-16l-1-14l2-16l5-14l13-20l15-14l20-10l23-3l155 0l60 14l55 3l17 8l17 14l7 10l5 12l2 23l-2 13l-5 12l-7 10l-9 9l-12 8l-16 5l-52 3z" fill="#d6d6d6" fill-rule="evenodd" stroke="#8a8a8a" stroke-width="3.5"/><path transform="translate(138.50 676.50) scale(.1)" d="M320 523l-155 0l-23-5l-20-13l-13-20l-4-13l-2-12l2-12l4-13l7-13l12-11l12-8l15-5l153-2l24 4l50 14l50 4l16 8l9 12l6 14l0 18l-7 15l-14 12l-17 6l-47 4z" fill="#c6c6c6" fill-rule="evenodd"/><path transform="translate(138.50 676.50) scale(.1)" d="M325 505l-17 2l-143-1l-13-2l-14-8l-12-14l-5-17l1-17l6-13l7-9l10-7l13-4l150-2l14 1l16 5l50 21l37 5l9 7l2 6l-1 7l-7 9l-43 6l-37 18z" fill="#b6b6b6" fill-rule="evenodd"/><path transform="translate(138.50 676.50) scale(.1)" d="M308 490l-76-3l-70 1l-12-5l-8-7l-4-11l0-10l2-7l6-8l7-5l9-3l66 1l87-2l15 5l12 8l7 8l2 10l-5 10l-9 8l-15 7z" fill="#a8a8a8" fill-rule="evenodd"/><path transform="translate(138.50 676.50) scale(.1)" d="M180 478l-15-1l-11-7l-3-5l-1-7l2-6l6-6l10-4l14 1l13 5l9 7l2 5l-4 8l-10 6zM302 478l-22 0l-18-3l-14-7l-5-6l0-4l9-8l18-7l20-1l20 2l12 8l3 10l-8 10z" fill="#8e8e8e" fill-rule="evenodd"/><path transform="translate(138.50 676.50) scale(.1)" d="M178 470l-10 0l-7-5l-1-7l4-6l6-2l8 0l10 5l2 5l-2 5zM295 470l-13 1l-10-2l-7-6l0-5l5-6l10-3l12 0l10 3l6 6l0 4l-5 6z" fill="#d8d8d8" fill-rule="evenodd"/><path transform="translate(138.50 676.50) scale(.1)" d="M175 465l-8-3l0-4l3-2l7-1l4 3l0 4zM290 466l-12-2l-4-4l1-2l7-4l10 1l5 5l-1 2z" fill="#fafafa" fill-rule="evenodd"/><path transform="translate(138.50 676.50) scale(.1)" d="M458 286l-10 1l-8-3l-8-6l-7-11l-8-22l-12-47l-27-46l-5-14l-2-16l1-14l4-16l8-14l8-12l13-11l13-7l14-5l16-2l14 1l16 4l14 8l12 8l11 13l7 13l5 14l2 16l-1 14l-4 16l-6 12l-23 38l-17 62l-10 18z" fill="#eeeeee" fill-rule="evenodd" stroke="#8c8c8c" stroke-width="3.0"/><path transform="translate(138.50 676.50) scale(.1)" d="M452 248l-4 0l-6-3l-8-13l-14-50l-19-40l-4-20l1-12l3-10l11-17l18-12l20-4l20 4l17 11l12 18l4 20l-3 20l-20 42l-13 48l-7 12z" fill="#e2e2e2" fill-rule="evenodd" stroke="#8c8c8c" stroke-width="3.0"/><path transform="translate(138.50 676.50) scale(.1)" d="M450 210l-5-3l-4-7l-9-28l-15-32l-3-18l2-14l8-13l11-8l15-3l15 3l11 8l8 13l2 14l-3 18l-15 32l-9 28l-4 7z" fill="#e6e6e6" fill-rule="evenodd" stroke="#909090" stroke-width="3.0"/><path transform="translate(138.50 676.50) scale(.1)" d="M452 160l-4 0l-8-7l-7-13l-3-12l1-10l4-9l7-5l8-2l8 2l7 5l4 9l1 7l-5 20l-7 11z" fill="#f6f6f6" fill-rule="evenodd" stroke="#9a9a9a" stroke-width="3.0"/><ellipse transform="translate(180.5 722.0) rotate(0)" rx="2.4" ry="1.5" fill="#fafafa" stroke="#999" stroke-width="0.35"/></g><rect x="138.50" y="676.50" width="64.80" height="64.30" fill="none" stroke="#adadad" stroke-width="0.9"/><path d="M138.50 682.93h-1.2M138.50 697.08h-1.2M138.50 711.87h-1.2M138.50 726.65h-1.2M138.50 739.84h-1.2M141.74 740.80v1.2M156.00 740.80v1.2M170.90 740.80v1.2M185.16 740.80v1.2M198.12 740.80v1.2" stroke="#666" stroke-width="0.6"/><rect x="151.46" y="740.70" width="2.6" height="1.3" fill="#111"/><rect x="137.30" y="724.71" width="1.4" height="2.6" fill="#111"/><rect x="171.40" y="679.10" width="23.4" height="29.8" fill="none" stroke="#6f84e6" stroke-width="0.9"/><text transform="translate(146.02 686.43) scale(1.0726 1)" font-size="7.18" fill="#111" stroke="#111" stroke-width="0.15">12.6</text><text transform="translate(93.12 531.72) scale(1.1925 1)" font-size="8.17" fill="#000" stroke="#000" stroke-width="0.08">D0</text><text transform="translate(162.77 531.42) scale(1.0984 1)" font-size="8.31" fill="#000" stroke="#000" stroke-width="0.08">D10</text><text transform="translate(207.30 574.60) scale(1.0191 1)" font-size="8.12" fill="#000" stroke="#000" stroke-width="0.08">AA</text><text transform="translate(207.50 645.12) scale(1.0360 1)" font-size="7.89" fill="#000" stroke="#000" stroke-width="0.08">AS</text><text transform="translate(207.17 716.02) scale(0.9202 1)" font-size="7.89" fill="#000" stroke="#000" stroke-width="0.08">SS</text><path d="M60.60 703.30 V748.70 H105.00" fill="none" stroke="#000" stroke-width="1.30"/><path d="M60.60 696.30 l3.70 8.00 h-7.40 z" fill="#000"/><path d="M112.00 748.70 l-8.00 -3.70 v7.40 z" fill="#000"/><text transform="translate(54.71 739.15) rotate(-90) scale(1.0477 1)" font-size="9.00" fill="#000" stroke="#000" stroke-width="0.22"><tspan>IFN</tspan><tspan>γ</tspan></text><text transform="translate(62.97 761.80) scale(1.0505 1)" font-size="10.00" fill="#000" stroke="#000" stroke-width="0.22">CD44</text><path d="M335.60 171.40V168.00H350.20V171.40" fill="none" stroke="#c0183f" stroke-width="1.3"/><path d="M352.20 171.40V168.20H366.80V171.40" fill="none" stroke="#3c5ea8" stroke-width="1.3"/><path d="M368.90 171.40V163.60H383.50V171.40" fill="none" stroke="#6cb446" stroke-width="1.3"/><path d="M395.10 171.40V153.30H409.70V171.40" fill="none" stroke="#c0183f" stroke-width="1.3"/><path d="M411.70 171.40V149.00H426.30V171.40" fill="none" stroke="#3c5ea8" stroke-width="1.3"/><path d="M428.30 171.40V148.30H442.90V171.40" fill="none" stroke="#6cb446" stroke-width="1.3"/><path d="M454.70 171.40V92.30H469.30V171.40" fill="none" stroke="#c0183f" stroke-width="1.3"/><path d="M471.20 171.40V90.50H485.80V171.40" fill="none" stroke="#3c5ea8" stroke-width="1.3"/><path d="M487.70 171.40V94.20H502.30V171.40" fill="none" stroke="#6cb446" stroke-width="1.3"/><circle cx="337.7" cy="164.4" r="2.4" fill="#b0063a"/><circle cx="342.1" cy="170.2" r="2.4" fill="#b0063a"/><circle cx="347.3" cy="167.9" r="2.4" fill="#b0063a"/><circle cx="354.2" cy="167.3" r="2.3" fill="none" stroke="#2e5597" stroke-width="1.1"/><circle cx="363.4" cy="167.3" r="2.3" fill="none" stroke="#2e5597" stroke-width="1.1"/><circle cx="359.4" cy="169.0" r="2.3" fill="none" stroke="#2e5597" stroke-width="1.1"/><path d="M379.8 157.0l2.5 2.5l-2.5 2.5l-2.5 -2.5z" fill="#5aa832"/><path d="M371.8 164.6l2.5 2.5l-2.5 2.5l-2.5 -2.5z" fill="#5aa832"/><circle cx="398.7" cy="149.4" r="2.4" fill="#b0063a"/><circle cx="405.6" cy="150.1" r="2.4" fill="#b0063a"/><circle cx="402.1" cy="160.2" r="2.4" fill="#b0063a"/><circle cx="418.8" cy="139.1" r="2.3" fill="none" stroke="#2e5597" stroke-width="1.1"/><circle cx="422.5" cy="149.8" r="2.3" fill="none" stroke="#2e5597" stroke-width="1.1"/><circle cx="415.6" cy="156.1" r="2.3" fill="none" stroke="#2e5597" stroke-width="1.1"/><path d="M431.8 140.4l2.5 2.5l-2.5 2.5l-2.5 -2.5z" fill="#5aa832"/><path d="M433.3 147.9l2.5 2.5l-2.5 2.5l-2.5 -2.5z" fill="#5aa832"/><path d="M438.4 148.1l2.5 2.5l-2.5 2.5l-2.5 -2.5z" fill="#5aa832"/><circle cx="458.4" cy="69.8" r="2.4" fill="#b0063a"/><circle cx="465.2" cy="74.5" r="2.4" fill="#b0063a"/><circle cx="461.5" cy="84.9" r="2.4" fill="#b0063a"/><circle cx="461.5" cy="100.7" r="2.4" fill="#b0063a"/><circle cx="458.2" cy="111.3" r="2.4" fill="#b0063a"/><circle cx="464.9" cy="110.5" r="2.4" fill="#b0063a"/><circle cx="478.2" cy="56.3" r="2.3" fill="none" stroke="#2e5597" stroke-width="1.1"/><circle cx="475.0" cy="76.0" r="2.3" fill="none" stroke="#2e5597" stroke-width="1.1"/><circle cx="481.7" cy="77.6" r="2.3" fill="none" stroke="#2e5597" stroke-width="1.1"/><circle cx="473.9" cy="108.5" r="2.3" fill="none" stroke="#2e5597" stroke-width="1.1"/><circle cx="478.6" cy="113.3" r="2.3" fill="none" stroke="#2e5597" stroke-width="1.1"/><circle cx="482.8" cy="110.9" r="2.3" fill="none" stroke="#2e5597" stroke-width="1.1"/><path d="M491.2 93.6l2.5 2.5l-2.5 2.5l-2.5 -2.5z" fill="#5aa832"/><path d="M498.7 88.7l2.5 2.5l-2.5 2.5l-2.5 -2.5z" fill="#5aa832"/><path d="M342.90 166.10V170.00M339.90 166.10h6.00M339.90 170.00h6.00" fill="none" stroke="#111" stroke-width="1.3"/><path d="M359.50 166.60V169.60M356.50 166.60h6.00M356.50 169.60h6.00" fill="none" stroke="#111" stroke-width="1.3"/><path d="M376.20 159.50V166.10M373.20 159.50h6.00M373.20 166.10h6.00" fill="none" stroke="#111" stroke-width="1.3"/><path d="M402.40 149.80V156.70M399.40 149.80h6.00M399.40 156.70h6.00" fill="none" stroke="#111" stroke-width="1.3"/><path d="M419.00 143.40V153.60M416.00 143.40h6.00M416.00 153.60h6.00" fill="none" stroke="#111" stroke-width="1.3"/><path d="M435.60 145.80V150.40M432.60 145.80h6.00M432.60 150.40h6.00" fill="none" stroke="#111" stroke-width="1.3"/><path d="M462.00 84.90V99.30M459.00 84.90h6.00M459.00 99.30h6.00" fill="none" stroke="#111" stroke-width="1.3"/><path d="M478.50 80.70V100.40M475.50 80.70h6.00M475.50 100.40h6.00" fill="none" stroke="#111" stroke-width="1.3"/><path d="M495.00 91.20V96.10M492.00 91.20h6.00M492.00 96.10h6.00" fill="none" stroke="#111" stroke-width="1.3"/><path d="M327.30 46.60V171.40H509.50" fill="none" stroke="#000" stroke-width="1.30"/><text transform="translate(315.32 174.70) scale(0.8600 1)" font-size="9.58" fill="#111" stroke="#111" stroke-width="0.22">0</text><text transform="translate(310.75 134.44) scale(0.8600 1)" font-size="9.58" fill="#111" stroke="#111" stroke-width="0.22">20</text><text transform="translate(310.75 94.18) scale(0.8600 1)" font-size="9.58" fill="#111" stroke="#111" stroke-width="0.22">40</text><text transform="translate(310.75 53.92) scale(0.8600 1)" font-size="9.58" fill="#111" stroke="#111" stroke-width="0.22">60</text><path d="M323.60 171.40H327.30M323.60 131.14H327.30M323.60 90.88H327.30M323.60 50.62H327.30M342.90 171.40v3.5M359.50 171.40v3.5M376.20 171.40v3.5M402.40 171.40v3.5M419.00 171.40v3.5M435.60 171.40v3.5M462.00 171.40v3.5M478.50 171.40v3.5M495.00 171.40v3.5" stroke="#000" stroke-width="1.1"/><text transform="translate(336.70 186.90) scale(0.9223 1)" font-size="9.13" fill="#111" stroke="#111" stroke-width="0.22">AA</text><text transform="translate(354.20 186.81) scale(0.8946 1)" font-size="8.87" fill="#111" stroke="#111" stroke-width="0.22">AS</text><text transform="translate(370.26 186.81) scale(0.8543 1)" font-size="8.87" fill="#111" stroke="#111" stroke-width="0.22">SS</text><text transform="translate(396.20 186.90) scale(0.9223 1)" font-size="9.13" fill="#111" stroke="#111" stroke-width="0.22">AA</text><text transform="translate(413.70 186.81) scale(0.8946 1)" font-size="8.87" fill="#111" stroke="#111" stroke-width="0.22">AS</text><text transform="translate(429.76 186.81) scale(0.8543 1)" font-size="8.87" fill="#111" stroke="#111" stroke-width="0.22">SS</text><text transform="translate(455.80 186.90) scale(0.9223 1)" font-size="9.13" fill="#111" stroke="#111" stroke-width="0.22">AA</text><text transform="translate(473.30 186.81) scale(0.8946 1)" font-size="8.87" fill="#111" stroke="#111" stroke-width="0.22">AS</text><text transform="translate(489.36 186.81) scale(0.8543 1)" font-size="8.87" fill="#111" stroke="#111" stroke-width="0.22">SS</text><path d="M337.60 191.60V195.40H378.40V191.60" fill="none" stroke="#111" stroke-width="1.2"/><text transform="translate(352.06 207.41) scale(1.0493 1)" font-size="8.87" fill="#111" stroke="#111" stroke-width="0.22">D0</text><path d="M398.20 191.60V195.40H438.30V191.60" fill="none" stroke="#111" stroke-width="1.2"/><text transform="translate(412.09 207.41) scale(0.9812 1)" font-size="9.00" fill="#111" stroke="#111" stroke-width="0.22">D5</text><path d="M459.80 191.60V195.40H499.60V191.60" fill="none" stroke="#111" stroke-width="1.2"/><text transform="translate(470.77 207.41) scale(1.0221 1)" font-size="8.87" fill="#111" stroke="#111" stroke-width="0.22">D10</text><path d="M401.20 130.20H435.00M401.20 128.10v4.2M435.00 128.10v4.2" fill="none" stroke="#222" stroke-width="1.1"/><text transform="translate(413.65 126.62) scale(1.0141 1)" font-size="8.36" fill="#222" stroke="#222" stroke-width="0.22">ns</text><path d="M398.60 60.30H458.60M398.60 58.20v4.2M458.60 58.20v4.2" fill="none" stroke="#222" stroke-width="1.1"/><text transform="translate(423.15 60.51) scale(1.0650 1)" font-size="9.14" fill="#222" stroke="#222" stroke-width="0.22">***</text><path d="M457.60 46.20H491.00M457.60 44.10v4.2M491.00 44.10v4.2" fill="none" stroke="#222" stroke-width="1.1"/><text transform="translate(470.29 42.42) scale(0.9390 1)" font-size="8.36" fill="#222" stroke="#222" stroke-width="0.22">ns</text><text transform="translate(302.23 177.69) rotate(-90) scale(0.9501 1)" font-size="10.35" fill="#111" stroke="#111" stroke-width="0.22"><tspan>CXCR5</tspan><tspan font-size="7.45" dy="-3.93">+</tspan><tspan dy="3.93">PD1</tspan><tspan font-size="7.45" dy="-3.93">+</tspan><tspan dy="3.93"> cells (% of CD4</tspan><tspan font-size="7.45" dy="-3.93">+</tspan><tspan dy="3.93">)</tspan></text><path d="M338.70 423.90V416.30H360.70V423.90" fill="none" stroke="#c0183f" stroke-width="1.3"/><path d="M363.30 423.90V412.00H385.30V423.90" fill="none" stroke="#3c5ea8" stroke-width="1.3"/><path d="M387.75 423.90V410.30H409.75V423.90" fill="none" stroke="#6cb446" stroke-width="1.3"/><path d="M427.55 423.90V343.30H449.55V423.90" fill="none" stroke="#c0183f" stroke-width="1.3"/><path d="M452.45 423.90V351.40H474.45V423.90" fill="none" stroke="#3c5ea8" stroke-width="1.3"/><path d="M476.85 423.90V356.20H498.85V423.90" fill="none" stroke="#6cb446" stroke-width="1.3"/><circle cx="345.9" cy="416.3" r="2.4" fill="#b0063a"/><circle cx="352.8" cy="415.1" r="2.4" fill="#b0063a"/><circle cx="365.5" cy="412.5" r="2.3" fill="none" stroke="#2e5597" stroke-width="1.1"/><circle cx="371.5" cy="412.5" r="2.3" fill="none" stroke="#2e5597" stroke-width="1.1"/><circle cx="376.7" cy="412.5" r="2.3" fill="none" stroke="#2e5597" stroke-width="1.1"/><circle cx="382.8" cy="412.5" r="2.3" fill="none" stroke="#2e5597" stroke-width="1.1"/><circle cx="374.6" cy="422.0" r="2.3" fill="none" stroke="#2e5597" stroke-width="1.1"/><path d="M391.4 398.8l2.5 2.5l-2.5 2.5l-2.5 -2.5z" fill="#5aa832"/><path d="M406.1 397.9l2.5 2.5l-2.5 2.5l-2.5 -2.5z" fill="#5aa832"/><path d="M398.9 405.7l2.5 2.5l-2.5 2.5l-2.5 -2.5z" fill="#5aa832"/><path d="M403.0 414.7l2.5 2.5l-2.5 2.5l-2.5 -2.5z" fill="#5aa832"/><path d="M394.9 419.0l2.5 2.5l-2.5 2.5l-2.5 -2.5z" fill="#5aa832"/><circle cx="438.2" cy="320.8" r="2.4" fill="#b0063a"/><circle cx="438.2" cy="329.4" r="2.4" fill="#b0063a"/><circle cx="434.7" cy="343.6" r="2.4" fill="#b0063a"/><circle cx="441.6" cy="343.6" r="2.4" fill="#b0063a"/><circle cx="441.6" cy="357.1" r="2.4" fill="#b0063a"/><circle cx="434.7" cy="363.1" r="2.4" fill="#b0063a"/><circle cx="462.9" cy="330.8" r="2.3" fill="none" stroke="#2e5597" stroke-width="1.1"/><circle cx="459.4" cy="341.9" r="2.3" fill="none" stroke="#2e5597" stroke-width="1.1"/><circle cx="466.4" cy="347.6" r="2.3" fill="none" stroke="#2e5597" stroke-width="1.1"/><circle cx="456.0" cy="358.8" r="2.3" fill="none" stroke="#2e5597" stroke-width="1.1"/><circle cx="470.2" cy="362.3" r="2.3" fill="none" stroke="#2e5597" stroke-width="1.1"/><circle cx="463.3" cy="365.4" r="2.3" fill="none" stroke="#2e5597" stroke-width="1.1"/><path d="M487.5 338.2l2.5 2.5l-2.5 2.5l-2.5 -2.5z" fill="#5aa832"/><path d="M492.3 341.6l2.5 2.5l-2.5 2.5l-2.5 -2.5z" fill="#5aa832"/><path d="M483.7 347.3l2.5 2.5l-2.5 2.5l-2.5 -2.5z" fill="#5aa832"/><path d="M487.5 358.4l2.5 2.5l-2.5 2.5l-2.5 -2.5z" fill="#5aa832"/><path d="M483.7 368.4l2.5 2.5l-2.5 2.5l-2.5 -2.5z" fill="#5aa832"/><path d="M491.8 365.8l2.5 2.5l-2.5 2.5l-2.5 -2.5z" fill="#5aa832"/><path d="M349.70 415.50V417.30M344.20 415.50h11.00M344.20 417.30h11.00" fill="none" stroke="#111" stroke-width="1.3"/><path d="M374.30 411.00V414.00M368.80 411.00h11.00M368.80 414.00h11.00" fill="none" stroke="#111" stroke-width="1.3"/><path d="M398.75 405.60V413.70M393.25 405.60h11.00M393.25 413.70h11.00" fill="none" stroke="#111" stroke-width="1.3"/><path d="M438.55 336.70V349.70M433.05 336.70h11.00M433.05 349.70h11.00" fill="none" stroke="#111" stroke-width="1.3"/><path d="M463.45 345.30V356.20M457.95 345.30h11.00M457.95 356.20h11.00" fill="none" stroke="#111" stroke-width="1.3"/><path d="M487.85 350.50V360.90M482.35 350.50h11.00M482.35 360.90h11.00" fill="none" stroke="#111" stroke-width="1.3"/><path d="M327.30 299.10V423.90H509.50" fill="none" stroke="#000" stroke-width="1.30"/><text transform="translate(316.82 427.20) scale(0.8600 1)" font-size="9.58" fill="#111" stroke="#111" stroke-width="0.22">0</text><text transform="translate(316.80 396.95) scale(0.8600 1)" font-size="9.71" fill="#111" stroke="#111" stroke-width="0.22">5</text><text transform="translate(312.25 366.70) scale(0.8600 1)" font-size="9.58" fill="#111" stroke="#111" stroke-width="0.22">10</text><text transform="translate(312.16 336.45) scale(0.8600 1)" font-size="9.71" fill="#111" stroke="#111" stroke-width="0.22">15</text><text transform="translate(312.25 306.20) scale(0.8600 1)" font-size="9.58" fill="#111" stroke="#111" stroke-width="0.22">20</text><path d="M323.60 423.90H327.30M323.60 393.65H327.30M323.60 363.40H327.30M323.60 333.15H327.30M323.60 302.90H327.30M349.70 423.90v3.5M374.30 423.90v3.5M398.75 423.90v3.5M438.55 423.90v3.5M463.45 423.90v3.5M487.85 423.90v3.5" stroke="#000" stroke-width="1.1"/><text transform="translate(344.10 439.40) scale(0.9223 1)" font-size="9.13" fill="#111" stroke="#111" stroke-width="0.22">AA</text><text transform="translate(369.35 439.31) scale(0.8946 1)" font-size="8.87" fill="#111" stroke="#111" stroke-width="0.22">AS</text><text transform="translate(394.01 439.31) scale(0.8543 1)" font-size="8.87" fill="#111" stroke="#111" stroke-width="0.22">SS</text><text transform="translate(433.00 439.40) scale(0.9223 1)" font-size="9.13" fill="#111" stroke="#111" stroke-width="0.22">AA</text><text transform="translate(458.00 439.31) scale(0.8946 1)" font-size="8.87" fill="#111" stroke="#111" stroke-width="0.22">AS</text><text transform="translate(482.41 439.31) scale(0.8543 1)" font-size="8.87" fill="#111" stroke="#111" stroke-width="0.22">SS</text><path d="M349.20 443.70V447.50H404.60V443.70" fill="none" stroke="#111" stroke-width="1.2"/><text transform="translate(371.51 459.51) scale(1.0493 1)" font-size="8.87" fill="#111" stroke="#111" stroke-width="0.22">D0</text><path d="M439.00 443.70V447.50H494.00V443.70" fill="none" stroke="#111" stroke-width="1.2"/><text transform="translate(457.67 459.51) scale(1.0221 1)" font-size="8.87" fill="#111" stroke="#111" stroke-width="0.22">D10</text><path d="M438.70 312.10H481.40M438.70 310.00v4.2M481.40 310.00v4.2" fill="none" stroke="#222" stroke-width="1.1"/><text transform="translate(455.77 308.61) scale(0.8639 1)" font-size="9.45" fill="#222" stroke="#222" stroke-width="0.22">ns</text><text transform="translate(302.23 429.81) rotate(-90) scale(0.9924 1)" font-size="10.35" fill="#111" stroke="#111" stroke-width="0.22"><tspan>CD44</tspan><tspan font-size="7.45" dy="-3.93">+</tspan><tspan dy="3.93">IL21</tspan><tspan font-size="7.45" dy="-3.93">+</tspan><tspan dy="3.93"> cells (% of CD4</tspan><tspan font-size="7.45" dy="-3.93">+</tspan><tspan dy="3.93">)</tspan></text><path d="M338.70 685.40V674.20H360.70V685.40" fill="none" stroke="#c0183f" stroke-width="1.3"/><path d="M363.30 685.40V672.80H385.30V685.40" fill="none" stroke="#3c5ea8" stroke-width="1.3"/><path d="M387.75 685.40V657.50H409.75V685.40" fill="none" stroke="#6cb446" stroke-width="1.3"/><path d="M427.55 685.40V626.30H449.55V685.40" fill="none" stroke="#c0183f" stroke-width="1.3"/><path d="M452.45 685.40V621.90H474.45V685.40" fill="none" stroke="#3c5ea8" stroke-width="1.3"/><path d="M476.85 685.40V624.40H498.85V685.40" fill="none" stroke="#6cb446" stroke-width="1.3"/><circle cx="343.0" cy="671.9" r="2.4" fill="#b0063a"/><circle cx="349.9" cy="676.6" r="2.4" fill="#b0063a"/><circle cx="356.3" cy="672.4" r="2.4" fill="#b0063a"/><circle cx="367.2" cy="669.8" r="2.3" fill="none" stroke="#2e5597" stroke-width="1.1"/><circle cx="374.5" cy="670.2" r="2.3" fill="none" stroke="#2e5597" stroke-width="1.1"/><circle cx="381.4" cy="665.8" r="2.3" fill="none" stroke="#2e5597" stroke-width="1.1"/><circle cx="378.1" cy="675.7" r="2.3" fill="none" stroke="#2e5597" stroke-width="1.1"/><circle cx="371.0" cy="680.2" r="2.3" fill="none" stroke="#2e5597" stroke-width="1.1"/><path d="M399.2 629.1l2.5 2.5l-2.5 2.5l-2.5 -2.5z" fill="#5aa832"/><path d="M399.2 639.6l2.5 2.5l-2.5 2.5l-2.5 -2.5z" fill="#5aa832"/><path d="M391.9 665.9l2.5 2.5l-2.5 2.5l-2.5 -2.5z" fill="#5aa832"/><path d="M399.2 671.5l2.5 2.5l-2.5 2.5l-2.5 -2.5z" fill="#5aa832"/><path d="M406.1 671.1l2.5 2.5l-2.5 2.5l-2.5 -2.5z" fill="#5aa832"/><circle cx="438.2" cy="615.4" r="2.4" fill="#b0063a"/><circle cx="431.2" cy="623.1" r="2.4" fill="#b0063a"/><circle cx="445.6" cy="620.6" r="2.4" fill="#b0063a"/><circle cx="438.2" cy="625.4" r="2.4" fill="#b0063a"/><circle cx="441.6" cy="633.5" r="2.4" fill="#b0063a"/><circle cx="434.7" cy="639.9" r="2.4" fill="#b0063a"/><circle cx="463.3" cy="582.1" r="2.3" fill="none" stroke="#2e5597" stroke-width="1.1"/><circle cx="463.3" cy="601.2" r="2.3" fill="none" stroke="#2e5597" stroke-width="1.1"/><circle cx="463.3" cy="624.9" r="2.3" fill="none" stroke="#2e5597" stroke-width="1.1"/><circle cx="459.8" cy="635.3" r="2.3" fill="none" stroke="#2e5597" stroke-width="1.1"/><circle cx="466.7" cy="638.7" r="2.3" fill="none" stroke="#2e5597" stroke-width="1.1"/><circle cx="463.3" cy="648.2" r="2.3" fill="none" stroke="#2e5597" stroke-width="1.1"/><path d="M487.5 599.0l2.5 2.5l-2.5 2.5l-2.5 -2.5z" fill="#5aa832"/><path d="M479.2 621.2l2.5 2.5l-2.5 2.5l-2.5 -2.5z" fill="#5aa832"/><path d="M484.9 622.9l2.5 2.5l-2.5 2.5l-2.5 -2.5z" fill="#5aa832"/><path d="M496.1 621.5l2.5 2.5l-2.5 2.5l-2.5 -2.5z" fill="#5aa832"/><path d="M490.6 626.7l2.5 2.5l-2.5 2.5l-2.5 -2.5z" fill="#5aa832"/><path d="M487.5 637.4l2.5 2.5l-2.5 2.5l-2.5 -2.5z" fill="#5aa832"/><path d="M349.70 672.20V675.00M344.20 672.20h11.00M344.20 675.00h11.00" fill="none" stroke="#111" stroke-width="1.3"/><path d="M374.30 670.70V674.20M368.80 670.70h11.00M368.80 674.20h11.00" fill="none" stroke="#111" stroke-width="1.3"/><path d="M398.75 648.20V666.40M393.25 648.20h11.00M393.25 666.40h11.00" fill="none" stroke="#111" stroke-width="1.3"/><path d="M438.55 622.60V630.10M433.05 622.60h11.00M433.05 630.10h11.00" fill="none" stroke="#111" stroke-width="1.3"/><path d="M463.45 611.60V631.50M457.95 611.60h11.00M457.95 631.50h11.00" fill="none" stroke="#111" stroke-width="1.3"/><path d="M487.85 618.80V628.90M482.35 618.80h11.00M482.35 628.90h11.00" fill="none" stroke="#111" stroke-width="1.3"/><path d="M327.30 560.70V685.40H509.50" fill="none" stroke="#000" stroke-width="1.30"/><text transform="translate(316.82 688.70) scale(0.8600 1)" font-size="9.58" fill="#111" stroke="#111" stroke-width="0.22">0</text><text transform="translate(316.80 664.05) scale(0.8600 1)" font-size="9.71" fill="#111" stroke="#111" stroke-width="0.22">5</text><text transform="translate(312.25 639.40) scale(0.8600 1)" font-size="9.58" fill="#111" stroke="#111" stroke-width="0.22">10</text><text transform="translate(312.16 614.75) scale(0.8600 1)" font-size="9.71" fill="#111" stroke="#111" stroke-width="0.22">15</text><text transform="translate(312.25 590.10) scale(0.8600 1)" font-size="9.58" fill="#111" stroke="#111" stroke-width="0.22">20</text><text transform="translate(312.29 565.45) scale(0.8600 1)" font-size="9.58" fill="#111" stroke="#111" stroke-width="0.22">25</text><path d="M323.60 685.40H327.30M323.60 660.75H327.30M323.60 636.10H327.30M323.60 611.45H327.30M323.60 586.80H327.30M323.60 562.15H327.30M349.70 685.40v3.5M374.30 685.40v3.5M398.75 685.40v3.5M438.55 685.40v3.5M463.45 685.40v3.5M487.85 685.40v3.5" stroke="#000" stroke-width="1.1"/><text transform="translate(344.10 700.70) scale(0.9223 1)" font-size="9.13" fill="#111" stroke="#111" stroke-width="0.22">AA</text><text transform="translate(369.35 700.61) scale(0.8946 1)" font-size="8.87" fill="#111" stroke="#111" stroke-width="0.22">AS</text><text transform="translate(394.01 700.61) scale(0.8543 1)" font-size="8.87" fill="#111" stroke="#111" stroke-width="0.22">SS</text><text transform="translate(433.00 700.70) scale(0.9223 1)" font-size="9.13" fill="#111" stroke="#111" stroke-width="0.22">AA</text><text transform="translate(458.00 700.61) scale(0.8946 1)" font-size="8.87" fill="#111" stroke="#111" stroke-width="0.22">AS</text><text transform="translate(482.41 700.61) scale(0.8543 1)" font-size="8.87" fill="#111" stroke="#111" stroke-width="0.22">SS</text><path d="M349.20 704.80V708.60H404.60V704.80" fill="none" stroke="#111" stroke-width="1.2"/><text transform="translate(371.51 720.61) scale(1.0493 1)" font-size="8.87" fill="#111" stroke="#111" stroke-width="0.22">D0</text><path d="M439.00 704.80V708.60H494.00V704.80" fill="none" stroke="#111" stroke-width="1.2"/><text transform="translate(457.67 720.61) scale(1.0221 1)" font-size="8.87" fill="#111" stroke="#111" stroke-width="0.22">D10</text><path d="M444.20 572.10H486.10M444.20 570.00v4.2M486.10 570.00v4.2" fill="none" stroke="#222" stroke-width="1.1"/><text transform="translate(460.97 568.22) scale(0.9983 1)" font-size="8.18" fill="#222" stroke="#222" stroke-width="0.22">ns</text><text transform="translate(302.54 691.21) rotate(-90) scale(0.9473 1)" font-size="10.75" fill="#111" stroke="#111" stroke-width="0.22"><tspan>CD44</tspan><tspan font-size="7.74" dy="-4.08">+</tspan><tspan dy="4.08">IFNγ</tspan><tspan font-size="7.74" dy="-4.08">+</tspan><tspan dy="4.08"> cells (% of CD4</tspan><tspan font-size="7.74" dy="-4.08">+</tspan><tspan dy="4.08">)</tspan></text><path d="M1 0.5H519.2V770.2H1Z" fill="none" stroke="#000" stroke-width="1.5"/><rect x="0" y="0" width="2" height="771" fill="#4a4a4a"/></svg></body></html>
